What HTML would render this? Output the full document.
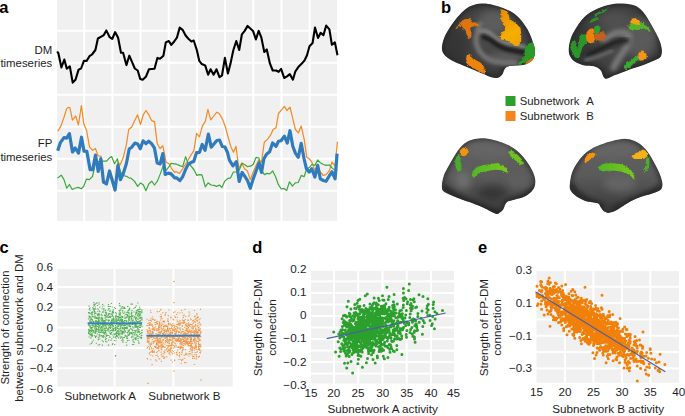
<!DOCTYPE html>
<html><head><meta charset="utf-8"><style>
html,body{margin:0;padding:0;background:#fff;width:685px;height:416px;overflow:hidden}
svg{display:block}
</style></head><body>
<svg width="685" height="416" viewBox="0 0 685 416">
<rect x="57" y="0" width="280" height="221" fill="#f0f0f0"/>
<rect x="83.20" y="0" width="2" height="221" fill="#ffffff"/>
<rect x="111.38" y="0" width="2" height="221" fill="#ffffff"/>
<rect x="139.56" y="0" width="2" height="221" fill="#ffffff"/>
<rect x="167.74" y="0" width="2" height="221" fill="#ffffff"/>
<rect x="195.92" y="0" width="2" height="221" fill="#ffffff"/>
<rect x="224.10" y="0" width="2" height="221" fill="#ffffff"/>
<rect x="252.28" y="0" width="2" height="221" fill="#ffffff"/>
<rect x="280.46" y="0" width="2" height="221" fill="#ffffff"/>
<rect x="308.64" y="0" width="2" height="221" fill="#ffffff"/>
<rect x="57" y="29.70" width="280" height="2" fill="#ffffff"/>
<rect x="57" y="61.70" width="280" height="2" fill="#ffffff"/>
<rect x="57" y="93.70" width="280" height="2" fill="#ffffff"/>
<rect x="57" y="125.70" width="280" height="2" fill="#ffffff"/>
<rect x="57" y="157.70" width="280" height="2" fill="#ffffff"/>
<rect x="57" y="189.70" width="280" height="2" fill="#ffffff"/>
<polyline points="57.5,131.0 58.4,130.5 61.0,125.6 64.0,117.2 66.7,108.6 68.2,107.4 70.0,107.9 72.4,120.2 75.7,116.0 78.4,125.0 81.4,105.5 83.8,123.8 86.6,130.5 89.5,146.9 92.6,150.3 95.5,148.6 98.2,156.0 101.0,156.1 103.5,180.0 106.4,182.0 109.4,172.0 112.4,178.0 115.2,186.0 117.8,162.0 120.2,164.8 123.4,157.0 126.3,145.2 128.7,129.5 131.7,127.0 134.8,120.3 137.6,114.9 140.5,124.5 143.2,114.9 146.0,110.5 148.9,114.9 151.6,120.6 154.5,121.6 157.3,143.8 160.0,148.5 162.9,145.8 166.1,162.3 169.0,163.8 171.8,168.8 174.7,172.4 176.0,171.4 179.4,173.4 182.7,168.8 185.6,164.0 188.0,160.2 190.9,155.1 193.8,150.8 196.6,133.4 199.5,136.8 202.3,126.1 205.4,121.1 207.9,109.3 210.7,119.9 213.8,116.0 216.8,112.2 219.2,113.5 222.6,119.4 225.4,127.0 228.1,137.1 231.0,147.2 233.5,152.2 236.0,146.3 238.8,168.8 241.7,163.0 244.5,168.8 247.4,171.0 250.3,179.6 252.8,173.1 255.8,166.0 258.7,160.0 261.5,162.0 264.3,142.2 267.6,139.1 270.4,135.4 273.1,129.5 276.0,127.8 278.5,113.5 281.5,109.8 284.4,106.4 286.9,110.5 290.0,107.1 292.8,118.6 295.4,129.5 298.4,132.9 301.2,126.1 304.1,138.8 306.8,157.3 309.3,159.0 311.8,162.0 314.9,170.4 317.7,166.0 320.3,172.0 323.3,175.5 326.1,174.6 329.5,170.4 332.0,162.0 335.1,166.2 337.4,141.8" fill="none" stroke="#f5891f" stroke-width="1.2" stroke-linejoin="round"/>
<polyline points="57.5,178.0 58.6,177.3 61.3,175.1 64.0,179.6 66.7,188.1 69.4,184.5 72.2,189.5 75.5,188.0 78.5,187.4 81.2,188.7 83.6,186.5 86.4,179.2 89.3,179.7 92.5,176.5 95.2,164.0 98.4,161.5 101.0,161.5 103.6,161.2 106.6,161.2 109.5,157.8 111.7,156.6 114.5,163.7 117.4,158.7 120.4,172.0 123.6,175.5 126.3,176.3 129.0,177.8 131.0,178.2 134.4,181.1 137.7,186.4 140.6,182.9 143.4,185.0 145.9,190.7 148.8,184.0 151.7,181.1 154.5,185.0 157.4,181.1 160.3,173.9 163.2,165.9 166.1,170.3 169.0,166.7 171.1,163.3 174.7,163.8 176.5,164.2 179.8,165.6 182.7,166.7 185.6,156.6 188.0,163.0 190.9,165.9 193.8,169.5 196.7,175.3 199.5,174.6 202.0,174.9 205.3,186.8 208.2,182.9 211.1,185.0 213.9,185.4 216.8,186.4 219.5,185.0 221.9,187.6 224.8,181.1 227.7,178.6 230.6,177.8 233.4,172.0 236.3,172.0 239.2,170.3 242.1,163.3 245.0,164.8 247.4,166.7 250.3,166.2 253.2,164.5 256.1,157.3 259.0,158.0 261.5,170.0 264.3,174.6 267.2,173.4 269.8,173.9 272.7,171.0 275.6,176.7 278.4,184.7 281.3,189.0 283.8,188.3 286.7,190.4 289.5,181.8 292.4,186.1 295.3,182.9 298.2,182.5 301.3,175.4 304.1,176.7 306.5,169.5 309.8,167.0 311.8,164.5 314.9,165.4 317.7,160.0 320.3,162.8 323.3,164.5 326.1,165.4 329.5,165.0 332.0,167.9 335.1,170.4 337.4,169.6" fill="none" stroke="#3aa83a" stroke-width="1.2" stroke-linejoin="round"/>
<polyline points="57.7,150.8 60.4,142.6 64.0,137.6 66.7,138.1 69.4,133.6 72.5,152.0 75.2,148.0 78.5,153.1 81.5,137.2 84.0,151.1 86.8,151.3 90.1,169.6 92.7,169.6 95.5,155.0 98.2,171.5 100.9,158.7 103.5,182.2 106.5,184.0 109.5,171.0 112.4,181.0 115.1,190.0 117.9,165.5 120.4,179.7 123.3,173.5 126.4,163.5 129.2,149.0 131.7,147.2 134.8,143.1 137.7,144.0 140.3,148.7 143.1,140.8 146.0,143.7 148.7,141.1 151.6,143.7 154.5,148.2 157.2,163.0 160.1,164.0 162.8,153.6 165.2,174.5 168.2,173.1 171.1,173.9 174.7,177.8 176.5,177.8 179.8,180.6 182.7,176.7 185.6,169.5 188.0,164.6 190.9,162.6 193.7,161.5 196.6,152.6 199.5,152.3 202.2,144.4 205.1,150.3 208.4,134.1 211.2,147.2 214.1,143.8 216.8,140.5 219.6,140.0 222.2,146.5 225.0,147.0 227.5,152.5 229.4,160.2 233.0,165.9 236.3,161.6 239.2,181.5 242.1,172.4 245.0,176.7 247.4,180.3 250.3,188.3 253.2,178.9 256.1,171.0 259.0,163.0 261.5,172.4 263.8,159.0 266.5,154.2 269.6,151.8 272.6,143.0 276.0,146.3 278.5,141.3 281.0,140.8 284.4,136.2 287.3,143.0 290.0,130.7 292.8,146.3 295.4,153.1 298.3,157.3 301.2,143.3 304.0,158.5 306.4,168.7 309.3,172.1 311.8,168.7 314.9,177.1 317.7,165.4 320.3,178.8 323.3,180.5 326.1,181.3 329.5,175.5 332.0,171.8 335.1,178.8 337.1,153.6" fill="none" stroke="#2f7bbd" stroke-width="3.2" stroke-linejoin="round"/>
<polyline points="57.2,51.5 58.4,53.3 61.4,67.5 64.3,59.5 66.8,68.8 69.8,66.3 72.7,82.6 75.5,79.7 78.6,69.6 81.1,68.5 83.9,60.9 86.6,60.9 89.5,56.2 92.0,54.5 95.4,50.0 97.9,38.5 100.8,36.8 103.8,35.1 106.3,30.4 109.7,37.2 112.2,39.0 115.1,32.1 118.1,37.7 121.0,52.8 123.1,52.8 126.4,65.1 129.3,55.7 132.1,62.1 134.8,68.5 137.7,70.5 140.2,78.9 142.7,79.7 146.1,76.4 148.9,69.3 151.7,69.0 154.5,68.8 157.4,57.9 160.0,58.7 163.4,55.8 165.8,42.4 168.8,41.0 171.3,44.9 174.2,41.5 176.9,37.7 179.7,27.6 182.6,29.8 185.6,35.5 188.4,38.8 191.4,41.5 193.7,40.5 196.8,50.0 199.3,60.9 201.8,64.1 205.2,65.4 208.1,74.7 210.6,69.3 213.6,74.7 216.5,69.3 219.5,77.2 222.0,75.5 224.9,57.9 227.9,73.5 230.4,64.1 233.3,50.3 236.3,41.0 239.2,50.0 241.9,34.3 244.7,30.9 247.6,25.9 250.6,28.7 253.0,30.9 255.9,39.4 258.7,30.9 261.4,37.7 264.3,52.0 266.8,49.4 269.9,63.4 272.7,70.5 276.1,70.5 278.6,71.8 281.1,68.8 284.2,78.0 287.0,76.4 289.9,74.2 292.9,79.7 295.4,71.3 298.3,67.1 301.3,64.1 304.5,60.5 307.0,55.3 309.5,46.3 312.6,43.0 315.0,27.5 318.0,38.0 320.7,32.8 323.4,35.2 326.2,25.6 329.4,29.4 331.9,44.8 334.9,42.4 337.5,55.3" fill="none" stroke="#000" stroke-width="2.1" stroke-linejoin="round"/>
<text x="52.3" y="54.3" text-anchor="end" style="font-family:'Liberation Sans', sans-serif;font-size:11.4px;fill:#1e1e1e">DM</text>
<text x="52.3" y="67.2" text-anchor="end" style="font-family:'Liberation Sans', sans-serif;font-size:11.4px;fill:#1e1e1e">timeseries</text>
<text x="52.3" y="146.9" text-anchor="end" style="font-family:'Liberation Sans', sans-serif;font-size:11.4px;fill:#1e1e1e">FP</text>
<text x="52.3" y="160.6" text-anchor="end" style="font-family:'Liberation Sans', sans-serif;font-size:11.4px;fill:#1e1e1e">timeseries</text>
<defs>
<filter id="bl2" x="-20%" y="-20%" width="140%" height="140%"><feGaussianBlur stdDeviation="2"/></filter>
<filter id="bl15" x="-20%" y="-20%" width="140%" height="140%"><feGaussianBlur stdDeviation="1.5"/></filter>
<filter id="bl1" x="-20%" y="-20%" width="140%" height="140%"><feGaussianBlur stdDeviation="1.1"/></filter>
<filter id="bl3" x="-30%" y="-30%" width="160%" height="160%"><feGaussianBlur stdDeviation="3.5"/></filter>
<filter id="rough" x="-10%" y="-10%" width="120%" height="120%"><feTurbulence type="fractalNoise" baseFrequency="0.45" numOctaves="2" seed="3" result="n"/><feDisplacementMap in="SourceGraphic" in2="n" scale="3" xChannelSelector="R" yChannelSelector="G" result="d"/><feGaussianBlur in="d" stdDeviation="0.3"/></filter>
<clipPath id="cp1"><path d="M441.9,48.3C441.9,45.7 442.6,42.0 443.9,38.5C445.2,35.0 447.5,31.2 449.8,27.6C452.1,24.0 455.1,19.9 457.7,16.8C460.3,13.7 463.0,10.9 465.6,8.9C468.2,6.9 470.5,5.8 473.5,4.9C476.5,4.0 480.1,3.6 483.4,3.6C486.7,3.6 489.9,4.2 493.2,4.9C496.5,5.6 499.8,6.6 503.1,7.9C506.4,9.2 510.1,10.8 513.0,12.8C516.0,14.8 518.3,16.9 520.8,19.7C523.2,22.5 525.7,26.0 527.7,29.6C529.7,33.2 531.5,38.0 532.7,41.4C533.9,44.8 534.8,47.3 535.0,50.0C535.2,52.7 534.7,55.6 534.0,57.5C533.3,59.4 532.4,60.4 531.0,61.5C529.6,62.6 527.9,63.7 525.4,64.4C522.9,65.1 518.7,65.2 515.8,65.6C512.9,66.0 509.9,65.9 508.0,66.6C506.1,67.2 505.4,68.3 504.5,69.5C503.6,70.7 503.5,72.7 502.6,74.0C501.8,75.3 500.7,76.5 499.4,77.2C498.1,77.9 496.7,78.1 495.0,78.0C493.3,77.9 490.9,77.2 489.0,76.5C487.1,75.8 486.3,75.2 483.4,74.0C480.5,72.8 475.4,70.7 471.5,69.0C467.6,67.3 463.3,65.7 459.7,64.1C456.1,62.5 452.4,60.9 449.8,59.2C447.2,57.6 445.2,56.0 443.9,54.2C442.6,52.4 441.9,50.9 441.9,48.3Z"/></clipPath>
<clipPath id="cp2"><path d="M568.8,48.1C569.0,45.2 569.7,41.7 570.8,38.5C571.9,35.3 573.7,32.0 575.6,28.8C577.5,25.6 579.9,21.9 582.3,19.2C584.7,16.5 587.1,14.4 590.0,12.5C592.9,10.6 596.4,9.0 599.6,7.7C602.8,6.4 605.8,5.5 609.2,4.8C612.6,4.1 616.1,3.6 620.0,3.6C623.9,3.6 629.0,3.9 632.3,4.8C635.6,5.6 637.8,6.9 640.0,8.7C642.2,10.5 643.9,12.7 645.8,15.4C647.7,18.1 649.8,21.9 651.5,25.0C653.2,28.1 654.8,30.8 656.3,33.7C657.8,36.6 659.3,39.6 660.2,42.3C661.1,45.0 661.7,47.8 661.9,50.0C662.1,52.2 661.8,54.3 661.2,55.8C660.6,57.2 660.2,57.6 658.3,58.7C656.4,59.8 652.6,61.2 649.6,62.5C646.6,63.8 643.2,65.2 640.0,66.3C636.8,67.4 633.6,68.1 630.4,69.2C627.2,70.3 623.9,71.9 620.8,73.1C617.7,74.3 614.4,75.5 612.0,76.5C609.6,77.5 607.8,78.8 606.3,78.8C604.8,78.8 604.2,77.9 603.3,76.5C602.3,75.1 602.2,71.9 600.6,70.2C599.0,68.5 596.5,67.1 593.8,66.3C591.1,65.5 587.4,66.2 584.2,65.4C581.0,64.6 577.0,63.1 574.6,61.5C572.2,59.9 570.8,58.0 569.8,55.8C568.8,53.6 568.6,51.0 568.8,48.1Z"/></clipPath>
<clipPath id="cp3"><path d="M441.9,185.0C442.0,182.4 442.7,178.6 443.8,175.4C444.9,172.2 446.8,169.3 448.7,165.8C450.6,162.3 453.3,157.4 455.4,154.2C457.5,151.0 459.0,148.7 461.2,146.5C463.4,144.3 465.9,142.1 468.8,140.8C471.7,139.5 475.3,138.8 478.5,138.5C481.7,138.2 484.6,138.3 488.1,138.8C491.6,139.3 496.1,140.6 499.6,141.7C503.1,142.8 506.0,143.8 509.2,145.6C512.4,147.4 515.9,149.7 518.8,152.3C521.7,154.9 524.2,157.9 526.5,161.0C528.8,164.1 530.8,167.6 532.3,170.6C533.8,173.6 534.8,176.6 535.2,179.2C535.6,181.8 535.4,183.9 534.8,186.0C534.1,188.1 533.0,189.9 531.3,191.7C529.6,193.4 527.3,195.2 524.6,196.5C521.9,197.8 517.7,198.6 515.0,199.4C512.3,200.2 509.9,200.5 508.3,201.3C506.7,202.1 506.2,202.9 505.4,204.2C504.6,205.5 504.3,207.7 503.5,209.0C502.7,210.3 501.9,211.2 500.6,212.0C499.3,212.8 498.5,214.5 495.8,213.8C493.1,213.2 488.1,209.8 484.2,208.1C480.3,206.3 476.9,204.9 472.7,203.3C468.5,201.7 463.4,200.1 459.2,198.5C455.0,196.9 450.4,195.0 447.7,193.7C445.0,192.4 443.9,192.2 442.9,190.8C441.9,189.4 441.8,187.6 441.9,185.0Z"/></clipPath>
<clipPath id="cp4"><path d="M569.8,185.0C569.9,182.1 570.6,177.0 571.7,173.5C572.8,170.0 574.4,167.0 576.5,163.8C578.6,160.6 581.3,156.9 584.2,154.2C587.1,151.5 590.6,149.2 593.8,147.5C597.0,145.8 600.3,144.8 603.5,143.7C606.7,142.6 609.6,141.6 613.1,140.8C616.6,140.0 621.1,138.8 624.6,138.8C628.1,138.8 631.3,139.7 634.2,140.8C637.1,141.9 639.5,143.5 641.9,145.6C644.3,147.7 646.6,150.4 648.7,153.3C650.8,156.2 652.6,159.7 654.4,162.9C656.1,166.1 657.9,169.4 659.2,172.5C660.5,175.6 661.6,178.8 662.1,181.2C662.6,183.6 662.6,185.3 662.1,186.9C661.6,188.5 661.0,189.7 659.2,190.8C657.4,191.9 654.4,192.8 651.5,193.7C648.6,194.6 645.1,195.4 641.9,196.5C638.7,197.6 635.5,198.8 632.3,200.4C629.1,202.0 625.6,204.4 622.7,206.2C619.8,208.0 617.4,209.9 615.0,211.0C612.6,212.1 610.2,212.9 608.3,212.9C606.4,212.9 604.8,212.0 603.5,211.0C602.2,210.0 601.6,208.4 600.6,207.1C599.6,205.8 600.1,204.3 597.7,203.3C595.3,202.3 589.7,202.4 586.2,201.3C582.7,200.2 579.1,198.2 576.5,196.5C573.9,194.8 571.9,192.7 570.8,190.8C569.7,188.9 569.6,187.9 569.8,185.0Z"/></clipPath>
<radialGradient id="rg1" cx="0.55" cy="0.4" r="0.65"><stop offset="0" stop-color="#4e4e4e"/><stop offset="0.6" stop-color="#424242"/><stop offset="1" stop-color="#363636"/></radialGradient>
<linearGradient id="lg3" x1="0" y1="0" x2="0" y2="1"><stop offset="0" stop-color="#646464"/><stop offset="0.5" stop-color="#5a5a5a"/><stop offset="1" stop-color="#383838"/></linearGradient>
<linearGradient id="og2" x1="0" y1="0" x2="0.4" y2="1"><stop offset="0" stop-color="#e98a06"/><stop offset="0.75" stop-color="#f6ae04"/><stop offset="1" stop-color="#f3a600"/></linearGradient>
<linearGradient id="glg" x1="0" y1="0" x2="1" y2="0"><stop offset="0" stop-color="#52b628"/><stop offset="1" stop-color="#7ac81a"/></linearGradient>
</defs>
<g clip-path="url(#cp1)">
<path d="M441.9,48.3C441.9,45.7 442.6,42.0 443.9,38.5C445.2,35.0 447.5,31.2 449.8,27.6C452.1,24.0 455.1,19.9 457.7,16.8C460.3,13.7 463.0,10.9 465.6,8.9C468.2,6.9 470.5,5.8 473.5,4.9C476.5,4.0 480.1,3.6 483.4,3.6C486.7,3.6 489.9,4.2 493.2,4.9C496.5,5.6 499.8,6.6 503.1,7.9C506.4,9.2 510.1,10.8 513.0,12.8C516.0,14.8 518.3,16.9 520.8,19.7C523.2,22.5 525.7,26.0 527.7,29.6C529.7,33.2 531.5,38.0 532.7,41.4C533.9,44.8 534.8,47.3 535.0,50.0C535.2,52.7 534.7,55.6 534.0,57.5C533.3,59.4 532.4,60.4 531.0,61.5C529.6,62.6 527.9,63.7 525.4,64.4C522.9,65.1 518.7,65.2 515.8,65.6C512.9,66.0 509.9,65.9 508.0,66.6C506.1,67.2 505.4,68.3 504.5,69.5C503.6,70.7 503.5,72.7 502.6,74.0C501.8,75.3 500.7,76.5 499.4,77.2C498.1,77.9 496.7,78.1 495.0,78.0C493.3,77.9 490.9,77.2 489.0,76.5C487.1,75.8 486.3,75.2 483.4,74.0C480.5,72.8 475.4,70.7 471.5,69.0C467.6,67.3 463.3,65.7 459.7,64.1C456.1,62.5 452.4,60.9 449.8,59.2C447.2,57.6 445.2,56.0 443.9,54.2C442.6,52.4 441.9,50.9 441.9,48.3Z" fill="url(#rg1)"/>
<path d="M441.9,48.3C441.9,45.7 442.6,42.0 443.9,38.5C445.2,35.0 447.5,31.2 449.8,27.6C452.1,24.0 455.1,19.9 457.7,16.8C460.3,13.7 463.0,10.9 465.6,8.9C468.2,6.9 470.5,5.8 473.5,4.9C476.5,4.0 480.1,3.6 483.4,3.6C486.7,3.6 489.9,4.2 493.2,4.9C496.5,5.6 499.8,6.6 503.1,7.9C506.4,9.2 510.1,10.8 513.0,12.8C516.0,14.8 518.3,16.9 520.8,19.7C523.2,22.5 525.7,26.0 527.7,29.6C529.7,33.2 531.5,38.0 532.7,41.4C533.9,44.8 534.8,47.3 535.0,50.0C535.2,52.7 534.7,55.6 534.0,57.5C533.3,59.4 532.4,60.4 531.0,61.5C529.6,62.6 527.9,63.7 525.4,64.4C522.9,65.1 518.7,65.2 515.8,65.6C512.9,66.0 509.9,65.9 508.0,66.6C506.1,67.2 505.4,68.3 504.5,69.5C503.6,70.7 503.5,72.7 502.6,74.0C501.8,75.3 500.7,76.5 499.4,77.2C498.1,77.9 496.7,78.1 495.0,78.0C493.3,77.9 490.9,77.2 489.0,76.5C487.1,75.8 486.3,75.2 483.4,74.0C480.5,72.8 475.4,70.7 471.5,69.0C467.6,67.3 463.3,65.7 459.7,64.1C456.1,62.5 452.4,60.9 449.8,59.2C447.2,57.6 445.2,56.0 443.9,54.2C442.6,52.4 441.9,50.9 441.9,48.3Z" fill="none" stroke="#262626" stroke-width="6" filter="url(#bl2)" opacity="0.75"/>
<ellipse cx="456" cy="46" rx="13" ry="18" fill="#2e2e2e" filter="url(#bl3)" opacity="0.55"/>
<ellipse cx="494" cy="22" rx="16" ry="12" fill="#5e5e5e" filter="url(#bl3)" opacity="0.9"/>
<ellipse cx="505" cy="58" rx="18" ry="6" fill="#5e5e5e" filter="url(#bl3)" opacity="0.9"/>
<path d="M480,24 C478,30 475,37 476.5,44 C478,51 482,56 490,60 C497,62.5 506,63 515,63" fill="none" stroke="#707070" stroke-width="5.5" stroke-linecap="round" filter="url(#bl15)"/>
<path d="M480,31 C485,30 489,32 492,35 C496,39 502,42 508,43.5 C513,44.5 518,45.5 524,47" fill="none" stroke="#7e7e7e" stroke-width="4.4" stroke-linecap="round" filter="url(#bl15)"/>
<path d="M483.5,37 C487.5,38 490,39.5 492.5,41.5 C496.5,45 502,48 508,49.5 C514,51 519,51.5 525,52.5" fill="none" stroke="#1d1d1d" stroke-width="4.4" stroke-linecap="round" filter="url(#bl15)"/>
<g filter="url(#rough)">
<path d="M455.3,29.2 L457.2,26.3 L459.6,23.5 L462.0,21.1 L464.4,19.6 L466.8,19.1 L468.3,18.2 L470.7,17.9 L470.7,20.6 L472.1,22.5 L475.0,22.3 L477.4,23.0 L478.8,24.9 L477.9,26.3 L474.5,26.3 L471.6,26.8 L470.2,28.3 L470.7,30.7 L471.6,33.1 L471.2,36.0 L470.7,38.4 L468.8,38.8 L467.8,36.9 L466.8,34.5 L465.4,32.1 L464.4,29.7 L462.5,26.8 L460.6,25.4 L458.7,26.8 L456.7,28.8Z" fill="#de760c"/><path d="M500.4,9.2 L504.2,10.0 L507.7,11.9 L508.9,15.7 L509.7,19.3 L513.3,21.5 L517.6,25.1 L520.5,28.0 L521.2,33.8 L521.2,41.0 L519.8,45.3 L516.2,46.0 L512.6,43.9 L509.7,41.7 L506.1,40.3 L501.0,39.5 L499.6,36.6 L501.0,32.3 L504.6,30.9 L505.4,26.5 L502.5,22.9 L501.0,19.3 L501.5,15.0 L500.6,12.0Z" fill="url(#og2)"/><path d="M524.8,49.6 L527.0,44.6 L530.0,43.1 L533.0,42.3 L535.5,45.0 L536.0,52.0 L534.5,57.0 L531.0,60.0 L527.7,61.5 L523.4,63.3 L519.0,65.5 L517.6,64.1 L520.6,60.6 L523.5,57.7 L524.4,53.8Z" fill="#2b992b"/><path d="M528.5,60.5 L533.0,57.5 L534.0,61.0 L529.0,64.5 L524.4,65.5 L525.0,63.3Z" fill="#d87a12"/><path d="M466.9,54.8 L469.8,54.2 L471.7,57.7 L476.5,60.6 L480.4,62.5 L483.3,65.5 L485.2,71.2 L484.8,74.1 L480.4,72.1 L475.6,69.2 L470.8,67.3 L466.9,63.5 L466.0,58.7Z" fill="#ec840e"/>
</g></g>
<g clip-path="url(#cp2)">
<path d="M568.8,48.1C569.0,45.2 569.7,41.7 570.8,38.5C571.9,35.3 573.7,32.0 575.6,28.8C577.5,25.6 579.9,21.9 582.3,19.2C584.7,16.5 587.1,14.4 590.0,12.5C592.9,10.6 596.4,9.0 599.6,7.7C602.8,6.4 605.8,5.5 609.2,4.8C612.6,4.1 616.1,3.6 620.0,3.6C623.9,3.6 629.0,3.9 632.3,4.8C635.6,5.6 637.8,6.9 640.0,8.7C642.2,10.5 643.9,12.7 645.8,15.4C647.7,18.1 649.8,21.9 651.5,25.0C653.2,28.1 654.8,30.8 656.3,33.7C657.8,36.6 659.3,39.6 660.2,42.3C661.1,45.0 661.7,47.8 661.9,50.0C662.1,52.2 661.8,54.3 661.2,55.8C660.6,57.2 660.2,57.6 658.3,58.7C656.4,59.8 652.6,61.2 649.6,62.5C646.6,63.8 643.2,65.2 640.0,66.3C636.8,67.4 633.6,68.1 630.4,69.2C627.2,70.3 623.9,71.9 620.8,73.1C617.7,74.3 614.4,75.5 612.0,76.5C609.6,77.5 607.8,78.8 606.3,78.8C604.8,78.8 604.2,77.9 603.3,76.5C602.3,75.1 602.2,71.9 600.6,70.2C599.0,68.5 596.5,67.1 593.8,66.3C591.1,65.5 587.4,66.2 584.2,65.4C581.0,64.6 577.0,63.1 574.6,61.5C572.2,59.9 570.8,58.0 569.8,55.8C568.8,53.6 568.6,51.0 568.8,48.1Z" fill="url(#rg1)"/>
<path d="M568.8,48.1C569.0,45.2 569.7,41.7 570.8,38.5C571.9,35.3 573.7,32.0 575.6,28.8C577.5,25.6 579.9,21.9 582.3,19.2C584.7,16.5 587.1,14.4 590.0,12.5C592.9,10.6 596.4,9.0 599.6,7.7C602.8,6.4 605.8,5.5 609.2,4.8C612.6,4.1 616.1,3.6 620.0,3.6C623.9,3.6 629.0,3.9 632.3,4.8C635.6,5.6 637.8,6.9 640.0,8.7C642.2,10.5 643.9,12.7 645.8,15.4C647.7,18.1 649.8,21.9 651.5,25.0C653.2,28.1 654.8,30.8 656.3,33.7C657.8,36.6 659.3,39.6 660.2,42.3C661.1,45.0 661.7,47.8 661.9,50.0C662.1,52.2 661.8,54.3 661.2,55.8C660.6,57.2 660.2,57.6 658.3,58.7C656.4,59.8 652.6,61.2 649.6,62.5C646.6,63.8 643.2,65.2 640.0,66.3C636.8,67.4 633.6,68.1 630.4,69.2C627.2,70.3 623.9,71.9 620.8,73.1C617.7,74.3 614.4,75.5 612.0,76.5C609.6,77.5 607.8,78.8 606.3,78.8C604.8,78.8 604.2,77.9 603.3,76.5C602.3,75.1 602.2,71.9 600.6,70.2C599.0,68.5 596.5,67.1 593.8,66.3C591.1,65.5 587.4,66.2 584.2,65.4C581.0,64.6 577.0,63.1 574.6,61.5C572.2,59.9 570.8,58.0 569.8,55.8C568.8,53.6 568.6,51.0 568.8,48.1Z" fill="none" stroke="#262626" stroke-width="6" filter="url(#bl2)" opacity="0.75"/>
<ellipse cx="580" cy="42" rx="12" ry="18" fill="#2e2e2e" filter="url(#bl3)" opacity="0.5"/>
<ellipse cx="640" cy="38" rx="16" ry="20" fill="#5c5c5c" filter="url(#bl3)" opacity="0.9"/>
<ellipse cx="615" cy="20" rx="14" ry="8" fill="#555" filter="url(#bl3)" opacity="0.7"/>
<path d="M604,41 C608,37 612,34 616,32.8 C620,31.8 625,31.6 628.5,35 C630,38 629,42 627.5,45 C625,50 622,54 619,58 C617,61 615,64 613.5,68" fill="none" stroke="#7c7c7c" stroke-width="6" stroke-linecap="round" filter="url(#bl2)"/>
<path d="M588,55 C596,51 604,47.5 611,44 C616,41.5 621,40 627,40.5" fill="none" stroke="#1c1c1c" stroke-width="5" stroke-linecap="round" filter="url(#bl2)"/>
<path d="M586,60 C594,58 603,55 612,51" fill="none" stroke="#686868" stroke-width="3.5" stroke-linecap="round" filter="url(#bl15)"/>
<g filter="url(#rough)">
<path d="M594.1,14.6 L600.3,11.2 L605.8,8.8 L608.0,8.5 L607.1,10.2 L604.4,11.9 L599.6,13.9 L595.5,16.0Z" fill="#2a932a"/>
<path d="M589.3,21.4 L592.7,18.7 L597.5,17.3 L599.6,18.7 L596.8,20.1 L592.7,22.1 L590.0,22.8Z" fill="#2a932a"/>
<path d="M579.7,35.8 L582.4,34.5 L585.2,34.9 L586.6,37.2 L587.2,41.3 L586.6,43.4 L584.5,44.8 L582.4,47.5 L581.1,51.6 L579.7,55.7 L578.3,58.5 L575.6,57.8 L573.5,55.7 L572.2,52.3 L570.8,48.9 L570.8,43.4 L572.2,40.6 L574.2,40.0 L575.6,41.3 L576.3,46.1 L577.0,48.9 L578.3,46.1 L579.0,42.0 L579.0,38.6Z" fill="#2a962a"/>
<path d="M594.1,27.6 L596.2,25.6 L598.9,25.6 L600.3,28.3 L599.6,31.7 L597.5,33.8 L595.5,34.5 L594.1,32.4Z" fill="#2fa02f"/>
<path d="M586.6,32.4 L589.3,29.0 L592.7,28.3 L594.1,30.4 L594.1,34.5 L594.8,38.6 L594.1,42.0 L591.4,43.4 L588.6,42.7 L586.6,40.6 L585.9,36.5Z" fill="#ee800c"/>
<path d="M594.1,34.5 L597.5,33.1 L601.0,32.1 L604.4,32.4 L605.1,35.8 L604.4,40.6 L601.0,41.3 L597.5,40.0 L594.8,39.3Z" fill="#c4601c"/>
<path d="M628.1,26.4 L630.3,23.6 L633.9,23.3 L638.2,22.8 L641.1,22.1 L644.0,24.3 L646.9,26.4 L649.0,28.6 L650.5,31.5 L649.0,31.5 L646.2,29.3 L643.3,28.6 L641.1,29.3 L638.2,30.1 L634.6,30.1 L631.7,30.8 L629.6,29.0Z" fill="#52b42a"/>
<path d="M630.3,21.4 L632.4,18.5 L635.3,18.1 L637.5,19.9 L639.7,20.7 L640.4,22.8 L638.9,24.7 L636.0,24.7 L632.4,23.6 L630.7,23.3Z" fill="#f4a012"/>
<path d="M623.8,68.3 L624.5,64.7 L627.4,62.5 L631.0,60.4 L633.2,58.2 L635.3,56.8 L638.2,55.3 L639.7,57.5 L638.9,59.7 L635.3,61.8 L632.4,64.7 L629.6,67.6 L626.7,69.0Z" fill="#3aa830"/>
<path d="M638.2,53.9 L640.4,51.0 L642.5,50.3 L644.0,52.4 L646.2,54.6 L646.9,56.8 L645.4,58.9 L642.5,60.4 L639.7,60.4 L638.2,58.2 L637.5,56.0Z" fill="#f49612"/>
</g></g>
<g clip-path="url(#cp3)">
<path d="M441.9,185.0C442.0,182.4 442.7,178.6 443.8,175.4C444.9,172.2 446.8,169.3 448.7,165.8C450.6,162.3 453.3,157.4 455.4,154.2C457.5,151.0 459.0,148.7 461.2,146.5C463.4,144.3 465.9,142.1 468.8,140.8C471.7,139.5 475.3,138.8 478.5,138.5C481.7,138.2 484.6,138.3 488.1,138.8C491.6,139.3 496.1,140.6 499.6,141.7C503.1,142.8 506.0,143.8 509.2,145.6C512.4,147.4 515.9,149.7 518.8,152.3C521.7,154.9 524.2,157.9 526.5,161.0C528.8,164.1 530.8,167.6 532.3,170.6C533.8,173.6 534.8,176.6 535.2,179.2C535.6,181.8 535.4,183.9 534.8,186.0C534.1,188.1 533.0,189.9 531.3,191.7C529.6,193.4 527.3,195.2 524.6,196.5C521.9,197.8 517.7,198.6 515.0,199.4C512.3,200.2 509.9,200.5 508.3,201.3C506.7,202.1 506.2,202.9 505.4,204.2C504.6,205.5 504.3,207.7 503.5,209.0C502.7,210.3 501.9,211.2 500.6,212.0C499.3,212.8 498.5,214.5 495.8,213.8C493.1,213.2 488.1,209.8 484.2,208.1C480.3,206.3 476.9,204.9 472.7,203.3C468.5,201.7 463.4,200.1 459.2,198.5C455.0,196.9 450.4,195.0 447.7,193.7C445.0,192.4 443.9,192.2 442.9,190.8C441.9,189.4 441.8,187.6 441.9,185.0Z" fill="url(#lg3)"/>
<path d="M441.9,185.0C442.0,182.4 442.7,178.6 443.8,175.4C444.9,172.2 446.8,169.3 448.7,165.8C450.6,162.3 453.3,157.4 455.4,154.2C457.5,151.0 459.0,148.7 461.2,146.5C463.4,144.3 465.9,142.1 468.8,140.8C471.7,139.5 475.3,138.8 478.5,138.5C481.7,138.2 484.6,138.3 488.1,138.8C491.6,139.3 496.1,140.6 499.6,141.7C503.1,142.8 506.0,143.8 509.2,145.6C512.4,147.4 515.9,149.7 518.8,152.3C521.7,154.9 524.2,157.9 526.5,161.0C528.8,164.1 530.8,167.6 532.3,170.6C533.8,173.6 534.8,176.6 535.2,179.2C535.6,181.8 535.4,183.9 534.8,186.0C534.1,188.1 533.0,189.9 531.3,191.7C529.6,193.4 527.3,195.2 524.6,196.5C521.9,197.8 517.7,198.6 515.0,199.4C512.3,200.2 509.9,200.5 508.3,201.3C506.7,202.1 506.2,202.9 505.4,204.2C504.6,205.5 504.3,207.7 503.5,209.0C502.7,210.3 501.9,211.2 500.6,212.0C499.3,212.8 498.5,214.5 495.8,213.8C493.1,213.2 488.1,209.8 484.2,208.1C480.3,206.3 476.9,204.9 472.7,203.3C468.5,201.7 463.4,200.1 459.2,198.5C455.0,196.9 450.4,195.0 447.7,193.7C445.0,192.4 443.9,192.2 442.9,190.8C441.9,189.4 441.8,187.6 441.9,185.0Z" fill="none" stroke="#2c2c2c" stroke-width="5" filter="url(#bl2)" opacity="0.7"/>
<ellipse cx="463" cy="180" rx="8" ry="9" fill="#6e6e6e" filter="url(#bl3)"/>
<ellipse cx="490" cy="150" rx="22" ry="8" fill="#666" filter="url(#bl3)" opacity="0.8"/>
<ellipse cx="518" cy="180" rx="12" ry="9" fill="#5e5e5e" filter="url(#bl3)"/>
<ellipse cx="492" cy="193" rx="14" ry="7" fill="#333" filter="url(#bl3)" opacity="0.8"/>
<path d="M444,186 C452,196 470,204 500,214" fill="none" stroke="#262626" stroke-width="5" filter="url(#bl2)"/>
<path d="M505,206 C515,200 528,196 536,188" fill="none" stroke="#2a2a2a" stroke-width="5" filter="url(#bl2)"/>
<g filter="url(#rough)">
<path d="M471.7,175.4 L472.6,171.5 L475.5,168.2 L482.3,165.3 L490.0,164.0 L497.7,163.0 L503.5,165.5 L507.3,168.7 L508.5,172.8 L505.4,172.0 L501.5,170.2 L495.8,169.8 L490.0,170.6 L482.3,172.0 L477.0,174.5 L474.0,178.0Z" fill="url(#glg)"/>
<path d="M508.3,152.3 L511.2,150.4 L516.9,154.2 L521.7,159.0 L523.0,164.3 L519.8,165.0 L516.0,161.0 L511.2,157.1Z" fill="#6ec21e"/>
<path d="M456.3,157.1 L459.2,154.2 L460.5,160.0 L461.6,166.7 L460.6,172.0 L457.3,171.5 L455.4,165.8 L455.0,161.0Z" fill="#48ac2a"/>
<path d="M459.8,150.4 L463.1,147.6 L467.2,148.5 L468.8,151.9 L466.0,155.5 L462.1,156.0 L459.8,153.3Z" fill="#f29410"/>
</g></g>
<g clip-path="url(#cp4)">
<path d="M569.8,185.0C569.9,182.1 570.6,177.0 571.7,173.5C572.8,170.0 574.4,167.0 576.5,163.8C578.6,160.6 581.3,156.9 584.2,154.2C587.1,151.5 590.6,149.2 593.8,147.5C597.0,145.8 600.3,144.8 603.5,143.7C606.7,142.6 609.6,141.6 613.1,140.8C616.6,140.0 621.1,138.8 624.6,138.8C628.1,138.8 631.3,139.7 634.2,140.8C637.1,141.9 639.5,143.5 641.9,145.6C644.3,147.7 646.6,150.4 648.7,153.3C650.8,156.2 652.6,159.7 654.4,162.9C656.1,166.1 657.9,169.4 659.2,172.5C660.5,175.6 661.6,178.8 662.1,181.2C662.6,183.6 662.6,185.3 662.1,186.9C661.6,188.5 661.0,189.7 659.2,190.8C657.4,191.9 654.4,192.8 651.5,193.7C648.6,194.6 645.1,195.4 641.9,196.5C638.7,197.6 635.5,198.8 632.3,200.4C629.1,202.0 625.6,204.4 622.7,206.2C619.8,208.0 617.4,209.9 615.0,211.0C612.6,212.1 610.2,212.9 608.3,212.9C606.4,212.9 604.8,212.0 603.5,211.0C602.2,210.0 601.6,208.4 600.6,207.1C599.6,205.8 600.1,204.3 597.7,203.3C595.3,202.3 589.7,202.4 586.2,201.3C582.7,200.2 579.1,198.2 576.5,196.5C573.9,194.8 571.9,192.7 570.8,190.8C569.7,188.9 569.6,187.9 569.8,185.0Z" fill="url(#lg3)"/>
<path d="M569.8,185.0C569.9,182.1 570.6,177.0 571.7,173.5C572.8,170.0 574.4,167.0 576.5,163.8C578.6,160.6 581.3,156.9 584.2,154.2C587.1,151.5 590.6,149.2 593.8,147.5C597.0,145.8 600.3,144.8 603.5,143.7C606.7,142.6 609.6,141.6 613.1,140.8C616.6,140.0 621.1,138.8 624.6,138.8C628.1,138.8 631.3,139.7 634.2,140.8C637.1,141.9 639.5,143.5 641.9,145.6C644.3,147.7 646.6,150.4 648.7,153.3C650.8,156.2 652.6,159.7 654.4,162.9C656.1,166.1 657.9,169.4 659.2,172.5C660.5,175.6 661.6,178.8 662.1,181.2C662.6,183.6 662.6,185.3 662.1,186.9C661.6,188.5 661.0,189.7 659.2,190.8C657.4,191.9 654.4,192.8 651.5,193.7C648.6,194.6 645.1,195.4 641.9,196.5C638.7,197.6 635.5,198.8 632.3,200.4C629.1,202.0 625.6,204.4 622.7,206.2C619.8,208.0 617.4,209.9 615.0,211.0C612.6,212.1 610.2,212.9 608.3,212.9C606.4,212.9 604.8,212.0 603.5,211.0C602.2,210.0 601.6,208.4 600.6,207.1C599.6,205.8 600.1,204.3 597.7,203.3C595.3,202.3 589.7,202.4 586.2,201.3C582.7,200.2 579.1,198.2 576.5,196.5C573.9,194.8 571.9,192.7 570.8,190.8C569.7,188.9 569.6,187.9 569.8,185.0Z" fill="none" stroke="#2c2c2c" stroke-width="5" filter="url(#bl2)" opacity="0.7"/>
<ellipse cx="612" cy="150" rx="22" ry="8" fill="#666" filter="url(#bl3)" opacity="0.8"/>
<ellipse cx="620" cy="183" rx="16" ry="9" fill="#646464" filter="url(#bl3)"/>
<path d="M571,184 C576,196 590,202 603,208" fill="none" stroke="#262626" stroke-width="5" filter="url(#bl2)"/>
<path d="M612,210 C630,202 650,195 662,186" fill="none" stroke="#2a2a2a" stroke-width="5" filter="url(#bl2)"/>
<g filter="url(#rough)">
<path d="M598.7,167.0 L600.6,164.8 L605.4,163.6 L613.1,163.2 L620.8,164.0 L626.5,166.5 L631.3,170.4 L634.4,175.4 L633.5,179.5 L631.3,176.5 L627.5,173.7 L621.7,171.7 L615.0,170.8 L606.3,170.8 L602.5,171.8 L599.2,170.0Z" fill="url(#glg)"/>
<path d="M584.2,161.0 L586.2,156.2 L590.0,153.3 L593.8,152.3 L595.6,154.2 L593.8,157.3 L589.0,160.2 L585.2,163.0Z" fill="#f29410"/>
<path d="M631.3,156.2 L635.2,153.3 L639.0,151.9 L642.9,149.4 L645.4,150.4 L648.1,154.2 L646.7,157.1 L643.8,159.0 L639.0,159.0 L634.2,159.0Z" fill="#f5b012"/>
<path d="M646.7,157.1 L649.2,159.0 L649.6,164.8 L647.7,170.6 L644.8,172.5 L643.5,169.6 L645.8,165.8 L645.8,161.0Z" fill="#4caf2a"/>
</g></g>
<rect x="505.5" y="96" width="10" height="10" fill="#2ca02c"/>
<rect x="505.5" y="111" width="10" height="10" fill="#f58518"/>
<text x="519.8" y="105.2" text-anchor="start"  style="font-family:'Liberation Sans', sans-serif;font-size:11.3px;fill:#1e1e1e">Subnetwork</text>
<text x="586.2" y="105.2" text-anchor="start"  style="font-family:'Liberation Sans', sans-serif;font-size:11.3px;fill:#1e1e1e">A</text>
<text x="519.8" y="119.8" text-anchor="start"  style="font-family:'Liberation Sans', sans-serif;font-size:11.3px;fill:#1e1e1e">Subnetwork</text>
<text x="586.2" y="119.8" text-anchor="start"  style="font-family:'Liberation Sans', sans-serif;font-size:11.3px;fill:#1e1e1e">B</text>
<rect x="57.4" y="269" width="175.3" height="117.6" fill="#f0f0f0"/>
<rect x="113.6" y="269" width="2" height="117.6" fill="#ffffff"/>
<rect x="172.4" y="269" width="2" height="117.6" fill="#ffffff"/>
<rect x="57.4" y="286.0" width="175.3" height="2" fill="#ffffff"/>
<rect x="57.4" y="306.3" width="175.3" height="2" fill="#ffffff"/>
<rect x="57.4" y="326.6" width="175.3" height="2" fill="#ffffff"/>
<rect x="57.4" y="347.0" width="175.3" height="2" fill="#ffffff"/>
<rect x="57.4" y="367.3" width="175.3" height="2" fill="#ffffff"/>
<text x="52.9" y="270.7" text-anchor="end"  style="font-family:'Liberation Sans', sans-serif;font-size:11.7px;fill:#1e1e1e">0.6</text>
<text x="52.9" y="291.0" text-anchor="end"  style="font-family:'Liberation Sans', sans-serif;font-size:11.7px;fill:#1e1e1e">0.4</text>
<text x="52.9" y="311.3" text-anchor="end"  style="font-family:'Liberation Sans', sans-serif;font-size:11.7px;fill:#1e1e1e">0.2</text>
<text x="52.9" y="331.6" text-anchor="end"  style="font-family:'Liberation Sans', sans-serif;font-size:11.7px;fill:#1e1e1e">0</text>
<text x="52.9" y="352.0" text-anchor="end"  style="font-family:'Liberation Sans', sans-serif;font-size:11.7px;fill:#1e1e1e">−0.2</text>
<text x="52.9" y="372.3" text-anchor="end"  style="font-family:'Liberation Sans', sans-serif;font-size:11.7px;fill:#1e1e1e">−0.4</text>
<text x="52.9" y="392.6" text-anchor="end"  style="font-family:'Liberation Sans', sans-serif;font-size:11.7px;fill:#1e1e1e">−0.6</text>
<path d="M121.5 334.0h1.1v1.1h-1.1zM136.1 325.9h1.1v1.1h-1.1zM129.6 325.5h1.1v1.1h-1.1zM99.9 321.7h1.1v1.1h-1.1zM103.9 320.7h1.1v1.1h-1.1zM134.9 325.3h1.1v1.1h-1.1zM88.0 312.3h1.1v1.1h-1.1zM132.0 343.9h1.1v1.1h-1.1zM130.7 323.3h1.1v1.1h-1.1zM113.0 330.2h1.1v1.1h-1.1zM104.1 322.0h1.1v1.1h-1.1zM102.7 321.1h1.1v1.1h-1.1zM101.5 332.1h1.1v1.1h-1.1zM111.7 329.5h1.1v1.1h-1.1zM114.9 315.6h1.1v1.1h-1.1zM117.6 319.9h1.1v1.1h-1.1zM141.5 329.8h1.1v1.1h-1.1zM130.5 303.6h1.1v1.1h-1.1zM141.1 337.4h1.1v1.1h-1.1zM99.3 320.4h1.1v1.1h-1.1zM120.8 315.7h1.1v1.1h-1.1zM90.1 321.1h1.1v1.1h-1.1zM89.6 325.3h1.1v1.1h-1.1zM115.5 328.5h1.1v1.1h-1.1zM112.9 325.3h1.1v1.1h-1.1zM137.2 328.6h1.1v1.1h-1.1zM121.7 316.1h1.1v1.1h-1.1zM115.5 327.1h1.1v1.1h-1.1zM114.5 327.5h1.1v1.1h-1.1zM101.1 334.9h1.1v1.1h-1.1zM88.3 323.8h1.1v1.1h-1.1zM98.1 331.9h1.1v1.1h-1.1zM125.1 325.0h1.1v1.1h-1.1zM98.5 313.2h1.1v1.1h-1.1zM107.7 319.7h1.1v1.1h-1.1zM87.9 318.4h1.1v1.1h-1.1zM132.5 319.8h1.1v1.1h-1.1zM96.0 322.7h1.1v1.1h-1.1zM102.2 324.5h1.1v1.1h-1.1zM135.2 326.3h1.1v1.1h-1.1zM115.2 315.9h1.1v1.1h-1.1zM133.4 333.7h1.1v1.1h-1.1zM122.2 310.3h1.1v1.1h-1.1zM127.8 322.9h1.1v1.1h-1.1zM92.6 330.5h1.1v1.1h-1.1zM116.9 328.0h1.1v1.1h-1.1zM115.1 329.8h1.1v1.1h-1.1zM134.8 321.7h1.1v1.1h-1.1zM107.2 330.2h1.1v1.1h-1.1zM120.0 312.2h1.1v1.1h-1.1zM90.9 330.8h1.1v1.1h-1.1zM105.1 330.3h1.1v1.1h-1.1zM95.8 342.7h1.1v1.1h-1.1zM131.8 323.7h1.1v1.1h-1.1zM108.2 313.1h1.1v1.1h-1.1zM140.6 317.0h1.1v1.1h-1.1zM119.6 336.2h1.1v1.1h-1.1zM120.4 330.6h1.1v1.1h-1.1zM122.2 306.1h1.1v1.1h-1.1zM124.2 320.2h1.1v1.1h-1.1zM95.8 323.2h1.1v1.1h-1.1zM111.5 313.1h1.1v1.1h-1.1zM109.4 310.8h1.1v1.1h-1.1zM92.9 321.9h1.1v1.1h-1.1zM140.0 319.9h1.1v1.1h-1.1zM99.3 317.3h1.1v1.1h-1.1zM124.0 329.2h1.1v1.1h-1.1zM103.9 333.5h1.1v1.1h-1.1zM134.9 322.8h1.1v1.1h-1.1zM123.5 332.4h1.1v1.1h-1.1zM94.8 323.9h1.1v1.1h-1.1zM133.3 322.4h1.1v1.1h-1.1zM136.5 331.5h1.1v1.1h-1.1zM118.5 324.5h1.1v1.1h-1.1zM95.6 324.9h1.1v1.1h-1.1zM98.1 319.1h1.1v1.1h-1.1zM137.8 313.2h1.1v1.1h-1.1zM117.5 328.0h1.1v1.1h-1.1zM97.4 331.2h1.1v1.1h-1.1zM135.4 339.1h1.1v1.1h-1.1zM122.3 332.2h1.1v1.1h-1.1zM118.5 318.1h1.1v1.1h-1.1zM108.0 322.8h1.1v1.1h-1.1zM109.9 333.1h1.1v1.1h-1.1zM100.6 326.9h1.1v1.1h-1.1zM89.8 323.0h1.1v1.1h-1.1zM135.0 318.4h1.1v1.1h-1.1zM113.0 329.0h1.1v1.1h-1.1zM117.3 325.7h1.1v1.1h-1.1zM105.1 340.8h1.1v1.1h-1.1zM128.3 334.4h1.1v1.1h-1.1zM89.1 307.7h1.1v1.1h-1.1zM107.8 344.4h1.1v1.1h-1.1zM89.3 326.5h1.1v1.1h-1.1zM94.3 321.2h1.1v1.1h-1.1zM139.9 326.9h1.1v1.1h-1.1zM123.2 331.1h1.1v1.1h-1.1zM110.8 323.9h1.1v1.1h-1.1zM116.0 323.3h1.1v1.1h-1.1zM134.8 324.1h1.1v1.1h-1.1zM106.3 341.4h1.1v1.1h-1.1zM119.6 324.7h1.1v1.1h-1.1zM124.6 331.5h1.1v1.1h-1.1zM106.9 328.6h1.1v1.1h-1.1zM115.7 321.1h1.1v1.1h-1.1zM129.0 317.1h1.1v1.1h-1.1zM136.8 314.6h1.1v1.1h-1.1zM95.9 328.1h1.1v1.1h-1.1zM138.1 314.4h1.1v1.1h-1.1zM88.0 311.9h1.1v1.1h-1.1zM128.4 312.3h1.1v1.1h-1.1zM131.5 309.9h1.1v1.1h-1.1zM95.1 324.7h1.1v1.1h-1.1zM110.3 325.0h1.1v1.1h-1.1zM131.7 315.3h1.1v1.1h-1.1zM88.5 336.5h1.1v1.1h-1.1zM121.6 321.3h1.1v1.1h-1.1zM130.5 328.4h1.1v1.1h-1.1zM115.4 326.8h1.1v1.1h-1.1zM126.9 340.1h1.1v1.1h-1.1zM99.9 331.9h1.1v1.1h-1.1zM98.4 323.5h1.1v1.1h-1.1zM107.3 314.7h1.1v1.1h-1.1zM97.4 313.7h1.1v1.1h-1.1zM106.4 324.1h1.1v1.1h-1.1zM138.9 325.1h1.1v1.1h-1.1zM118.7 331.3h1.1v1.1h-1.1zM106.1 319.4h1.1v1.1h-1.1zM102.4 325.7h1.1v1.1h-1.1zM139.1 317.4h1.1v1.1h-1.1zM111.7 306.4h1.1v1.1h-1.1zM140.6 323.6h1.1v1.1h-1.1zM115.5 337.7h1.1v1.1h-1.1zM115.8 331.6h1.1v1.1h-1.1zM136.1 337.4h1.1v1.1h-1.1zM127.8 334.8h1.1v1.1h-1.1zM119.1 310.7h1.1v1.1h-1.1zM110.7 321.1h1.1v1.1h-1.1zM135.1 338.0h1.1v1.1h-1.1zM109.9 317.0h1.1v1.1h-1.1zM137.5 311.1h1.1v1.1h-1.1zM91.4 326.8h1.1v1.1h-1.1zM110.9 329.8h1.1v1.1h-1.1zM115.8 326.5h1.1v1.1h-1.1zM139.1 320.5h1.1v1.1h-1.1zM101.3 317.1h1.1v1.1h-1.1zM131.2 311.9h1.1v1.1h-1.1zM124.2 311.6h1.1v1.1h-1.1zM126.4 311.8h1.1v1.1h-1.1zM121.7 310.1h1.1v1.1h-1.1zM140.2 316.9h1.1v1.1h-1.1zM105.7 338.1h1.1v1.1h-1.1zM109.2 324.5h1.1v1.1h-1.1zM98.7 320.2h1.1v1.1h-1.1zM90.4 327.0h1.1v1.1h-1.1zM99.2 314.5h1.1v1.1h-1.1zM137.1 326.8h1.1v1.1h-1.1zM133.1 332.2h1.1v1.1h-1.1zM93.8 309.3h1.1v1.1h-1.1zM120.3 316.8h1.1v1.1h-1.1zM113.6 321.2h1.1v1.1h-1.1zM119.8 314.3h1.1v1.1h-1.1zM123.3 313.0h1.1v1.1h-1.1zM104.3 320.0h1.1v1.1h-1.1zM112.9 329.8h1.1v1.1h-1.1zM121.6 327.7h1.1v1.1h-1.1zM122.0 332.8h1.1v1.1h-1.1zM97.6 321.4h1.1v1.1h-1.1zM91.0 311.8h1.1v1.1h-1.1zM109.9 328.0h1.1v1.1h-1.1zM129.0 334.2h1.1v1.1h-1.1zM131.7 303.7h1.1v1.1h-1.1zM127.1 327.6h1.1v1.1h-1.1zM93.8 335.2h1.1v1.1h-1.1zM137.0 321.0h1.1v1.1h-1.1zM131.0 319.2h1.1v1.1h-1.1zM135.1 330.1h1.1v1.1h-1.1zM116.0 315.6h1.1v1.1h-1.1zM137.1 328.0h1.1v1.1h-1.1zM90.2 332.2h1.1v1.1h-1.1zM89.3 321.6h1.1v1.1h-1.1zM88.8 315.8h1.1v1.1h-1.1zM101.3 329.4h1.1v1.1h-1.1zM101.1 320.1h1.1v1.1h-1.1zM97.8 324.2h1.1v1.1h-1.1zM89.8 330.1h1.1v1.1h-1.1zM119.6 309.9h1.1v1.1h-1.1zM96.7 323.8h1.1v1.1h-1.1zM124.3 324.5h1.1v1.1h-1.1zM88.8 316.3h1.1v1.1h-1.1zM104.5 314.6h1.1v1.1h-1.1zM138.4 311.0h1.1v1.1h-1.1zM116.8 320.1h1.1v1.1h-1.1zM131.5 329.1h1.1v1.1h-1.1zM123.2 328.5h1.1v1.1h-1.1zM120.7 318.4h1.1v1.1h-1.1zM98.0 317.7h1.1v1.1h-1.1zM118.7 309.8h1.1v1.1h-1.1zM89.8 319.2h1.1v1.1h-1.1zM131.0 313.0h1.1v1.1h-1.1zM139.5 308.6h1.1v1.1h-1.1zM133.8 321.7h1.1v1.1h-1.1zM90.4 337.6h1.1v1.1h-1.1zM106.0 334.7h1.1v1.1h-1.1zM104.9 337.2h1.1v1.1h-1.1zM93.8 307.9h1.1v1.1h-1.1zM121.5 331.5h1.1v1.1h-1.1zM130.8 311.4h1.1v1.1h-1.1zM104.6 317.6h1.1v1.1h-1.1zM134.3 306.7h1.1v1.1h-1.1zM130.7 313.6h1.1v1.1h-1.1zM94.7 324.3h1.1v1.1h-1.1zM129.1 325.2h1.1v1.1h-1.1zM135.4 322.5h1.1v1.1h-1.1zM98.4 321.6h1.1v1.1h-1.1zM118.7 328.4h1.1v1.1h-1.1zM122.2 323.6h1.1v1.1h-1.1zM120.6 307.7h1.1v1.1h-1.1zM92.9 339.7h1.1v1.1h-1.1zM123.4 320.8h1.1v1.1h-1.1zM121.8 332.0h1.1v1.1h-1.1zM132.2 321.5h1.1v1.1h-1.1zM131.1 315.2h1.1v1.1h-1.1zM105.4 323.8h1.1v1.1h-1.1zM126.7 315.8h1.1v1.1h-1.1zM134.5 338.6h1.1v1.1h-1.1zM135.9 312.6h1.1v1.1h-1.1zM96.4 329.1h1.1v1.1h-1.1zM89.1 317.3h1.1v1.1h-1.1zM122.8 321.5h1.1v1.1h-1.1zM118.1 330.6h1.1v1.1h-1.1zM138.7 321.1h1.1v1.1h-1.1zM108.2 308.3h1.1v1.1h-1.1zM101.3 320.5h1.1v1.1h-1.1zM112.4 320.8h1.1v1.1h-1.1zM123.2 336.9h1.1v1.1h-1.1zM93.2 309.5h1.1v1.1h-1.1zM108.3 305.8h1.1v1.1h-1.1zM94.9 323.0h1.1v1.1h-1.1zM123.5 325.4h1.1v1.1h-1.1zM132.5 338.9h1.1v1.1h-1.1zM108.1 314.7h1.1v1.1h-1.1zM116.8 316.4h1.1v1.1h-1.1zM99.3 311.1h1.1v1.1h-1.1zM101.1 318.0h1.1v1.1h-1.1zM105.5 332.8h1.1v1.1h-1.1zM112.4 310.4h1.1v1.1h-1.1zM92.1 335.2h1.1v1.1h-1.1zM128.3 325.3h1.1v1.1h-1.1zM119.0 320.6h1.1v1.1h-1.1zM103.9 314.8h1.1v1.1h-1.1zM91.9 319.3h1.1v1.1h-1.1zM128.9 319.5h1.1v1.1h-1.1zM94.8 330.6h1.1v1.1h-1.1zM94.9 335.7h1.1v1.1h-1.1zM94.8 322.7h1.1v1.1h-1.1zM92.1 330.1h1.1v1.1h-1.1zM136.6 335.9h1.1v1.1h-1.1zM102.2 335.5h1.1v1.1h-1.1zM104.2 328.0h1.1v1.1h-1.1zM132.7 341.2h1.1v1.1h-1.1zM121.2 336.3h1.1v1.1h-1.1zM97.8 339.1h1.1v1.1h-1.1zM111.2 321.5h1.1v1.1h-1.1zM135.4 319.3h1.1v1.1h-1.1zM108.0 303.9h1.1v1.1h-1.1zM126.1 337.7h1.1v1.1h-1.1zM92.9 329.8h1.1v1.1h-1.1zM127.0 314.5h1.1v1.1h-1.1zM129.6 325.4h1.1v1.1h-1.1zM132.3 326.4h1.1v1.1h-1.1zM124.1 306.8h1.1v1.1h-1.1zM107.7 326.5h1.1v1.1h-1.1zM91.2 334.4h1.1v1.1h-1.1zM115.7 336.0h1.1v1.1h-1.1zM128.6 320.0h1.1v1.1h-1.1zM98.0 320.3h1.1v1.1h-1.1zM102.1 336.5h1.1v1.1h-1.1zM116.7 332.8h1.1v1.1h-1.1zM128.1 318.1h1.1v1.1h-1.1zM136.1 317.7h1.1v1.1h-1.1zM94.5 329.5h1.1v1.1h-1.1zM97.7 317.3h1.1v1.1h-1.1zM130.9 317.8h1.1v1.1h-1.1zM122.5 340.5h1.1v1.1h-1.1zM126.6 326.3h1.1v1.1h-1.1zM141.5 319.3h1.1v1.1h-1.1zM138.4 328.8h1.1v1.1h-1.1zM133.2 343.9h1.1v1.1h-1.1zM129.7 326.0h1.1v1.1h-1.1zM109.0 316.0h1.1v1.1h-1.1zM122.3 308.0h1.1v1.1h-1.1zM97.7 344.4h1.1v1.1h-1.1zM128.6 334.2h1.1v1.1h-1.1zM126.6 314.0h1.1v1.1h-1.1zM111.7 311.4h1.1v1.1h-1.1zM108.1 313.8h1.1v1.1h-1.1zM110.4 321.8h1.1v1.1h-1.1zM89.5 334.5h1.1v1.1h-1.1zM133.3 317.2h1.1v1.1h-1.1zM117.0 330.2h1.1v1.1h-1.1zM126.7 316.4h1.1v1.1h-1.1zM108.3 305.7h1.1v1.1h-1.1zM132.6 332.1h1.1v1.1h-1.1zM137.4 309.1h1.1v1.1h-1.1zM108.6 307.9h1.1v1.1h-1.1zM95.1 308.3h1.1v1.1h-1.1zM128.8 323.5h1.1v1.1h-1.1zM141.3 334.9h1.1v1.1h-1.1zM95.7 325.0h1.1v1.1h-1.1zM126.2 344.6h1.1v1.1h-1.1zM132.3 339.7h1.1v1.1h-1.1zM137.4 322.4h1.1v1.1h-1.1zM94.4 332.9h1.1v1.1h-1.1zM92.7 324.9h1.1v1.1h-1.1zM141.0 324.3h1.1v1.1h-1.1zM94.0 304.6h1.1v1.1h-1.1zM97.2 310.7h1.1v1.1h-1.1zM118.7 323.7h1.1v1.1h-1.1zM111.8 311.6h1.1v1.1h-1.1zM128.2 330.8h1.1v1.1h-1.1zM98.0 326.5h1.1v1.1h-1.1zM137.1 314.5h1.1v1.1h-1.1zM99.4 335.3h1.1v1.1h-1.1zM129.2 326.0h1.1v1.1h-1.1zM91.4 336.0h1.1v1.1h-1.1zM113.3 322.1h1.1v1.1h-1.1zM89.5 307.5h1.1v1.1h-1.1zM104.6 330.5h1.1v1.1h-1.1zM104.6 321.1h1.1v1.1h-1.1zM126.6 331.9h1.1v1.1h-1.1zM112.3 334.4h1.1v1.1h-1.1zM90.8 335.2h1.1v1.1h-1.1zM141.4 309.2h1.1v1.1h-1.1zM137.2 318.6h1.1v1.1h-1.1zM101.0 330.2h1.1v1.1h-1.1zM109.0 316.5h1.1v1.1h-1.1zM100.0 326.5h1.1v1.1h-1.1zM94.4 315.5h1.1v1.1h-1.1zM89.5 320.5h1.1v1.1h-1.1zM114.9 320.6h1.1v1.1h-1.1zM94.3 317.4h1.1v1.1h-1.1zM97.2 328.9h1.1v1.1h-1.1zM134.2 327.2h1.1v1.1h-1.1zM113.8 339.9h1.1v1.1h-1.1zM97.6 327.5h1.1v1.1h-1.1zM123.9 337.0h1.1v1.1h-1.1zM102.1 324.7h1.1v1.1h-1.1zM116.2 332.5h1.1v1.1h-1.1zM103.0 322.3h1.1v1.1h-1.1zM115.6 318.9h1.1v1.1h-1.1zM121.6 337.0h1.1v1.1h-1.1zM116.7 331.1h1.1v1.1h-1.1zM109.1 332.4h1.1v1.1h-1.1zM130.4 316.1h1.1v1.1h-1.1zM134.9 306.8h1.1v1.1h-1.1zM97.4 315.1h1.1v1.1h-1.1zM95.1 326.7h1.1v1.1h-1.1zM93.8 309.1h1.1v1.1h-1.1zM140.6 337.9h1.1v1.1h-1.1zM138.5 308.8h1.1v1.1h-1.1zM100.2 329.6h1.1v1.1h-1.1zM115.0 308.0h1.1v1.1h-1.1zM114.6 333.2h1.1v1.1h-1.1zM137.1 321.6h1.1v1.1h-1.1zM89.9 325.4h1.1v1.1h-1.1zM104.7 322.3h1.1v1.1h-1.1zM120.1 337.6h1.1v1.1h-1.1zM91.3 329.9h1.1v1.1h-1.1zM100.5 318.8h1.1v1.1h-1.1zM112.8 321.1h1.1v1.1h-1.1zM135.3 311.7h1.1v1.1h-1.1zM128.8 322.5h1.1v1.1h-1.1zM128.8 330.2h1.1v1.1h-1.1zM125.9 320.8h1.1v1.1h-1.1zM133.6 341.8h1.1v1.1h-1.1zM124.5 335.4h1.1v1.1h-1.1zM127.4 310.4h1.1v1.1h-1.1zM104.0 332.4h1.1v1.1h-1.1zM96.8 318.2h1.1v1.1h-1.1zM128.6 323.9h1.1v1.1h-1.1zM96.7 333.4h1.1v1.1h-1.1zM137.4 326.6h1.1v1.1h-1.1zM119.9 328.2h1.1v1.1h-1.1zM105.5 328.0h1.1v1.1h-1.1zM138.3 316.0h1.1v1.1h-1.1zM96.1 317.0h1.1v1.1h-1.1zM115.5 328.9h1.1v1.1h-1.1zM92.6 332.0h1.1v1.1h-1.1zM139.8 320.6h1.1v1.1h-1.1zM118.8 324.2h1.1v1.1h-1.1zM131.1 313.3h1.1v1.1h-1.1zM131.0 315.1h1.1v1.1h-1.1zM125.7 323.6h1.1v1.1h-1.1zM122.5 324.9h1.1v1.1h-1.1zM139.0 331.6h1.1v1.1h-1.1zM111.1 332.0h1.1v1.1h-1.1zM110.1 333.0h1.1v1.1h-1.1zM125.1 327.1h1.1v1.1h-1.1zM132.8 327.4h1.1v1.1h-1.1zM105.8 316.1h1.1v1.1h-1.1zM123.9 327.1h1.1v1.1h-1.1zM99.0 325.2h1.1v1.1h-1.1zM117.5 335.0h1.1v1.1h-1.1zM129.2 307.4h1.1v1.1h-1.1zM91.2 318.4h1.1v1.1h-1.1zM127.0 306.0h1.1v1.1h-1.1zM88.5 315.6h1.1v1.1h-1.1zM139.5 308.9h1.1v1.1h-1.1zM113.0 325.7h1.1v1.1h-1.1zM109.8 316.4h1.1v1.1h-1.1zM116.0 335.1h1.1v1.1h-1.1zM127.2 311.9h1.1v1.1h-1.1zM92.3 306.9h1.1v1.1h-1.1zM118.1 319.2h1.1v1.1h-1.1zM117.8 315.9h1.1v1.1h-1.1zM138.0 310.9h1.1v1.1h-1.1zM89.8 329.8h1.1v1.1h-1.1zM112.2 319.2h1.1v1.1h-1.1zM121.8 331.9h1.1v1.1h-1.1zM117.4 330.0h1.1v1.1h-1.1zM91.7 329.4h1.1v1.1h-1.1zM119.7 324.7h1.1v1.1h-1.1zM99.7 321.8h1.1v1.1h-1.1zM98.3 318.8h1.1v1.1h-1.1zM135.1 337.3h1.1v1.1h-1.1zM98.4 303.7h1.1v1.1h-1.1zM112.2 311.9h1.1v1.1h-1.1zM128.2 316.1h1.1v1.1h-1.1zM125.9 326.8h1.1v1.1h-1.1zM117.6 324.2h1.1v1.1h-1.1zM131.3 317.9h1.1v1.1h-1.1zM112.9 319.2h1.1v1.1h-1.1zM121.2 339.9h1.1v1.1h-1.1zM131.9 315.9h1.1v1.1h-1.1zM122.4 341.6h1.1v1.1h-1.1zM109.6 313.4h1.1v1.1h-1.1zM117.8 319.6h1.1v1.1h-1.1zM109.1 324.4h1.1v1.1h-1.1zM127.9 309.7h1.1v1.1h-1.1zM108.2 335.0h1.1v1.1h-1.1zM112.9 321.7h1.1v1.1h-1.1zM128.5 308.8h1.1v1.1h-1.1zM114.9 325.2h1.1v1.1h-1.1zM106.0 327.4h1.1v1.1h-1.1zM132.3 322.1h1.1v1.1h-1.1zM108.3 327.7h1.1v1.1h-1.1zM133.3 307.9h1.1v1.1h-1.1zM130.1 332.3h1.1v1.1h-1.1zM111.9 314.6h1.1v1.1h-1.1zM126.2 335.7h1.1v1.1h-1.1zM89.6 316.6h1.1v1.1h-1.1zM108.7 324.3h1.1v1.1h-1.1zM119.0 323.3h1.1v1.1h-1.1zM117.8 333.9h1.1v1.1h-1.1zM123.6 327.7h1.1v1.1h-1.1zM124.3 308.0h1.1v1.1h-1.1zM119.2 334.4h1.1v1.1h-1.1zM110.4 333.8h1.1v1.1h-1.1zM97.6 309.0h1.1v1.1h-1.1zM103.5 322.1h1.1v1.1h-1.1zM103.5 308.0h1.1v1.1h-1.1zM111.0 320.1h1.1v1.1h-1.1zM141.6 332.0h1.1v1.1h-1.1zM106.7 323.9h1.1v1.1h-1.1zM111.9 311.1h1.1v1.1h-1.1zM107.8 313.9h1.1v1.1h-1.1zM119.1 323.3h1.1v1.1h-1.1zM138.9 322.8h1.1v1.1h-1.1zM135.7 324.4h1.1v1.1h-1.1zM108.1 329.0h1.1v1.1h-1.1zM102.1 304.1h1.1v1.1h-1.1zM135.5 323.2h1.1v1.1h-1.1zM114.4 334.5h1.1v1.1h-1.1zM124.7 328.0h1.1v1.1h-1.1zM91.7 316.1h1.1v1.1h-1.1zM134.5 316.9h1.1v1.1h-1.1zM104.6 324.6h1.1v1.1h-1.1zM114.4 329.9h1.1v1.1h-1.1zM98.4 323.0h1.1v1.1h-1.1zM110.4 339.9h1.1v1.1h-1.1zM132.4 336.2h1.1v1.1h-1.1zM132.4 315.3h1.1v1.1h-1.1zM113.3 328.0h1.1v1.1h-1.1zM129.2 319.6h1.1v1.1h-1.1zM112.4 311.2h1.1v1.1h-1.1zM107.9 316.8h1.1v1.1h-1.1zM117.2 323.1h1.1v1.1h-1.1zM98.6 302.2h1.1v1.1h-1.1zM104.8 316.6h1.1v1.1h-1.1zM125.9 326.8h1.1v1.1h-1.1zM129.3 316.0h1.1v1.1h-1.1zM90.8 319.2h1.1v1.1h-1.1zM127.3 331.8h1.1v1.1h-1.1zM131.8 322.6h1.1v1.1h-1.1zM111.7 324.9h1.1v1.1h-1.1zM91.1 342.8h1.1v1.1h-1.1zM124.6 325.0h1.1v1.1h-1.1zM101.0 326.1h1.1v1.1h-1.1zM122.4 327.6h1.1v1.1h-1.1zM108.0 339.6h1.1v1.1h-1.1zM122.1 326.8h1.1v1.1h-1.1zM101.6 323.7h1.1v1.1h-1.1zM113.4 322.3h1.1v1.1h-1.1zM116.0 334.6h1.1v1.1h-1.1zM121.8 317.0h1.1v1.1h-1.1zM98.7 335.3h1.1v1.1h-1.1zM139.7 325.5h1.1v1.1h-1.1zM103.3 310.3h1.1v1.1h-1.1zM104.2 330.2h1.1v1.1h-1.1zM101.5 328.3h1.1v1.1h-1.1zM91.3 312.6h1.1v1.1h-1.1zM110.5 327.1h1.1v1.1h-1.1zM129.4 326.2h1.1v1.1h-1.1zM126.0 321.1h1.1v1.1h-1.1zM98.3 312.9h1.1v1.1h-1.1zM105.1 331.5h1.1v1.1h-1.1zM129.2 333.3h1.1v1.1h-1.1zM114.1 334.0h1.1v1.1h-1.1zM137.6 331.8h1.1v1.1h-1.1zM123.1 331.6h1.1v1.1h-1.1zM121.2 320.3h1.1v1.1h-1.1zM129.2 332.1h1.1v1.1h-1.1zM128.2 322.1h1.1v1.1h-1.1zM106.3 319.3h1.1v1.1h-1.1zM101.6 330.5h1.1v1.1h-1.1zM111.3 322.0h1.1v1.1h-1.1zM114.1 307.1h1.1v1.1h-1.1zM95.4 320.1h1.1v1.1h-1.1zM111.5 329.6h1.1v1.1h-1.1zM122.3 323.9h1.1v1.1h-1.1zM95.0 332.3h1.1v1.1h-1.1zM95.2 320.6h1.1v1.1h-1.1zM97.1 314.8h1.1v1.1h-1.1zM103.0 331.4h1.1v1.1h-1.1zM139.6 325.3h1.1v1.1h-1.1zM89.1 312.3h1.1v1.1h-1.1zM97.6 328.2h1.1v1.1h-1.1zM96.6 321.4h1.1v1.1h-1.1zM113.3 333.4h1.1v1.1h-1.1zM88.5 331.4h1.1v1.1h-1.1zM112.4 328.3h1.1v1.1h-1.1zM96.5 302.3h1.1v1.1h-1.1zM102.3 327.2h1.1v1.1h-1.1zM130.5 328.4h1.1v1.1h-1.1zM97.6 328.7h1.1v1.1h-1.1zM121.0 324.9h1.1v1.1h-1.1zM109.6 316.9h1.1v1.1h-1.1zM110.3 321.4h1.1v1.1h-1.1zM131.8 303.4h1.1v1.1h-1.1zM96.4 321.2h1.1v1.1h-1.1zM137.6 309.3h1.1v1.1h-1.1zM135.9 320.6h1.1v1.1h-1.1zM123.8 317.4h1.1v1.1h-1.1zM90.4 337.2h1.1v1.1h-1.1zM123.5 324.5h1.1v1.1h-1.1zM120.1 323.9h1.1v1.1h-1.1zM129.4 325.6h1.1v1.1h-1.1zM99.2 344.1h1.1v1.1h-1.1zM139.2 314.8h1.1v1.1h-1.1zM135.6 327.0h1.1v1.1h-1.1zM93.9 327.5h1.1v1.1h-1.1zM104.7 325.7h1.1v1.1h-1.1zM89.5 325.5h1.1v1.1h-1.1zM132.6 319.3h1.1v1.1h-1.1zM137.1 335.6h1.1v1.1h-1.1zM141.1 332.3h1.1v1.1h-1.1zM120.7 320.5h1.1v1.1h-1.1zM123.7 321.9h1.1v1.1h-1.1zM124.3 326.9h1.1v1.1h-1.1zM118.5 328.8h1.1v1.1h-1.1zM139.1 331.3h1.1v1.1h-1.1zM120.5 323.8h1.1v1.1h-1.1zM105.8 311.9h1.1v1.1h-1.1zM115.4 333.5h1.1v1.1h-1.1zM88.7 308.6h1.1v1.1h-1.1zM126.8 315.1h1.1v1.1h-1.1zM125.2 327.7h1.1v1.1h-1.1zM110.4 315.7h1.1v1.1h-1.1zM133.7 337.4h1.1v1.1h-1.1zM128.5 340.0h1.1v1.1h-1.1zM105.9 335.7h1.1v1.1h-1.1zM91.9 327.2h1.1v1.1h-1.1zM94.8 326.4h1.1v1.1h-1.1zM97.7 328.3h1.1v1.1h-1.1zM104.1 322.3h1.1v1.1h-1.1zM111.9 343.9h1.1v1.1h-1.1zM137.8 318.5h1.1v1.1h-1.1zM102.7 337.0h1.1v1.1h-1.1zM136.2 329.7h1.1v1.1h-1.1zM124.4 327.3h1.1v1.1h-1.1zM133.8 334.4h1.1v1.1h-1.1zM109.5 336.5h1.1v1.1h-1.1zM87.9 333.0h1.1v1.1h-1.1zM130.2 323.4h1.1v1.1h-1.1zM101.0 317.6h1.1v1.1h-1.1zM95.4 317.8h1.1v1.1h-1.1zM130.9 332.9h1.1v1.1h-1.1zM124.8 330.9h1.1v1.1h-1.1zM99.2 332.2h1.1v1.1h-1.1zM102.1 318.9h1.1v1.1h-1.1zM138.4 343.0h1.1v1.1h-1.1zM102.2 311.3h1.1v1.1h-1.1zM125.6 328.0h1.1v1.1h-1.1zM94.7 330.8h1.1v1.1h-1.1zM131.7 320.0h1.1v1.1h-1.1zM94.0 313.3h1.1v1.1h-1.1zM115.6 320.0h1.1v1.1h-1.1zM89.6 313.1h1.1v1.1h-1.1zM117.4 322.0h1.1v1.1h-1.1zM133.4 311.4h1.1v1.1h-1.1zM92.3 311.3h1.1v1.1h-1.1zM102.5 324.2h1.1v1.1h-1.1zM129.0 309.4h1.1v1.1h-1.1zM120.5 321.7h1.1v1.1h-1.1zM104.6 322.4h1.1v1.1h-1.1zM121.7 332.2h1.1v1.1h-1.1zM112.3 326.1h1.1v1.1h-1.1zM134.3 315.8h1.1v1.1h-1.1zM103.5 336.0h1.1v1.1h-1.1zM128.6 317.0h1.1v1.1h-1.1zM122.0 319.9h1.1v1.1h-1.1zM127.7 320.6h1.1v1.1h-1.1zM108.1 344.6h1.1v1.1h-1.1zM126.8 324.3h1.1v1.1h-1.1zM125.4 317.0h1.1v1.1h-1.1zM108.6 330.6h1.1v1.1h-1.1zM89.1 322.4h1.1v1.1h-1.1zM126.2 316.8h1.1v1.1h-1.1zM98.8 329.7h1.1v1.1h-1.1zM127.2 314.9h1.1v1.1h-1.1zM102.7 341.1h1.1v1.1h-1.1zM113.0 316.6h1.1v1.1h-1.1zM134.1 325.6h1.1v1.1h-1.1zM111.9 315.5h1.1v1.1h-1.1zM103.3 332.2h1.1v1.1h-1.1zM104.2 329.3h1.1v1.1h-1.1zM99.6 331.3h1.1v1.1h-1.1zM102.3 330.1h1.1v1.1h-1.1zM97.0 325.9h1.1v1.1h-1.1zM91.1 333.2h1.1v1.1h-1.1zM112.9 311.8h1.1v1.1h-1.1zM99.3 306.6h1.1v1.1h-1.1zM127.6 330.1h1.1v1.1h-1.1zM137.5 339.9h1.1v1.1h-1.1zM102.4 312.0h1.1v1.1h-1.1zM118.6 312.6h1.1v1.1h-1.1zM115.1 315.3h1.1v1.1h-1.1zM91.8 312.1h1.1v1.1h-1.1zM94.4 331.7h1.1v1.1h-1.1zM135.5 324.9h1.1v1.1h-1.1zM113.3 336.6h1.1v1.1h-1.1zM131.1 337.0h1.1v1.1h-1.1zM91.3 313.8h1.1v1.1h-1.1zM119.8 329.8h1.1v1.1h-1.1zM134.5 322.6h1.1v1.1h-1.1zM88.0 329.5h1.1v1.1h-1.1zM115.9 315.6h1.1v1.1h-1.1zM107.6 305.9h1.1v1.1h-1.1zM128.7 318.6h1.1v1.1h-1.1zM91.7 335.0h1.1v1.1h-1.1zM102.0 319.7h1.1v1.1h-1.1zM131.6 310.0h1.1v1.1h-1.1zM113.1 328.0h1.1v1.1h-1.1zM112.2 330.7h1.1v1.1h-1.1zM140.0 313.5h1.1v1.1h-1.1zM105.0 321.9h1.1v1.1h-1.1zM90.0 333.9h1.1v1.1h-1.1zM108.9 326.9h1.1v1.1h-1.1zM96.0 330.6h1.1v1.1h-1.1zM92.1 320.4h1.1v1.1h-1.1zM118.4 322.2h1.1v1.1h-1.1zM139.2 312.2h1.1v1.1h-1.1zM119.0 316.4h1.1v1.1h-1.1zM122.6 338.4h1.1v1.1h-1.1zM105.2 319.3h1.1v1.1h-1.1zM118.5 314.6h1.1v1.1h-1.1zM128.3 318.9h1.1v1.1h-1.1zM119.5 313.3h1.1v1.1h-1.1zM131.1 328.6h1.1v1.1h-1.1zM117.4 332.5h1.1v1.1h-1.1zM98.4 314.3h1.1v1.1h-1.1zM119.2 333.6h1.1v1.1h-1.1zM114.2 344.1h1.1v1.1h-1.1zM96.7 313.4h1.1v1.1h-1.1zM121.1 330.3h1.1v1.1h-1.1zM131.8 326.2h1.1v1.1h-1.1zM95.0 336.8h1.1v1.1h-1.1zM117.1 336.1h1.1v1.1h-1.1zM127.3 334.4h1.1v1.1h-1.1zM109.5 326.8h1.1v1.1h-1.1zM102.3 319.7h1.1v1.1h-1.1zM117.0 316.0h1.1v1.1h-1.1zM124.8 334.7h1.1v1.1h-1.1zM117.9 333.6h1.1v1.1h-1.1zM93.5 316.7h1.1v1.1h-1.1zM131.9 324.0h1.1v1.1h-1.1zM137.6 338.1h1.1v1.1h-1.1zM93.2 305.5h1.1v1.1h-1.1zM101.2 331.6h1.1v1.1h-1.1zM97.1 320.9h1.1v1.1h-1.1zM133.6 321.3h1.1v1.1h-1.1zM136.9 309.7h1.1v1.1h-1.1zM90.1 327.7h1.1v1.1h-1.1zM105.7 313.5h1.1v1.1h-1.1zM98.1 330.4h1.1v1.1h-1.1zM113.1 312.4h1.1v1.1h-1.1zM137.5 330.6h1.1v1.1h-1.1zM91.5 326.8h1.1v1.1h-1.1zM96.9 305.0h1.1v1.1h-1.1zM114.0 320.2h1.1v1.1h-1.1zM116.0 322.2h1.1v1.1h-1.1zM111.3 319.8h1.1v1.1h-1.1zM95.3 331.2h1.1v1.1h-1.1zM106.8 316.2h1.1v1.1h-1.1zM140.7 334.7h1.1v1.1h-1.1zM128.2 312.4h1.1v1.1h-1.1zM94.0 311.6h1.1v1.1h-1.1zM131.3 328.8h1.1v1.1h-1.1zM104.5 329.3h1.1v1.1h-1.1zM129.9 321.6h1.1v1.1h-1.1zM88.4 323.1h1.1v1.1h-1.1zM134.7 332.7h1.1v1.1h-1.1zM96.5 317.8h1.1v1.1h-1.1zM112.3 343.0h1.1v1.1h-1.1zM123.4 327.5h1.1v1.1h-1.1zM115.1 327.2h1.1v1.1h-1.1zM96.6 325.9h1.1v1.1h-1.1zM95.2 320.3h1.1v1.1h-1.1zM103.1 335.1h1.1v1.1h-1.1zM90.5 317.6h1.1v1.1h-1.1zM99.4 325.0h1.1v1.1h-1.1zM94.7 329.6h1.1v1.1h-1.1zM112.8 336.5h1.1v1.1h-1.1zM107.0 334.7h1.1v1.1h-1.1zM119.4 319.8h1.1v1.1h-1.1zM102.9 332.6h1.1v1.1h-1.1zM89.5 322.7h1.1v1.1h-1.1zM105.6 313.0h1.1v1.1h-1.1zM128.5 313.3h1.1v1.1h-1.1zM101.5 308.2h1.1v1.1h-1.1zM109.5 326.1h1.1v1.1h-1.1zM128.5 333.8h1.1v1.1h-1.1zM109.7 313.4h1.1v1.1h-1.1zM135.6 320.3h1.1v1.1h-1.1zM137.3 312.4h1.1v1.1h-1.1zM104.5 323.2h1.1v1.1h-1.1zM127.4 311.7h1.1v1.1h-1.1zM101.4 315.1h1.1v1.1h-1.1zM95.2 316.4h1.1v1.1h-1.1zM111.3 318.4h1.1v1.1h-1.1zM120.2 319.4h1.1v1.1h-1.1zM138.2 321.0h1.1v1.1h-1.1zM95.6 321.1h1.1v1.1h-1.1zM126.2 313.7h1.1v1.1h-1.1zM113.4 328.2h1.1v1.1h-1.1zM94.8 306.5h1.1v1.1h-1.1zM140.2 324.3h1.1v1.1h-1.1zM125.3 313.8h1.1v1.1h-1.1zM94.7 324.2h1.1v1.1h-1.1zM136.6 325.7h1.1v1.1h-1.1zM93.3 303.7h1.1v1.1h-1.1zM92.7 326.3h1.1v1.1h-1.1zM105.6 335.6h1.1v1.1h-1.1zM138.3 330.2h1.1v1.1h-1.1zM89.5 326.3h1.1v1.1h-1.1zM137.3 302.5h1.1v1.1h-1.1zM120.7 321.3h1.1v1.1h-1.1zM91.3 314.3h1.1v1.1h-1.1zM118.4 333.0h1.1v1.1h-1.1zM112.5 319.9h1.1v1.1h-1.1zM118.2 316.8h1.1v1.1h-1.1zM127.5 305.9h1.1v1.1h-1.1zM124.3 330.0h1.1v1.1h-1.1zM141.6 317.5h1.1v1.1h-1.1zM96.2 320.4h1.1v1.1h-1.1zM131.6 333.1h1.1v1.1h-1.1zM109.9 323.5h1.1v1.1h-1.1zM130.0 325.8h1.1v1.1h-1.1zM141.3 317.5h1.1v1.1h-1.1zM102.1 318.1h1.1v1.1h-1.1zM112.2 327.5h1.1v1.1h-1.1zM138.6 336.2h1.1v1.1h-1.1zM138.8 309.0h1.1v1.1h-1.1zM107.8 320.7h1.1v1.1h-1.1zM138.5 313.5h1.1v1.1h-1.1zM109.6 309.7h1.1v1.1h-1.1zM107.9 328.3h1.1v1.1h-1.1zM128.6 315.4h1.1v1.1h-1.1zM113.1 325.6h1.1v1.1h-1.1zM111.9 323.9h1.1v1.1h-1.1zM108.6 324.1h1.1v1.1h-1.1zM111.1 323.3h1.1v1.1h-1.1zM95.3 312.5h1.1v1.1h-1.1zM91.0 322.1h1.1v1.1h-1.1zM128.4 324.8h1.1v1.1h-1.1zM118.2 325.9h1.1v1.1h-1.1zM124.0 320.0h1.1v1.1h-1.1zM131.0 331.9h1.1v1.1h-1.1zM100.1 328.1h1.1v1.1h-1.1zM100.3 323.8h1.1v1.1h-1.1zM102.7 328.7h1.1v1.1h-1.1zM104.1 324.4h1.1v1.1h-1.1zM128.8 329.2h1.1v1.1h-1.1zM107.9 303.9h1.1v1.1h-1.1zM105.2 310.4h1.1v1.1h-1.1zM122.1 318.9h1.1v1.1h-1.1zM97.8 323.8h1.1v1.1h-1.1zM93.4 302.1h1.1v1.1h-1.1zM125.3 320.2h1.1v1.1h-1.1zM128.5 324.1h1.1v1.1h-1.1zM103.7 320.4h1.1v1.1h-1.1zM122.0 320.3h1.1v1.1h-1.1zM89.5 309.7h1.1v1.1h-1.1zM109.5 323.5h1.1v1.1h-1.1zM118.9 303.0h1.1v1.1h-1.1zM101.4 331.8h1.1v1.1h-1.1zM106.5 316.6h1.1v1.1h-1.1zM120.6 333.0h1.1v1.1h-1.1zM119.6 305.7h1.1v1.1h-1.1zM96.0 326.5h1.1v1.1h-1.1zM125.9 323.8h1.1v1.1h-1.1zM92.0 314.4h1.1v1.1h-1.1zM140.1 311.2h1.1v1.1h-1.1zM98.6 334.0h1.1v1.1h-1.1zM101.4 326.6h1.1v1.1h-1.1zM98.5 336.7h1.1v1.1h-1.1zM141.2 322.0h1.1v1.1h-1.1zM103.2 324.3h1.1v1.1h-1.1zM120.4 326.6h1.1v1.1h-1.1zM141.2 329.9h1.1v1.1h-1.1zM139.0 327.0h1.1v1.1h-1.1zM90.0 330.5h1.1v1.1h-1.1zM115.8 318.2h1.1v1.1h-1.1zM120.2 308.6h1.1v1.1h-1.1zM125.6 341.9h1.1v1.1h-1.1zM105.8 324.4h1.1v1.1h-1.1zM105.4 327.3h1.1v1.1h-1.1zM87.9 318.5h1.1v1.1h-1.1zM89.6 332.5h1.1v1.1h-1.1zM117.4 324.7h1.1v1.1h-1.1zM91.8 333.3h1.1v1.1h-1.1zM98.6 316.6h1.1v1.1h-1.1zM105.7 322.3h1.1v1.1h-1.1zM91.5 324.8h1.1v1.1h-1.1zM89.4 319.7h1.1v1.1h-1.1zM137.8 325.7h1.1v1.1h-1.1zM111.2 338.3h1.1v1.1h-1.1zM98.8 317.5h1.1v1.1h-1.1zM126.0 320.5h1.1v1.1h-1.1zM88.2 324.8h1.1v1.1h-1.1zM100.9 313.8h1.1v1.1h-1.1zM139.6 311.5h1.1v1.1h-1.1zM136.2 333.8h1.1v1.1h-1.1zM122.0 330.8h1.1v1.1h-1.1zM92.7 308.3h1.1v1.1h-1.1zM104.9 309.6h1.1v1.1h-1.1zM89.2 330.4h1.1v1.1h-1.1zM99.5 334.7h1.1v1.1h-1.1zM89.1 329.4h1.1v1.1h-1.1zM94.5 328.1h1.1v1.1h-1.1zM121.9 338.6h1.1v1.1h-1.1zM93.1 323.0h1.1v1.1h-1.1zM96.1 335.6h1.1v1.1h-1.1zM136.5 335.0h1.1v1.1h-1.1zM105.8 314.4h1.1v1.1h-1.1zM105.7 329.9h1.1v1.1h-1.1zM92.4 324.0h1.1v1.1h-1.1zM130.7 317.2h1.1v1.1h-1.1zM124.2 315.4h1.1v1.1h-1.1zM117.2 326.5h1.1v1.1h-1.1zM121.1 322.9h1.1v1.1h-1.1zM93.1 331.2h1.1v1.1h-1.1zM101.8 306.4h1.1v1.1h-1.1zM119.2 317.0h1.1v1.1h-1.1zM139.1 333.9h1.1v1.1h-1.1zM131.8 323.2h1.1v1.1h-1.1zM122.3 316.4h1.1v1.1h-1.1zM115.7 318.6h1.1v1.1h-1.1zM88.5 305.6h1.1v1.1h-1.1zM135.8 310.0h1.1v1.1h-1.1zM91.3 328.5h1.1v1.1h-1.1zM94.7 324.1h1.1v1.1h-1.1zM125.1 335.7h1.1v1.1h-1.1zM131.6 320.9h1.1v1.1h-1.1zM130.2 321.8h1.1v1.1h-1.1zM97.3 322.3h1.1v1.1h-1.1zM89.6 343.5h1.1v1.1h-1.1zM133.7 329.8h1.1v1.1h-1.1zM140.5 322.2h1.1v1.1h-1.1zM100.9 335.4h1.1v1.1h-1.1zM134.5 331.7h1.1v1.1h-1.1zM109.4 326.8h1.1v1.1h-1.1zM104.5 320.0h1.1v1.1h-1.1zM115.0 324.9h1.1v1.1h-1.1zM88.1 331.9h1.1v1.1h-1.1zM111.6 315.7h1.1v1.1h-1.1zM98.5 328.5h1.1v1.1h-1.1zM126.2 328.1h1.1v1.1h-1.1zM114.8 336.6h1.1v1.1h-1.1zM134.6 330.9h1.1v1.1h-1.1zM136.1 317.0h1.1v1.1h-1.1zM104.8 338.9h1.1v1.1h-1.1zM102.8 324.0h1.1v1.1h-1.1zM138.4 316.3h1.1v1.1h-1.1zM114.9 326.9h1.1v1.1h-1.1zM92.9 321.0h1.1v1.1h-1.1zM90.2 334.1h1.1v1.1h-1.1zM141.2 310.6h1.1v1.1h-1.1zM119.0 312.6h1.1v1.1h-1.1zM90.6 321.0h1.1v1.1h-1.1zM115.3 340.2h1.1v1.1h-1.1zM114.9 333.4h1.1v1.1h-1.1zM111.2 313.8h1.1v1.1h-1.1zM139.1 306.7h1.1v1.1h-1.1zM138.9 320.4h1.1v1.1h-1.1zM94.4 311.2h1.1v1.1h-1.1zM95.9 329.1h1.1v1.1h-1.1zM109.7 325.1h1.1v1.1h-1.1zM132.7 323.3h1.1v1.1h-1.1zM121.4 319.2h1.1v1.1h-1.1zM127.1 338.0h1.1v1.1h-1.1zM118.8 314.2h1.1v1.1h-1.1zM99.0 310.5h1.1v1.1h-1.1zM131.9 334.4h1.1v1.1h-1.1zM88.5 336.4h1.1v1.1h-1.1zM125.4 319.9h1.1v1.1h-1.1zM98.2 329.6h1.1v1.1h-1.1zM140.4 315.5h1.1v1.1h-1.1zM116.8 321.8h1.1v1.1h-1.1zM90.8 327.9h1.1v1.1h-1.1zM110.9 302.9h1.1v1.1h-1.1zM123.4 321.9h1.1v1.1h-1.1zM90.8 330.6h1.1v1.1h-1.1zM101.3 322.3h1.1v1.1h-1.1zM88.7 333.3h1.1v1.1h-1.1zM116.9 330.6h1.1v1.1h-1.1zM108.3 319.5h1.1v1.1h-1.1zM114.9 328.6h1.1v1.1h-1.1zM103.7 327.6h1.1v1.1h-1.1zM123.2 307.2h1.1v1.1h-1.1zM97.0 315.0h1.1v1.1h-1.1zM136.7 315.5h1.1v1.1h-1.1zM139.5 318.2h1.1v1.1h-1.1zM114.3 318.6h1.1v1.1h-1.1zM112.8 309.2h1.1v1.1h-1.1zM134.1 323.5h1.1v1.1h-1.1zM103.4 305.4h1.1v1.1h-1.1zM131.1 332.5h1.1v1.1h-1.1zM103.2 325.7h1.1v1.1h-1.1zM126.6 336.6h1.1v1.1h-1.1zM105.7 326.6h1.1v1.1h-1.1zM120.2 318.3h1.1v1.1h-1.1zM137.7 309.3h1.1v1.1h-1.1zM90.6 329.7h1.1v1.1h-1.1zM131.3 323.2h1.1v1.1h-1.1zM117.0 326.7h1.1v1.1h-1.1zM108.2 330.4h1.1v1.1h-1.1zM106.6 334.8h1.1v1.1h-1.1zM91.4 322.7h1.1v1.1h-1.1zM101.7 340.0h1.1v1.1h-1.1zM121.3 322.2h1.1v1.1h-1.1zM93.0 323.1h1.1v1.1h-1.1zM123.8 329.6h1.1v1.1h-1.1zM139.7 333.0h1.1v1.1h-1.1zM140.7 336.6h1.1v1.1h-1.1zM135.7 305.2h1.1v1.1h-1.1zM131.3 336.2h1.1v1.1h-1.1zM97.3 308.2h1.1v1.1h-1.1zM140.1 317.5h1.1v1.1h-1.1zM98.6 326.8h1.1v1.1h-1.1zM134.6 334.5h1.1v1.1h-1.1zM135.1 313.2h1.1v1.1h-1.1zM121.3 306.6h1.1v1.1h-1.1zM115.9 332.3h1.1v1.1h-1.1zM98.5 326.2h1.1v1.1h-1.1zM115.8 313.1h1.1v1.1h-1.1zM103.4 320.0h1.1v1.1h-1.1zM94.5 304.0h1.1v1.1h-1.1zM94.6 328.8h1.1v1.1h-1.1zM131.0 318.0h1.1v1.1h-1.1zM137.5 335.4h1.1v1.1h-1.1zM95.4 303.0h1.1v1.1h-1.1zM88.4 330.3h1.1v1.1h-1.1zM101.9 344.6h1.1v1.1h-1.1zM95.0 324.5h1.1v1.1h-1.1zM97.9 324.6h1.1v1.1h-1.1zM119.2 304.8h1.1v1.1h-1.1zM110.5 326.6h1.1v1.1h-1.1zM110.9 323.4h1.1v1.1h-1.1zM98.8 317.5h1.1v1.1h-1.1zM123.6 308.0h1.1v1.1h-1.1zM103.3 323.9h1.1v1.1h-1.1zM109.3 313.2h1.1v1.1h-1.1zM112.7 318.3h1.1v1.1h-1.1zM136.5 326.1h1.1v1.1h-1.1zM101.0 322.5h1.1v1.1h-1.1zM126.5 323.0h1.1v1.1h-1.1zM104.4 332.1h1.1v1.1h-1.1zM136.0 311.6h1.1v1.1h-1.1zM109.0 336.7h1.1v1.1h-1.1zM115.0 312.0h1.1v1.1h-1.1zM135.1 314.1h1.1v1.1h-1.1zM124.0 324.2h1.1v1.1h-1.1zM92.8 330.7h1.1v1.1h-1.1zM95.1 325.5h1.1v1.1h-1.1zM141.2 318.7h1.1v1.1h-1.1zM89.3 316.1h1.1v1.1h-1.1zM103.9 320.5h1.1v1.1h-1.1zM139.5 313.7h1.1v1.1h-1.1zM88.5 328.7h1.1v1.1h-1.1zM96.4 321.0h1.1v1.1h-1.1zM99.2 338.4h1.1v1.1h-1.1zM92.4 315.9h1.1v1.1h-1.1zM113.2 321.8h1.1v1.1h-1.1zM119.7 327.3h1.1v1.1h-1.1zM104.9 312.1h1.1v1.1h-1.1zM93.6 316.6h1.1v1.1h-1.1zM131.1 322.9h1.1v1.1h-1.1zM118.1 337.3h1.1v1.1h-1.1zM95.1 313.0h1.1v1.1h-1.1zM121.7 328.3h1.1v1.1h-1.1zM110.8 322.6h1.1v1.1h-1.1zM134.3 325.7h1.1v1.1h-1.1zM108.8 319.9h1.1v1.1h-1.1zM115.3 317.1h1.1v1.1h-1.1zM93.9 310.8h1.1v1.1h-1.1zM118.1 332.8h1.1v1.1h-1.1zM129.1 308.1h1.1v1.1h-1.1zM127.2 332.3h1.1v1.1h-1.1zM101.6 320.6h1.1v1.1h-1.1zM141.3 312.1h1.1v1.1h-1.1zM126.6 316.4h1.1v1.1h-1.1zM110.6 332.3h1.1v1.1h-1.1zM110.1 330.1h1.1v1.1h-1.1zM129.8 327.7h1.1v1.1h-1.1zM97.2 323.8h1.1v1.1h-1.1zM122.2 312.2h1.1v1.1h-1.1zM126.5 335.8h1.1v1.1h-1.1zM115.6 318.8h1.1v1.1h-1.1zM134.9 317.4h1.1v1.1h-1.1zM113.0 317.9h1.1v1.1h-1.1zM112.8 318.8h1.1v1.1h-1.1zM103.1 308.6h1.1v1.1h-1.1zM137.3 318.6h1.1v1.1h-1.1zM104.8 315.0h1.1v1.1h-1.1zM125.2 317.8h1.1v1.1h-1.1zM109.8 306.0h1.1v1.1h-1.1zM138.2 341.6h1.1v1.1h-1.1zM138.9 310.9h1.1v1.1h-1.1zM89.3 325.8h1.1v1.1h-1.1zM141.4 326.0h1.1v1.1h-1.1zM120.4 332.6h1.1v1.1h-1.1zM91.7 341.3h1.1v1.1h-1.1zM114.5 327.0h1.1v1.1h-1.1zM90.4 329.9h1.1v1.1h-1.1zM117.3 318.5h1.1v1.1h-1.1zM97.7 337.5h1.1v1.1h-1.1zM107.6 309.5h1.1v1.1h-1.1zM104.2 320.7h1.1v1.1h-1.1zM120.2 325.7h1.1v1.1h-1.1zM132.1 330.1h1.1v1.1h-1.1zM138.3 330.9h1.1v1.1h-1.1zM105.5 334.2h1.1v1.1h-1.1zM118.5 328.5h1.1v1.1h-1.1zM88.0 323.2h1.1v1.1h-1.1zM107.8 325.0h1.1v1.1h-1.1zM139.6 336.9h1.1v1.1h-1.1zM94.1 325.8h1.1v1.1h-1.1z" fill="#2ca02c" fill-opacity="0.8"/>
<path d="M199.7 318.2h1.1v1.1h-1.1zM174.0 346.4h1.1v1.1h-1.1zM158.6 345.9h1.1v1.1h-1.1zM175.8 338.2h1.1v1.1h-1.1zM184.0 343.5h1.1v1.1h-1.1zM172.4 340.5h1.1v1.1h-1.1zM165.4 329.7h1.1v1.1h-1.1zM159.8 316.3h1.1v1.1h-1.1zM162.4 355.6h1.1v1.1h-1.1zM149.1 335.9h1.1v1.1h-1.1zM160.2 335.2h1.1v1.1h-1.1zM197.9 336.6h1.1v1.1h-1.1zM146.8 337.8h1.1v1.1h-1.1zM185.7 339.5h1.1v1.1h-1.1zM189.0 324.5h1.1v1.1h-1.1zM168.3 340.9h1.1v1.1h-1.1zM178.5 337.1h1.1v1.1h-1.1zM158.3 335.7h1.1v1.1h-1.1zM182.5 334.5h1.1v1.1h-1.1zM184.6 337.6h1.1v1.1h-1.1zM186.1 324.5h1.1v1.1h-1.1zM173.0 335.8h1.1v1.1h-1.1zM198.8 333.7h1.1v1.1h-1.1zM193.2 336.3h1.1v1.1h-1.1zM177.3 346.9h1.1v1.1h-1.1zM183.2 345.0h1.1v1.1h-1.1zM161.2 347.4h1.1v1.1h-1.1zM197.4 333.5h1.1v1.1h-1.1zM181.2 343.7h1.1v1.1h-1.1zM194.7 347.5h1.1v1.1h-1.1zM162.0 333.0h1.1v1.1h-1.1zM199.4 329.8h1.1v1.1h-1.1zM152.1 355.4h1.1v1.1h-1.1zM175.0 316.8h1.1v1.1h-1.1zM152.4 335.3h1.1v1.1h-1.1zM156.6 336.9h1.1v1.1h-1.1zM187.7 323.8h1.1v1.1h-1.1zM150.0 334.9h1.1v1.1h-1.1zM167.1 342.4h1.1v1.1h-1.1zM156.7 311.1h1.1v1.1h-1.1zM192.3 347.7h1.1v1.1h-1.1zM150.8 336.8h1.1v1.1h-1.1zM164.6 326.2h1.1v1.1h-1.1zM192.6 347.6h1.1v1.1h-1.1zM183.5 336.8h1.1v1.1h-1.1zM184.4 331.4h1.1v1.1h-1.1zM199.9 308.8h1.1v1.1h-1.1zM147.7 345.7h1.1v1.1h-1.1zM182.3 336.2h1.1v1.1h-1.1zM186.6 328.3h1.1v1.1h-1.1zM186.8 334.8h1.1v1.1h-1.1zM185.0 349.1h1.1v1.1h-1.1zM150.3 331.1h1.1v1.1h-1.1zM150.9 334.5h1.1v1.1h-1.1zM188.1 330.7h1.1v1.1h-1.1zM179.4 323.0h1.1v1.1h-1.1zM160.6 324.4h1.1v1.1h-1.1zM146.9 331.1h1.1v1.1h-1.1zM175.2 332.2h1.1v1.1h-1.1zM151.3 348.0h1.1v1.1h-1.1zM186.8 337.2h1.1v1.1h-1.1zM164.8 333.2h1.1v1.1h-1.1zM190.0 340.2h1.1v1.1h-1.1zM151.6 334.6h1.1v1.1h-1.1zM173.1 344.9h1.1v1.1h-1.1zM151.8 318.5h1.1v1.1h-1.1zM188.5 311.6h1.1v1.1h-1.1zM176.6 340.0h1.1v1.1h-1.1zM159.1 331.2h1.1v1.1h-1.1zM198.4 338.3h1.1v1.1h-1.1zM183.2 321.6h1.1v1.1h-1.1zM164.6 330.8h1.1v1.1h-1.1zM192.6 334.8h1.1v1.1h-1.1zM166.9 338.2h1.1v1.1h-1.1zM197.3 334.3h1.1v1.1h-1.1zM162.4 346.9h1.1v1.1h-1.1zM199.6 328.1h1.1v1.1h-1.1zM149.8 343.7h1.1v1.1h-1.1zM186.1 329.7h1.1v1.1h-1.1zM162.1 334.2h1.1v1.1h-1.1zM169.3 323.4h1.1v1.1h-1.1zM180.8 335.9h1.1v1.1h-1.1zM148.9 324.2h1.1v1.1h-1.1zM158.5 346.0h1.1v1.1h-1.1zM152.0 328.9h1.1v1.1h-1.1zM186.3 338.2h1.1v1.1h-1.1zM158.3 333.5h1.1v1.1h-1.1zM173.3 334.9h1.1v1.1h-1.1zM164.1 325.2h1.1v1.1h-1.1zM159.2 358.3h1.1v1.1h-1.1zM196.9 332.1h1.1v1.1h-1.1zM173.8 352.4h1.1v1.1h-1.1zM181.5 322.2h1.1v1.1h-1.1zM184.4 357.7h1.1v1.1h-1.1zM190.7 346.9h1.1v1.1h-1.1zM160.6 354.4h1.1v1.1h-1.1zM150.6 317.4h1.1v1.1h-1.1zM171.6 350.1h1.1v1.1h-1.1zM155.6 334.4h1.1v1.1h-1.1zM147.5 341.7h1.1v1.1h-1.1zM196.1 355.8h1.1v1.1h-1.1zM180.2 339.5h1.1v1.1h-1.1zM168.8 328.3h1.1v1.1h-1.1zM153.8 337.7h1.1v1.1h-1.1zM187.5 325.2h1.1v1.1h-1.1zM175.2 339.7h1.1v1.1h-1.1zM155.8 335.6h1.1v1.1h-1.1zM199.4 340.0h1.1v1.1h-1.1zM197.7 331.8h1.1v1.1h-1.1zM196.5 314.4h1.1v1.1h-1.1zM191.0 331.6h1.1v1.1h-1.1zM175.1 333.5h1.1v1.1h-1.1zM162.6 342.6h1.1v1.1h-1.1zM181.6 344.1h1.1v1.1h-1.1zM154.6 319.3h1.1v1.1h-1.1zM179.7 348.1h1.1v1.1h-1.1zM150.0 345.9h1.1v1.1h-1.1zM147.1 336.8h1.1v1.1h-1.1zM185.0 340.4h1.1v1.1h-1.1zM164.9 313.8h1.1v1.1h-1.1zM184.1 362.1h1.1v1.1h-1.1zM188.5 331.6h1.1v1.1h-1.1zM191.5 327.7h1.1v1.1h-1.1zM179.7 348.2h1.1v1.1h-1.1zM192.1 342.9h1.1v1.1h-1.1zM182.0 330.8h1.1v1.1h-1.1zM196.5 317.5h1.1v1.1h-1.1zM194.8 346.0h1.1v1.1h-1.1zM148.7 353.3h1.1v1.1h-1.1zM160.9 324.8h1.1v1.1h-1.1zM167.4 318.6h1.1v1.1h-1.1zM160.0 339.4h1.1v1.1h-1.1zM156.0 360.4h1.1v1.1h-1.1zM193.6 319.4h1.1v1.1h-1.1zM147.8 337.9h1.1v1.1h-1.1zM156.2 323.1h1.1v1.1h-1.1zM187.5 336.2h1.1v1.1h-1.1zM158.5 339.9h1.1v1.1h-1.1zM160.4 340.7h1.1v1.1h-1.1zM198.6 319.2h1.1v1.1h-1.1zM187.6 319.6h1.1v1.1h-1.1zM170.6 359.6h1.1v1.1h-1.1zM153.8 346.1h1.1v1.1h-1.1zM160.9 315.8h1.1v1.1h-1.1zM199.4 339.8h1.1v1.1h-1.1zM189.1 350.9h1.1v1.1h-1.1zM150.2 335.6h1.1v1.1h-1.1zM184.6 336.9h1.1v1.1h-1.1zM166.7 336.8h1.1v1.1h-1.1zM185.3 341.0h1.1v1.1h-1.1zM162.4 339.1h1.1v1.1h-1.1zM153.4 340.8h1.1v1.1h-1.1zM147.5 331.9h1.1v1.1h-1.1zM162.4 344.8h1.1v1.1h-1.1zM192.9 338.9h1.1v1.1h-1.1zM194.5 337.3h1.1v1.1h-1.1zM183.3 321.1h1.1v1.1h-1.1zM186.8 331.5h1.1v1.1h-1.1zM156.9 336.9h1.1v1.1h-1.1zM165.5 329.7h1.1v1.1h-1.1zM195.0 331.1h1.1v1.1h-1.1zM199.7 323.5h1.1v1.1h-1.1zM170.3 330.0h1.1v1.1h-1.1zM188.3 315.6h1.1v1.1h-1.1zM196.8 320.6h1.1v1.1h-1.1zM200.2 336.1h1.1v1.1h-1.1zM162.4 340.3h1.1v1.1h-1.1zM181.7 325.8h1.1v1.1h-1.1zM167.5 329.9h1.1v1.1h-1.1zM171.5 336.7h1.1v1.1h-1.1zM171.3 352.2h1.1v1.1h-1.1zM161.4 356.2h1.1v1.1h-1.1zM147.4 331.8h1.1v1.1h-1.1zM187.8 327.1h1.1v1.1h-1.1zM184.0 326.7h1.1v1.1h-1.1zM191.8 350.1h1.1v1.1h-1.1zM154.7 324.1h1.1v1.1h-1.1zM159.2 341.7h1.1v1.1h-1.1zM178.6 331.3h1.1v1.1h-1.1zM197.0 331.0h1.1v1.1h-1.1zM171.9 344.7h1.1v1.1h-1.1zM157.2 342.3h1.1v1.1h-1.1zM178.5 358.9h1.1v1.1h-1.1zM198.1 345.9h1.1v1.1h-1.1zM193.3 355.8h1.1v1.1h-1.1zM194.9 330.8h1.1v1.1h-1.1zM168.6 335.0h1.1v1.1h-1.1zM160.6 325.5h1.1v1.1h-1.1zM193.4 331.7h1.1v1.1h-1.1zM189.0 342.8h1.1v1.1h-1.1zM192.4 331.8h1.1v1.1h-1.1zM167.5 340.0h1.1v1.1h-1.1zM161.9 328.9h1.1v1.1h-1.1zM159.4 332.2h1.1v1.1h-1.1zM193.4 346.7h1.1v1.1h-1.1zM196.0 335.7h1.1v1.1h-1.1zM166.2 335.1h1.1v1.1h-1.1zM193.6 339.1h1.1v1.1h-1.1zM167.0 325.7h1.1v1.1h-1.1zM170.6 316.5h1.1v1.1h-1.1zM177.0 339.8h1.1v1.1h-1.1zM158.4 339.6h1.1v1.1h-1.1zM160.8 360.8h1.1v1.1h-1.1zM160.8 337.1h1.1v1.1h-1.1zM160.4 340.6h1.1v1.1h-1.1zM174.2 359.8h1.1v1.1h-1.1zM151.8 332.5h1.1v1.1h-1.1zM188.5 329.1h1.1v1.1h-1.1zM155.8 343.9h1.1v1.1h-1.1zM170.4 339.8h1.1v1.1h-1.1zM181.1 346.5h1.1v1.1h-1.1zM153.9 327.2h1.1v1.1h-1.1zM168.5 352.6h1.1v1.1h-1.1zM176.8 339.2h1.1v1.1h-1.1zM176.1 313.9h1.1v1.1h-1.1zM194.6 335.1h1.1v1.1h-1.1zM188.8 330.4h1.1v1.1h-1.1zM152.9 337.3h1.1v1.1h-1.1zM191.4 348.8h1.1v1.1h-1.1zM176.1 336.0h1.1v1.1h-1.1zM183.0 331.1h1.1v1.1h-1.1zM155.0 347.1h1.1v1.1h-1.1zM171.9 331.9h1.1v1.1h-1.1zM184.2 321.8h1.1v1.1h-1.1zM189.5 323.7h1.1v1.1h-1.1zM189.9 353.4h1.1v1.1h-1.1zM158.1 346.6h1.1v1.1h-1.1zM191.4 353.7h1.1v1.1h-1.1zM177.1 323.7h1.1v1.1h-1.1zM182.5 328.9h1.1v1.1h-1.1zM192.4 327.8h1.1v1.1h-1.1zM168.3 345.5h1.1v1.1h-1.1zM196.1 348.7h1.1v1.1h-1.1zM194.0 334.8h1.1v1.1h-1.1zM190.0 334.6h1.1v1.1h-1.1zM166.9 345.2h1.1v1.1h-1.1zM174.9 334.1h1.1v1.1h-1.1zM155.7 328.5h1.1v1.1h-1.1zM187.4 333.1h1.1v1.1h-1.1zM194.5 347.3h1.1v1.1h-1.1zM155.1 359.3h1.1v1.1h-1.1zM186.6 338.6h1.1v1.1h-1.1zM183.9 333.8h1.1v1.1h-1.1zM148.4 338.6h1.1v1.1h-1.1zM195.9 340.5h1.1v1.1h-1.1zM172.3 343.4h1.1v1.1h-1.1zM160.9 327.7h1.1v1.1h-1.1zM148.0 336.3h1.1v1.1h-1.1zM188.6 334.3h1.1v1.1h-1.1zM164.6 346.5h1.1v1.1h-1.1zM174.1 342.6h1.1v1.1h-1.1zM156.9 333.8h1.1v1.1h-1.1zM179.2 346.9h1.1v1.1h-1.1zM167.9 349.8h1.1v1.1h-1.1zM190.0 339.4h1.1v1.1h-1.1zM182.4 322.3h1.1v1.1h-1.1zM185.4 333.5h1.1v1.1h-1.1zM160.0 319.4h1.1v1.1h-1.1zM149.8 337.2h1.1v1.1h-1.1zM193.9 339.1h1.1v1.1h-1.1zM196.9 351.2h1.1v1.1h-1.1zM181.1 342.1h1.1v1.1h-1.1zM196.2 319.6h1.1v1.1h-1.1zM184.5 332.0h1.1v1.1h-1.1zM179.1 327.5h1.1v1.1h-1.1zM169.0 327.8h1.1v1.1h-1.1zM165.6 335.8h1.1v1.1h-1.1zM172.8 338.0h1.1v1.1h-1.1zM158.4 334.3h1.1v1.1h-1.1zM169.5 328.2h1.1v1.1h-1.1zM173.8 330.6h1.1v1.1h-1.1zM148.1 330.2h1.1v1.1h-1.1zM167.7 334.0h1.1v1.1h-1.1zM161.8 344.3h1.1v1.1h-1.1zM180.6 338.6h1.1v1.1h-1.1zM190.2 346.2h1.1v1.1h-1.1zM179.6 324.4h1.1v1.1h-1.1zM182.3 359.2h1.1v1.1h-1.1zM179.6 338.1h1.1v1.1h-1.1zM160.2 309.0h1.1v1.1h-1.1zM166.7 339.5h1.1v1.1h-1.1zM192.0 348.4h1.1v1.1h-1.1zM197.5 335.9h1.1v1.1h-1.1zM156.2 321.3h1.1v1.1h-1.1zM147.0 337.5h1.1v1.1h-1.1zM198.3 328.8h1.1v1.1h-1.1zM192.8 334.6h1.1v1.1h-1.1zM179.2 339.8h1.1v1.1h-1.1zM178.5 334.9h1.1v1.1h-1.1zM195.3 341.7h1.1v1.1h-1.1zM159.5 341.2h1.1v1.1h-1.1zM170.4 331.4h1.1v1.1h-1.1zM182.6 331.1h1.1v1.1h-1.1zM158.0 327.0h1.1v1.1h-1.1zM185.0 334.1h1.1v1.1h-1.1zM160.6 351.7h1.1v1.1h-1.1zM184.7 329.7h1.1v1.1h-1.1zM189.8 339.1h1.1v1.1h-1.1zM169.3 338.9h1.1v1.1h-1.1zM199.9 352.3h1.1v1.1h-1.1zM180.5 342.1h1.1v1.1h-1.1zM187.3 343.8h1.1v1.1h-1.1zM147.5 336.1h1.1v1.1h-1.1zM152.5 351.9h1.1v1.1h-1.1zM184.8 335.1h1.1v1.1h-1.1zM197.3 334.3h1.1v1.1h-1.1zM180.3 348.2h1.1v1.1h-1.1zM195.7 342.7h1.1v1.1h-1.1zM149.6 345.3h1.1v1.1h-1.1zM194.5 325.5h1.1v1.1h-1.1zM193.8 364.0h1.1v1.1h-1.1zM180.4 339.5h1.1v1.1h-1.1zM169.6 354.2h1.1v1.1h-1.1zM184.5 340.5h1.1v1.1h-1.1zM159.6 326.2h1.1v1.1h-1.1zM182.5 342.7h1.1v1.1h-1.1zM183.9 334.1h1.1v1.1h-1.1zM175.6 345.1h1.1v1.1h-1.1zM160.4 314.0h1.1v1.1h-1.1zM146.5 325.5h1.1v1.1h-1.1zM157.0 323.1h1.1v1.1h-1.1zM191.4 350.5h1.1v1.1h-1.1zM157.9 348.0h1.1v1.1h-1.1zM150.4 323.6h1.1v1.1h-1.1zM159.7 337.9h1.1v1.1h-1.1zM174.4 338.6h1.1v1.1h-1.1zM178.1 331.9h1.1v1.1h-1.1zM193.8 349.7h1.1v1.1h-1.1zM192.6 327.0h1.1v1.1h-1.1zM198.7 335.5h1.1v1.1h-1.1zM194.2 330.3h1.1v1.1h-1.1zM170.7 343.2h1.1v1.1h-1.1zM154.1 329.9h1.1v1.1h-1.1zM198.0 343.6h1.1v1.1h-1.1zM158.8 325.0h1.1v1.1h-1.1zM180.0 323.0h1.1v1.1h-1.1zM160.7 325.5h1.1v1.1h-1.1zM190.5 329.9h1.1v1.1h-1.1zM157.2 328.6h1.1v1.1h-1.1zM158.3 326.3h1.1v1.1h-1.1zM192.9 338.7h1.1v1.1h-1.1zM179.8 334.6h1.1v1.1h-1.1zM180.5 338.9h1.1v1.1h-1.1zM163.4 351.2h1.1v1.1h-1.1zM155.9 341.7h1.1v1.1h-1.1zM192.7 328.3h1.1v1.1h-1.1zM187.7 319.8h1.1v1.1h-1.1zM186.1 342.6h1.1v1.1h-1.1zM200.2 345.8h1.1v1.1h-1.1zM176.6 319.4h1.1v1.1h-1.1zM156.0 345.5h1.1v1.1h-1.1zM179.3 312.5h1.1v1.1h-1.1zM161.9 335.1h1.1v1.1h-1.1zM174.1 345.6h1.1v1.1h-1.1zM171.2 324.7h1.1v1.1h-1.1zM176.8 316.7h1.1v1.1h-1.1zM196.2 351.7h1.1v1.1h-1.1zM190.2 318.2h1.1v1.1h-1.1zM168.8 338.8h1.1v1.1h-1.1zM190.5 319.1h1.1v1.1h-1.1zM192.9 339.9h1.1v1.1h-1.1zM188.2 353.3h1.1v1.1h-1.1zM176.2 330.1h1.1v1.1h-1.1zM195.0 325.3h1.1v1.1h-1.1zM173.0 312.2h1.1v1.1h-1.1zM152.1 316.4h1.1v1.1h-1.1zM161.1 327.9h1.1v1.1h-1.1zM181.9 338.3h1.1v1.1h-1.1zM166.9 341.5h1.1v1.1h-1.1zM169.2 339.0h1.1v1.1h-1.1zM168.1 345.0h1.1v1.1h-1.1zM156.8 338.8h1.1v1.1h-1.1zM151.5 364.1h1.1v1.1h-1.1zM149.1 333.7h1.1v1.1h-1.1zM182.7 336.0h1.1v1.1h-1.1zM171.1 327.2h1.1v1.1h-1.1zM196.9 341.0h1.1v1.1h-1.1zM180.2 329.4h1.1v1.1h-1.1zM190.2 349.4h1.1v1.1h-1.1zM187.6 342.4h1.1v1.1h-1.1zM197.9 356.6h1.1v1.1h-1.1zM150.0 319.6h1.1v1.1h-1.1zM167.1 329.0h1.1v1.1h-1.1zM197.7 348.8h1.1v1.1h-1.1zM171.5 336.4h1.1v1.1h-1.1zM197.6 325.1h1.1v1.1h-1.1zM156.4 330.1h1.1v1.1h-1.1zM149.7 331.4h1.1v1.1h-1.1zM194.8 345.3h1.1v1.1h-1.1zM168.6 342.8h1.1v1.1h-1.1zM173.8 334.6h1.1v1.1h-1.1zM197.0 325.4h1.1v1.1h-1.1zM158.2 344.9h1.1v1.1h-1.1zM198.7 348.2h1.1v1.1h-1.1zM167.8 322.9h1.1v1.1h-1.1zM159.8 346.1h1.1v1.1h-1.1zM159.0 323.6h1.1v1.1h-1.1zM174.4 333.0h1.1v1.1h-1.1zM171.6 325.8h1.1v1.1h-1.1zM194.2 316.2h1.1v1.1h-1.1zM149.1 328.0h1.1v1.1h-1.1zM148.8 327.0h1.1v1.1h-1.1zM154.7 345.9h1.1v1.1h-1.1zM179.1 343.5h1.1v1.1h-1.1zM188.6 328.5h1.1v1.1h-1.1zM172.3 318.5h1.1v1.1h-1.1zM179.5 320.1h1.1v1.1h-1.1zM181.1 309.8h1.1v1.1h-1.1zM147.4 332.2h1.1v1.1h-1.1zM159.7 333.4h1.1v1.1h-1.1zM200.3 324.4h1.1v1.1h-1.1zM164.3 335.5h1.1v1.1h-1.1zM197.5 336.4h1.1v1.1h-1.1zM173.0 347.4h1.1v1.1h-1.1zM158.4 324.6h1.1v1.1h-1.1zM146.5 347.7h1.1v1.1h-1.1zM158.1 330.0h1.1v1.1h-1.1zM163.8 351.5h1.1v1.1h-1.1zM170.1 323.4h1.1v1.1h-1.1zM170.5 347.2h1.1v1.1h-1.1zM176.0 326.2h1.1v1.1h-1.1zM172.0 353.5h1.1v1.1h-1.1zM148.2 340.6h1.1v1.1h-1.1zM160.8 322.5h1.1v1.1h-1.1zM198.3 344.7h1.1v1.1h-1.1zM147.9 334.9h1.1v1.1h-1.1zM186.0 341.0h1.1v1.1h-1.1zM172.1 361.5h1.1v1.1h-1.1zM184.6 332.2h1.1v1.1h-1.1zM164.4 330.8h1.1v1.1h-1.1zM166.4 348.1h1.1v1.1h-1.1zM174.3 329.3h1.1v1.1h-1.1zM195.5 344.6h1.1v1.1h-1.1zM164.1 346.9h1.1v1.1h-1.1zM151.0 335.6h1.1v1.1h-1.1zM148.5 343.3h1.1v1.1h-1.1zM194.0 310.0h1.1v1.1h-1.1zM163.3 353.1h1.1v1.1h-1.1zM152.9 327.4h1.1v1.1h-1.1zM178.6 324.6h1.1v1.1h-1.1zM192.0 357.8h1.1v1.1h-1.1zM178.8 355.1h1.1v1.1h-1.1zM154.6 329.4h1.1v1.1h-1.1zM168.3 341.1h1.1v1.1h-1.1zM160.8 331.4h1.1v1.1h-1.1zM147.3 322.9h1.1v1.1h-1.1zM198.5 339.8h1.1v1.1h-1.1zM171.2 347.6h1.1v1.1h-1.1zM194.2 333.4h1.1v1.1h-1.1zM199.6 346.1h1.1v1.1h-1.1zM190.5 332.2h1.1v1.1h-1.1zM160.1 333.1h1.1v1.1h-1.1zM156.7 351.2h1.1v1.1h-1.1zM174.8 316.4h1.1v1.1h-1.1zM177.9 323.6h1.1v1.1h-1.1zM193.8 326.2h1.1v1.1h-1.1zM198.6 348.9h1.1v1.1h-1.1zM195.6 340.2h1.1v1.1h-1.1zM164.9 341.8h1.1v1.1h-1.1zM178.0 340.3h1.1v1.1h-1.1zM153.1 348.2h1.1v1.1h-1.1zM174.4 330.8h1.1v1.1h-1.1zM150.2 333.1h1.1v1.1h-1.1zM152.4 331.6h1.1v1.1h-1.1zM153.0 341.3h1.1v1.1h-1.1zM162.7 321.2h1.1v1.1h-1.1zM163.1 333.6h1.1v1.1h-1.1zM150.5 342.8h1.1v1.1h-1.1zM152.4 336.3h1.1v1.1h-1.1zM181.8 324.9h1.1v1.1h-1.1zM182.7 339.0h1.1v1.1h-1.1zM184.8 338.5h1.1v1.1h-1.1zM185.3 343.1h1.1v1.1h-1.1zM182.2 328.2h1.1v1.1h-1.1zM176.2 340.7h1.1v1.1h-1.1zM186.4 342.4h1.1v1.1h-1.1zM150.8 344.0h1.1v1.1h-1.1zM157.8 329.5h1.1v1.1h-1.1zM186.4 341.6h1.1v1.1h-1.1zM156.8 354.4h1.1v1.1h-1.1zM175.1 328.7h1.1v1.1h-1.1zM160.5 343.5h1.1v1.1h-1.1zM169.7 331.7h1.1v1.1h-1.1zM191.4 331.5h1.1v1.1h-1.1zM182.1 322.2h1.1v1.1h-1.1zM170.4 324.0h1.1v1.1h-1.1zM161.2 342.1h1.1v1.1h-1.1zM189.9 337.5h1.1v1.1h-1.1zM181.9 350.1h1.1v1.1h-1.1zM170.2 316.9h1.1v1.1h-1.1zM193.3 330.7h1.1v1.1h-1.1zM183.8 320.1h1.1v1.1h-1.1zM199.4 339.2h1.1v1.1h-1.1zM182.3 358.6h1.1v1.1h-1.1zM195.0 318.6h1.1v1.1h-1.1zM176.1 334.6h1.1v1.1h-1.1zM184.7 334.2h1.1v1.1h-1.1zM191.9 335.1h1.1v1.1h-1.1zM151.3 328.5h1.1v1.1h-1.1zM172.0 329.7h1.1v1.1h-1.1zM179.1 353.5h1.1v1.1h-1.1zM149.5 323.5h1.1v1.1h-1.1zM189.0 341.6h1.1v1.1h-1.1zM185.0 340.9h1.1v1.1h-1.1zM197.0 316.4h1.1v1.1h-1.1zM166.5 325.4h1.1v1.1h-1.1zM171.7 339.5h1.1v1.1h-1.1zM195.6 356.4h1.1v1.1h-1.1zM168.6 333.9h1.1v1.1h-1.1zM191.5 329.7h1.1v1.1h-1.1zM169.2 336.6h1.1v1.1h-1.1zM164.6 349.6h1.1v1.1h-1.1zM161.4 344.5h1.1v1.1h-1.1zM157.9 349.7h1.1v1.1h-1.1zM169.7 333.3h1.1v1.1h-1.1zM155.1 326.5h1.1v1.1h-1.1zM191.1 324.2h1.1v1.1h-1.1zM199.0 343.9h1.1v1.1h-1.1zM151.7 333.1h1.1v1.1h-1.1zM149.4 329.5h1.1v1.1h-1.1zM146.6 341.4h1.1v1.1h-1.1zM196.7 337.3h1.1v1.1h-1.1zM150.4 311.9h1.1v1.1h-1.1zM183.1 333.4h1.1v1.1h-1.1zM162.8 325.8h1.1v1.1h-1.1zM157.1 340.5h1.1v1.1h-1.1zM159.7 335.2h1.1v1.1h-1.1zM183.6 354.8h1.1v1.1h-1.1zM147.4 336.0h1.1v1.1h-1.1zM193.1 322.3h1.1v1.1h-1.1zM177.1 312.2h1.1v1.1h-1.1zM159.1 322.3h1.1v1.1h-1.1zM157.7 328.0h1.1v1.1h-1.1zM181.8 335.1h1.1v1.1h-1.1zM180.4 342.4h1.1v1.1h-1.1zM163.6 337.5h1.1v1.1h-1.1zM164.4 328.8h1.1v1.1h-1.1zM171.4 344.5h1.1v1.1h-1.1zM195.6 325.2h1.1v1.1h-1.1zM175.5 346.7h1.1v1.1h-1.1zM191.8 355.6h1.1v1.1h-1.1zM181.0 347.0h1.1v1.1h-1.1zM176.8 354.3h1.1v1.1h-1.1zM172.8 351.0h1.1v1.1h-1.1zM183.2 323.0h1.1v1.1h-1.1zM172.9 337.9h1.1v1.1h-1.1zM185.6 333.2h1.1v1.1h-1.1zM156.2 322.7h1.1v1.1h-1.1zM163.8 321.6h1.1v1.1h-1.1zM193.6 341.3h1.1v1.1h-1.1zM167.7 320.8h1.1v1.1h-1.1zM191.9 331.4h1.1v1.1h-1.1zM197.0 335.6h1.1v1.1h-1.1zM177.6 330.7h1.1v1.1h-1.1zM151.9 351.6h1.1v1.1h-1.1zM187.3 344.5h1.1v1.1h-1.1zM182.4 336.9h1.1v1.1h-1.1zM162.1 328.9h1.1v1.1h-1.1zM193.0 339.8h1.1v1.1h-1.1zM172.5 337.1h1.1v1.1h-1.1zM149.5 324.8h1.1v1.1h-1.1zM150.1 319.9h1.1v1.1h-1.1zM158.7 327.1h1.1v1.1h-1.1zM179.3 321.5h1.1v1.1h-1.1zM190.4 340.2h1.1v1.1h-1.1zM151.7 339.1h1.1v1.1h-1.1zM147.6 332.1h1.1v1.1h-1.1zM180.0 339.0h1.1v1.1h-1.1zM168.5 341.4h1.1v1.1h-1.1zM170.2 317.2h1.1v1.1h-1.1zM190.7 337.9h1.1v1.1h-1.1zM196.0 346.5h1.1v1.1h-1.1zM198.6 330.2h1.1v1.1h-1.1zM188.5 315.2h1.1v1.1h-1.1zM146.6 334.8h1.1v1.1h-1.1zM154.5 321.9h1.1v1.1h-1.1zM178.1 340.6h1.1v1.1h-1.1zM198.0 341.2h1.1v1.1h-1.1zM150.8 343.4h1.1v1.1h-1.1zM174.2 337.3h1.1v1.1h-1.1zM167.8 315.1h1.1v1.1h-1.1zM168.4 348.6h1.1v1.1h-1.1zM160.9 317.4h1.1v1.1h-1.1zM161.0 347.0h1.1v1.1h-1.1zM159.3 338.3h1.1v1.1h-1.1zM152.0 326.3h1.1v1.1h-1.1zM176.3 328.6h1.1v1.1h-1.1zM170.5 332.5h1.1v1.1h-1.1zM184.9 354.1h1.1v1.1h-1.1zM181.0 331.6h1.1v1.1h-1.1zM197.9 347.1h1.1v1.1h-1.1zM194.1 338.1h1.1v1.1h-1.1zM167.2 333.6h1.1v1.1h-1.1zM182.1 348.5h1.1v1.1h-1.1zM189.9 341.0h1.1v1.1h-1.1zM167.8 350.1h1.1v1.1h-1.1zM170.5 324.7h1.1v1.1h-1.1zM180.5 338.6h1.1v1.1h-1.1zM152.4 329.4h1.1v1.1h-1.1zM175.1 343.3h1.1v1.1h-1.1zM151.5 341.3h1.1v1.1h-1.1zM158.5 321.3h1.1v1.1h-1.1zM180.0 346.5h1.1v1.1h-1.1zM198.9 355.8h1.1v1.1h-1.1zM200.4 331.1h1.1v1.1h-1.1zM160.5 348.4h1.1v1.1h-1.1zM154.3 340.6h1.1v1.1h-1.1zM174.4 325.5h1.1v1.1h-1.1zM170.2 344.8h1.1v1.1h-1.1zM166.9 325.9h1.1v1.1h-1.1zM187.9 343.3h1.1v1.1h-1.1zM184.7 319.0h1.1v1.1h-1.1zM176.7 320.9h1.1v1.1h-1.1zM180.0 341.0h1.1v1.1h-1.1zM177.8 338.1h1.1v1.1h-1.1zM183.0 345.0h1.1v1.1h-1.1zM196.5 333.4h1.1v1.1h-1.1zM197.5 322.8h1.1v1.1h-1.1zM199.3 351.9h1.1v1.1h-1.1zM192.8 325.4h1.1v1.1h-1.1zM152.1 350.5h1.1v1.1h-1.1zM170.8 345.3h1.1v1.1h-1.1zM188.6 355.7h1.1v1.1h-1.1zM162.3 312.1h1.1v1.1h-1.1zM179.2 335.0h1.1v1.1h-1.1zM149.4 332.9h1.1v1.1h-1.1zM157.4 343.2h1.1v1.1h-1.1zM168.0 323.8h1.1v1.1h-1.1zM150.2 359.2h1.1v1.1h-1.1zM169.3 335.4h1.1v1.1h-1.1zM158.8 311.0h1.1v1.1h-1.1zM192.9 340.0h1.1v1.1h-1.1zM163.6 335.5h1.1v1.1h-1.1zM167.0 328.2h1.1v1.1h-1.1zM189.7 344.8h1.1v1.1h-1.1zM176.6 335.4h1.1v1.1h-1.1zM149.1 324.9h1.1v1.1h-1.1zM158.1 333.5h1.1v1.1h-1.1zM179.4 331.5h1.1v1.1h-1.1zM157.2 339.6h1.1v1.1h-1.1zM159.8 332.2h1.1v1.1h-1.1zM180.0 335.1h1.1v1.1h-1.1zM173.1 319.4h1.1v1.1h-1.1zM160.9 327.6h1.1v1.1h-1.1zM176.6 338.4h1.1v1.1h-1.1zM180.6 363.0h1.1v1.1h-1.1zM148.5 327.7h1.1v1.1h-1.1zM161.2 327.2h1.1v1.1h-1.1zM163.0 345.9h1.1v1.1h-1.1zM193.9 358.0h1.1v1.1h-1.1zM149.2 348.4h1.1v1.1h-1.1zM165.1 325.3h1.1v1.1h-1.1zM156.9 347.6h1.1v1.1h-1.1zM183.9 340.8h1.1v1.1h-1.1zM190.2 333.2h1.1v1.1h-1.1zM149.5 322.0h1.1v1.1h-1.1zM193.0 335.9h1.1v1.1h-1.1zM184.0 336.8h1.1v1.1h-1.1zM158.1 341.8h1.1v1.1h-1.1zM195.9 317.4h1.1v1.1h-1.1zM162.2 323.8h1.1v1.1h-1.1zM189.0 336.7h1.1v1.1h-1.1zM150.4 351.3h1.1v1.1h-1.1zM171.0 344.5h1.1v1.1h-1.1zM173.7 329.2h1.1v1.1h-1.1zM194.8 343.7h1.1v1.1h-1.1zM191.6 325.7h1.1v1.1h-1.1zM175.9 331.6h1.1v1.1h-1.1zM149.2 332.4h1.1v1.1h-1.1zM169.6 328.4h1.1v1.1h-1.1zM166.7 330.1h1.1v1.1h-1.1zM200.2 345.2h1.1v1.1h-1.1zM183.2 339.3h1.1v1.1h-1.1zM168.3 309.5h1.1v1.1h-1.1zM166.1 349.2h1.1v1.1h-1.1zM187.8 341.0h1.1v1.1h-1.1zM151.6 323.8h1.1v1.1h-1.1zM190.5 337.5h1.1v1.1h-1.1zM182.6 344.8h1.1v1.1h-1.1zM169.9 350.5h1.1v1.1h-1.1zM184.8 329.7h1.1v1.1h-1.1zM167.9 324.3h1.1v1.1h-1.1zM154.1 320.0h1.1v1.1h-1.1zM168.9 335.1h1.1v1.1h-1.1zM149.2 324.0h1.1v1.1h-1.1zM151.1 347.2h1.1v1.1h-1.1zM170.1 333.8h1.1v1.1h-1.1zM191.0 343.3h1.1v1.1h-1.1zM157.4 333.7h1.1v1.1h-1.1zM173.4 327.3h1.1v1.1h-1.1zM199.3 323.7h1.1v1.1h-1.1zM191.1 346.7h1.1v1.1h-1.1zM195.1 321.5h1.1v1.1h-1.1zM182.8 341.0h1.1v1.1h-1.1zM178.2 347.1h1.1v1.1h-1.1zM177.8 337.6h1.1v1.1h-1.1zM178.9 352.0h1.1v1.1h-1.1zM171.5 335.6h1.1v1.1h-1.1zM165.9 332.4h1.1v1.1h-1.1zM159.3 337.9h1.1v1.1h-1.1zM149.9 329.7h1.1v1.1h-1.1zM166.3 339.2h1.1v1.1h-1.1zM188.0 335.6h1.1v1.1h-1.1zM176.2 351.8h1.1v1.1h-1.1zM155.3 335.2h1.1v1.1h-1.1zM190.4 345.2h1.1v1.1h-1.1zM148.6 340.7h1.1v1.1h-1.1zM196.7 336.7h1.1v1.1h-1.1zM181.6 333.5h1.1v1.1h-1.1zM176.4 354.1h1.1v1.1h-1.1zM168.7 353.2h1.1v1.1h-1.1zM191.0 339.1h1.1v1.1h-1.1zM146.8 330.4h1.1v1.1h-1.1zM147.3 331.7h1.1v1.1h-1.1zM174.5 325.7h1.1v1.1h-1.1zM162.4 321.1h1.1v1.1h-1.1zM168.1 330.1h1.1v1.1h-1.1zM175.4 335.9h1.1v1.1h-1.1zM148.8 347.2h1.1v1.1h-1.1zM199.5 346.3h1.1v1.1h-1.1zM183.0 340.9h1.1v1.1h-1.1zM151.7 332.7h1.1v1.1h-1.1zM186.3 333.2h1.1v1.1h-1.1zM175.2 335.6h1.1v1.1h-1.1zM183.5 337.4h1.1v1.1h-1.1zM186.2 328.6h1.1v1.1h-1.1zM199.9 333.4h1.1v1.1h-1.1zM152.8 332.3h1.1v1.1h-1.1zM200.2 332.2h1.1v1.1h-1.1zM172.2 341.8h1.1v1.1h-1.1zM157.3 347.2h1.1v1.1h-1.1zM166.6 330.2h1.1v1.1h-1.1zM166.1 331.0h1.1v1.1h-1.1zM194.7 338.1h1.1v1.1h-1.1zM174.7 340.3h1.1v1.1h-1.1zM150.0 310.2h1.1v1.1h-1.1zM185.0 344.2h1.1v1.1h-1.1zM173.3 338.1h1.1v1.1h-1.1zM190.4 332.7h1.1v1.1h-1.1zM148.9 348.6h1.1v1.1h-1.1zM193.1 334.4h1.1v1.1h-1.1zM194.6 315.6h1.1v1.1h-1.1zM146.8 325.2h1.1v1.1h-1.1zM172.2 328.6h1.1v1.1h-1.1zM153.0 329.1h1.1v1.1h-1.1zM175.0 334.4h1.1v1.1h-1.1zM151.2 325.0h1.1v1.1h-1.1zM194.3 337.4h1.1v1.1h-1.1zM156.3 340.4h1.1v1.1h-1.1zM182.5 334.5h1.1v1.1h-1.1zM181.7 325.6h1.1v1.1h-1.1zM163.7 332.0h1.1v1.1h-1.1zM158.0 328.1h1.1v1.1h-1.1zM195.8 358.3h1.1v1.1h-1.1zM148.5 322.3h1.1v1.1h-1.1zM160.1 309.5h1.1v1.1h-1.1zM164.0 320.8h1.1v1.1h-1.1zM177.9 339.2h1.1v1.1h-1.1zM166.3 345.2h1.1v1.1h-1.1zM152.4 332.6h1.1v1.1h-1.1zM177.2 346.7h1.1v1.1h-1.1zM185.5 327.6h1.1v1.1h-1.1zM184.5 341.6h1.1v1.1h-1.1zM172.8 324.9h1.1v1.1h-1.1zM163.0 320.4h1.1v1.1h-1.1zM147.0 358.4h1.1v1.1h-1.1zM175.2 332.4h1.1v1.1h-1.1zM180.3 343.5h1.1v1.1h-1.1zM170.2 351.4h1.1v1.1h-1.1zM198.2 342.6h1.1v1.1h-1.1zM157.3 338.1h1.1v1.1h-1.1zM190.4 324.1h1.1v1.1h-1.1zM185.2 352.7h1.1v1.1h-1.1zM195.0 323.9h1.1v1.1h-1.1zM196.3 313.1h1.1v1.1h-1.1zM159.2 329.0h1.1v1.1h-1.1zM196.2 329.6h1.1v1.1h-1.1zM168.2 335.8h1.1v1.1h-1.1zM183.1 348.8h1.1v1.1h-1.1zM197.9 329.7h1.1v1.1h-1.1zM178.5 331.4h1.1v1.1h-1.1zM177.9 327.5h1.1v1.1h-1.1zM178.6 327.5h1.1v1.1h-1.1zM159.4 330.9h1.1v1.1h-1.1zM167.4 318.2h1.1v1.1h-1.1zM166.8 350.7h1.1v1.1h-1.1zM199.0 348.5h1.1v1.1h-1.1zM180.8 339.9h1.1v1.1h-1.1zM185.5 343.0h1.1v1.1h-1.1zM155.7 327.9h1.1v1.1h-1.1zM162.8 339.2h1.1v1.1h-1.1zM193.8 316.2h1.1v1.1h-1.1zM152.9 318.7h1.1v1.1h-1.1zM197.9 327.1h1.1v1.1h-1.1zM169.5 340.0h1.1v1.1h-1.1zM167.5 328.8h1.1v1.1h-1.1zM174.2 326.6h1.1v1.1h-1.1zM170.3 347.6h1.1v1.1h-1.1zM171.8 331.8h1.1v1.1h-1.1zM169.3 327.8h1.1v1.1h-1.1zM184.3 333.3h1.1v1.1h-1.1zM161.3 318.1h1.1v1.1h-1.1zM155.4 322.1h1.1v1.1h-1.1zM169.9 344.9h1.1v1.1h-1.1zM151.2 334.3h1.1v1.1h-1.1zM170.6 345.0h1.1v1.1h-1.1zM173.1 329.2h1.1v1.1h-1.1zM188.8 345.4h1.1v1.1h-1.1zM152.3 325.4h1.1v1.1h-1.1zM167.8 331.3h1.1v1.1h-1.1zM188.6 324.8h1.1v1.1h-1.1zM164.7 337.3h1.1v1.1h-1.1zM191.6 352.0h1.1v1.1h-1.1zM185.2 315.9h1.1v1.1h-1.1zM148.7 337.6h1.1v1.1h-1.1zM167.2 320.3h1.1v1.1h-1.1zM187.8 330.9h1.1v1.1h-1.1zM174.8 328.1h1.1v1.1h-1.1zM182.7 315.2h1.1v1.1h-1.1zM199.9 331.9h1.1v1.1h-1.1zM182.9 320.0h1.1v1.1h-1.1zM175.9 352.3h1.1v1.1h-1.1zM192.1 325.9h1.1v1.1h-1.1zM169.6 338.4h1.1v1.1h-1.1zM147.0 337.2h1.1v1.1h-1.1zM161.1 335.6h1.1v1.1h-1.1zM178.5 331.8h1.1v1.1h-1.1zM197.6 317.2h1.1v1.1h-1.1zM179.2 356.4h1.1v1.1h-1.1zM161.7 335.2h1.1v1.1h-1.1zM200.0 343.7h1.1v1.1h-1.1zM168.0 322.6h1.1v1.1h-1.1zM158.7 340.4h1.1v1.1h-1.1zM176.3 330.6h1.1v1.1h-1.1zM165.0 340.1h1.1v1.1h-1.1zM152.4 328.2h1.1v1.1h-1.1zM184.9 324.3h1.1v1.1h-1.1zM183.7 340.1h1.1v1.1h-1.1zM198.9 335.1h1.1v1.1h-1.1zM153.8 351.6h1.1v1.1h-1.1zM195.6 332.3h1.1v1.1h-1.1zM189.4 326.1h1.1v1.1h-1.1zM160.1 341.9h1.1v1.1h-1.1zM172.3 323.2h1.1v1.1h-1.1zM180.4 358.9h1.1v1.1h-1.1zM163.4 356.4h1.1v1.1h-1.1zM152.2 351.2h1.1v1.1h-1.1zM191.6 341.1h1.1v1.1h-1.1zM155.3 335.5h1.1v1.1h-1.1zM172.9 336.6h1.1v1.1h-1.1zM170.0 336.4h1.1v1.1h-1.1zM195.2 327.6h1.1v1.1h-1.1zM176.6 341.0h1.1v1.1h-1.1zM169.3 349.8h1.1v1.1h-1.1zM199.1 349.6h1.1v1.1h-1.1zM165.4 312.1h1.1v1.1h-1.1zM185.6 362.0h1.1v1.1h-1.1zM159.0 337.7h1.1v1.1h-1.1zM187.3 319.4h1.1v1.1h-1.1zM187.0 330.3h1.1v1.1h-1.1zM191.1 345.0h1.1v1.1h-1.1zM172.6 335.7h1.1v1.1h-1.1zM158.4 326.0h1.1v1.1h-1.1zM180.5 322.2h1.1v1.1h-1.1zM195.6 345.7h1.1v1.1h-1.1zM163.1 327.2h1.1v1.1h-1.1zM147.5 332.9h1.1v1.1h-1.1zM156.4 323.3h1.1v1.1h-1.1zM196.8 320.1h1.1v1.1h-1.1zM146.7 339.5h1.1v1.1h-1.1zM149.3 351.9h1.1v1.1h-1.1zM151.7 331.3h1.1v1.1h-1.1zM194.6 315.8h1.1v1.1h-1.1zM167.1 328.0h1.1v1.1h-1.1zM183.7 333.1h1.1v1.1h-1.1zM184.5 308.8h1.1v1.1h-1.1zM169.8 347.3h1.1v1.1h-1.1zM185.9 325.6h1.1v1.1h-1.1zM171.3 342.1h1.1v1.1h-1.1zM175.7 335.1h1.1v1.1h-1.1zM163.0 334.7h1.1v1.1h-1.1zM146.5 318.7h1.1v1.1h-1.1zM178.4 346.1h1.1v1.1h-1.1zM160.7 341.7h1.1v1.1h-1.1zM161.3 353.5h1.1v1.1h-1.1zM193.9 330.2h1.1v1.1h-1.1zM165.9 340.8h1.1v1.1h-1.1zM151.9 331.0h1.1v1.1h-1.1zM180.4 347.7h1.1v1.1h-1.1zM175.5 339.7h1.1v1.1h-1.1zM149.5 324.1h1.1v1.1h-1.1zM165.2 337.6h1.1v1.1h-1.1zM179.4 328.7h1.1v1.1h-1.1zM161.5 329.8h1.1v1.1h-1.1zM199.7 339.6h1.1v1.1h-1.1zM189.5 353.1h1.1v1.1h-1.1zM173.6 324.7h1.1v1.1h-1.1zM195.8 333.8h1.1v1.1h-1.1zM148.3 324.7h1.1v1.1h-1.1zM158.5 358.2h1.1v1.1h-1.1zM195.8 354.2h1.1v1.1h-1.1zM173.9 359.6h1.1v1.1h-1.1zM155.6 345.5h1.1v1.1h-1.1zM177.2 324.0h1.1v1.1h-1.1zM185.8 329.4h1.1v1.1h-1.1zM179.0 336.1h1.1v1.1h-1.1zM148.9 334.2h1.1v1.1h-1.1zM148.4 327.2h1.1v1.1h-1.1zM168.4 339.1h1.1v1.1h-1.1zM147.3 331.3h1.1v1.1h-1.1zM150.9 334.1h1.1v1.1h-1.1zM181.1 360.1h1.1v1.1h-1.1zM170.1 340.0h1.1v1.1h-1.1zM151.0 320.5h1.1v1.1h-1.1zM193.7 340.1h1.1v1.1h-1.1zM166.3 337.3h1.1v1.1h-1.1zM194.1 342.5h1.1v1.1h-1.1zM179.3 341.1h1.1v1.1h-1.1zM179.9 323.1h1.1v1.1h-1.1zM169.3 338.7h1.1v1.1h-1.1zM182.7 347.1h1.1v1.1h-1.1zM160.3 342.1h1.1v1.1h-1.1zM193.6 357.7h1.1v1.1h-1.1zM157.4 356.1h1.1v1.1h-1.1zM167.2 326.8h1.1v1.1h-1.1zM186.6 327.8h1.1v1.1h-1.1zM164.2 357.1h1.1v1.1h-1.1zM166.2 326.2h1.1v1.1h-1.1zM195.5 330.5h1.1v1.1h-1.1zM157.5 344.4h1.1v1.1h-1.1zM159.4 327.5h1.1v1.1h-1.1zM194.3 353.9h1.1v1.1h-1.1zM161.3 349.1h1.1v1.1h-1.1zM164.3 351.8h1.1v1.1h-1.1zM194.0 348.1h1.1v1.1h-1.1zM163.7 325.9h1.1v1.1h-1.1zM200.2 350.6h1.1v1.1h-1.1zM190.7 348.6h1.1v1.1h-1.1zM192.1 346.3h1.1v1.1h-1.1zM158.6 333.5h1.1v1.1h-1.1zM158.1 339.5h1.1v1.1h-1.1zM187.0 326.0h1.1v1.1h-1.1zM191.0 343.6h1.1v1.1h-1.1zM158.5 350.1h1.1v1.1h-1.1zM157.5 341.3h1.1v1.1h-1.1zM159.6 335.3h1.1v1.1h-1.1zM153.8 346.1h1.1v1.1h-1.1zM169.1 332.6h1.1v1.1h-1.1zM173.6 315.4h1.1v1.1h-1.1zM180.3 342.3h1.1v1.1h-1.1zM149.4 335.3h1.1v1.1h-1.1zM156.8 320.7h1.1v1.1h-1.1zM152.7 343.0h1.1v1.1h-1.1zM161.0 345.3h1.1v1.1h-1.1zM156.4 348.0h1.1v1.1h-1.1zM197.0 331.4h1.1v1.1h-1.1zM166.6 330.1h1.1v1.1h-1.1zM153.9 337.5h1.1v1.1h-1.1zM182.4 335.4h1.1v1.1h-1.1zM198.9 321.6h1.1v1.1h-1.1zM189.3 326.2h1.1v1.1h-1.1zM181.4 351.6h1.1v1.1h-1.1zM166.8 336.0h1.1v1.1h-1.1zM168.2 334.7h1.1v1.1h-1.1zM162.7 327.9h1.1v1.1h-1.1zM189.9 338.4h1.1v1.1h-1.1zM189.8 343.2h1.1v1.1h-1.1zM172.8 341.1h1.1v1.1h-1.1zM192.9 355.9h1.1v1.1h-1.1zM181.6 336.3h1.1v1.1h-1.1zM183.4 342.7h1.1v1.1h-1.1zM160.9 330.8h1.1v1.1h-1.1zM159.4 347.5h1.1v1.1h-1.1zM158.7 340.9h1.1v1.1h-1.1zM195.7 347.0h1.1v1.1h-1.1zM189.6 348.0h1.1v1.1h-1.1zM195.0 328.2h1.1v1.1h-1.1zM190.8 341.3h1.1v1.1h-1.1zM189.9 331.1h1.1v1.1h-1.1zM169.9 348.6h1.1v1.1h-1.1zM187.7 335.0h1.1v1.1h-1.1zM155.4 355.0h1.1v1.1h-1.1zM181.8 341.4h1.1v1.1h-1.1zM148.7 341.7h1.1v1.1h-1.1zM198.6 329.6h1.1v1.1h-1.1zM193.9 334.1h1.1v1.1h-1.1zM155.3 338.1h1.1v1.1h-1.1zM187.9 326.8h1.1v1.1h-1.1zM190.9 334.0h1.1v1.1h-1.1zM148.7 330.1h1.1v1.1h-1.1zM177.0 327.6h1.1v1.1h-1.1zM169.1 336.9h1.1v1.1h-1.1zM179.8 339.4h1.1v1.1h-1.1zM194.3 332.5h1.1v1.1h-1.1zM185.4 340.8h1.1v1.1h-1.1zM157.8 331.8h1.1v1.1h-1.1zM176.4 323.8h1.1v1.1h-1.1zM176.7 326.6h1.1v1.1h-1.1zM147.0 340.4h1.1v1.1h-1.1zM153.5 350.5h1.1v1.1h-1.1zM165.8 336.8h1.1v1.1h-1.1zM156.0 337.6h1.1v1.1h-1.1zM159.2 323.8h1.1v1.1h-1.1zM182.9 340.5h1.1v1.1h-1.1zM198.3 338.5h1.1v1.1h-1.1zM171.1 328.0h1.1v1.1h-1.1zM181.3 341.5h1.1v1.1h-1.1zM187.5 338.0h1.1v1.1h-1.1zM182.7 317.1h1.1v1.1h-1.1zM181.9 319.6h1.1v1.1h-1.1zM146.5 329.2h1.1v1.1h-1.1zM193.4 333.2h1.1v1.1h-1.1zM155.1 347.0h1.1v1.1h-1.1zM156.1 330.0h1.1v1.1h-1.1zM173.9 335.6h1.1v1.1h-1.1zM178.1 333.7h1.1v1.1h-1.1zM187.2 342.0h1.1v1.1h-1.1zM162.2 336.3h1.1v1.1h-1.1zM197.4 338.3h1.1v1.1h-1.1zM180.3 332.7h1.1v1.1h-1.1zM192.0 320.3h1.1v1.1h-1.1zM172.2 332.2h1.1v1.1h-1.1zM150.2 354.7h1.1v1.1h-1.1zM147.1 347.0h1.1v1.1h-1.1zM181.0 353.9h1.1v1.1h-1.1zM169.4 345.1h1.1v1.1h-1.1zM170.2 330.0h1.1v1.1h-1.1zM164.0 331.7h1.1v1.1h-1.1zM156.0 342.9h1.1v1.1h-1.1zM172.0 333.2h1.1v1.1h-1.1zM160.2 344.7h1.1v1.1h-1.1zM194.6 352.1h1.1v1.1h-1.1zM156.1 351.9h1.1v1.1h-1.1zM198.7 345.8h1.1v1.1h-1.1zM192.9 320.4h1.1v1.1h-1.1zM167.1 351.2h1.1v1.1h-1.1zM188.1 322.3h1.1v1.1h-1.1zM177.8 321.4h1.1v1.1h-1.1zM171.6 338.3h1.1v1.1h-1.1zM190.2 336.8h1.1v1.1h-1.1zM191.3 343.1h1.1v1.1h-1.1zM157.3 336.5h1.1v1.1h-1.1zM195.3 328.9h1.1v1.1h-1.1zM148.1 336.1h1.1v1.1h-1.1zM146.7 325.1h1.1v1.1h-1.1zM172.5 323.0h1.1v1.1h-1.1zM162.7 332.4h1.1v1.1h-1.1zM169.2 332.6h1.1v1.1h-1.1zM172.3 336.9h1.1v1.1h-1.1zM171.7 332.4h1.1v1.1h-1.1zM195.4 348.7h1.1v1.1h-1.1zM196.0 331.7h1.1v1.1h-1.1zM165.1 334.0h1.1v1.1h-1.1zM161.9 345.9h1.1v1.1h-1.1zM181.7 312.2h1.1v1.1h-1.1zM157.1 347.1h1.1v1.1h-1.1zM168.0 346.0h1.1v1.1h-1.1zM185.2 333.2h1.1v1.1h-1.1zM146.7 357.9h1.1v1.1h-1.1zM188.1 345.1h1.1v1.1h-1.1zM186.0 353.3h1.1v1.1h-1.1zM167.3 347.1h1.1v1.1h-1.1zM159.8 337.8h1.1v1.1h-1.1zM175.6 332.7h1.1v1.1h-1.1zM162.4 324.0h1.1v1.1h-1.1zM190.7 327.3h1.1v1.1h-1.1zM178.3 323.1h1.1v1.1h-1.1zM163.0 329.7h1.1v1.1h-1.1zM190.0 341.5h1.1v1.1h-1.1zM179.2 323.8h1.1v1.1h-1.1zM153.5 341.7h1.1v1.1h-1.1zM168.8 343.1h1.1v1.1h-1.1zM172.8 319.2h1.1v1.1h-1.1zM197.4 327.5h1.1v1.1h-1.1zM163.7 333.8h1.1v1.1h-1.1zM170.6 327.9h1.1v1.1h-1.1zM199.1 326.5h1.1v1.1h-1.1zM169.4 351.5h1.1v1.1h-1.1zM191.1 337.3h1.1v1.1h-1.1zM151.6 349.5h1.1v1.1h-1.1zM167.7 334.9h1.1v1.1h-1.1zM156.3 343.8h1.1v1.1h-1.1zM194.1 321.1h1.1v1.1h-1.1zM176.2 330.5h1.1v1.1h-1.1zM158.2 345.4h1.1v1.1h-1.1zM151.4 336.5h1.1v1.1h-1.1zM169.1 349.8h1.1v1.1h-1.1zM151.6 335.8h1.1v1.1h-1.1zM172.6 330.2h1.1v1.1h-1.1zM185.8 333.4h1.1v1.1h-1.1zM163.2 357.9h1.1v1.1h-1.1zM155.4 340.0h1.1v1.1h-1.1zM165.9 330.6h1.1v1.1h-1.1zM155.4 332.9h1.1v1.1h-1.1zM192.0 323.4h1.1v1.1h-1.1zM151.6 350.7h1.1v1.1h-1.1zM186.4 330.5h1.1v1.1h-1.1zM164.4 343.6h1.1v1.1h-1.1zM185.7 334.1h1.1v1.1h-1.1zM188.0 331.8h1.1v1.1h-1.1zM153.7 328.6h1.1v1.1h-1.1zM187.3 342.8h1.1v1.1h-1.1zM197.5 334.3h1.1v1.1h-1.1zM177.0 349.4h1.1v1.1h-1.1zM181.2 352.1h1.1v1.1h-1.1zM163.8 330.1h1.1v1.1h-1.1zM155.8 336.9h1.1v1.1h-1.1zM186.6 354.4h1.1v1.1h-1.1zM190.7 345.8h1.1v1.1h-1.1zM157.5 336.1h1.1v1.1h-1.1zM152.5 318.9h1.1v1.1h-1.1zM165.4 324.6h1.1v1.1h-1.1zM180.2 327.4h1.1v1.1h-1.1zM166.1 356.3h1.1v1.1h-1.1zM198.5 337.4h1.1v1.1h-1.1zM189.1 331.0h1.1v1.1h-1.1zM195.9 331.9h1.1v1.1h-1.1zM178.8 331.7h1.1v1.1h-1.1zM187.2 338.9h1.1v1.1h-1.1zM197.8 316.7h1.1v1.1h-1.1zM148.3 319.8h1.1v1.1h-1.1zM177.4 337.4h1.1v1.1h-1.1zM156.5 347.3h1.1v1.1h-1.1zM189.3 313.4h1.1v1.1h-1.1zM159.0 342.5h1.1v1.1h-1.1zM186.4 323.0h1.1v1.1h-1.1zM164.4 315.0h1.1v1.1h-1.1zM181.6 346.9h1.1v1.1h-1.1zM183.1 333.1h1.1v1.1h-1.1zM195.5 340.2h1.1v1.1h-1.1zM193.5 330.6h1.1v1.1h-1.1zM170.0 332.8h1.1v1.1h-1.1zM183.6 314.6h1.1v1.1h-1.1zM156.2 329.7h1.1v1.1h-1.1zM151.7 336.4h1.1v1.1h-1.1zM185.0 323.7h1.1v1.1h-1.1zM195.4 339.4h1.1v1.1h-1.1zM186.7 340.4h1.1v1.1h-1.1zM174.3 311.3h1.1v1.1h-1.1zM180.4 345.5h1.1v1.1h-1.1zM185.8 341.8h1.1v1.1h-1.1zM177.1 335.8h1.1v1.1h-1.1z" fill="#f0801a" fill-opacity="0.8"/>
<rect x="173.4" y="280.9" width="1.2" height="1.2" fill="#f5891f"/>
<rect x="173.4" y="302.0" width="1.2" height="1.2" fill="#f5891f"/>
<rect x="173.4" y="370.4" width="1.2" height="1.2" fill="#f5891f"/>
<rect x="200.4" y="379.4" width="1.2" height="1.2" fill="#f5891f"/>
<rect x="147.5" y="382.8" width="1.2" height="1.2" fill="#f5891f"/>
<rect x="114.9" y="355.2" width="1.2" height="1.2" fill="#2ca02c"/>
<rect x="87.6" y="322.4" width="54.2" height="1.9" fill="#3580c0"/>
<rect x="146.5" y="334.8" width="53.9" height="1.9" fill="#3580c0"/>
<text x="64.5" y="400.0" text-anchor="start"  style="font-family:'Liberation Sans', sans-serif;font-size:11.6px;fill:#1e1e1e">Subnetwork A</text>
<text x="148.3" y="400.0" text-anchor="start"  style="font-family:'Liberation Sans', sans-serif;font-size:11.6px;fill:#1e1e1e">Subnetwork B</text>
<text transform="translate(8.5,327.5) rotate(-90)" text-anchor="middle" style="font-family:'Liberation Sans', sans-serif;font-size:11.4px;fill:#1e1e1e">Strength of connection</text>
<text transform="translate(23.2,328) rotate(-90)" text-anchor="middle" style="font-family:'Liberation Sans', sans-serif;font-size:11.4px;fill:#1e1e1e">between subnetwork and DM</text>
<rect x="311.1" y="270.8" width="142.9" height="112.7" fill="#f0f0f0"/>
<rect x="333.0" y="270.8" width="2" height="112.7" fill="#ffffff"/>
<rect x="357.2" y="270.8" width="2" height="112.7" fill="#ffffff"/>
<rect x="381.5" y="270.8" width="2" height="112.7" fill="#ffffff"/>
<rect x="405.7" y="270.8" width="2" height="112.7" fill="#ffffff"/>
<rect x="430.0" y="270.8" width="2" height="112.7" fill="#ffffff"/>
<rect x="311.1" y="372.6" width="142.9" height="2" fill="#ffffff"/>
<rect x="311.1" y="361.1" width="142.9" height="2" fill="#ffffff"/>
<rect x="311.1" y="349.6" width="142.9" height="2" fill="#ffffff"/>
<rect x="311.1" y="338.1" width="142.9" height="2" fill="#ffffff"/>
<rect x="311.1" y="326.5" width="142.9" height="2" fill="#ffffff"/>
<rect x="311.1" y="315.0" width="142.9" height="2" fill="#ffffff"/>
<rect x="311.1" y="303.5" width="142.9" height="2" fill="#ffffff"/>
<rect x="311.1" y="291.9" width="142.9" height="2" fill="#ffffff"/>
<rect x="311.1" y="280.4" width="142.9" height="2" fill="#ffffff"/>
<text x="306.4" y="273.3" text-anchor="end"  style="font-family:'Liberation Sans', sans-serif;font-size:11.7px;fill:#1e1e1e">0.2</text>
<text x="306.4" y="296.3" text-anchor="end"  style="font-family:'Liberation Sans', sans-serif;font-size:11.7px;fill:#1e1e1e">0.1</text>
<text x="306.4" y="319.4" text-anchor="end"  style="font-family:'Liberation Sans', sans-serif;font-size:11.7px;fill:#1e1e1e">0</text>
<text x="306.4" y="342.4" text-anchor="end"  style="font-family:'Liberation Sans', sans-serif;font-size:11.7px;fill:#1e1e1e">−0.1</text>
<text x="306.4" y="365.5" text-anchor="end"  style="font-family:'Liberation Sans', sans-serif;font-size:11.7px;fill:#1e1e1e">−0.2</text>
<text x="306.4" y="388.5" text-anchor="end"  style="font-family:'Liberation Sans', sans-serif;font-size:11.7px;fill:#1e1e1e">−0.3</text>
<text x="311.0" y="396.8" text-anchor="middle"  style="font-family:'Liberation Sans', sans-serif;font-size:11.7px;fill:#1e1e1e">15</text>
<text x="333.8" y="396.8" text-anchor="middle"  style="font-family:'Liberation Sans', sans-serif;font-size:11.7px;fill:#1e1e1e">20</text>
<text x="358.1" y="396.8" text-anchor="middle"  style="font-family:'Liberation Sans', sans-serif;font-size:11.7px;fill:#1e1e1e">25</text>
<text x="382.7" y="396.8" text-anchor="middle"  style="font-family:'Liberation Sans', sans-serif;font-size:11.7px;fill:#1e1e1e">30</text>
<text x="406.7" y="396.8" text-anchor="middle"  style="font-family:'Liberation Sans', sans-serif;font-size:11.7px;fill:#1e1e1e">35</text>
<text x="430.9" y="396.8" text-anchor="middle"  style="font-family:'Liberation Sans', sans-serif;font-size:11.7px;fill:#1e1e1e">40</text>
<text x="453.5" y="396.8" text-anchor="middle"  style="font-family:'Liberation Sans', sans-serif;font-size:11.7px;fill:#1e1e1e">45</text>
<text x="382.6" y="413.2" text-anchor="middle"  style="font-family:'Liberation Sans', sans-serif;font-size:11.7px;fill:#1e1e1e">Subnetwork A activity</text>
<text transform="translate(262.2,327.6) rotate(-90)" text-anchor="middle" style="font-family:'Liberation Sans', sans-serif;font-size:11.7px;fill:#1e1e1e">Strength of FP-DM</text>
<text transform="translate(275.9,327.6) rotate(-90)" text-anchor="middle" style="font-family:'Liberation Sans', sans-serif;font-size:11.7px;fill:#1e1e1e">connection</text>
<path d="M351.0 334.4a1.5 1.5 0 1 0 3 0a1.5 1.5 0 1 0 -3 0zM391.2 321.1a1.5 1.5 0 1 0 3 0a1.5 1.5 0 1 0 -3 0zM358.3 329.9a1.5 1.5 0 1 0 3 0a1.5 1.5 0 1 0 -3 0zM352.0 343.1a1.5 1.5 0 1 0 3 0a1.5 1.5 0 1 0 -3 0zM370.8 305.6a1.5 1.5 0 1 0 3 0a1.5 1.5 0 1 0 -3 0zM383.3 331.9a1.5 1.5 0 1 0 3 0a1.5 1.5 0 1 0 -3 0zM345.7 323.8a1.5 1.5 0 1 0 3 0a1.5 1.5 0 1 0 -3 0zM349.4 330.4a1.5 1.5 0 1 0 3 0a1.5 1.5 0 1 0 -3 0zM363.5 313.8a1.5 1.5 0 1 0 3 0a1.5 1.5 0 1 0 -3 0zM366.0 358.5a1.5 1.5 0 1 0 3 0a1.5 1.5 0 1 0 -3 0zM345.5 306.7a1.5 1.5 0 1 0 3 0a1.5 1.5 0 1 0 -3 0zM347.0 336.4a1.5 1.5 0 1 0 3 0a1.5 1.5 0 1 0 -3 0zM362.3 346.6a1.5 1.5 0 1 0 3 0a1.5 1.5 0 1 0 -3 0zM372.8 326.3a1.5 1.5 0 1 0 3 0a1.5 1.5 0 1 0 -3 0zM372.6 298.1a1.5 1.5 0 1 0 3 0a1.5 1.5 0 1 0 -3 0zM368.1 322.3a1.5 1.5 0 1 0 3 0a1.5 1.5 0 1 0 -3 0zM342.3 351.0a1.5 1.5 0 1 0 3 0a1.5 1.5 0 1 0 -3 0zM352.6 338.5a1.5 1.5 0 1 0 3 0a1.5 1.5 0 1 0 -3 0zM367.8 311.4a1.5 1.5 0 1 0 3 0a1.5 1.5 0 1 0 -3 0zM379.8 345.2a1.5 1.5 0 1 0 3 0a1.5 1.5 0 1 0 -3 0zM338.3 337.9a1.5 1.5 0 1 0 3 0a1.5 1.5 0 1 0 -3 0zM417.7 322.3a1.5 1.5 0 1 0 3 0a1.5 1.5 0 1 0 -3 0zM401.9 293.0a1.5 1.5 0 1 0 3 0a1.5 1.5 0 1 0 -3 0zM346.4 337.6a1.5 1.5 0 1 0 3 0a1.5 1.5 0 1 0 -3 0zM382.7 308.5a1.5 1.5 0 1 0 3 0a1.5 1.5 0 1 0 -3 0zM355.4 340.8a1.5 1.5 0 1 0 3 0a1.5 1.5 0 1 0 -3 0zM372.8 338.7a1.5 1.5 0 1 0 3 0a1.5 1.5 0 1 0 -3 0zM361.4 317.2a1.5 1.5 0 1 0 3 0a1.5 1.5 0 1 0 -3 0zM425.4 308.5a1.5 1.5 0 1 0 3 0a1.5 1.5 0 1 0 -3 0zM413.6 342.2a1.5 1.5 0 1 0 3 0a1.5 1.5 0 1 0 -3 0zM354.3 323.5a1.5 1.5 0 1 0 3 0a1.5 1.5 0 1 0 -3 0zM388.7 316.1a1.5 1.5 0 1 0 3 0a1.5 1.5 0 1 0 -3 0zM430.8 323.7a1.5 1.5 0 1 0 3 0a1.5 1.5 0 1 0 -3 0zM371.4 325.5a1.5 1.5 0 1 0 3 0a1.5 1.5 0 1 0 -3 0zM403.5 317.9a1.5 1.5 0 1 0 3 0a1.5 1.5 0 1 0 -3 0zM364.7 336.3a1.5 1.5 0 1 0 3 0a1.5 1.5 0 1 0 -3 0zM388.0 332.6a1.5 1.5 0 1 0 3 0a1.5 1.5 0 1 0 -3 0zM357.3 340.3a1.5 1.5 0 1 0 3 0a1.5 1.5 0 1 0 -3 0zM375.6 331.1a1.5 1.5 0 1 0 3 0a1.5 1.5 0 1 0 -3 0zM369.7 346.4a1.5 1.5 0 1 0 3 0a1.5 1.5 0 1 0 -3 0zM363.3 330.7a1.5 1.5 0 1 0 3 0a1.5 1.5 0 1 0 -3 0zM359.6 350.8a1.5 1.5 0 1 0 3 0a1.5 1.5 0 1 0 -3 0zM354.4 331.1a1.5 1.5 0 1 0 3 0a1.5 1.5 0 1 0 -3 0zM373.0 329.2a1.5 1.5 0 1 0 3 0a1.5 1.5 0 1 0 -3 0zM374.7 341.4a1.5 1.5 0 1 0 3 0a1.5 1.5 0 1 0 -3 0zM362.6 319.0a1.5 1.5 0 1 0 3 0a1.5 1.5 0 1 0 -3 0zM382.5 300.3a1.5 1.5 0 1 0 3 0a1.5 1.5 0 1 0 -3 0zM387.7 307.3a1.5 1.5 0 1 0 3 0a1.5 1.5 0 1 0 -3 0zM360.2 348.9a1.5 1.5 0 1 0 3 0a1.5 1.5 0 1 0 -3 0zM345.2 317.1a1.5 1.5 0 1 0 3 0a1.5 1.5 0 1 0 -3 0zM380.6 323.5a1.5 1.5 0 1 0 3 0a1.5 1.5 0 1 0 -3 0zM371.7 329.0a1.5 1.5 0 1 0 3 0a1.5 1.5 0 1 0 -3 0zM362.5 338.2a1.5 1.5 0 1 0 3 0a1.5 1.5 0 1 0 -3 0zM410.2 320.1a1.5 1.5 0 1 0 3 0a1.5 1.5 0 1 0 -3 0zM344.2 315.8a1.5 1.5 0 1 0 3 0a1.5 1.5 0 1 0 -3 0zM380.4 319.3a1.5 1.5 0 1 0 3 0a1.5 1.5 0 1 0 -3 0zM371.4 333.9a1.5 1.5 0 1 0 3 0a1.5 1.5 0 1 0 -3 0zM369.3 337.8a1.5 1.5 0 1 0 3 0a1.5 1.5 0 1 0 -3 0zM342.3 340.2a1.5 1.5 0 1 0 3 0a1.5 1.5 0 1 0 -3 0zM356.2 323.9a1.5 1.5 0 1 0 3 0a1.5 1.5 0 1 0 -3 0zM374.8 302.9a1.5 1.5 0 1 0 3 0a1.5 1.5 0 1 0 -3 0zM410.7 334.0a1.5 1.5 0 1 0 3 0a1.5 1.5 0 1 0 -3 0zM359.9 330.9a1.5 1.5 0 1 0 3 0a1.5 1.5 0 1 0 -3 0zM348.6 338.4a1.5 1.5 0 1 0 3 0a1.5 1.5 0 1 0 -3 0zM381.1 336.3a1.5 1.5 0 1 0 3 0a1.5 1.5 0 1 0 -3 0zM416.4 313.5a1.5 1.5 0 1 0 3 0a1.5 1.5 0 1 0 -3 0zM373.4 320.7a1.5 1.5 0 1 0 3 0a1.5 1.5 0 1 0 -3 0zM344.0 353.1a1.5 1.5 0 1 0 3 0a1.5 1.5 0 1 0 -3 0zM362.0 344.2a1.5 1.5 0 1 0 3 0a1.5 1.5 0 1 0 -3 0zM384.3 309.8a1.5 1.5 0 1 0 3 0a1.5 1.5 0 1 0 -3 0zM350.1 328.8a1.5 1.5 0 1 0 3 0a1.5 1.5 0 1 0 -3 0zM399.2 315.5a1.5 1.5 0 1 0 3 0a1.5 1.5 0 1 0 -3 0zM358.9 337.8a1.5 1.5 0 1 0 3 0a1.5 1.5 0 1 0 -3 0zM387.5 330.0a1.5 1.5 0 1 0 3 0a1.5 1.5 0 1 0 -3 0zM372.2 322.2a1.5 1.5 0 1 0 3 0a1.5 1.5 0 1 0 -3 0zM394.5 330.0a1.5 1.5 0 1 0 3 0a1.5 1.5 0 1 0 -3 0zM379.3 341.4a1.5 1.5 0 1 0 3 0a1.5 1.5 0 1 0 -3 0zM364.3 329.9a1.5 1.5 0 1 0 3 0a1.5 1.5 0 1 0 -3 0zM383.1 313.9a1.5 1.5 0 1 0 3 0a1.5 1.5 0 1 0 -3 0zM363.4 343.8a1.5 1.5 0 1 0 3 0a1.5 1.5 0 1 0 -3 0zM359.1 317.1a1.5 1.5 0 1 0 3 0a1.5 1.5 0 1 0 -3 0zM388.4 315.5a1.5 1.5 0 1 0 3 0a1.5 1.5 0 1 0 -3 0zM415.5 330.4a1.5 1.5 0 1 0 3 0a1.5 1.5 0 1 0 -3 0zM363.6 330.0a1.5 1.5 0 1 0 3 0a1.5 1.5 0 1 0 -3 0zM360.4 331.3a1.5 1.5 0 1 0 3 0a1.5 1.5 0 1 0 -3 0zM400.8 313.7a1.5 1.5 0 1 0 3 0a1.5 1.5 0 1 0 -3 0zM349.3 324.3a1.5 1.5 0 1 0 3 0a1.5 1.5 0 1 0 -3 0zM351.5 349.9a1.5 1.5 0 1 0 3 0a1.5 1.5 0 1 0 -3 0zM365.1 347.6a1.5 1.5 0 1 0 3 0a1.5 1.5 0 1 0 -3 0zM350.5 319.3a1.5 1.5 0 1 0 3 0a1.5 1.5 0 1 0 -3 0zM351.8 331.1a1.5 1.5 0 1 0 3 0a1.5 1.5 0 1 0 -3 0zM367.5 323.7a1.5 1.5 0 1 0 3 0a1.5 1.5 0 1 0 -3 0zM359.9 326.5a1.5 1.5 0 1 0 3 0a1.5 1.5 0 1 0 -3 0zM347.8 313.2a1.5 1.5 0 1 0 3 0a1.5 1.5 0 1 0 -3 0zM405.0 337.2a1.5 1.5 0 1 0 3 0a1.5 1.5 0 1 0 -3 0zM356.9 317.1a1.5 1.5 0 1 0 3 0a1.5 1.5 0 1 0 -3 0zM349.8 343.9a1.5 1.5 0 1 0 3 0a1.5 1.5 0 1 0 -3 0zM361.1 321.0a1.5 1.5 0 1 0 3 0a1.5 1.5 0 1 0 -3 0zM381.0 308.6a1.5 1.5 0 1 0 3 0a1.5 1.5 0 1 0 -3 0zM374.5 346.1a1.5 1.5 0 1 0 3 0a1.5 1.5 0 1 0 -3 0zM366.5 324.1a1.5 1.5 0 1 0 3 0a1.5 1.5 0 1 0 -3 0zM369.6 332.6a1.5 1.5 0 1 0 3 0a1.5 1.5 0 1 0 -3 0zM391.7 323.5a1.5 1.5 0 1 0 3 0a1.5 1.5 0 1 0 -3 0zM354.6 346.0a1.5 1.5 0 1 0 3 0a1.5 1.5 0 1 0 -3 0zM349.2 345.9a1.5 1.5 0 1 0 3 0a1.5 1.5 0 1 0 -3 0zM392.6 315.2a1.5 1.5 0 1 0 3 0a1.5 1.5 0 1 0 -3 0zM391.9 312.8a1.5 1.5 0 1 0 3 0a1.5 1.5 0 1 0 -3 0zM358.3 338.7a1.5 1.5 0 1 0 3 0a1.5 1.5 0 1 0 -3 0zM346.9 352.9a1.5 1.5 0 1 0 3 0a1.5 1.5 0 1 0 -3 0zM381.0 295.7a1.5 1.5 0 1 0 3 0a1.5 1.5 0 1 0 -3 0zM373.2 313.5a1.5 1.5 0 1 0 3 0a1.5 1.5 0 1 0 -3 0zM375.2 322.9a1.5 1.5 0 1 0 3 0a1.5 1.5 0 1 0 -3 0zM368.1 342.7a1.5 1.5 0 1 0 3 0a1.5 1.5 0 1 0 -3 0zM398.9 330.2a1.5 1.5 0 1 0 3 0a1.5 1.5 0 1 0 -3 0zM361.9 327.3a1.5 1.5 0 1 0 3 0a1.5 1.5 0 1 0 -3 0zM412.8 332.2a1.5 1.5 0 1 0 3 0a1.5 1.5 0 1 0 -3 0zM360.4 309.6a1.5 1.5 0 1 0 3 0a1.5 1.5 0 1 0 -3 0zM396.0 321.3a1.5 1.5 0 1 0 3 0a1.5 1.5 0 1 0 -3 0zM381.5 321.1a1.5 1.5 0 1 0 3 0a1.5 1.5 0 1 0 -3 0zM432.9 328.8a1.5 1.5 0 1 0 3 0a1.5 1.5 0 1 0 -3 0zM365.4 341.7a1.5 1.5 0 1 0 3 0a1.5 1.5 0 1 0 -3 0zM391.7 334.5a1.5 1.5 0 1 0 3 0a1.5 1.5 0 1 0 -3 0zM350.7 329.2a1.5 1.5 0 1 0 3 0a1.5 1.5 0 1 0 -3 0zM347.6 337.0a1.5 1.5 0 1 0 3 0a1.5 1.5 0 1 0 -3 0zM348.1 337.2a1.5 1.5 0 1 0 3 0a1.5 1.5 0 1 0 -3 0zM356.3 327.5a1.5 1.5 0 1 0 3 0a1.5 1.5 0 1 0 -3 0zM378.9 323.8a1.5 1.5 0 1 0 3 0a1.5 1.5 0 1 0 -3 0zM363.6 310.5a1.5 1.5 0 1 0 3 0a1.5 1.5 0 1 0 -3 0zM385.4 328.0a1.5 1.5 0 1 0 3 0a1.5 1.5 0 1 0 -3 0zM341.5 348.2a1.5 1.5 0 1 0 3 0a1.5 1.5 0 1 0 -3 0zM381.8 326.3a1.5 1.5 0 1 0 3 0a1.5 1.5 0 1 0 -3 0zM364.0 310.7a1.5 1.5 0 1 0 3 0a1.5 1.5 0 1 0 -3 0zM359.0 338.4a1.5 1.5 0 1 0 3 0a1.5 1.5 0 1 0 -3 0zM355.1 331.3a1.5 1.5 0 1 0 3 0a1.5 1.5 0 1 0 -3 0zM347.0 338.4a1.5 1.5 0 1 0 3 0a1.5 1.5 0 1 0 -3 0zM386.3 319.9a1.5 1.5 0 1 0 3 0a1.5 1.5 0 1 0 -3 0zM349.7 329.7a1.5 1.5 0 1 0 3 0a1.5 1.5 0 1 0 -3 0zM358.2 341.9a1.5 1.5 0 1 0 3 0a1.5 1.5 0 1 0 -3 0zM349.7 336.1a1.5 1.5 0 1 0 3 0a1.5 1.5 0 1 0 -3 0zM376.5 314.9a1.5 1.5 0 1 0 3 0a1.5 1.5 0 1 0 -3 0zM349.8 318.6a1.5 1.5 0 1 0 3 0a1.5 1.5 0 1 0 -3 0zM385.2 313.3a1.5 1.5 0 1 0 3 0a1.5 1.5 0 1 0 -3 0zM358.5 319.8a1.5 1.5 0 1 0 3 0a1.5 1.5 0 1 0 -3 0zM371.8 332.7a1.5 1.5 0 1 0 3 0a1.5 1.5 0 1 0 -3 0zM385.1 330.2a1.5 1.5 0 1 0 3 0a1.5 1.5 0 1 0 -3 0zM365.7 317.4a1.5 1.5 0 1 0 3 0a1.5 1.5 0 1 0 -3 0zM347.4 349.0a1.5 1.5 0 1 0 3 0a1.5 1.5 0 1 0 -3 0zM389.6 325.3a1.5 1.5 0 1 0 3 0a1.5 1.5 0 1 0 -3 0zM390.2 348.8a1.5 1.5 0 1 0 3 0a1.5 1.5 0 1 0 -3 0zM365.4 334.7a1.5 1.5 0 1 0 3 0a1.5 1.5 0 1 0 -3 0zM377.8 336.3a1.5 1.5 0 1 0 3 0a1.5 1.5 0 1 0 -3 0zM360.8 346.5a1.5 1.5 0 1 0 3 0a1.5 1.5 0 1 0 -3 0zM363.5 322.5a1.5 1.5 0 1 0 3 0a1.5 1.5 0 1 0 -3 0zM388.9 334.3a1.5 1.5 0 1 0 3 0a1.5 1.5 0 1 0 -3 0zM362.0 335.3a1.5 1.5 0 1 0 3 0a1.5 1.5 0 1 0 -3 0zM368.3 332.5a1.5 1.5 0 1 0 3 0a1.5 1.5 0 1 0 -3 0zM430.1 325.5a1.5 1.5 0 1 0 3 0a1.5 1.5 0 1 0 -3 0zM391.1 305.5a1.5 1.5 0 1 0 3 0a1.5 1.5 0 1 0 -3 0zM356.1 338.2a1.5 1.5 0 1 0 3 0a1.5 1.5 0 1 0 -3 0zM359.3 328.4a1.5 1.5 0 1 0 3 0a1.5 1.5 0 1 0 -3 0zM390.6 341.4a1.5 1.5 0 1 0 3 0a1.5 1.5 0 1 0 -3 0zM398.8 328.7a1.5 1.5 0 1 0 3 0a1.5 1.5 0 1 0 -3 0zM404.3 325.6a1.5 1.5 0 1 0 3 0a1.5 1.5 0 1 0 -3 0zM396.6 327.0a1.5 1.5 0 1 0 3 0a1.5 1.5 0 1 0 -3 0zM392.7 331.5a1.5 1.5 0 1 0 3 0a1.5 1.5 0 1 0 -3 0zM354.3 330.2a1.5 1.5 0 1 0 3 0a1.5 1.5 0 1 0 -3 0zM383.3 305.4a1.5 1.5 0 1 0 3 0a1.5 1.5 0 1 0 -3 0zM341.0 336.7a1.5 1.5 0 1 0 3 0a1.5 1.5 0 1 0 -3 0zM392.1 325.8a1.5 1.5 0 1 0 3 0a1.5 1.5 0 1 0 -3 0zM364.0 335.1a1.5 1.5 0 1 0 3 0a1.5 1.5 0 1 0 -3 0zM401.9 288.5a1.5 1.5 0 1 0 3 0a1.5 1.5 0 1 0 -3 0zM402.2 300.6a1.5 1.5 0 1 0 3 0a1.5 1.5 0 1 0 -3 0zM385.0 318.2a1.5 1.5 0 1 0 3 0a1.5 1.5 0 1 0 -3 0zM375.9 318.2a1.5 1.5 0 1 0 3 0a1.5 1.5 0 1 0 -3 0zM372.9 337.4a1.5 1.5 0 1 0 3 0a1.5 1.5 0 1 0 -3 0zM359.1 333.0a1.5 1.5 0 1 0 3 0a1.5 1.5 0 1 0 -3 0zM371.0 325.7a1.5 1.5 0 1 0 3 0a1.5 1.5 0 1 0 -3 0zM362.2 328.8a1.5 1.5 0 1 0 3 0a1.5 1.5 0 1 0 -3 0zM373.0 339.3a1.5 1.5 0 1 0 3 0a1.5 1.5 0 1 0 -3 0zM362.2 340.6a1.5 1.5 0 1 0 3 0a1.5 1.5 0 1 0 -3 0zM376.0 320.6a1.5 1.5 0 1 0 3 0a1.5 1.5 0 1 0 -3 0zM354.5 327.9a1.5 1.5 0 1 0 3 0a1.5 1.5 0 1 0 -3 0zM356.9 359.2a1.5 1.5 0 1 0 3 0a1.5 1.5 0 1 0 -3 0zM363.0 329.0a1.5 1.5 0 1 0 3 0a1.5 1.5 0 1 0 -3 0zM401.9 305.1a1.5 1.5 0 1 0 3 0a1.5 1.5 0 1 0 -3 0zM354.2 340.6a1.5 1.5 0 1 0 3 0a1.5 1.5 0 1 0 -3 0zM361.9 327.3a1.5 1.5 0 1 0 3 0a1.5 1.5 0 1 0 -3 0zM366.4 348.5a1.5 1.5 0 1 0 3 0a1.5 1.5 0 1 0 -3 0zM425.8 305.8a1.5 1.5 0 1 0 3 0a1.5 1.5 0 1 0 -3 0zM365.4 344.3a1.5 1.5 0 1 0 3 0a1.5 1.5 0 1 0 -3 0zM355.7 348.2a1.5 1.5 0 1 0 3 0a1.5 1.5 0 1 0 -3 0zM380.2 330.6a1.5 1.5 0 1 0 3 0a1.5 1.5 0 1 0 -3 0zM356.5 300.5a1.5 1.5 0 1 0 3 0a1.5 1.5 0 1 0 -3 0zM344.0 342.3a1.5 1.5 0 1 0 3 0a1.5 1.5 0 1 0 -3 0zM363.8 346.6a1.5 1.5 0 1 0 3 0a1.5 1.5 0 1 0 -3 0zM371.4 322.3a1.5 1.5 0 1 0 3 0a1.5 1.5 0 1 0 -3 0zM355.0 328.9a1.5 1.5 0 1 0 3 0a1.5 1.5 0 1 0 -3 0zM384.4 303.8a1.5 1.5 0 1 0 3 0a1.5 1.5 0 1 0 -3 0zM369.5 345.4a1.5 1.5 0 1 0 3 0a1.5 1.5 0 1 0 -3 0zM385.5 346.2a1.5 1.5 0 1 0 3 0a1.5 1.5 0 1 0 -3 0zM433.6 319.1a1.5 1.5 0 1 0 3 0a1.5 1.5 0 1 0 -3 0zM373.8 322.9a1.5 1.5 0 1 0 3 0a1.5 1.5 0 1 0 -3 0zM332.2 332.1a1.5 1.5 0 1 0 3 0a1.5 1.5 0 1 0 -3 0zM369.0 314.7a1.5 1.5 0 1 0 3 0a1.5 1.5 0 1 0 -3 0zM358.6 350.7a1.5 1.5 0 1 0 3 0a1.5 1.5 0 1 0 -3 0zM398.8 333.3a1.5 1.5 0 1 0 3 0a1.5 1.5 0 1 0 -3 0zM402.8 323.3a1.5 1.5 0 1 0 3 0a1.5 1.5 0 1 0 -3 0zM378.3 315.9a1.5 1.5 0 1 0 3 0a1.5 1.5 0 1 0 -3 0zM404.2 315.1a1.5 1.5 0 1 0 3 0a1.5 1.5 0 1 0 -3 0zM361.9 335.9a1.5 1.5 0 1 0 3 0a1.5 1.5 0 1 0 -3 0zM359.3 344.4a1.5 1.5 0 1 0 3 0a1.5 1.5 0 1 0 -3 0zM385.7 313.7a1.5 1.5 0 1 0 3 0a1.5 1.5 0 1 0 -3 0zM381.0 313.8a1.5 1.5 0 1 0 3 0a1.5 1.5 0 1 0 -3 0zM365.8 294.0a1.5 1.5 0 1 0 3 0a1.5 1.5 0 1 0 -3 0zM361.5 332.8a1.5 1.5 0 1 0 3 0a1.5 1.5 0 1 0 -3 0zM364.3 308.6a1.5 1.5 0 1 0 3 0a1.5 1.5 0 1 0 -3 0zM395.3 339.1a1.5 1.5 0 1 0 3 0a1.5 1.5 0 1 0 -3 0zM368.3 336.2a1.5 1.5 0 1 0 3 0a1.5 1.5 0 1 0 -3 0zM377.6 335.9a1.5 1.5 0 1 0 3 0a1.5 1.5 0 1 0 -3 0zM385.4 331.4a1.5 1.5 0 1 0 3 0a1.5 1.5 0 1 0 -3 0zM377.7 338.5a1.5 1.5 0 1 0 3 0a1.5 1.5 0 1 0 -3 0zM385.4 332.5a1.5 1.5 0 1 0 3 0a1.5 1.5 0 1 0 -3 0zM354.0 332.8a1.5 1.5 0 1 0 3 0a1.5 1.5 0 1 0 -3 0zM364.5 335.7a1.5 1.5 0 1 0 3 0a1.5 1.5 0 1 0 -3 0zM389.3 315.9a1.5 1.5 0 1 0 3 0a1.5 1.5 0 1 0 -3 0zM366.4 330.5a1.5 1.5 0 1 0 3 0a1.5 1.5 0 1 0 -3 0zM413.2 319.4a1.5 1.5 0 1 0 3 0a1.5 1.5 0 1 0 -3 0zM375.0 308.3a1.5 1.5 0 1 0 3 0a1.5 1.5 0 1 0 -3 0zM375.8 323.3a1.5 1.5 0 1 0 3 0a1.5 1.5 0 1 0 -3 0zM376.5 325.2a1.5 1.5 0 1 0 3 0a1.5 1.5 0 1 0 -3 0zM366.7 329.6a1.5 1.5 0 1 0 3 0a1.5 1.5 0 1 0 -3 0zM378.5 326.0a1.5 1.5 0 1 0 3 0a1.5 1.5 0 1 0 -3 0zM388.6 317.2a1.5 1.5 0 1 0 3 0a1.5 1.5 0 1 0 -3 0zM370.9 339.0a1.5 1.5 0 1 0 3 0a1.5 1.5 0 1 0 -3 0zM373.9 312.8a1.5 1.5 0 1 0 3 0a1.5 1.5 0 1 0 -3 0zM360.6 310.1a1.5 1.5 0 1 0 3 0a1.5 1.5 0 1 0 -3 0zM353.1 317.2a1.5 1.5 0 1 0 3 0a1.5 1.5 0 1 0 -3 0zM399.5 328.8a1.5 1.5 0 1 0 3 0a1.5 1.5 0 1 0 -3 0zM368.3 349.9a1.5 1.5 0 1 0 3 0a1.5 1.5 0 1 0 -3 0zM369.3 334.5a1.5 1.5 0 1 0 3 0a1.5 1.5 0 1 0 -3 0zM370.1 326.6a1.5 1.5 0 1 0 3 0a1.5 1.5 0 1 0 -3 0zM389.6 313.6a1.5 1.5 0 1 0 3 0a1.5 1.5 0 1 0 -3 0zM392.2 326.3a1.5 1.5 0 1 0 3 0a1.5 1.5 0 1 0 -3 0zM351.7 336.6a1.5 1.5 0 1 0 3 0a1.5 1.5 0 1 0 -3 0zM366.0 309.6a1.5 1.5 0 1 0 3 0a1.5 1.5 0 1 0 -3 0zM376.5 336.0a1.5 1.5 0 1 0 3 0a1.5 1.5 0 1 0 -3 0zM370.3 314.6a1.5 1.5 0 1 0 3 0a1.5 1.5 0 1 0 -3 0zM360.7 318.8a1.5 1.5 0 1 0 3 0a1.5 1.5 0 1 0 -3 0zM380.1 343.9a1.5 1.5 0 1 0 3 0a1.5 1.5 0 1 0 -3 0zM354.5 328.3a1.5 1.5 0 1 0 3 0a1.5 1.5 0 1 0 -3 0zM358.5 338.4a1.5 1.5 0 1 0 3 0a1.5 1.5 0 1 0 -3 0zM338.3 347.9a1.5 1.5 0 1 0 3 0a1.5 1.5 0 1 0 -3 0zM367.1 353.5a1.5 1.5 0 1 0 3 0a1.5 1.5 0 1 0 -3 0zM356.1 352.2a1.5 1.5 0 1 0 3 0a1.5 1.5 0 1 0 -3 0zM400.9 316.6a1.5 1.5 0 1 0 3 0a1.5 1.5 0 1 0 -3 0zM414.2 324.2a1.5 1.5 0 1 0 3 0a1.5 1.5 0 1 0 -3 0zM338.6 331.8a1.5 1.5 0 1 0 3 0a1.5 1.5 0 1 0 -3 0zM362.1 344.3a1.5 1.5 0 1 0 3 0a1.5 1.5 0 1 0 -3 0zM407.2 324.8a1.5 1.5 0 1 0 3 0a1.5 1.5 0 1 0 -3 0zM395.6 326.7a1.5 1.5 0 1 0 3 0a1.5 1.5 0 1 0 -3 0zM356.0 351.9a1.5 1.5 0 1 0 3 0a1.5 1.5 0 1 0 -3 0zM350.4 354.6a1.5 1.5 0 1 0 3 0a1.5 1.5 0 1 0 -3 0zM358.3 325.4a1.5 1.5 0 1 0 3 0a1.5 1.5 0 1 0 -3 0zM390.3 322.4a1.5 1.5 0 1 0 3 0a1.5 1.5 0 1 0 -3 0zM381.7 338.3a1.5 1.5 0 1 0 3 0a1.5 1.5 0 1 0 -3 0zM363.7 331.3a1.5 1.5 0 1 0 3 0a1.5 1.5 0 1 0 -3 0zM364.6 321.1a1.5 1.5 0 1 0 3 0a1.5 1.5 0 1 0 -3 0zM353.2 308.3a1.5 1.5 0 1 0 3 0a1.5 1.5 0 1 0 -3 0zM377.4 338.7a1.5 1.5 0 1 0 3 0a1.5 1.5 0 1 0 -3 0zM361.3 322.4a1.5 1.5 0 1 0 3 0a1.5 1.5 0 1 0 -3 0zM353.3 304.5a1.5 1.5 0 1 0 3 0a1.5 1.5 0 1 0 -3 0zM356.5 330.7a1.5 1.5 0 1 0 3 0a1.5 1.5 0 1 0 -3 0zM406.1 301.7a1.5 1.5 0 1 0 3 0a1.5 1.5 0 1 0 -3 0zM345.2 367.9a1.5 1.5 0 1 0 3 0a1.5 1.5 0 1 0 -3 0zM392.5 304.8a1.5 1.5 0 1 0 3 0a1.5 1.5 0 1 0 -3 0zM394.4 323.5a1.5 1.5 0 1 0 3 0a1.5 1.5 0 1 0 -3 0zM377.6 351.6a1.5 1.5 0 1 0 3 0a1.5 1.5 0 1 0 -3 0zM359.9 320.6a1.5 1.5 0 1 0 3 0a1.5 1.5 0 1 0 -3 0zM370.2 314.9a1.5 1.5 0 1 0 3 0a1.5 1.5 0 1 0 -3 0zM377.7 311.2a1.5 1.5 0 1 0 3 0a1.5 1.5 0 1 0 -3 0zM370.3 312.9a1.5 1.5 0 1 0 3 0a1.5 1.5 0 1 0 -3 0zM345.1 334.4a1.5 1.5 0 1 0 3 0a1.5 1.5 0 1 0 -3 0zM355.5 341.6a1.5 1.5 0 1 0 3 0a1.5 1.5 0 1 0 -3 0zM363.9 336.0a1.5 1.5 0 1 0 3 0a1.5 1.5 0 1 0 -3 0zM354.4 332.5a1.5 1.5 0 1 0 3 0a1.5 1.5 0 1 0 -3 0zM374.7 322.3a1.5 1.5 0 1 0 3 0a1.5 1.5 0 1 0 -3 0zM369.3 335.1a1.5 1.5 0 1 0 3 0a1.5 1.5 0 1 0 -3 0zM411.8 319.0a1.5 1.5 0 1 0 3 0a1.5 1.5 0 1 0 -3 0zM362.0 318.9a1.5 1.5 0 1 0 3 0a1.5 1.5 0 1 0 -3 0zM365.4 325.4a1.5 1.5 0 1 0 3 0a1.5 1.5 0 1 0 -3 0zM407.1 290.6a1.5 1.5 0 1 0 3 0a1.5 1.5 0 1 0 -3 0zM387.5 296.6a1.5 1.5 0 1 0 3 0a1.5 1.5 0 1 0 -3 0zM353.1 347.3a1.5 1.5 0 1 0 3 0a1.5 1.5 0 1 0 -3 0zM384.0 333.1a1.5 1.5 0 1 0 3 0a1.5 1.5 0 1 0 -3 0zM354.6 349.1a1.5 1.5 0 1 0 3 0a1.5 1.5 0 1 0 -3 0zM377.7 342.3a1.5 1.5 0 1 0 3 0a1.5 1.5 0 1 0 -3 0zM431.6 308.2a1.5 1.5 0 1 0 3 0a1.5 1.5 0 1 0 -3 0zM364.7 342.8a1.5 1.5 0 1 0 3 0a1.5 1.5 0 1 0 -3 0zM389.5 338.2a1.5 1.5 0 1 0 3 0a1.5 1.5 0 1 0 -3 0zM381.5 329.7a1.5 1.5 0 1 0 3 0a1.5 1.5 0 1 0 -3 0zM404.9 310.6a1.5 1.5 0 1 0 3 0a1.5 1.5 0 1 0 -3 0zM360.5 335.4a1.5 1.5 0 1 0 3 0a1.5 1.5 0 1 0 -3 0zM371.1 333.1a1.5 1.5 0 1 0 3 0a1.5 1.5 0 1 0 -3 0zM383.2 313.8a1.5 1.5 0 1 0 3 0a1.5 1.5 0 1 0 -3 0zM363.8 323.8a1.5 1.5 0 1 0 3 0a1.5 1.5 0 1 0 -3 0zM359.7 324.9a1.5 1.5 0 1 0 3 0a1.5 1.5 0 1 0 -3 0zM375.4 315.1a1.5 1.5 0 1 0 3 0a1.5 1.5 0 1 0 -3 0zM386.3 338.4a1.5 1.5 0 1 0 3 0a1.5 1.5 0 1 0 -3 0zM381.2 323.4a1.5 1.5 0 1 0 3 0a1.5 1.5 0 1 0 -3 0zM356.1 340.0a1.5 1.5 0 1 0 3 0a1.5 1.5 0 1 0 -3 0zM374.2 314.3a1.5 1.5 0 1 0 3 0a1.5 1.5 0 1 0 -3 0zM371.7 317.6a1.5 1.5 0 1 0 3 0a1.5 1.5 0 1 0 -3 0zM400.2 335.9a1.5 1.5 0 1 0 3 0a1.5 1.5 0 1 0 -3 0zM357.8 313.7a1.5 1.5 0 1 0 3 0a1.5 1.5 0 1 0 -3 0zM363.4 345.4a1.5 1.5 0 1 0 3 0a1.5 1.5 0 1 0 -3 0zM408.8 304.9a1.5 1.5 0 1 0 3 0a1.5 1.5 0 1 0 -3 0zM364.2 327.2a1.5 1.5 0 1 0 3 0a1.5 1.5 0 1 0 -3 0zM354.7 343.4a1.5 1.5 0 1 0 3 0a1.5 1.5 0 1 0 -3 0zM361.9 345.1a1.5 1.5 0 1 0 3 0a1.5 1.5 0 1 0 -3 0zM361.1 334.6a1.5 1.5 0 1 0 3 0a1.5 1.5 0 1 0 -3 0zM360.8 330.9a1.5 1.5 0 1 0 3 0a1.5 1.5 0 1 0 -3 0zM405.4 330.4a1.5 1.5 0 1 0 3 0a1.5 1.5 0 1 0 -3 0zM357.8 323.9a1.5 1.5 0 1 0 3 0a1.5 1.5 0 1 0 -3 0zM347.8 351.9a1.5 1.5 0 1 0 3 0a1.5 1.5 0 1 0 -3 0zM398.7 322.6a1.5 1.5 0 1 0 3 0a1.5 1.5 0 1 0 -3 0zM373.4 327.9a1.5 1.5 0 1 0 3 0a1.5 1.5 0 1 0 -3 0zM379.8 351.2a1.5 1.5 0 1 0 3 0a1.5 1.5 0 1 0 -3 0zM373.5 323.8a1.5 1.5 0 1 0 3 0a1.5 1.5 0 1 0 -3 0zM379.0 343.3a1.5 1.5 0 1 0 3 0a1.5 1.5 0 1 0 -3 0zM382.8 358.8a1.5 1.5 0 1 0 3 0a1.5 1.5 0 1 0 -3 0zM374.5 335.8a1.5 1.5 0 1 0 3 0a1.5 1.5 0 1 0 -3 0zM347.2 336.6a1.5 1.5 0 1 0 3 0a1.5 1.5 0 1 0 -3 0zM370.5 316.7a1.5 1.5 0 1 0 3 0a1.5 1.5 0 1 0 -3 0zM354.2 338.5a1.5 1.5 0 1 0 3 0a1.5 1.5 0 1 0 -3 0zM375.3 308.1a1.5 1.5 0 1 0 3 0a1.5 1.5 0 1 0 -3 0zM370.8 309.6a1.5 1.5 0 1 0 3 0a1.5 1.5 0 1 0 -3 0zM401.7 307.4a1.5 1.5 0 1 0 3 0a1.5 1.5 0 1 0 -3 0zM355.1 314.5a1.5 1.5 0 1 0 3 0a1.5 1.5 0 1 0 -3 0zM353.9 327.5a1.5 1.5 0 1 0 3 0a1.5 1.5 0 1 0 -3 0zM353.3 339.6a1.5 1.5 0 1 0 3 0a1.5 1.5 0 1 0 -3 0zM380.7 317.8a1.5 1.5 0 1 0 3 0a1.5 1.5 0 1 0 -3 0zM352.5 319.7a1.5 1.5 0 1 0 3 0a1.5 1.5 0 1 0 -3 0zM353.3 329.1a1.5 1.5 0 1 0 3 0a1.5 1.5 0 1 0 -3 0zM383.7 328.9a1.5 1.5 0 1 0 3 0a1.5 1.5 0 1 0 -3 0zM350.9 353.4a1.5 1.5 0 1 0 3 0a1.5 1.5 0 1 0 -3 0zM346.5 324.8a1.5 1.5 0 1 0 3 0a1.5 1.5 0 1 0 -3 0zM353.3 327.6a1.5 1.5 0 1 0 3 0a1.5 1.5 0 1 0 -3 0zM371.0 345.6a1.5 1.5 0 1 0 3 0a1.5 1.5 0 1 0 -3 0zM348.7 331.9a1.5 1.5 0 1 0 3 0a1.5 1.5 0 1 0 -3 0zM369.2 319.3a1.5 1.5 0 1 0 3 0a1.5 1.5 0 1 0 -3 0zM357.0 332.9a1.5 1.5 0 1 0 3 0a1.5 1.5 0 1 0 -3 0zM387.8 314.5a1.5 1.5 0 1 0 3 0a1.5 1.5 0 1 0 -3 0zM365.2 319.8a1.5 1.5 0 1 0 3 0a1.5 1.5 0 1 0 -3 0zM413.0 338.9a1.5 1.5 0 1 0 3 0a1.5 1.5 0 1 0 -3 0zM366.8 333.3a1.5 1.5 0 1 0 3 0a1.5 1.5 0 1 0 -3 0zM355.5 325.4a1.5 1.5 0 1 0 3 0a1.5 1.5 0 1 0 -3 0zM369.9 316.6a1.5 1.5 0 1 0 3 0a1.5 1.5 0 1 0 -3 0zM364.7 311.2a1.5 1.5 0 1 0 3 0a1.5 1.5 0 1 0 -3 0zM359.4 356.2a1.5 1.5 0 1 0 3 0a1.5 1.5 0 1 0 -3 0zM431.2 316.4a1.5 1.5 0 1 0 3 0a1.5 1.5 0 1 0 -3 0zM397.7 313.3a1.5 1.5 0 1 0 3 0a1.5 1.5 0 1 0 -3 0zM391.5 307.9a1.5 1.5 0 1 0 3 0a1.5 1.5 0 1 0 -3 0zM391.9 301.7a1.5 1.5 0 1 0 3 0a1.5 1.5 0 1 0 -3 0zM353.8 344.5a1.5 1.5 0 1 0 3 0a1.5 1.5 0 1 0 -3 0zM359.5 335.8a1.5 1.5 0 1 0 3 0a1.5 1.5 0 1 0 -3 0zM350.7 346.7a1.5 1.5 0 1 0 3 0a1.5 1.5 0 1 0 -3 0zM392.9 313.0a1.5 1.5 0 1 0 3 0a1.5 1.5 0 1 0 -3 0zM412.9 336.9a1.5 1.5 0 1 0 3 0a1.5 1.5 0 1 0 -3 0zM362.0 314.8a1.5 1.5 0 1 0 3 0a1.5 1.5 0 1 0 -3 0zM367.5 316.9a1.5 1.5 0 1 0 3 0a1.5 1.5 0 1 0 -3 0zM361.9 324.0a1.5 1.5 0 1 0 3 0a1.5 1.5 0 1 0 -3 0zM375.8 356.1a1.5 1.5 0 1 0 3 0a1.5 1.5 0 1 0 -3 0zM371.6 337.3a1.5 1.5 0 1 0 3 0a1.5 1.5 0 1 0 -3 0zM375.0 317.7a1.5 1.5 0 1 0 3 0a1.5 1.5 0 1 0 -3 0zM379.1 345.4a1.5 1.5 0 1 0 3 0a1.5 1.5 0 1 0 -3 0zM371.7 331.5a1.5 1.5 0 1 0 3 0a1.5 1.5 0 1 0 -3 0zM364.6 331.2a1.5 1.5 0 1 0 3 0a1.5 1.5 0 1 0 -3 0zM398.3 310.8a1.5 1.5 0 1 0 3 0a1.5 1.5 0 1 0 -3 0zM377.5 323.3a1.5 1.5 0 1 0 3 0a1.5 1.5 0 1 0 -3 0zM356.3 328.0a1.5 1.5 0 1 0 3 0a1.5 1.5 0 1 0 -3 0zM402.0 327.6a1.5 1.5 0 1 0 3 0a1.5 1.5 0 1 0 -3 0zM367.7 329.1a1.5 1.5 0 1 0 3 0a1.5 1.5 0 1 0 -3 0zM388.3 326.5a1.5 1.5 0 1 0 3 0a1.5 1.5 0 1 0 -3 0zM367.8 319.5a1.5 1.5 0 1 0 3 0a1.5 1.5 0 1 0 -3 0zM410.9 322.2a1.5 1.5 0 1 0 3 0a1.5 1.5 0 1 0 -3 0zM411.0 306.2a1.5 1.5 0 1 0 3 0a1.5 1.5 0 1 0 -3 0zM369.8 351.1a1.5 1.5 0 1 0 3 0a1.5 1.5 0 1 0 -3 0zM366.5 313.6a1.5 1.5 0 1 0 3 0a1.5 1.5 0 1 0 -3 0zM363.9 332.2a1.5 1.5 0 1 0 3 0a1.5 1.5 0 1 0 -3 0zM379.5 311.7a1.5 1.5 0 1 0 3 0a1.5 1.5 0 1 0 -3 0zM380.8 325.3a1.5 1.5 0 1 0 3 0a1.5 1.5 0 1 0 -3 0zM343.2 323.2a1.5 1.5 0 1 0 3 0a1.5 1.5 0 1 0 -3 0zM354.2 312.4a1.5 1.5 0 1 0 3 0a1.5 1.5 0 1 0 -3 0zM401.3 329.3a1.5 1.5 0 1 0 3 0a1.5 1.5 0 1 0 -3 0zM372.6 327.1a1.5 1.5 0 1 0 3 0a1.5 1.5 0 1 0 -3 0zM342.4 336.9a1.5 1.5 0 1 0 3 0a1.5 1.5 0 1 0 -3 0zM369.5 326.1a1.5 1.5 0 1 0 3 0a1.5 1.5 0 1 0 -3 0zM356.5 353.0a1.5 1.5 0 1 0 3 0a1.5 1.5 0 1 0 -3 0zM361.7 332.7a1.5 1.5 0 1 0 3 0a1.5 1.5 0 1 0 -3 0zM353.4 335.5a1.5 1.5 0 1 0 3 0a1.5 1.5 0 1 0 -3 0zM361.9 340.8a1.5 1.5 0 1 0 3 0a1.5 1.5 0 1 0 -3 0zM351.9 335.2a1.5 1.5 0 1 0 3 0a1.5 1.5 0 1 0 -3 0zM360.2 351.2a1.5 1.5 0 1 0 3 0a1.5 1.5 0 1 0 -3 0zM355.1 313.4a1.5 1.5 0 1 0 3 0a1.5 1.5 0 1 0 -3 0zM387.5 319.0a1.5 1.5 0 1 0 3 0a1.5 1.5 0 1 0 -3 0zM362.6 305.4a1.5 1.5 0 1 0 3 0a1.5 1.5 0 1 0 -3 0zM373.1 339.6a1.5 1.5 0 1 0 3 0a1.5 1.5 0 1 0 -3 0zM358.1 346.7a1.5 1.5 0 1 0 3 0a1.5 1.5 0 1 0 -3 0zM384.5 321.9a1.5 1.5 0 1 0 3 0a1.5 1.5 0 1 0 -3 0zM372.6 350.2a1.5 1.5 0 1 0 3 0a1.5 1.5 0 1 0 -3 0zM360.4 327.8a1.5 1.5 0 1 0 3 0a1.5 1.5 0 1 0 -3 0zM392.1 333.2a1.5 1.5 0 1 0 3 0a1.5 1.5 0 1 0 -3 0zM365.2 334.2a1.5 1.5 0 1 0 3 0a1.5 1.5 0 1 0 -3 0zM433.4 311.7a1.5 1.5 0 1 0 3 0a1.5 1.5 0 1 0 -3 0zM373.2 327.4a1.5 1.5 0 1 0 3 0a1.5 1.5 0 1 0 -3 0zM371.8 303.7a1.5 1.5 0 1 0 3 0a1.5 1.5 0 1 0 -3 0zM372.2 319.9a1.5 1.5 0 1 0 3 0a1.5 1.5 0 1 0 -3 0zM398.9 339.6a1.5 1.5 0 1 0 3 0a1.5 1.5 0 1 0 -3 0zM372.7 315.2a1.5 1.5 0 1 0 3 0a1.5 1.5 0 1 0 -3 0zM361.5 348.2a1.5 1.5 0 1 0 3 0a1.5 1.5 0 1 0 -3 0zM350.8 331.7a1.5 1.5 0 1 0 3 0a1.5 1.5 0 1 0 -3 0zM411.4 336.3a1.5 1.5 0 1 0 3 0a1.5 1.5 0 1 0 -3 0zM398.8 333.5a1.5 1.5 0 1 0 3 0a1.5 1.5 0 1 0 -3 0zM405.8 303.7a1.5 1.5 0 1 0 3 0a1.5 1.5 0 1 0 -3 0zM367.8 336.6a1.5 1.5 0 1 0 3 0a1.5 1.5 0 1 0 -3 0zM351.5 341.2a1.5 1.5 0 1 0 3 0a1.5 1.5 0 1 0 -3 0zM374.5 335.2a1.5 1.5 0 1 0 3 0a1.5 1.5 0 1 0 -3 0zM354.2 336.3a1.5 1.5 0 1 0 3 0a1.5 1.5 0 1 0 -3 0zM360.5 311.7a1.5 1.5 0 1 0 3 0a1.5 1.5 0 1 0 -3 0zM397.3 338.4a1.5 1.5 0 1 0 3 0a1.5 1.5 0 1 0 -3 0zM359.8 347.3a1.5 1.5 0 1 0 3 0a1.5 1.5 0 1 0 -3 0zM350.1 325.4a1.5 1.5 0 1 0 3 0a1.5 1.5 0 1 0 -3 0zM370.5 349.7a1.5 1.5 0 1 0 3 0a1.5 1.5 0 1 0 -3 0zM344.7 339.0a1.5 1.5 0 1 0 3 0a1.5 1.5 0 1 0 -3 0zM379.6 311.7a1.5 1.5 0 1 0 3 0a1.5 1.5 0 1 0 -3 0zM353.5 332.3a1.5 1.5 0 1 0 3 0a1.5 1.5 0 1 0 -3 0zM399.9 328.7a1.5 1.5 0 1 0 3 0a1.5 1.5 0 1 0 -3 0zM348.1 342.9a1.5 1.5 0 1 0 3 0a1.5 1.5 0 1 0 -3 0zM350.0 345.2a1.5 1.5 0 1 0 3 0a1.5 1.5 0 1 0 -3 0zM360.7 338.6a1.5 1.5 0 1 0 3 0a1.5 1.5 0 1 0 -3 0zM337.3 334.0a1.5 1.5 0 1 0 3 0a1.5 1.5 0 1 0 -3 0zM349.6 316.8a1.5 1.5 0 1 0 3 0a1.5 1.5 0 1 0 -3 0zM365.9 316.9a1.5 1.5 0 1 0 3 0a1.5 1.5 0 1 0 -3 0zM379.1 334.3a1.5 1.5 0 1 0 3 0a1.5 1.5 0 1 0 -3 0zM364.3 339.7a1.5 1.5 0 1 0 3 0a1.5 1.5 0 1 0 -3 0zM377.8 318.0a1.5 1.5 0 1 0 3 0a1.5 1.5 0 1 0 -3 0zM371.8 352.4a1.5 1.5 0 1 0 3 0a1.5 1.5 0 1 0 -3 0zM367.9 335.1a1.5 1.5 0 1 0 3 0a1.5 1.5 0 1 0 -3 0zM353.7 336.7a1.5 1.5 0 1 0 3 0a1.5 1.5 0 1 0 -3 0zM363.3 345.0a1.5 1.5 0 1 0 3 0a1.5 1.5 0 1 0 -3 0zM389.5 337.8a1.5 1.5 0 1 0 3 0a1.5 1.5 0 1 0 -3 0zM388.0 320.4a1.5 1.5 0 1 0 3 0a1.5 1.5 0 1 0 -3 0zM380.5 348.5a1.5 1.5 0 1 0 3 0a1.5 1.5 0 1 0 -3 0zM355.2 344.2a1.5 1.5 0 1 0 3 0a1.5 1.5 0 1 0 -3 0zM397.0 331.7a1.5 1.5 0 1 0 3 0a1.5 1.5 0 1 0 -3 0zM356.5 330.8a1.5 1.5 0 1 0 3 0a1.5 1.5 0 1 0 -3 0zM369.1 347.3a1.5 1.5 0 1 0 3 0a1.5 1.5 0 1 0 -3 0zM410.1 306.0a1.5 1.5 0 1 0 3 0a1.5 1.5 0 1 0 -3 0zM343.0 338.9a1.5 1.5 0 1 0 3 0a1.5 1.5 0 1 0 -3 0zM369.0 332.6a1.5 1.5 0 1 0 3 0a1.5 1.5 0 1 0 -3 0zM385.1 330.5a1.5 1.5 0 1 0 3 0a1.5 1.5 0 1 0 -3 0zM362.6 339.5a1.5 1.5 0 1 0 3 0a1.5 1.5 0 1 0 -3 0zM343.6 347.6a1.5 1.5 0 1 0 3 0a1.5 1.5 0 1 0 -3 0zM387.6 310.1a1.5 1.5 0 1 0 3 0a1.5 1.5 0 1 0 -3 0zM396.1 320.7a1.5 1.5 0 1 0 3 0a1.5 1.5 0 1 0 -3 0zM405.7 322.8a1.5 1.5 0 1 0 3 0a1.5 1.5 0 1 0 -3 0zM351.7 319.9a1.5 1.5 0 1 0 3 0a1.5 1.5 0 1 0 -3 0zM346.0 343.6a1.5 1.5 0 1 0 3 0a1.5 1.5 0 1 0 -3 0zM374.2 319.9a1.5 1.5 0 1 0 3 0a1.5 1.5 0 1 0 -3 0zM419.5 318.2a1.5 1.5 0 1 0 3 0a1.5 1.5 0 1 0 -3 0zM364.4 342.0a1.5 1.5 0 1 0 3 0a1.5 1.5 0 1 0 -3 0zM391.0 314.6a1.5 1.5 0 1 0 3 0a1.5 1.5 0 1 0 -3 0zM358.4 351.3a1.5 1.5 0 1 0 3 0a1.5 1.5 0 1 0 -3 0zM380.6 318.3a1.5 1.5 0 1 0 3 0a1.5 1.5 0 1 0 -3 0zM384.9 337.6a1.5 1.5 0 1 0 3 0a1.5 1.5 0 1 0 -3 0zM361.7 325.6a1.5 1.5 0 1 0 3 0a1.5 1.5 0 1 0 -3 0zM412.8 301.8a1.5 1.5 0 1 0 3 0a1.5 1.5 0 1 0 -3 0zM366.3 322.5a1.5 1.5 0 1 0 3 0a1.5 1.5 0 1 0 -3 0zM415.3 327.4a1.5 1.5 0 1 0 3 0a1.5 1.5 0 1 0 -3 0zM357.5 332.3a1.5 1.5 0 1 0 3 0a1.5 1.5 0 1 0 -3 0zM349.8 338.4a1.5 1.5 0 1 0 3 0a1.5 1.5 0 1 0 -3 0zM343.2 350.4a1.5 1.5 0 1 0 3 0a1.5 1.5 0 1 0 -3 0zM393.0 338.9a1.5 1.5 0 1 0 3 0a1.5 1.5 0 1 0 -3 0zM373.2 328.0a1.5 1.5 0 1 0 3 0a1.5 1.5 0 1 0 -3 0zM361.6 324.0a1.5 1.5 0 1 0 3 0a1.5 1.5 0 1 0 -3 0zM356.6 355.4a1.5 1.5 0 1 0 3 0a1.5 1.5 0 1 0 -3 0zM360.1 332.4a1.5 1.5 0 1 0 3 0a1.5 1.5 0 1 0 -3 0zM399.4 316.3a1.5 1.5 0 1 0 3 0a1.5 1.5 0 1 0 -3 0zM380.5 325.6a1.5 1.5 0 1 0 3 0a1.5 1.5 0 1 0 -3 0zM339.3 349.1a1.5 1.5 0 1 0 3 0a1.5 1.5 0 1 0 -3 0zM348.1 320.4a1.5 1.5 0 1 0 3 0a1.5 1.5 0 1 0 -3 0zM345.8 350.5a1.5 1.5 0 1 0 3 0a1.5 1.5 0 1 0 -3 0zM375.0 319.7a1.5 1.5 0 1 0 3 0a1.5 1.5 0 1 0 -3 0zM370.9 308.1a1.5 1.5 0 1 0 3 0a1.5 1.5 0 1 0 -3 0zM388.5 352.2a1.5 1.5 0 1 0 3 0a1.5 1.5 0 1 0 -3 0zM360.5 328.0a1.5 1.5 0 1 0 3 0a1.5 1.5 0 1 0 -3 0zM362.0 327.0a1.5 1.5 0 1 0 3 0a1.5 1.5 0 1 0 -3 0zM357.8 329.0a1.5 1.5 0 1 0 3 0a1.5 1.5 0 1 0 -3 0zM383.7 336.5a1.5 1.5 0 1 0 3 0a1.5 1.5 0 1 0 -3 0zM350.3 337.7a1.5 1.5 0 1 0 3 0a1.5 1.5 0 1 0 -3 0zM358.5 350.3a1.5 1.5 0 1 0 3 0a1.5 1.5 0 1 0 -3 0zM342.0 333.7a1.5 1.5 0 1 0 3 0a1.5 1.5 0 1 0 -3 0zM384.9 319.2a1.5 1.5 0 1 0 3 0a1.5 1.5 0 1 0 -3 0zM347.7 343.0a1.5 1.5 0 1 0 3 0a1.5 1.5 0 1 0 -3 0zM359.3 343.9a1.5 1.5 0 1 0 3 0a1.5 1.5 0 1 0 -3 0zM367.2 336.3a1.5 1.5 0 1 0 3 0a1.5 1.5 0 1 0 -3 0zM361.0 331.5a1.5 1.5 0 1 0 3 0a1.5 1.5 0 1 0 -3 0zM338.9 335.4a1.5 1.5 0 1 0 3 0a1.5 1.5 0 1 0 -3 0zM379.0 328.9a1.5 1.5 0 1 0 3 0a1.5 1.5 0 1 0 -3 0zM384.7 325.4a1.5 1.5 0 1 0 3 0a1.5 1.5 0 1 0 -3 0zM370.6 346.6a1.5 1.5 0 1 0 3 0a1.5 1.5 0 1 0 -3 0zM360.9 367.3a1.5 1.5 0 1 0 3 0a1.5 1.5 0 1 0 -3 0zM366.8 322.1a1.5 1.5 0 1 0 3 0a1.5 1.5 0 1 0 -3 0zM426.3 298.7a1.5 1.5 0 1 0 3 0a1.5 1.5 0 1 0 -3 0zM355.0 351.3a1.5 1.5 0 1 0 3 0a1.5 1.5 0 1 0 -3 0zM352.9 341.9a1.5 1.5 0 1 0 3 0a1.5 1.5 0 1 0 -3 0zM386.8 322.0a1.5 1.5 0 1 0 3 0a1.5 1.5 0 1 0 -3 0zM414.1 307.5a1.5 1.5 0 1 0 3 0a1.5 1.5 0 1 0 -3 0zM392.9 316.1a1.5 1.5 0 1 0 3 0a1.5 1.5 0 1 0 -3 0zM368.8 313.0a1.5 1.5 0 1 0 3 0a1.5 1.5 0 1 0 -3 0zM414.1 320.8a1.5 1.5 0 1 0 3 0a1.5 1.5 0 1 0 -3 0zM359.4 326.4a1.5 1.5 0 1 0 3 0a1.5 1.5 0 1 0 -3 0zM380.9 321.8a1.5 1.5 0 1 0 3 0a1.5 1.5 0 1 0 -3 0zM343.6 340.9a1.5 1.5 0 1 0 3 0a1.5 1.5 0 1 0 -3 0zM387.7 310.0a1.5 1.5 0 1 0 3 0a1.5 1.5 0 1 0 -3 0zM368.0 321.8a1.5 1.5 0 1 0 3 0a1.5 1.5 0 1 0 -3 0zM399.9 310.3a1.5 1.5 0 1 0 3 0a1.5 1.5 0 1 0 -3 0zM336.7 341.8a1.5 1.5 0 1 0 3 0a1.5 1.5 0 1 0 -3 0zM376.7 314.6a1.5 1.5 0 1 0 3 0a1.5 1.5 0 1 0 -3 0zM367.6 343.9a1.5 1.5 0 1 0 3 0a1.5 1.5 0 1 0 -3 0zM364.8 325.5a1.5 1.5 0 1 0 3 0a1.5 1.5 0 1 0 -3 0zM373.7 363.0a1.5 1.5 0 1 0 3 0a1.5 1.5 0 1 0 -3 0zM363.1 344.3a1.5 1.5 0 1 0 3 0a1.5 1.5 0 1 0 -3 0zM385.6 316.6a1.5 1.5 0 1 0 3 0a1.5 1.5 0 1 0 -3 0zM349.9 339.8a1.5 1.5 0 1 0 3 0a1.5 1.5 0 1 0 -3 0zM378.6 325.4a1.5 1.5 0 1 0 3 0a1.5 1.5 0 1 0 -3 0zM395.3 345.4a1.5 1.5 0 1 0 3 0a1.5 1.5 0 1 0 -3 0zM352.6 313.1a1.5 1.5 0 1 0 3 0a1.5 1.5 0 1 0 -3 0zM420.5 310.9a1.5 1.5 0 1 0 3 0a1.5 1.5 0 1 0 -3 0zM367.7 330.4a1.5 1.5 0 1 0 3 0a1.5 1.5 0 1 0 -3 0zM357.2 326.9a1.5 1.5 0 1 0 3 0a1.5 1.5 0 1 0 -3 0zM380.5 323.0a1.5 1.5 0 1 0 3 0a1.5 1.5 0 1 0 -3 0zM379.5 309.0a1.5 1.5 0 1 0 3 0a1.5 1.5 0 1 0 -3 0zM375.4 325.6a1.5 1.5 0 1 0 3 0a1.5 1.5 0 1 0 -3 0zM344.5 354.3a1.5 1.5 0 1 0 3 0a1.5 1.5 0 1 0 -3 0zM387.1 329.3a1.5 1.5 0 1 0 3 0a1.5 1.5 0 1 0 -3 0zM386.6 309.2a1.5 1.5 0 1 0 3 0a1.5 1.5 0 1 0 -3 0zM355.5 325.3a1.5 1.5 0 1 0 3 0a1.5 1.5 0 1 0 -3 0zM413.3 325.8a1.5 1.5 0 1 0 3 0a1.5 1.5 0 1 0 -3 0zM366.8 322.3a1.5 1.5 0 1 0 3 0a1.5 1.5 0 1 0 -3 0zM376.2 326.7a1.5 1.5 0 1 0 3 0a1.5 1.5 0 1 0 -3 0zM346.6 326.7a1.5 1.5 0 1 0 3 0a1.5 1.5 0 1 0 -3 0zM379.0 348.4a1.5 1.5 0 1 0 3 0a1.5 1.5 0 1 0 -3 0zM350.8 345.5a1.5 1.5 0 1 0 3 0a1.5 1.5 0 1 0 -3 0zM346.4 326.0a1.5 1.5 0 1 0 3 0a1.5 1.5 0 1 0 -3 0zM371.5 332.2a1.5 1.5 0 1 0 3 0a1.5 1.5 0 1 0 -3 0zM400.7 318.4a1.5 1.5 0 1 0 3 0a1.5 1.5 0 1 0 -3 0zM357.6 306.7a1.5 1.5 0 1 0 3 0a1.5 1.5 0 1 0 -3 0zM352.4 337.5a1.5 1.5 0 1 0 3 0a1.5 1.5 0 1 0 -3 0zM396.2 320.8a1.5 1.5 0 1 0 3 0a1.5 1.5 0 1 0 -3 0zM391.4 332.3a1.5 1.5 0 1 0 3 0a1.5 1.5 0 1 0 -3 0zM368.5 338.1a1.5 1.5 0 1 0 3 0a1.5 1.5 0 1 0 -3 0zM375.5 329.4a1.5 1.5 0 1 0 3 0a1.5 1.5 0 1 0 -3 0zM352.9 352.3a1.5 1.5 0 1 0 3 0a1.5 1.5 0 1 0 -3 0zM349.5 361.5a1.5 1.5 0 1 0 3 0a1.5 1.5 0 1 0 -3 0zM348.3 316.4a1.5 1.5 0 1 0 3 0a1.5 1.5 0 1 0 -3 0zM363.0 332.5a1.5 1.5 0 1 0 3 0a1.5 1.5 0 1 0 -3 0zM386.1 311.5a1.5 1.5 0 1 0 3 0a1.5 1.5 0 1 0 -3 0zM363.3 329.5a1.5 1.5 0 1 0 3 0a1.5 1.5 0 1 0 -3 0zM369.5 327.8a1.5 1.5 0 1 0 3 0a1.5 1.5 0 1 0 -3 0zM383.8 317.9a1.5 1.5 0 1 0 3 0a1.5 1.5 0 1 0 -3 0zM340.9 326.5a1.5 1.5 0 1 0 3 0a1.5 1.5 0 1 0 -3 0zM390.1 341.0a1.5 1.5 0 1 0 3 0a1.5 1.5 0 1 0 -3 0zM375.7 312.6a1.5 1.5 0 1 0 3 0a1.5 1.5 0 1 0 -3 0zM352.5 346.0a1.5 1.5 0 1 0 3 0a1.5 1.5 0 1 0 -3 0zM364.7 328.1a1.5 1.5 0 1 0 3 0a1.5 1.5 0 1 0 -3 0zM346.8 301.2a1.5 1.5 0 1 0 3 0a1.5 1.5 0 1 0 -3 0zM381.0 326.2a1.5 1.5 0 1 0 3 0a1.5 1.5 0 1 0 -3 0zM369.2 308.0a1.5 1.5 0 1 0 3 0a1.5 1.5 0 1 0 -3 0zM364.9 335.2a1.5 1.5 0 1 0 3 0a1.5 1.5 0 1 0 -3 0zM349.6 326.0a1.5 1.5 0 1 0 3 0a1.5 1.5 0 1 0 -3 0zM377.3 327.4a1.5 1.5 0 1 0 3 0a1.5 1.5 0 1 0 -3 0zM379.0 322.2a1.5 1.5 0 1 0 3 0a1.5 1.5 0 1 0 -3 0zM382.0 338.2a1.5 1.5 0 1 0 3 0a1.5 1.5 0 1 0 -3 0zM346.3 346.7a1.5 1.5 0 1 0 3 0a1.5 1.5 0 1 0 -3 0zM362.8 326.7a1.5 1.5 0 1 0 3 0a1.5 1.5 0 1 0 -3 0zM360.7 352.0a1.5 1.5 0 1 0 3 0a1.5 1.5 0 1 0 -3 0zM387.8 336.8a1.5 1.5 0 1 0 3 0a1.5 1.5 0 1 0 -3 0zM385.3 317.9a1.5 1.5 0 1 0 3 0a1.5 1.5 0 1 0 -3 0zM378.2 335.9a1.5 1.5 0 1 0 3 0a1.5 1.5 0 1 0 -3 0zM388.2 337.3a1.5 1.5 0 1 0 3 0a1.5 1.5 0 1 0 -3 0zM370.0 344.0a1.5 1.5 0 1 0 3 0a1.5 1.5 0 1 0 -3 0zM435.4 313.6a1.5 1.5 0 1 0 3 0a1.5 1.5 0 1 0 -3 0zM364.4 335.5a1.5 1.5 0 1 0 3 0a1.5 1.5 0 1 0 -3 0zM368.2 328.0a1.5 1.5 0 1 0 3 0a1.5 1.5 0 1 0 -3 0zM350.8 336.2a1.5 1.5 0 1 0 3 0a1.5 1.5 0 1 0 -3 0zM374.8 304.4a1.5 1.5 0 1 0 3 0a1.5 1.5 0 1 0 -3 0zM374.0 334.4a1.5 1.5 0 1 0 3 0a1.5 1.5 0 1 0 -3 0zM395.4 349.7a1.5 1.5 0 1 0 3 0a1.5 1.5 0 1 0 -3 0zM376.3 326.7a1.5 1.5 0 1 0 3 0a1.5 1.5 0 1 0 -3 0zM350.2 333.8a1.5 1.5 0 1 0 3 0a1.5 1.5 0 1 0 -3 0zM369.6 327.6a1.5 1.5 0 1 0 3 0a1.5 1.5 0 1 0 -3 0zM370.3 350.5a1.5 1.5 0 1 0 3 0a1.5 1.5 0 1 0 -3 0zM382.5 312.1a1.5 1.5 0 1 0 3 0a1.5 1.5 0 1 0 -3 0zM370.8 329.8a1.5 1.5 0 1 0 3 0a1.5 1.5 0 1 0 -3 0zM360.5 332.2a1.5 1.5 0 1 0 3 0a1.5 1.5 0 1 0 -3 0zM371.2 350.0a1.5 1.5 0 1 0 3 0a1.5 1.5 0 1 0 -3 0zM372.0 323.0a1.5 1.5 0 1 0 3 0a1.5 1.5 0 1 0 -3 0zM352.7 334.1a1.5 1.5 0 1 0 3 0a1.5 1.5 0 1 0 -3 0zM355.8 315.0a1.5 1.5 0 1 0 3 0a1.5 1.5 0 1 0 -3 0zM370.9 334.8a1.5 1.5 0 1 0 3 0a1.5 1.5 0 1 0 -3 0zM392.0 340.9a1.5 1.5 0 1 0 3 0a1.5 1.5 0 1 0 -3 0zM372.3 327.4a1.5 1.5 0 1 0 3 0a1.5 1.5 0 1 0 -3 0zM368.4 341.8a1.5 1.5 0 1 0 3 0a1.5 1.5 0 1 0 -3 0zM378.5 322.3a1.5 1.5 0 1 0 3 0a1.5 1.5 0 1 0 -3 0zM370.1 343.7a1.5 1.5 0 1 0 3 0a1.5 1.5 0 1 0 -3 0zM346.5 336.3a1.5 1.5 0 1 0 3 0a1.5 1.5 0 1 0 -3 0zM360.0 334.7a1.5 1.5 0 1 0 3 0a1.5 1.5 0 1 0 -3 0zM396.2 324.4a1.5 1.5 0 1 0 3 0a1.5 1.5 0 1 0 -3 0zM371.3 336.0a1.5 1.5 0 1 0 3 0a1.5 1.5 0 1 0 -3 0zM351.9 344.0a1.5 1.5 0 1 0 3 0a1.5 1.5 0 1 0 -3 0zM371.8 330.0a1.5 1.5 0 1 0 3 0a1.5 1.5 0 1 0 -3 0zM366.7 337.8a1.5 1.5 0 1 0 3 0a1.5 1.5 0 1 0 -3 0zM426.3 315.5a1.5 1.5 0 1 0 3 0a1.5 1.5 0 1 0 -3 0zM354.4 336.5a1.5 1.5 0 1 0 3 0a1.5 1.5 0 1 0 -3 0zM381.8 356.2a1.5 1.5 0 1 0 3 0a1.5 1.5 0 1 0 -3 0zM396.5 324.7a1.5 1.5 0 1 0 3 0a1.5 1.5 0 1 0 -3 0zM382.5 308.8a1.5 1.5 0 1 0 3 0a1.5 1.5 0 1 0 -3 0zM352.1 329.5a1.5 1.5 0 1 0 3 0a1.5 1.5 0 1 0 -3 0zM372.0 321.4a1.5 1.5 0 1 0 3 0a1.5 1.5 0 1 0 -3 0zM355.9 326.7a1.5 1.5 0 1 0 3 0a1.5 1.5 0 1 0 -3 0zM362.1 337.4a1.5 1.5 0 1 0 3 0a1.5 1.5 0 1 0 -3 0zM382.8 344.1a1.5 1.5 0 1 0 3 0a1.5 1.5 0 1 0 -3 0zM346.1 324.2a1.5 1.5 0 1 0 3 0a1.5 1.5 0 1 0 -3 0zM389.7 311.6a1.5 1.5 0 1 0 3 0a1.5 1.5 0 1 0 -3 0zM408.7 313.9a1.5 1.5 0 1 0 3 0a1.5 1.5 0 1 0 -3 0zM385.7 320.7a1.5 1.5 0 1 0 3 0a1.5 1.5 0 1 0 -3 0zM363.5 325.9a1.5 1.5 0 1 0 3 0a1.5 1.5 0 1 0 -3 0zM412.4 320.8a1.5 1.5 0 1 0 3 0a1.5 1.5 0 1 0 -3 0zM376.7 324.6a1.5 1.5 0 1 0 3 0a1.5 1.5 0 1 0 -3 0zM344.8 334.8a1.5 1.5 0 1 0 3 0a1.5 1.5 0 1 0 -3 0zM354.1 328.8a1.5 1.5 0 1 0 3 0a1.5 1.5 0 1 0 -3 0zM375.4 340.6a1.5 1.5 0 1 0 3 0a1.5 1.5 0 1 0 -3 0zM371.9 337.3a1.5 1.5 0 1 0 3 0a1.5 1.5 0 1 0 -3 0zM380.4 320.0a1.5 1.5 0 1 0 3 0a1.5 1.5 0 1 0 -3 0zM378.9 332.0a1.5 1.5 0 1 0 3 0a1.5 1.5 0 1 0 -3 0zM356.4 363.7a1.5 1.5 0 1 0 3 0a1.5 1.5 0 1 0 -3 0zM361.9 329.7a1.5 1.5 0 1 0 3 0a1.5 1.5 0 1 0 -3 0zM375.9 357.8a1.5 1.5 0 1 0 3 0a1.5 1.5 0 1 0 -3 0zM417.5 294.7a1.5 1.5 0 1 0 3 0a1.5 1.5 0 1 0 -3 0zM391.9 315.6a1.5 1.5 0 1 0 3 0a1.5 1.5 0 1 0 -3 0zM400.4 314.3a1.5 1.5 0 1 0 3 0a1.5 1.5 0 1 0 -3 0zM383.7 335.2a1.5 1.5 0 1 0 3 0a1.5 1.5 0 1 0 -3 0zM366.4 344.9a1.5 1.5 0 1 0 3 0a1.5 1.5 0 1 0 -3 0zM359.8 334.5a1.5 1.5 0 1 0 3 0a1.5 1.5 0 1 0 -3 0zM349.5 333.7a1.5 1.5 0 1 0 3 0a1.5 1.5 0 1 0 -3 0zM368.4 339.8a1.5 1.5 0 1 0 3 0a1.5 1.5 0 1 0 -3 0zM375.7 326.3a1.5 1.5 0 1 0 3 0a1.5 1.5 0 1 0 -3 0zM358.5 323.2a1.5 1.5 0 1 0 3 0a1.5 1.5 0 1 0 -3 0zM345.2 327.1a1.5 1.5 0 1 0 3 0a1.5 1.5 0 1 0 -3 0zM341.9 348.9a1.5 1.5 0 1 0 3 0a1.5 1.5 0 1 0 -3 0zM343.0 363.2a1.5 1.5 0 1 0 3 0a1.5 1.5 0 1 0 -3 0zM404.5 322.0a1.5 1.5 0 1 0 3 0a1.5 1.5 0 1 0 -3 0zM409.1 329.6a1.5 1.5 0 1 0 3 0a1.5 1.5 0 1 0 -3 0zM389.9 319.5a1.5 1.5 0 1 0 3 0a1.5 1.5 0 1 0 -3 0zM382.0 305.8a1.5 1.5 0 1 0 3 0a1.5 1.5 0 1 0 -3 0zM379.8 306.3a1.5 1.5 0 1 0 3 0a1.5 1.5 0 1 0 -3 0zM348.7 330.4a1.5 1.5 0 1 0 3 0a1.5 1.5 0 1 0 -3 0zM432.1 301.9a1.5 1.5 0 1 0 3 0a1.5 1.5 0 1 0 -3 0zM368.4 308.7a1.5 1.5 0 1 0 3 0a1.5 1.5 0 1 0 -3 0zM371.7 328.5a1.5 1.5 0 1 0 3 0a1.5 1.5 0 1 0 -3 0zM361.6 327.8a1.5 1.5 0 1 0 3 0a1.5 1.5 0 1 0 -3 0zM347.5 323.4a1.5 1.5 0 1 0 3 0a1.5 1.5 0 1 0 -3 0zM375.0 328.8a1.5 1.5 0 1 0 3 0a1.5 1.5 0 1 0 -3 0zM393.1 330.9a1.5 1.5 0 1 0 3 0a1.5 1.5 0 1 0 -3 0zM379.2 337.1a1.5 1.5 0 1 0 3 0a1.5 1.5 0 1 0 -3 0zM348.5 334.0a1.5 1.5 0 1 0 3 0a1.5 1.5 0 1 0 -3 0zM340.3 343.8a1.5 1.5 0 1 0 3 0a1.5 1.5 0 1 0 -3 0zM409.6 310.7a1.5 1.5 0 1 0 3 0a1.5 1.5 0 1 0 -3 0zM395.2 328.2a1.5 1.5 0 1 0 3 0a1.5 1.5 0 1 0 -3 0zM348.0 315.4a1.5 1.5 0 1 0 3 0a1.5 1.5 0 1 0 -3 0zM362.0 315.6a1.5 1.5 0 1 0 3 0a1.5 1.5 0 1 0 -3 0zM420.9 334.3a1.5 1.5 0 1 0 3 0a1.5 1.5 0 1 0 -3 0zM362.7 317.1a1.5 1.5 0 1 0 3 0a1.5 1.5 0 1 0 -3 0zM362.9 336.1a1.5 1.5 0 1 0 3 0a1.5 1.5 0 1 0 -3 0zM371.1 311.6a1.5 1.5 0 1 0 3 0a1.5 1.5 0 1 0 -3 0zM377.2 321.2a1.5 1.5 0 1 0 3 0a1.5 1.5 0 1 0 -3 0zM367.1 330.5a1.5 1.5 0 1 0 3 0a1.5 1.5 0 1 0 -3 0zM389.8 316.5a1.5 1.5 0 1 0 3 0a1.5 1.5 0 1 0 -3 0zM364.2 337.7a1.5 1.5 0 1 0 3 0a1.5 1.5 0 1 0 -3 0zM359.0 327.5a1.5 1.5 0 1 0 3 0a1.5 1.5 0 1 0 -3 0zM343.8 330.0a1.5 1.5 0 1 0 3 0a1.5 1.5 0 1 0 -3 0zM374.5 330.2a1.5 1.5 0 1 0 3 0a1.5 1.5 0 1 0 -3 0zM425.4 312.4a1.5 1.5 0 1 0 3 0a1.5 1.5 0 1 0 -3 0zM381.1 339.6a1.5 1.5 0 1 0 3 0a1.5 1.5 0 1 0 -3 0zM397.1 316.3a1.5 1.5 0 1 0 3 0a1.5 1.5 0 1 0 -3 0zM375.8 343.5a1.5 1.5 0 1 0 3 0a1.5 1.5 0 1 0 -3 0zM375.1 320.2a1.5 1.5 0 1 0 3 0a1.5 1.5 0 1 0 -3 0zM341.0 329.5a1.5 1.5 0 1 0 3 0a1.5 1.5 0 1 0 -3 0zM359.5 322.5a1.5 1.5 0 1 0 3 0a1.5 1.5 0 1 0 -3 0zM363.9 337.6a1.5 1.5 0 1 0 3 0a1.5 1.5 0 1 0 -3 0zM385.4 287.2a1.5 1.5 0 1 0 3 0a1.5 1.5 0 1 0 -3 0zM365.2 333.1a1.5 1.5 0 1 0 3 0a1.5 1.5 0 1 0 -3 0zM344.9 332.7a1.5 1.5 0 1 0 3 0a1.5 1.5 0 1 0 -3 0zM343.2 344.5a1.5 1.5 0 1 0 3 0a1.5 1.5 0 1 0 -3 0zM363.6 312.3a1.5 1.5 0 1 0 3 0a1.5 1.5 0 1 0 -3 0zM370.5 335.0a1.5 1.5 0 1 0 3 0a1.5 1.5 0 1 0 -3 0zM426.9 304.2a1.5 1.5 0 1 0 3 0a1.5 1.5 0 1 0 -3 0zM350.0 345.4a1.5 1.5 0 1 0 3 0a1.5 1.5 0 1 0 -3 0zM358.0 327.7a1.5 1.5 0 1 0 3 0a1.5 1.5 0 1 0 -3 0zM358.8 336.2a1.5 1.5 0 1 0 3 0a1.5 1.5 0 1 0 -3 0zM410.8 308.5a1.5 1.5 0 1 0 3 0a1.5 1.5 0 1 0 -3 0zM363.2 334.2a1.5 1.5 0 1 0 3 0a1.5 1.5 0 1 0 -3 0zM365.4 341.0a1.5 1.5 0 1 0 3 0a1.5 1.5 0 1 0 -3 0zM379.5 321.3a1.5 1.5 0 1 0 3 0a1.5 1.5 0 1 0 -3 0zM334.1 351.9a1.5 1.5 0 1 0 3 0a1.5 1.5 0 1 0 -3 0zM393.8 336.1a1.5 1.5 0 1 0 3 0a1.5 1.5 0 1 0 -3 0zM370.0 319.3a1.5 1.5 0 1 0 3 0a1.5 1.5 0 1 0 -3 0zM382.1 350.2a1.5 1.5 0 1 0 3 0a1.5 1.5 0 1 0 -3 0zM343.7 325.0a1.5 1.5 0 1 0 3 0a1.5 1.5 0 1 0 -3 0zM393.7 329.0a1.5 1.5 0 1 0 3 0a1.5 1.5 0 1 0 -3 0zM385.2 337.3a1.5 1.5 0 1 0 3 0a1.5 1.5 0 1 0 -3 0zM441.0 310.6a1.5 1.5 0 1 0 3 0a1.5 1.5 0 1 0 -3 0zM368.0 321.4a1.5 1.5 0 1 0 3 0a1.5 1.5 0 1 0 -3 0zM401.0 329.7a1.5 1.5 0 1 0 3 0a1.5 1.5 0 1 0 -3 0zM389.4 327.0a1.5 1.5 0 1 0 3 0a1.5 1.5 0 1 0 -3 0zM368.2 319.2a1.5 1.5 0 1 0 3 0a1.5 1.5 0 1 0 -3 0zM342.8 325.2a1.5 1.5 0 1 0 3 0a1.5 1.5 0 1 0 -3 0zM390.1 325.2a1.5 1.5 0 1 0 3 0a1.5 1.5 0 1 0 -3 0zM369.3 338.8a1.5 1.5 0 1 0 3 0a1.5 1.5 0 1 0 -3 0zM408.5 332.6a1.5 1.5 0 1 0 3 0a1.5 1.5 0 1 0 -3 0zM370.4 336.3a1.5 1.5 0 1 0 3 0a1.5 1.5 0 1 0 -3 0zM346.8 325.3a1.5 1.5 0 1 0 3 0a1.5 1.5 0 1 0 -3 0zM371.0 321.3a1.5 1.5 0 1 0 3 0a1.5 1.5 0 1 0 -3 0zM371.1 324.7a1.5 1.5 0 1 0 3 0a1.5 1.5 0 1 0 -3 0zM378.8 309.3a1.5 1.5 0 1 0 3 0a1.5 1.5 0 1 0 -3 0zM383.9 329.6a1.5 1.5 0 1 0 3 0a1.5 1.5 0 1 0 -3 0zM369.1 333.8a1.5 1.5 0 1 0 3 0a1.5 1.5 0 1 0 -3 0zM344.4 339.2a1.5 1.5 0 1 0 3 0a1.5 1.5 0 1 0 -3 0zM349.4 309.1a1.5 1.5 0 1 0 3 0a1.5 1.5 0 1 0 -3 0zM370.0 354.8a1.5 1.5 0 1 0 3 0a1.5 1.5 0 1 0 -3 0zM370.4 325.0a1.5 1.5 0 1 0 3 0a1.5 1.5 0 1 0 -3 0zM394.5 317.8a1.5 1.5 0 1 0 3 0a1.5 1.5 0 1 0 -3 0zM372.1 327.5a1.5 1.5 0 1 0 3 0a1.5 1.5 0 1 0 -3 0zM392.6 294.4a1.5 1.5 0 1 0 3 0a1.5 1.5 0 1 0 -3 0zM374.4 313.0a1.5 1.5 0 1 0 3 0a1.5 1.5 0 1 0 -3 0zM362.4 320.6a1.5 1.5 0 1 0 3 0a1.5 1.5 0 1 0 -3 0zM416.0 330.1a1.5 1.5 0 1 0 3 0a1.5 1.5 0 1 0 -3 0zM368.0 322.8a1.5 1.5 0 1 0 3 0a1.5 1.5 0 1 0 -3 0zM367.7 333.9a1.5 1.5 0 1 0 3 0a1.5 1.5 0 1 0 -3 0zM373.0 327.5a1.5 1.5 0 1 0 3 0a1.5 1.5 0 1 0 -3 0zM391.6 321.5a1.5 1.5 0 1 0 3 0a1.5 1.5 0 1 0 -3 0zM364.6 335.9a1.5 1.5 0 1 0 3 0a1.5 1.5 0 1 0 -3 0zM374.2 319.7a1.5 1.5 0 1 0 3 0a1.5 1.5 0 1 0 -3 0zM358.5 310.5a1.5 1.5 0 1 0 3 0a1.5 1.5 0 1 0 -3 0zM378.7 313.7a1.5 1.5 0 1 0 3 0a1.5 1.5 0 1 0 -3 0zM340.0 332.3a1.5 1.5 0 1 0 3 0a1.5 1.5 0 1 0 -3 0zM357.8 355.5a1.5 1.5 0 1 0 3 0a1.5 1.5 0 1 0 -3 0zM360.0 317.0a1.5 1.5 0 1 0 3 0a1.5 1.5 0 1 0 -3 0zM365.7 315.9a1.5 1.5 0 1 0 3 0a1.5 1.5 0 1 0 -3 0zM361.6 332.8a1.5 1.5 0 1 0 3 0a1.5 1.5 0 1 0 -3 0zM391.7 329.9a1.5 1.5 0 1 0 3 0a1.5 1.5 0 1 0 -3 0zM385.2 317.0a1.5 1.5 0 1 0 3 0a1.5 1.5 0 1 0 -3 0zM353.3 342.3a1.5 1.5 0 1 0 3 0a1.5 1.5 0 1 0 -3 0zM374.1 317.6a1.5 1.5 0 1 0 3 0a1.5 1.5 0 1 0 -3 0zM404.7 334.6a1.5 1.5 0 1 0 3 0a1.5 1.5 0 1 0 -3 0zM358.9 342.5a1.5 1.5 0 1 0 3 0a1.5 1.5 0 1 0 -3 0zM363.5 329.7a1.5 1.5 0 1 0 3 0a1.5 1.5 0 1 0 -3 0zM380.7 344.5a1.5 1.5 0 1 0 3 0a1.5 1.5 0 1 0 -3 0zM348.0 333.2a1.5 1.5 0 1 0 3 0a1.5 1.5 0 1 0 -3 0zM367.8 322.2a1.5 1.5 0 1 0 3 0a1.5 1.5 0 1 0 -3 0zM400.1 338.5a1.5 1.5 0 1 0 3 0a1.5 1.5 0 1 0 -3 0zM415.1 307.1a1.5 1.5 0 1 0 3 0a1.5 1.5 0 1 0 -3 0zM354.2 338.9a1.5 1.5 0 1 0 3 0a1.5 1.5 0 1 0 -3 0zM397.9 315.5a1.5 1.5 0 1 0 3 0a1.5 1.5 0 1 0 -3 0zM350.8 329.9a1.5 1.5 0 1 0 3 0a1.5 1.5 0 1 0 -3 0zM422.9 322.8a1.5 1.5 0 1 0 3 0a1.5 1.5 0 1 0 -3 0zM381.9 332.4a1.5 1.5 0 1 0 3 0a1.5 1.5 0 1 0 -3 0zM367.8 350.3a1.5 1.5 0 1 0 3 0a1.5 1.5 0 1 0 -3 0zM364.1 338.4a1.5 1.5 0 1 0 3 0a1.5 1.5 0 1 0 -3 0zM383.0 335.3a1.5 1.5 0 1 0 3 0a1.5 1.5 0 1 0 -3 0zM409.0 299.4a1.5 1.5 0 1 0 3 0a1.5 1.5 0 1 0 -3 0zM384.6 312.5a1.5 1.5 0 1 0 3 0a1.5 1.5 0 1 0 -3 0zM398.5 339.4a1.5 1.5 0 1 0 3 0a1.5 1.5 0 1 0 -3 0zM394.6 313.0a1.5 1.5 0 1 0 3 0a1.5 1.5 0 1 0 -3 0zM392.4 320.8a1.5 1.5 0 1 0 3 0a1.5 1.5 0 1 0 -3 0zM428.6 320.5a1.5 1.5 0 1 0 3 0a1.5 1.5 0 1 0 -3 0zM398.5 316.4a1.5 1.5 0 1 0 3 0a1.5 1.5 0 1 0 -3 0zM373.8 317.6a1.5 1.5 0 1 0 3 0a1.5 1.5 0 1 0 -3 0zM379.7 333.4a1.5 1.5 0 1 0 3 0a1.5 1.5 0 1 0 -3 0zM348.7 336.4a1.5 1.5 0 1 0 3 0a1.5 1.5 0 1 0 -3 0zM346.6 331.3a1.5 1.5 0 1 0 3 0a1.5 1.5 0 1 0 -3 0zM365.1 341.8a1.5 1.5 0 1 0 3 0a1.5 1.5 0 1 0 -3 0zM371.7 325.7a1.5 1.5 0 1 0 3 0a1.5 1.5 0 1 0 -3 0zM365.0 330.4a1.5 1.5 0 1 0 3 0a1.5 1.5 0 1 0 -3 0zM367.8 337.3a1.5 1.5 0 1 0 3 0a1.5 1.5 0 1 0 -3 0zM396.9 333.1a1.5 1.5 0 1 0 3 0a1.5 1.5 0 1 0 -3 0zM377.9 322.8a1.5 1.5 0 1 0 3 0a1.5 1.5 0 1 0 -3 0zM345.2 322.7a1.5 1.5 0 1 0 3 0a1.5 1.5 0 1 0 -3 0zM389.2 320.1a1.5 1.5 0 1 0 3 0a1.5 1.5 0 1 0 -3 0zM388.3 335.1a1.5 1.5 0 1 0 3 0a1.5 1.5 0 1 0 -3 0zM372.2 318.5a1.5 1.5 0 1 0 3 0a1.5 1.5 0 1 0 -3 0zM376.7 324.8a1.5 1.5 0 1 0 3 0a1.5 1.5 0 1 0 -3 0zM361.7 322.7a1.5 1.5 0 1 0 3 0a1.5 1.5 0 1 0 -3 0zM381.6 311.2a1.5 1.5 0 1 0 3 0a1.5 1.5 0 1 0 -3 0zM362.2 341.3a1.5 1.5 0 1 0 3 0a1.5 1.5 0 1 0 -3 0zM369.5 330.2a1.5 1.5 0 1 0 3 0a1.5 1.5 0 1 0 -3 0zM392.7 330.9a1.5 1.5 0 1 0 3 0a1.5 1.5 0 1 0 -3 0zM373.6 338.5a1.5 1.5 0 1 0 3 0a1.5 1.5 0 1 0 -3 0zM372.5 302.7a1.5 1.5 0 1 0 3 0a1.5 1.5 0 1 0 -3 0zM409.0 308.2a1.5 1.5 0 1 0 3 0a1.5 1.5 0 1 0 -3 0zM366.9 351.1a1.5 1.5 0 1 0 3 0a1.5 1.5 0 1 0 -3 0zM396.8 317.2a1.5 1.5 0 1 0 3 0a1.5 1.5 0 1 0 -3 0zM377.5 333.6a1.5 1.5 0 1 0 3 0a1.5 1.5 0 1 0 -3 0zM362.1 315.6a1.5 1.5 0 1 0 3 0a1.5 1.5 0 1 0 -3 0zM363.6 328.6a1.5 1.5 0 1 0 3 0a1.5 1.5 0 1 0 -3 0zM384.5 327.3a1.5 1.5 0 1 0 3 0a1.5 1.5 0 1 0 -3 0zM416.3 316.5a1.5 1.5 0 1 0 3 0a1.5 1.5 0 1 0 -3 0zM356.4 326.4a1.5 1.5 0 1 0 3 0a1.5 1.5 0 1 0 -3 0zM352.3 331.7a1.5 1.5 0 1 0 3 0a1.5 1.5 0 1 0 -3 0zM407.3 323.0a1.5 1.5 0 1 0 3 0a1.5 1.5 0 1 0 -3 0zM391.4 325.4a1.5 1.5 0 1 0 3 0a1.5 1.5 0 1 0 -3 0zM376.7 320.5a1.5 1.5 0 1 0 3 0a1.5 1.5 0 1 0 -3 0zM348.3 347.1a1.5 1.5 0 1 0 3 0a1.5 1.5 0 1 0 -3 0zM398.1 322.3a1.5 1.5 0 1 0 3 0a1.5 1.5 0 1 0 -3 0zM348.0 334.5a1.5 1.5 0 1 0 3 0a1.5 1.5 0 1 0 -3 0zM392.5 329.5a1.5 1.5 0 1 0 3 0a1.5 1.5 0 1 0 -3 0zM367.1 319.7a1.5 1.5 0 1 0 3 0a1.5 1.5 0 1 0 -3 0zM372.7 343.8a1.5 1.5 0 1 0 3 0a1.5 1.5 0 1 0 -3 0zM364.3 334.1a1.5 1.5 0 1 0 3 0a1.5 1.5 0 1 0 -3 0zM356.8 341.8a1.5 1.5 0 1 0 3 0a1.5 1.5 0 1 0 -3 0zM364.0 322.8a1.5 1.5 0 1 0 3 0a1.5 1.5 0 1 0 -3 0zM384.4 331.0a1.5 1.5 0 1 0 3 0a1.5 1.5 0 1 0 -3 0zM342.3 333.6a1.5 1.5 0 1 0 3 0a1.5 1.5 0 1 0 -3 0zM349.0 328.0a1.5 1.5 0 1 0 3 0a1.5 1.5 0 1 0 -3 0zM387.8 344.4a1.5 1.5 0 1 0 3 0a1.5 1.5 0 1 0 -3 0zM377.7 321.0a1.5 1.5 0 1 0 3 0a1.5 1.5 0 1 0 -3 0zM421.3 326.6a1.5 1.5 0 1 0 3 0a1.5 1.5 0 1 0 -3 0zM351.1 335.5a1.5 1.5 0 1 0 3 0a1.5 1.5 0 1 0 -3 0zM354.8 332.9a1.5 1.5 0 1 0 3 0a1.5 1.5 0 1 0 -3 0zM370.1 318.1a1.5 1.5 0 1 0 3 0a1.5 1.5 0 1 0 -3 0zM373.5 318.3a1.5 1.5 0 1 0 3 0a1.5 1.5 0 1 0 -3 0zM376.8 304.7a1.5 1.5 0 1 0 3 0a1.5 1.5 0 1 0 -3 0zM376.1 324.7a1.5 1.5 0 1 0 3 0a1.5 1.5 0 1 0 -3 0zM387.5 330.5a1.5 1.5 0 1 0 3 0a1.5 1.5 0 1 0 -3 0zM344.2 340.1a1.5 1.5 0 1 0 3 0a1.5 1.5 0 1 0 -3 0zM375.9 318.8a1.5 1.5 0 1 0 3 0a1.5 1.5 0 1 0 -3 0zM361.4 310.1a1.5 1.5 0 1 0 3 0a1.5 1.5 0 1 0 -3 0zM359.9 326.2a1.5 1.5 0 1 0 3 0a1.5 1.5 0 1 0 -3 0zM415.0 325.8a1.5 1.5 0 1 0 3 0a1.5 1.5 0 1 0 -3 0zM365.1 325.9a1.5 1.5 0 1 0 3 0a1.5 1.5 0 1 0 -3 0zM401.1 318.4a1.5 1.5 0 1 0 3 0a1.5 1.5 0 1 0 -3 0zM365.0 338.6a1.5 1.5 0 1 0 3 0a1.5 1.5 0 1 0 -3 0zM371.5 359.6a1.5 1.5 0 1 0 3 0a1.5 1.5 0 1 0 -3 0zM369.8 335.0a1.5 1.5 0 1 0 3 0a1.5 1.5 0 1 0 -3 0zM374.2 314.2a1.5 1.5 0 1 0 3 0a1.5 1.5 0 1 0 -3 0zM408.3 317.4a1.5 1.5 0 1 0 3 0a1.5 1.5 0 1 0 -3 0zM391.9 351.1a1.5 1.5 0 1 0 3 0a1.5 1.5 0 1 0 -3 0zM374.2 327.3a1.5 1.5 0 1 0 3 0a1.5 1.5 0 1 0 -3 0zM372.4 350.8a1.5 1.5 0 1 0 3 0a1.5 1.5 0 1 0 -3 0zM356.3 306.4a1.5 1.5 0 1 0 3 0a1.5 1.5 0 1 0 -3 0zM379.0 323.9a1.5 1.5 0 1 0 3 0a1.5 1.5 0 1 0 -3 0zM351.0 347.4a1.5 1.5 0 1 0 3 0a1.5 1.5 0 1 0 -3 0zM357.6 321.0a1.5 1.5 0 1 0 3 0a1.5 1.5 0 1 0 -3 0zM373.3 337.3a1.5 1.5 0 1 0 3 0a1.5 1.5 0 1 0 -3 0zM358.2 323.8a1.5 1.5 0 1 0 3 0a1.5 1.5 0 1 0 -3 0zM348.4 332.7a1.5 1.5 0 1 0 3 0a1.5 1.5 0 1 0 -3 0zM368.5 343.3a1.5 1.5 0 1 0 3 0a1.5 1.5 0 1 0 -3 0zM353.8 323.5a1.5 1.5 0 1 0 3 0a1.5 1.5 0 1 0 -3 0zM383.1 342.2a1.5 1.5 0 1 0 3 0a1.5 1.5 0 1 0 -3 0zM375.1 310.4a1.5 1.5 0 1 0 3 0a1.5 1.5 0 1 0 -3 0zM349.8 331.8a1.5 1.5 0 1 0 3 0a1.5 1.5 0 1 0 -3 0zM379.0 339.2a1.5 1.5 0 1 0 3 0a1.5 1.5 0 1 0 -3 0zM386.3 347.4a1.5 1.5 0 1 0 3 0a1.5 1.5 0 1 0 -3 0zM374.8 307.1a1.5 1.5 0 1 0 3 0a1.5 1.5 0 1 0 -3 0zM366.9 310.8a1.5 1.5 0 1 0 3 0a1.5 1.5 0 1 0 -3 0zM362.8 345.5a1.5 1.5 0 1 0 3 0a1.5 1.5 0 1 0 -3 0zM421.5 296.6a1.5 1.5 0 1 0 3 0a1.5 1.5 0 1 0 -3 0zM374.3 325.3a1.5 1.5 0 1 0 3 0a1.5 1.5 0 1 0 -3 0zM372.1 330.6a1.5 1.5 0 1 0 3 0a1.5 1.5 0 1 0 -3 0zM365.5 330.3a1.5 1.5 0 1 0 3 0a1.5 1.5 0 1 0 -3 0zM351.7 335.6a1.5 1.5 0 1 0 3 0a1.5 1.5 0 1 0 -3 0zM361.6 312.2a1.5 1.5 0 1 0 3 0a1.5 1.5 0 1 0 -3 0zM383.6 323.5a1.5 1.5 0 1 0 3 0a1.5 1.5 0 1 0 -3 0zM378.0 349.5a1.5 1.5 0 1 0 3 0a1.5 1.5 0 1 0 -3 0zM377.7 300.5a1.5 1.5 0 1 0 3 0a1.5 1.5 0 1 0 -3 0zM373.6 316.5a1.5 1.5 0 1 0 3 0a1.5 1.5 0 1 0 -3 0zM355.7 344.9a1.5 1.5 0 1 0 3 0a1.5 1.5 0 1 0 -3 0zM372.2 332.2a1.5 1.5 0 1 0 3 0a1.5 1.5 0 1 0 -3 0zM393.3 334.5a1.5 1.5 0 1 0 3 0a1.5 1.5 0 1 0 -3 0zM370.4 327.6a1.5 1.5 0 1 0 3 0a1.5 1.5 0 1 0 -3 0zM339.6 329.9a1.5 1.5 0 1 0 3 0a1.5 1.5 0 1 0 -3 0zM357.2 328.0a1.5 1.5 0 1 0 3 0a1.5 1.5 0 1 0 -3 0zM343.4 341.5a1.5 1.5 0 1 0 3 0a1.5 1.5 0 1 0 -3 0zM355.1 341.5a1.5 1.5 0 1 0 3 0a1.5 1.5 0 1 0 -3 0zM431.7 304.4a1.5 1.5 0 1 0 3 0a1.5 1.5 0 1 0 -3 0zM362.8 331.1a1.5 1.5 0 1 0 3 0a1.5 1.5 0 1 0 -3 0zM355.7 303.2a1.5 1.5 0 1 0 3 0a1.5 1.5 0 1 0 -3 0zM345.8 343.6a1.5 1.5 0 1 0 3 0a1.5 1.5 0 1 0 -3 0zM365.9 319.3a1.5 1.5 0 1 0 3 0a1.5 1.5 0 1 0 -3 0zM401.9 320.8a1.5 1.5 0 1 0 3 0a1.5 1.5 0 1 0 -3 0zM356.0 340.8a1.5 1.5 0 1 0 3 0a1.5 1.5 0 1 0 -3 0zM380.0 309.1a1.5 1.5 0 1 0 3 0a1.5 1.5 0 1 0 -3 0zM375.2 325.6a1.5 1.5 0 1 0 3 0a1.5 1.5 0 1 0 -3 0zM359.9 341.6a1.5 1.5 0 1 0 3 0a1.5 1.5 0 1 0 -3 0zM386.8 328.6a1.5 1.5 0 1 0 3 0a1.5 1.5 0 1 0 -3 0zM362.9 317.1a1.5 1.5 0 1 0 3 0a1.5 1.5 0 1 0 -3 0zM357.2 346.3a1.5 1.5 0 1 0 3 0a1.5 1.5 0 1 0 -3 0zM358.5 313.5a1.5 1.5 0 1 0 3 0a1.5 1.5 0 1 0 -3 0zM375.7 318.5a1.5 1.5 0 1 0 3 0a1.5 1.5 0 1 0 -3 0zM421.7 320.6a1.5 1.5 0 1 0 3 0a1.5 1.5 0 1 0 -3 0zM392.9 306.4a1.5 1.5 0 1 0 3 0a1.5 1.5 0 1 0 -3 0zM357.9 309.0a1.5 1.5 0 1 0 3 0a1.5 1.5 0 1 0 -3 0zM371.5 320.5a1.5 1.5 0 1 0 3 0a1.5 1.5 0 1 0 -3 0zM355.9 329.2a1.5 1.5 0 1 0 3 0a1.5 1.5 0 1 0 -3 0zM354.7 308.5a1.5 1.5 0 1 0 3 0a1.5 1.5 0 1 0 -3 0zM343.5 315.3a1.5 1.5 0 1 0 3 0a1.5 1.5 0 1 0 -3 0zM378.2 338.1a1.5 1.5 0 1 0 3 0a1.5 1.5 0 1 0 -3 0zM360.1 333.0a1.5 1.5 0 1 0 3 0a1.5 1.5 0 1 0 -3 0zM366.5 331.7a1.5 1.5 0 1 0 3 0a1.5 1.5 0 1 0 -3 0zM378.2 331.6a1.5 1.5 0 1 0 3 0a1.5 1.5 0 1 0 -3 0zM348.1 351.7a1.5 1.5 0 1 0 3 0a1.5 1.5 0 1 0 -3 0zM351.0 321.1a1.5 1.5 0 1 0 3 0a1.5 1.5 0 1 0 -3 0zM380.2 325.0a1.5 1.5 0 1 0 3 0a1.5 1.5 0 1 0 -3 0zM352.7 330.7a1.5 1.5 0 1 0 3 0a1.5 1.5 0 1 0 -3 0zM353.6 314.2a1.5 1.5 0 1 0 3 0a1.5 1.5 0 1 0 -3 0zM392.0 330.6a1.5 1.5 0 1 0 3 0a1.5 1.5 0 1 0 -3 0zM368.9 329.2a1.5 1.5 0 1 0 3 0a1.5 1.5 0 1 0 -3 0zM400.4 318.3a1.5 1.5 0 1 0 3 0a1.5 1.5 0 1 0 -3 0zM414.9 324.0a1.5 1.5 0 1 0 3 0a1.5 1.5 0 1 0 -3 0zM405.6 322.0a1.5 1.5 0 1 0 3 0a1.5 1.5 0 1 0 -3 0zM347.7 323.4a1.5 1.5 0 1 0 3 0a1.5 1.5 0 1 0 -3 0zM374.4 327.4a1.5 1.5 0 1 0 3 0a1.5 1.5 0 1 0 -3 0zM391.4 307.0a1.5 1.5 0 1 0 3 0a1.5 1.5 0 1 0 -3 0zM377.8 336.0a1.5 1.5 0 1 0 3 0a1.5 1.5 0 1 0 -3 0zM362.9 327.3a1.5 1.5 0 1 0 3 0a1.5 1.5 0 1 0 -3 0zM352.4 349.9a1.5 1.5 0 1 0 3 0a1.5 1.5 0 1 0 -3 0zM384.8 326.6a1.5 1.5 0 1 0 3 0a1.5 1.5 0 1 0 -3 0zM347.6 341.9a1.5 1.5 0 1 0 3 0a1.5 1.5 0 1 0 -3 0zM345.3 316.5a1.5 1.5 0 1 0 3 0a1.5 1.5 0 1 0 -3 0zM354.5 322.3a1.5 1.5 0 1 0 3 0a1.5 1.5 0 1 0 -3 0zM370.1 321.8a1.5 1.5 0 1 0 3 0a1.5 1.5 0 1 0 -3 0zM401.6 298.3a1.5 1.5 0 1 0 3 0a1.5 1.5 0 1 0 -3 0zM364.3 311.4a1.5 1.5 0 1 0 3 0a1.5 1.5 0 1 0 -3 0zM390.9 314.7a1.5 1.5 0 1 0 3 0a1.5 1.5 0 1 0 -3 0zM353.6 340.5a1.5 1.5 0 1 0 3 0a1.5 1.5 0 1 0 -3 0zM361.3 348.3a1.5 1.5 0 1 0 3 0a1.5 1.5 0 1 0 -3 0zM362.5 330.2a1.5 1.5 0 1 0 3 0a1.5 1.5 0 1 0 -3 0zM357.4 335.4a1.5 1.5 0 1 0 3 0a1.5 1.5 0 1 0 -3 0zM396.5 330.7a1.5 1.5 0 1 0 3 0a1.5 1.5 0 1 0 -3 0zM347.1 336.8a1.5 1.5 0 1 0 3 0a1.5 1.5 0 1 0 -3 0zM346.0 354.2a1.5 1.5 0 1 0 3 0a1.5 1.5 0 1 0 -3 0zM395.8 304.0a1.5 1.5 0 1 0 3 0a1.5 1.5 0 1 0 -3 0zM375.2 341.5a1.5 1.5 0 1 0 3 0a1.5 1.5 0 1 0 -3 0zM384.3 333.6a1.5 1.5 0 1 0 3 0a1.5 1.5 0 1 0 -3 0zM356.1 324.1a1.5 1.5 0 1 0 3 0a1.5 1.5 0 1 0 -3 0zM383.5 345.9a1.5 1.5 0 1 0 3 0a1.5 1.5 0 1 0 -3 0zM344.1 322.2a1.5 1.5 0 1 0 3 0a1.5 1.5 0 1 0 -3 0zM366.8 317.1a1.5 1.5 0 1 0 3 0a1.5 1.5 0 1 0 -3 0zM376.0 330.9a1.5 1.5 0 1 0 3 0a1.5 1.5 0 1 0 -3 0zM341.7 347.9a1.5 1.5 0 1 0 3 0a1.5 1.5 0 1 0 -3 0zM356.8 337.1a1.5 1.5 0 1 0 3 0a1.5 1.5 0 1 0 -3 0zM347.7 356.4a1.5 1.5 0 1 0 3 0a1.5 1.5 0 1 0 -3 0zM354.5 314.1a1.5 1.5 0 1 0 3 0a1.5 1.5 0 1 0 -3 0zM362.9 329.1a1.5 1.5 0 1 0 3 0a1.5 1.5 0 1 0 -3 0zM360.9 339.5a1.5 1.5 0 1 0 3 0a1.5 1.5 0 1 0 -3 0zM341.3 345.9a1.5 1.5 0 1 0 3 0a1.5 1.5 0 1 0 -3 0zM382.9 318.2a1.5 1.5 0 1 0 3 0a1.5 1.5 0 1 0 -3 0zM348.6 313.9a1.5 1.5 0 1 0 3 0a1.5 1.5 0 1 0 -3 0zM374.4 343.4a1.5 1.5 0 1 0 3 0a1.5 1.5 0 1 0 -3 0zM356.4 338.5a1.5 1.5 0 1 0 3 0a1.5 1.5 0 1 0 -3 0zM344.7 355.9a1.5 1.5 0 1 0 3 0a1.5 1.5 0 1 0 -3 0zM387.3 316.0a1.5 1.5 0 1 0 3 0a1.5 1.5 0 1 0 -3 0zM364.7 327.4a1.5 1.5 0 1 0 3 0a1.5 1.5 0 1 0 -3 0zM376.9 298.2a1.5 1.5 0 1 0 3 0a1.5 1.5 0 1 0 -3 0zM377.7 328.2a1.5 1.5 0 1 0 3 0a1.5 1.5 0 1 0 -3 0zM374.9 332.7a1.5 1.5 0 1 0 3 0a1.5 1.5 0 1 0 -3 0zM355.8 340.3a1.5 1.5 0 1 0 3 0a1.5 1.5 0 1 0 -3 0zM378.2 315.7a1.5 1.5 0 1 0 3 0a1.5 1.5 0 1 0 -3 0zM388.9 344.8a1.5 1.5 0 1 0 3 0a1.5 1.5 0 1 0 -3 0zM356.9 321.6a1.5 1.5 0 1 0 3 0a1.5 1.5 0 1 0 -3 0zM351.5 329.1a1.5 1.5 0 1 0 3 0a1.5 1.5 0 1 0 -3 0zM358.2 337.2a1.5 1.5 0 1 0 3 0a1.5 1.5 0 1 0 -3 0zM392.8 334.8a1.5 1.5 0 1 0 3 0a1.5 1.5 0 1 0 -3 0zM366.9 315.6a1.5 1.5 0 1 0 3 0a1.5 1.5 0 1 0 -3 0zM403.1 297.6a1.5 1.5 0 1 0 3 0a1.5 1.5 0 1 0 -3 0zM361.2 335.8a1.5 1.5 0 1 0 3 0a1.5 1.5 0 1 0 -3 0zM369.1 321.8a1.5 1.5 0 1 0 3 0a1.5 1.5 0 1 0 -3 0zM404.5 298.8a1.5 1.5 0 1 0 3 0a1.5 1.5 0 1 0 -3 0zM410.4 327.4a1.5 1.5 0 1 0 3 0a1.5 1.5 0 1 0 -3 0zM384.4 328.4a1.5 1.5 0 1 0 3 0a1.5 1.5 0 1 0 -3 0zM350.8 347.8a1.5 1.5 0 1 0 3 0a1.5 1.5 0 1 0 -3 0zM369.3 330.3a1.5 1.5 0 1 0 3 0a1.5 1.5 0 1 0 -3 0zM367.8 329.8a1.5 1.5 0 1 0 3 0a1.5 1.5 0 1 0 -3 0zM351.9 337.5a1.5 1.5 0 1 0 3 0a1.5 1.5 0 1 0 -3 0zM397.7 331.7a1.5 1.5 0 1 0 3 0a1.5 1.5 0 1 0 -3 0zM377.2 346.8a1.5 1.5 0 1 0 3 0a1.5 1.5 0 1 0 -3 0zM354.2 348.7a1.5 1.5 0 1 0 3 0a1.5 1.5 0 1 0 -3 0zM350.4 344.9a1.5 1.5 0 1 0 3 0a1.5 1.5 0 1 0 -3 0zM373.1 319.5a1.5 1.5 0 1 0 3 0a1.5 1.5 0 1 0 -3 0zM344.4 340.2a1.5 1.5 0 1 0 3 0a1.5 1.5 0 1 0 -3 0zM390.0 334.8a1.5 1.5 0 1 0 3 0a1.5 1.5 0 1 0 -3 0zM360.5 322.0a1.5 1.5 0 1 0 3 0a1.5 1.5 0 1 0 -3 0zM349.1 325.6a1.5 1.5 0 1 0 3 0a1.5 1.5 0 1 0 -3 0zM380.4 335.6a1.5 1.5 0 1 0 3 0a1.5 1.5 0 1 0 -3 0zM354.4 339.6a1.5 1.5 0 1 0 3 0a1.5 1.5 0 1 0 -3 0zM366.2 320.7a1.5 1.5 0 1 0 3 0a1.5 1.5 0 1 0 -3 0zM372.1 323.2a1.5 1.5 0 1 0 3 0a1.5 1.5 0 1 0 -3 0zM353.1 342.5a1.5 1.5 0 1 0 3 0a1.5 1.5 0 1 0 -3 0zM377.2 323.7a1.5 1.5 0 1 0 3 0a1.5 1.5 0 1 0 -3 0zM399.6 322.3a1.5 1.5 0 1 0 3 0a1.5 1.5 0 1 0 -3 0zM392.6 309.2a1.5 1.5 0 1 0 3 0a1.5 1.5 0 1 0 -3 0zM367.5 339.8a1.5 1.5 0 1 0 3 0a1.5 1.5 0 1 0 -3 0zM386.0 313.6a1.5 1.5 0 1 0 3 0a1.5 1.5 0 1 0 -3 0zM351.4 326.8a1.5 1.5 0 1 0 3 0a1.5 1.5 0 1 0 -3 0zM365.6 342.1a1.5 1.5 0 1 0 3 0a1.5 1.5 0 1 0 -3 0zM394.0 309.7a1.5 1.5 0 1 0 3 0a1.5 1.5 0 1 0 -3 0zM352.0 320.6a1.5 1.5 0 1 0 3 0a1.5 1.5 0 1 0 -3 0zM372.6 344.5a1.5 1.5 0 1 0 3 0a1.5 1.5 0 1 0 -3 0zM386.8 299.4a1.5 1.5 0 1 0 3 0a1.5 1.5 0 1 0 -3 0zM371.3 342.6a1.5 1.5 0 1 0 3 0a1.5 1.5 0 1 0 -3 0zM413.2 330.7a1.5 1.5 0 1 0 3 0a1.5 1.5 0 1 0 -3 0zM361.8 334.1a1.5 1.5 0 1 0 3 0a1.5 1.5 0 1 0 -3 0zM359.5 320.7a1.5 1.5 0 1 0 3 0a1.5 1.5 0 1 0 -3 0zM347.4 325.7a1.5 1.5 0 1 0 3 0a1.5 1.5 0 1 0 -3 0zM373.6 328.7a1.5 1.5 0 1 0 3 0a1.5 1.5 0 1 0 -3 0zM371.4 310.5a1.5 1.5 0 1 0 3 0a1.5 1.5 0 1 0 -3 0zM355.2 326.3a1.5 1.5 0 1 0 3 0a1.5 1.5 0 1 0 -3 0zM377.0 308.9a1.5 1.5 0 1 0 3 0a1.5 1.5 0 1 0 -3 0zM407.8 284.1a1.5 1.5 0 1 0 3 0a1.5 1.5 0 1 0 -3 0zM359.8 328.0a1.5 1.5 0 1 0 3 0a1.5 1.5 0 1 0 -3 0zM400.4 354.6a1.5 1.5 0 1 0 3 0a1.5 1.5 0 1 0 -3 0zM384.7 330.9a1.5 1.5 0 1 0 3 0a1.5 1.5 0 1 0 -3 0zM365.7 343.0a1.5 1.5 0 1 0 3 0a1.5 1.5 0 1 0 -3 0zM340.3 333.5a1.5 1.5 0 1 0 3 0a1.5 1.5 0 1 0 -3 0zM344.6 332.5a1.5 1.5 0 1 0 3 0a1.5 1.5 0 1 0 -3 0zM366.4 344.8a1.5 1.5 0 1 0 3 0a1.5 1.5 0 1 0 -3 0zM355.5 346.2a1.5 1.5 0 1 0 3 0a1.5 1.5 0 1 0 -3 0zM375.4 330.5a1.5 1.5 0 1 0 3 0a1.5 1.5 0 1 0 -3 0zM359.4 333.1a1.5 1.5 0 1 0 3 0a1.5 1.5 0 1 0 -3 0zM364.9 362.8a1.5 1.5 0 1 0 3 0a1.5 1.5 0 1 0 -3 0zM356.4 318.7a1.5 1.5 0 1 0 3 0a1.5 1.5 0 1 0 -3 0zM358.8 330.3a1.5 1.5 0 1 0 3 0a1.5 1.5 0 1 0 -3 0zM377.2 326.8a1.5 1.5 0 1 0 3 0a1.5 1.5 0 1 0 -3 0zM343.4 330.2a1.5 1.5 0 1 0 3 0a1.5 1.5 0 1 0 -3 0zM395.6 335.9a1.5 1.5 0 1 0 3 0a1.5 1.5 0 1 0 -3 0zM381.4 326.5a1.5 1.5 0 1 0 3 0a1.5 1.5 0 1 0 -3 0zM342.6 320.8a1.5 1.5 0 1 0 3 0a1.5 1.5 0 1 0 -3 0zM374.7 313.4a1.5 1.5 0 1 0 3 0a1.5 1.5 0 1 0 -3 0zM361.7 324.1a1.5 1.5 0 1 0 3 0a1.5 1.5 0 1 0 -3 0zM358.2 334.4a1.5 1.5 0 1 0 3 0a1.5 1.5 0 1 0 -3 0zM364.6 340.0a1.5 1.5 0 1 0 3 0a1.5 1.5 0 1 0 -3 0zM365.7 312.1a1.5 1.5 0 1 0 3 0a1.5 1.5 0 1 0 -3 0zM354.6 324.8a1.5 1.5 0 1 0 3 0a1.5 1.5 0 1 0 -3 0zM359.8 335.9a1.5 1.5 0 1 0 3 0a1.5 1.5 0 1 0 -3 0zM392.8 351.5a1.5 1.5 0 1 0 3 0a1.5 1.5 0 1 0 -3 0zM345.8 344.7a1.5 1.5 0 1 0 3 0a1.5 1.5 0 1 0 -3 0zM388.2 349.3a1.5 1.5 0 1 0 3 0a1.5 1.5 0 1 0 -3 0zM355.0 315.3a1.5 1.5 0 1 0 3 0a1.5 1.5 0 1 0 -3 0zM378.7 324.0a1.5 1.5 0 1 0 3 0a1.5 1.5 0 1 0 -3 0zM347.8 342.7a1.5 1.5 0 1 0 3 0a1.5 1.5 0 1 0 -3 0zM354.8 335.1a1.5 1.5 0 1 0 3 0a1.5 1.5 0 1 0 -3 0zM363.8 295.8a1.5 1.5 0 1 0 3 0a1.5 1.5 0 1 0 -3 0zM340.6 318.8a1.5 1.5 0 1 0 3 0a1.5 1.5 0 1 0 -3 0zM348.1 350.5a1.5 1.5 0 1 0 3 0a1.5 1.5 0 1 0 -3 0zM405.7 322.3a1.5 1.5 0 1 0 3 0a1.5 1.5 0 1 0 -3 0zM385.8 340.9a1.5 1.5 0 1 0 3 0a1.5 1.5 0 1 0 -3 0zM389.5 346.6a1.5 1.5 0 1 0 3 0a1.5 1.5 0 1 0 -3 0zM381.2 323.6a1.5 1.5 0 1 0 3 0a1.5 1.5 0 1 0 -3 0zM358.3 299.2a1.5 1.5 0 1 0 3 0a1.5 1.5 0 1 0 -3 0zM412.4 298.8a1.5 1.5 0 1 0 3 0a1.5 1.5 0 1 0 -3 0zM428.3 315.2a1.5 1.5 0 1 0 3 0a1.5 1.5 0 1 0 -3 0zM350.3 337.4a1.5 1.5 0 1 0 3 0a1.5 1.5 0 1 0 -3 0zM367.9 326.1a1.5 1.5 0 1 0 3 0a1.5 1.5 0 1 0 -3 0zM365.9 315.6a1.5 1.5 0 1 0 3 0a1.5 1.5 0 1 0 -3 0zM367.2 348.0a1.5 1.5 0 1 0 3 0a1.5 1.5 0 1 0 -3 0zM389.1 348.7a1.5 1.5 0 1 0 3 0a1.5 1.5 0 1 0 -3 0zM368.5 303.9a1.5 1.5 0 1 0 3 0a1.5 1.5 0 1 0 -3 0zM370.9 324.4a1.5 1.5 0 1 0 3 0a1.5 1.5 0 1 0 -3 0zM368.6 307.5a1.5 1.5 0 1 0 3 0a1.5 1.5 0 1 0 -3 0zM348.5 329.8a1.5 1.5 0 1 0 3 0a1.5 1.5 0 1 0 -3 0zM411.7 299.9a1.5 1.5 0 1 0 3 0a1.5 1.5 0 1 0 -3 0zM347.3 341.2a1.5 1.5 0 1 0 3 0a1.5 1.5 0 1 0 -3 0zM362.6 323.3a1.5 1.5 0 1 0 3 0a1.5 1.5 0 1 0 -3 0zM364.5 309.0a1.5 1.5 0 1 0 3 0a1.5 1.5 0 1 0 -3 0zM376.3 313.5a1.5 1.5 0 1 0 3 0a1.5 1.5 0 1 0 -3 0zM381.5 331.8a1.5 1.5 0 1 0 3 0a1.5 1.5 0 1 0 -3 0zM341.7 322.6a1.5 1.5 0 1 0 3 0a1.5 1.5 0 1 0 -3 0zM372.0 336.6a1.5 1.5 0 1 0 3 0a1.5 1.5 0 1 0 -3 0zM352.1 350.9a1.5 1.5 0 1 0 3 0a1.5 1.5 0 1 0 -3 0zM378.1 319.6a1.5 1.5 0 1 0 3 0a1.5 1.5 0 1 0 -3 0zM341.9 315.8a1.5 1.5 0 1 0 3 0a1.5 1.5 0 1 0 -3 0zM373.5 316.3a1.5 1.5 0 1 0 3 0a1.5 1.5 0 1 0 -3 0zM339.1 351.5a1.5 1.5 0 1 0 3 0a1.5 1.5 0 1 0 -3 0zM348.3 321.4a1.5 1.5 0 1 0 3 0a1.5 1.5 0 1 0 -3 0zM366.7 320.0a1.5 1.5 0 1 0 3 0a1.5 1.5 0 1 0 -3 0zM382.0 331.8a1.5 1.5 0 1 0 3 0a1.5 1.5 0 1 0 -3 0zM386.4 357.6a1.5 1.5 0 1 0 3 0a1.5 1.5 0 1 0 -3 0zM376.6 313.4a1.5 1.5 0 1 0 3 0a1.5 1.5 0 1 0 -3 0zM357.8 319.2a1.5 1.5 0 1 0 3 0a1.5 1.5 0 1 0 -3 0zM373.9 320.8a1.5 1.5 0 1 0 3 0a1.5 1.5 0 1 0 -3 0zM367.1 351.8a1.5 1.5 0 1 0 3 0a1.5 1.5 0 1 0 -3 0zM359.0 350.4a1.5 1.5 0 1 0 3 0a1.5 1.5 0 1 0 -3 0zM392.3 310.0a1.5 1.5 0 1 0 3 0a1.5 1.5 0 1 0 -3 0zM371.0 317.4a1.5 1.5 0 1 0 3 0a1.5 1.5 0 1 0 -3 0zM370.6 321.6a1.5 1.5 0 1 0 3 0a1.5 1.5 0 1 0 -3 0zM386.0 328.1a1.5 1.5 0 1 0 3 0a1.5 1.5 0 1 0 -3 0zM359.4 325.3a1.5 1.5 0 1 0 3 0a1.5 1.5 0 1 0 -3 0zM366.8 336.1a1.5 1.5 0 1 0 3 0a1.5 1.5 0 1 0 -3 0zM349.5 336.8a1.5 1.5 0 1 0 3 0a1.5 1.5 0 1 0 -3 0zM353.6 343.3a1.5 1.5 0 1 0 3 0a1.5 1.5 0 1 0 -3 0zM347.2 329.7a1.5 1.5 0 1 0 3 0a1.5 1.5 0 1 0 -3 0zM350.2 338.1a1.5 1.5 0 1 0 3 0a1.5 1.5 0 1 0 -3 0zM351.9 319.5a1.5 1.5 0 1 0 3 0a1.5 1.5 0 1 0 -3 0zM365.7 319.6a1.5 1.5 0 1 0 3 0a1.5 1.5 0 1 0 -3 0zM379.1 337.1a1.5 1.5 0 1 0 3 0a1.5 1.5 0 1 0 -3 0zM358.4 306.3a1.5 1.5 0 1 0 3 0a1.5 1.5 0 1 0 -3 0zM370.2 343.1a1.5 1.5 0 1 0 3 0a1.5 1.5 0 1 0 -3 0zM426.6 310.1a1.5 1.5 0 1 0 3 0a1.5 1.5 0 1 0 -3 0zM357.0 316.6a1.5 1.5 0 1 0 3 0a1.5 1.5 0 1 0 -3 0zM362.9 312.7a1.5 1.5 0 1 0 3 0a1.5 1.5 0 1 0 -3 0zM360.8 316.9a1.5 1.5 0 1 0 3 0a1.5 1.5 0 1 0 -3 0zM409.5 303.5a1.5 1.5 0 1 0 3 0a1.5 1.5 0 1 0 -3 0zM372.7 308.5a1.5 1.5 0 1 0 3 0a1.5 1.5 0 1 0 -3 0zM346.3 363.0a1.5 1.5 0 1 0 3 0a1.5 1.5 0 1 0 -3 0zM375.3 336.1a1.5 1.5 0 1 0 3 0a1.5 1.5 0 1 0 -3 0zM353.6 333.1a1.5 1.5 0 1 0 3 0a1.5 1.5 0 1 0 -3 0zM366.3 335.0a1.5 1.5 0 1 0 3 0a1.5 1.5 0 1 0 -3 0zM383.2 307.5a1.5 1.5 0 1 0 3 0a1.5 1.5 0 1 0 -3 0zM371.8 336.9a1.5 1.5 0 1 0 3 0a1.5 1.5 0 1 0 -3 0zM351.7 315.8a1.5 1.5 0 1 0 3 0a1.5 1.5 0 1 0 -3 0zM345.3 326.1a1.5 1.5 0 1 0 3 0a1.5 1.5 0 1 0 -3 0zM357.3 350.4a1.5 1.5 0 1 0 3 0a1.5 1.5 0 1 0 -3 0zM374.0 340.6a1.5 1.5 0 1 0 3 0a1.5 1.5 0 1 0 -3 0zM357.0 337.3a1.5 1.5 0 1 0 3 0a1.5 1.5 0 1 0 -3 0zM357.0 329.8a1.5 1.5 0 1 0 3 0a1.5 1.5 0 1 0 -3 0zM368.1 331.1a1.5 1.5 0 1 0 3 0a1.5 1.5 0 1 0 -3 0zM389.4 311.9a1.5 1.5 0 1 0 3 0a1.5 1.5 0 1 0 -3 0zM337.7 356.2a1.5 1.5 0 1 0 3 0a1.5 1.5 0 1 0 -3 0zM351.1 373.1a1.5 1.5 0 1 0 3 0a1.5 1.5 0 1 0 -3 0zM347.7 337.6a1.5 1.5 0 1 0 3 0a1.5 1.5 0 1 0 -3 0zM359.7 324.3a1.5 1.5 0 1 0 3 0a1.5 1.5 0 1 0 -3 0zM386.6 329.5a1.5 1.5 0 1 0 3 0a1.5 1.5 0 1 0 -3 0zM378.7 339.9a1.5 1.5 0 1 0 3 0a1.5 1.5 0 1 0 -3 0zM370.5 322.5a1.5 1.5 0 1 0 3 0a1.5 1.5 0 1 0 -3 0zM381.3 300.0a1.5 1.5 0 1 0 3 0a1.5 1.5 0 1 0 -3 0z" fill="#2ca02c"/>
<line x1="326.7" y1="338.6" x2="445.7" y2="313.0" stroke="#4a5fa8" stroke-width="1.1"/>
<rect x="536.5" y="271.1" width="142.5" height="111.6" fill="#f0f0f0"/>
<rect x="564.0" y="271.1" width="2" height="111.6" fill="#ffffff"/>
<rect x="592.4" y="271.1" width="2" height="111.6" fill="#ffffff"/>
<rect x="620.9" y="271.1" width="2" height="111.6" fill="#ffffff"/>
<rect x="649.3" y="271.1" width="2" height="111.6" fill="#ffffff"/>
<rect x="536.5" y="285.7" width="142.5" height="2" fill="#ffffff"/>
<rect x="536.5" y="302.1" width="142.5" height="2" fill="#ffffff"/>
<rect x="536.5" y="318.4" width="142.5" height="2" fill="#ffffff"/>
<rect x="536.5" y="334.7" width="142.5" height="2" fill="#ffffff"/>
<rect x="536.5" y="351.1" width="142.5" height="2" fill="#ffffff"/>
<rect x="536.5" y="367.4" width="142.5" height="2" fill="#ffffff"/>
<text x="532.0" y="274.4" text-anchor="end"  style="font-family:'Liberation Sans', sans-serif;font-size:11.7px;fill:#1e1e1e">0.3</text>
<text x="532.0" y="307.1" text-anchor="end"  style="font-family:'Liberation Sans', sans-serif;font-size:11.7px;fill:#1e1e1e">0.1</text>
<text x="532.0" y="339.7" text-anchor="end"  style="font-family:'Liberation Sans', sans-serif;font-size:11.7px;fill:#1e1e1e">−0.1</text>
<text x="532.0" y="372.4" text-anchor="end"  style="font-family:'Liberation Sans', sans-serif;font-size:11.7px;fill:#1e1e1e">−0.3</text>
<text x="536.5" y="396.4" text-anchor="middle"  style="font-family:'Liberation Sans', sans-serif;font-size:11.7px;fill:#1e1e1e">15</text>
<text x="565.0" y="396.4" text-anchor="middle"  style="font-family:'Liberation Sans', sans-serif;font-size:11.7px;fill:#1e1e1e">20</text>
<text x="593.4" y="396.4" text-anchor="middle"  style="font-family:'Liberation Sans', sans-serif;font-size:11.7px;fill:#1e1e1e">25</text>
<text x="621.9" y="396.4" text-anchor="middle"  style="font-family:'Liberation Sans', sans-serif;font-size:11.7px;fill:#1e1e1e">30</text>
<text x="650.3" y="396.4" text-anchor="middle"  style="font-family:'Liberation Sans', sans-serif;font-size:11.7px;fill:#1e1e1e">35</text>
<text x="678.8" y="396.4" text-anchor="middle"  style="font-family:'Liberation Sans', sans-serif;font-size:11.7px;fill:#1e1e1e">40</text>
<text x="608.2" y="412.8" text-anchor="middle"  style="font-family:'Liberation Sans', sans-serif;font-size:11.7px;fill:#1e1e1e">Subnetwork B activity</text>
<text transform="translate(487.8,327.6) rotate(-90)" text-anchor="middle" style="font-family:'Liberation Sans', sans-serif;font-size:11.7px;fill:#1e1e1e">Strength of FP-DM</text>
<text transform="translate(501.3,327.6) rotate(-90)" text-anchor="middle" style="font-family:'Liberation Sans', sans-serif;font-size:11.7px;fill:#1e1e1e">connection</text>
<path d="M586.9 322.6a1.5 1.5 0 1 0 3 0a1.5 1.5 0 1 0 -3 0zM570.6 307.6a1.5 1.5 0 1 0 3 0a1.5 1.5 0 1 0 -3 0zM567.5 293.7a1.5 1.5 0 1 0 3 0a1.5 1.5 0 1 0 -3 0zM641.1 346.4a1.5 1.5 0 1 0 3 0a1.5 1.5 0 1 0 -3 0zM588.6 330.3a1.5 1.5 0 1 0 3 0a1.5 1.5 0 1 0 -3 0zM605.7 342.3a1.5 1.5 0 1 0 3 0a1.5 1.5 0 1 0 -3 0zM621.6 346.9a1.5 1.5 0 1 0 3 0a1.5 1.5 0 1 0 -3 0zM617.8 344.4a1.5 1.5 0 1 0 3 0a1.5 1.5 0 1 0 -3 0zM565.5 309.0a1.5 1.5 0 1 0 3 0a1.5 1.5 0 1 0 -3 0zM614.7 346.0a1.5 1.5 0 1 0 3 0a1.5 1.5 0 1 0 -3 0zM611.7 332.3a1.5 1.5 0 1 0 3 0a1.5 1.5 0 1 0 -3 0zM602.5 332.3a1.5 1.5 0 1 0 3 0a1.5 1.5 0 1 0 -3 0zM616.1 337.7a1.5 1.5 0 1 0 3 0a1.5 1.5 0 1 0 -3 0zM574.9 315.5a1.5 1.5 0 1 0 3 0a1.5 1.5 0 1 0 -3 0zM587.7 317.7a1.5 1.5 0 1 0 3 0a1.5 1.5 0 1 0 -3 0zM575.9 327.5a1.5 1.5 0 1 0 3 0a1.5 1.5 0 1 0 -3 0zM609.5 322.1a1.5 1.5 0 1 0 3 0a1.5 1.5 0 1 0 -3 0zM572.5 310.8a1.5 1.5 0 1 0 3 0a1.5 1.5 0 1 0 -3 0zM599.9 326.8a1.5 1.5 0 1 0 3 0a1.5 1.5 0 1 0 -3 0zM561.0 301.1a1.5 1.5 0 1 0 3 0a1.5 1.5 0 1 0 -3 0zM586.4 312.4a1.5 1.5 0 1 0 3 0a1.5 1.5 0 1 0 -3 0zM580.2 311.8a1.5 1.5 0 1 0 3 0a1.5 1.5 0 1 0 -3 0zM586.7 320.6a1.5 1.5 0 1 0 3 0a1.5 1.5 0 1 0 -3 0zM593.1 328.5a1.5 1.5 0 1 0 3 0a1.5 1.5 0 1 0 -3 0zM584.8 337.2a1.5 1.5 0 1 0 3 0a1.5 1.5 0 1 0 -3 0zM583.9 319.0a1.5 1.5 0 1 0 3 0a1.5 1.5 0 1 0 -3 0zM535.4 293.9a1.5 1.5 0 1 0 3 0a1.5 1.5 0 1 0 -3 0zM618.6 345.6a1.5 1.5 0 1 0 3 0a1.5 1.5 0 1 0 -3 0zM573.3 291.7a1.5 1.5 0 1 0 3 0a1.5 1.5 0 1 0 -3 0zM583.2 338.2a1.5 1.5 0 1 0 3 0a1.5 1.5 0 1 0 -3 0zM568.0 310.6a1.5 1.5 0 1 0 3 0a1.5 1.5 0 1 0 -3 0zM615.8 329.4a1.5 1.5 0 1 0 3 0a1.5 1.5 0 1 0 -3 0zM566.0 300.8a1.5 1.5 0 1 0 3 0a1.5 1.5 0 1 0 -3 0zM602.8 321.1a1.5 1.5 0 1 0 3 0a1.5 1.5 0 1 0 -3 0zM620.5 355.8a1.5 1.5 0 1 0 3 0a1.5 1.5 0 1 0 -3 0zM632.7 360.5a1.5 1.5 0 1 0 3 0a1.5 1.5 0 1 0 -3 0zM620.8 338.1a1.5 1.5 0 1 0 3 0a1.5 1.5 0 1 0 -3 0zM605.9 337.5a1.5 1.5 0 1 0 3 0a1.5 1.5 0 1 0 -3 0zM558.3 288.9a1.5 1.5 0 1 0 3 0a1.5 1.5 0 1 0 -3 0zM623.4 343.5a1.5 1.5 0 1 0 3 0a1.5 1.5 0 1 0 -3 0zM620.8 342.1a1.5 1.5 0 1 0 3 0a1.5 1.5 0 1 0 -3 0zM611.6 334.1a1.5 1.5 0 1 0 3 0a1.5 1.5 0 1 0 -3 0zM610.7 340.3a1.5 1.5 0 1 0 3 0a1.5 1.5 0 1 0 -3 0zM591.7 324.7a1.5 1.5 0 1 0 3 0a1.5 1.5 0 1 0 -3 0zM576.3 322.6a1.5 1.5 0 1 0 3 0a1.5 1.5 0 1 0 -3 0zM618.0 342.6a1.5 1.5 0 1 0 3 0a1.5 1.5 0 1 0 -3 0zM623.1 349.9a1.5 1.5 0 1 0 3 0a1.5 1.5 0 1 0 -3 0zM562.6 305.3a1.5 1.5 0 1 0 3 0a1.5 1.5 0 1 0 -3 0zM613.7 352.9a1.5 1.5 0 1 0 3 0a1.5 1.5 0 1 0 -3 0zM596.2 342.8a1.5 1.5 0 1 0 3 0a1.5 1.5 0 1 0 -3 0zM613.0 334.7a1.5 1.5 0 1 0 3 0a1.5 1.5 0 1 0 -3 0zM597.0 327.0a1.5 1.5 0 1 0 3 0a1.5 1.5 0 1 0 -3 0zM618.9 351.9a1.5 1.5 0 1 0 3 0a1.5 1.5 0 1 0 -3 0zM616.7 343.5a1.5 1.5 0 1 0 3 0a1.5 1.5 0 1 0 -3 0zM613.1 349.1a1.5 1.5 0 1 0 3 0a1.5 1.5 0 1 0 -3 0zM553.9 283.0a1.5 1.5 0 1 0 3 0a1.5 1.5 0 1 0 -3 0zM611.4 352.9a1.5 1.5 0 1 0 3 0a1.5 1.5 0 1 0 -3 0zM591.3 309.3a1.5 1.5 0 1 0 3 0a1.5 1.5 0 1 0 -3 0zM560.6 314.2a1.5 1.5 0 1 0 3 0a1.5 1.5 0 1 0 -3 0zM608.4 332.2a1.5 1.5 0 1 0 3 0a1.5 1.5 0 1 0 -3 0zM554.3 305.0a1.5 1.5 0 1 0 3 0a1.5 1.5 0 1 0 -3 0zM613.3 342.9a1.5 1.5 0 1 0 3 0a1.5 1.5 0 1 0 -3 0zM634.2 343.4a1.5 1.5 0 1 0 3 0a1.5 1.5 0 1 0 -3 0zM577.0 308.9a1.5 1.5 0 1 0 3 0a1.5 1.5 0 1 0 -3 0zM614.0 342.4a1.5 1.5 0 1 0 3 0a1.5 1.5 0 1 0 -3 0zM601.8 340.7a1.5 1.5 0 1 0 3 0a1.5 1.5 0 1 0 -3 0zM607.0 315.7a1.5 1.5 0 1 0 3 0a1.5 1.5 0 1 0 -3 0zM554.9 289.6a1.5 1.5 0 1 0 3 0a1.5 1.5 0 1 0 -3 0zM606.0 333.3a1.5 1.5 0 1 0 3 0a1.5 1.5 0 1 0 -3 0zM593.6 329.8a1.5 1.5 0 1 0 3 0a1.5 1.5 0 1 0 -3 0zM609.4 334.0a1.5 1.5 0 1 0 3 0a1.5 1.5 0 1 0 -3 0zM590.4 324.2a1.5 1.5 0 1 0 3 0a1.5 1.5 0 1 0 -3 0zM618.7 331.3a1.5 1.5 0 1 0 3 0a1.5 1.5 0 1 0 -3 0zM597.3 338.4a1.5 1.5 0 1 0 3 0a1.5 1.5 0 1 0 -3 0zM607.9 335.7a1.5 1.5 0 1 0 3 0a1.5 1.5 0 1 0 -3 0zM625.8 354.4a1.5 1.5 0 1 0 3 0a1.5 1.5 0 1 0 -3 0zM595.0 315.5a1.5 1.5 0 1 0 3 0a1.5 1.5 0 1 0 -3 0zM616.1 323.9a1.5 1.5 0 1 0 3 0a1.5 1.5 0 1 0 -3 0zM596.2 329.4a1.5 1.5 0 1 0 3 0a1.5 1.5 0 1 0 -3 0zM603.9 328.2a1.5 1.5 0 1 0 3 0a1.5 1.5 0 1 0 -3 0zM576.7 303.1a1.5 1.5 0 1 0 3 0a1.5 1.5 0 1 0 -3 0zM610.5 340.3a1.5 1.5 0 1 0 3 0a1.5 1.5 0 1 0 -3 0zM622.2 353.6a1.5 1.5 0 1 0 3 0a1.5 1.5 0 1 0 -3 0zM588.3 313.8a1.5 1.5 0 1 0 3 0a1.5 1.5 0 1 0 -3 0zM611.0 333.0a1.5 1.5 0 1 0 3 0a1.5 1.5 0 1 0 -3 0zM601.5 333.8a1.5 1.5 0 1 0 3 0a1.5 1.5 0 1 0 -3 0zM561.8 293.3a1.5 1.5 0 1 0 3 0a1.5 1.5 0 1 0 -3 0zM599.6 328.4a1.5 1.5 0 1 0 3 0a1.5 1.5 0 1 0 -3 0zM624.6 363.1a1.5 1.5 0 1 0 3 0a1.5 1.5 0 1 0 -3 0zM577.9 313.9a1.5 1.5 0 1 0 3 0a1.5 1.5 0 1 0 -3 0zM544.4 296.9a1.5 1.5 0 1 0 3 0a1.5 1.5 0 1 0 -3 0zM595.7 310.5a1.5 1.5 0 1 0 3 0a1.5 1.5 0 1 0 -3 0zM573.9 314.8a1.5 1.5 0 1 0 3 0a1.5 1.5 0 1 0 -3 0zM639.5 357.5a1.5 1.5 0 1 0 3 0a1.5 1.5 0 1 0 -3 0zM589.4 320.2a1.5 1.5 0 1 0 3 0a1.5 1.5 0 1 0 -3 0zM590.4 322.6a1.5 1.5 0 1 0 3 0a1.5 1.5 0 1 0 -3 0zM574.3 328.2a1.5 1.5 0 1 0 3 0a1.5 1.5 0 1 0 -3 0zM597.0 327.9a1.5 1.5 0 1 0 3 0a1.5 1.5 0 1 0 -3 0zM576.0 319.1a1.5 1.5 0 1 0 3 0a1.5 1.5 0 1 0 -3 0zM567.3 297.2a1.5 1.5 0 1 0 3 0a1.5 1.5 0 1 0 -3 0zM588.9 301.3a1.5 1.5 0 1 0 3 0a1.5 1.5 0 1 0 -3 0zM569.6 322.6a1.5 1.5 0 1 0 3 0a1.5 1.5 0 1 0 -3 0zM624.5 355.3a1.5 1.5 0 1 0 3 0a1.5 1.5 0 1 0 -3 0zM560.5 314.3a1.5 1.5 0 1 0 3 0a1.5 1.5 0 1 0 -3 0zM588.7 330.1a1.5 1.5 0 1 0 3 0a1.5 1.5 0 1 0 -3 0zM572.8 320.5a1.5 1.5 0 1 0 3 0a1.5 1.5 0 1 0 -3 0zM555.0 302.4a1.5 1.5 0 1 0 3 0a1.5 1.5 0 1 0 -3 0zM633.3 341.3a1.5 1.5 0 1 0 3 0a1.5 1.5 0 1 0 -3 0zM536.5 303.7a1.5 1.5 0 1 0 3 0a1.5 1.5 0 1 0 -3 0zM628.0 362.9a1.5 1.5 0 1 0 3 0a1.5 1.5 0 1 0 -3 0zM554.3 319.9a1.5 1.5 0 1 0 3 0a1.5 1.5 0 1 0 -3 0zM592.9 316.0a1.5 1.5 0 1 0 3 0a1.5 1.5 0 1 0 -3 0zM648.7 348.7a1.5 1.5 0 1 0 3 0a1.5 1.5 0 1 0 -3 0zM535.9 305.5a1.5 1.5 0 1 0 3 0a1.5 1.5 0 1 0 -3 0zM555.3 318.5a1.5 1.5 0 1 0 3 0a1.5 1.5 0 1 0 -3 0zM624.3 344.8a1.5 1.5 0 1 0 3 0a1.5 1.5 0 1 0 -3 0zM595.0 317.4a1.5 1.5 0 1 0 3 0a1.5 1.5 0 1 0 -3 0zM576.5 306.7a1.5 1.5 0 1 0 3 0a1.5 1.5 0 1 0 -3 0zM589.7 322.7a1.5 1.5 0 1 0 3 0a1.5 1.5 0 1 0 -3 0zM565.8 303.1a1.5 1.5 0 1 0 3 0a1.5 1.5 0 1 0 -3 0zM593.7 323.9a1.5 1.5 0 1 0 3 0a1.5 1.5 0 1 0 -3 0zM628.9 354.2a1.5 1.5 0 1 0 3 0a1.5 1.5 0 1 0 -3 0zM580.7 300.8a1.5 1.5 0 1 0 3 0a1.5 1.5 0 1 0 -3 0zM594.1 327.3a1.5 1.5 0 1 0 3 0a1.5 1.5 0 1 0 -3 0zM621.5 354.8a1.5 1.5 0 1 0 3 0a1.5 1.5 0 1 0 -3 0zM641.6 361.2a1.5 1.5 0 1 0 3 0a1.5 1.5 0 1 0 -3 0zM575.5 330.2a1.5 1.5 0 1 0 3 0a1.5 1.5 0 1 0 -3 0zM598.3 329.7a1.5 1.5 0 1 0 3 0a1.5 1.5 0 1 0 -3 0zM576.1 305.6a1.5 1.5 0 1 0 3 0a1.5 1.5 0 1 0 -3 0zM574.0 326.7a1.5 1.5 0 1 0 3 0a1.5 1.5 0 1 0 -3 0zM580.3 307.9a1.5 1.5 0 1 0 3 0a1.5 1.5 0 1 0 -3 0zM574.3 295.1a1.5 1.5 0 1 0 3 0a1.5 1.5 0 1 0 -3 0zM546.2 293.8a1.5 1.5 0 1 0 3 0a1.5 1.5 0 1 0 -3 0zM539.5 304.2a1.5 1.5 0 1 0 3 0a1.5 1.5 0 1 0 -3 0zM571.8 321.4a1.5 1.5 0 1 0 3 0a1.5 1.5 0 1 0 -3 0zM594.0 330.3a1.5 1.5 0 1 0 3 0a1.5 1.5 0 1 0 -3 0zM621.7 356.6a1.5 1.5 0 1 0 3 0a1.5 1.5 0 1 0 -3 0zM577.0 328.4a1.5 1.5 0 1 0 3 0a1.5 1.5 0 1 0 -3 0zM586.3 324.8a1.5 1.5 0 1 0 3 0a1.5 1.5 0 1 0 -3 0zM607.5 337.3a1.5 1.5 0 1 0 3 0a1.5 1.5 0 1 0 -3 0zM609.6 331.1a1.5 1.5 0 1 0 3 0a1.5 1.5 0 1 0 -3 0zM587.6 334.5a1.5 1.5 0 1 0 3 0a1.5 1.5 0 1 0 -3 0zM589.2 306.4a1.5 1.5 0 1 0 3 0a1.5 1.5 0 1 0 -3 0zM638.6 344.9a1.5 1.5 0 1 0 3 0a1.5 1.5 0 1 0 -3 0zM582.0 311.2a1.5 1.5 0 1 0 3 0a1.5 1.5 0 1 0 -3 0zM578.0 323.4a1.5 1.5 0 1 0 3 0a1.5 1.5 0 1 0 -3 0zM548.9 282.6a1.5 1.5 0 1 0 3 0a1.5 1.5 0 1 0 -3 0zM601.7 335.2a1.5 1.5 0 1 0 3 0a1.5 1.5 0 1 0 -3 0zM583.8 303.6a1.5 1.5 0 1 0 3 0a1.5 1.5 0 1 0 -3 0zM639.5 345.3a1.5 1.5 0 1 0 3 0a1.5 1.5 0 1 0 -3 0zM582.0 328.2a1.5 1.5 0 1 0 3 0a1.5 1.5 0 1 0 -3 0zM611.4 342.3a1.5 1.5 0 1 0 3 0a1.5 1.5 0 1 0 -3 0zM614.5 322.2a1.5 1.5 0 1 0 3 0a1.5 1.5 0 1 0 -3 0zM632.8 341.8a1.5 1.5 0 1 0 3 0a1.5 1.5 0 1 0 -3 0zM557.0 305.6a1.5 1.5 0 1 0 3 0a1.5 1.5 0 1 0 -3 0zM630.7 348.1a1.5 1.5 0 1 0 3 0a1.5 1.5 0 1 0 -3 0zM590.9 323.3a1.5 1.5 0 1 0 3 0a1.5 1.5 0 1 0 -3 0zM587.9 330.7a1.5 1.5 0 1 0 3 0a1.5 1.5 0 1 0 -3 0zM582.6 322.0a1.5 1.5 0 1 0 3 0a1.5 1.5 0 1 0 -3 0zM580.4 325.0a1.5 1.5 0 1 0 3 0a1.5 1.5 0 1 0 -3 0zM581.7 323.6a1.5 1.5 0 1 0 3 0a1.5 1.5 0 1 0 -3 0zM603.6 342.2a1.5 1.5 0 1 0 3 0a1.5 1.5 0 1 0 -3 0zM592.2 319.1a1.5 1.5 0 1 0 3 0a1.5 1.5 0 1 0 -3 0zM566.2 308.8a1.5 1.5 0 1 0 3 0a1.5 1.5 0 1 0 -3 0zM588.9 316.8a1.5 1.5 0 1 0 3 0a1.5 1.5 0 1 0 -3 0zM649.4 353.2a1.5 1.5 0 1 0 3 0a1.5 1.5 0 1 0 -3 0zM600.3 319.2a1.5 1.5 0 1 0 3 0a1.5 1.5 0 1 0 -3 0zM580.6 312.9a1.5 1.5 0 1 0 3 0a1.5 1.5 0 1 0 -3 0zM634.4 345.6a1.5 1.5 0 1 0 3 0a1.5 1.5 0 1 0 -3 0zM570.2 314.0a1.5 1.5 0 1 0 3 0a1.5 1.5 0 1 0 -3 0zM586.6 317.1a1.5 1.5 0 1 0 3 0a1.5 1.5 0 1 0 -3 0zM576.4 324.7a1.5 1.5 0 1 0 3 0a1.5 1.5 0 1 0 -3 0zM584.5 323.6a1.5 1.5 0 1 0 3 0a1.5 1.5 0 1 0 -3 0zM609.3 329.5a1.5 1.5 0 1 0 3 0a1.5 1.5 0 1 0 -3 0zM605.4 334.7a1.5 1.5 0 1 0 3 0a1.5 1.5 0 1 0 -3 0zM571.8 309.1a1.5 1.5 0 1 0 3 0a1.5 1.5 0 1 0 -3 0zM587.2 333.0a1.5 1.5 0 1 0 3 0a1.5 1.5 0 1 0 -3 0zM592.7 313.4a1.5 1.5 0 1 0 3 0a1.5 1.5 0 1 0 -3 0zM580.1 324.0a1.5 1.5 0 1 0 3 0a1.5 1.5 0 1 0 -3 0zM589.6 320.6a1.5 1.5 0 1 0 3 0a1.5 1.5 0 1 0 -3 0zM572.1 313.7a1.5 1.5 0 1 0 3 0a1.5 1.5 0 1 0 -3 0zM571.7 304.4a1.5 1.5 0 1 0 3 0a1.5 1.5 0 1 0 -3 0zM591.7 329.3a1.5 1.5 0 1 0 3 0a1.5 1.5 0 1 0 -3 0zM564.1 318.0a1.5 1.5 0 1 0 3 0a1.5 1.5 0 1 0 -3 0zM601.2 349.6a1.5 1.5 0 1 0 3 0a1.5 1.5 0 1 0 -3 0zM585.6 324.8a1.5 1.5 0 1 0 3 0a1.5 1.5 0 1 0 -3 0zM567.0 321.6a1.5 1.5 0 1 0 3 0a1.5 1.5 0 1 0 -3 0zM574.9 310.1a1.5 1.5 0 1 0 3 0a1.5 1.5 0 1 0 -3 0zM578.3 303.7a1.5 1.5 0 1 0 3 0a1.5 1.5 0 1 0 -3 0zM586.4 343.5a1.5 1.5 0 1 0 3 0a1.5 1.5 0 1 0 -3 0zM593.4 339.0a1.5 1.5 0 1 0 3 0a1.5 1.5 0 1 0 -3 0zM585.1 318.7a1.5 1.5 0 1 0 3 0a1.5 1.5 0 1 0 -3 0zM568.3 299.4a1.5 1.5 0 1 0 3 0a1.5 1.5 0 1 0 -3 0zM627.0 344.8a1.5 1.5 0 1 0 3 0a1.5 1.5 0 1 0 -3 0zM613.5 336.2a1.5 1.5 0 1 0 3 0a1.5 1.5 0 1 0 -3 0zM593.3 321.9a1.5 1.5 0 1 0 3 0a1.5 1.5 0 1 0 -3 0zM614.7 334.6a1.5 1.5 0 1 0 3 0a1.5 1.5 0 1 0 -3 0zM598.8 314.5a1.5 1.5 0 1 0 3 0a1.5 1.5 0 1 0 -3 0zM583.9 315.0a1.5 1.5 0 1 0 3 0a1.5 1.5 0 1 0 -3 0zM592.6 338.1a1.5 1.5 0 1 0 3 0a1.5 1.5 0 1 0 -3 0zM658.3 371.7a1.5 1.5 0 1 0 3 0a1.5 1.5 0 1 0 -3 0zM615.7 338.7a1.5 1.5 0 1 0 3 0a1.5 1.5 0 1 0 -3 0zM617.0 349.1a1.5 1.5 0 1 0 3 0a1.5 1.5 0 1 0 -3 0zM580.4 321.2a1.5 1.5 0 1 0 3 0a1.5 1.5 0 1 0 -3 0zM605.7 339.4a1.5 1.5 0 1 0 3 0a1.5 1.5 0 1 0 -3 0zM647.9 367.4a1.5 1.5 0 1 0 3 0a1.5 1.5 0 1 0 -3 0zM601.3 325.1a1.5 1.5 0 1 0 3 0a1.5 1.5 0 1 0 -3 0zM617.7 345.6a1.5 1.5 0 1 0 3 0a1.5 1.5 0 1 0 -3 0zM622.4 355.2a1.5 1.5 0 1 0 3 0a1.5 1.5 0 1 0 -3 0zM606.8 341.9a1.5 1.5 0 1 0 3 0a1.5 1.5 0 1 0 -3 0zM630.5 349.5a1.5 1.5 0 1 0 3 0a1.5 1.5 0 1 0 -3 0zM596.3 308.5a1.5 1.5 0 1 0 3 0a1.5 1.5 0 1 0 -3 0zM603.0 330.3a1.5 1.5 0 1 0 3 0a1.5 1.5 0 1 0 -3 0zM574.5 300.9a1.5 1.5 0 1 0 3 0a1.5 1.5 0 1 0 -3 0zM657.5 362.0a1.5 1.5 0 1 0 3 0a1.5 1.5 0 1 0 -3 0zM598.1 350.2a1.5 1.5 0 1 0 3 0a1.5 1.5 0 1 0 -3 0zM593.2 323.1a1.5 1.5 0 1 0 3 0a1.5 1.5 0 1 0 -3 0zM625.7 355.0a1.5 1.5 0 1 0 3 0a1.5 1.5 0 1 0 -3 0zM578.0 330.1a1.5 1.5 0 1 0 3 0a1.5 1.5 0 1 0 -3 0zM590.3 335.1a1.5 1.5 0 1 0 3 0a1.5 1.5 0 1 0 -3 0zM570.5 295.5a1.5 1.5 0 1 0 3 0a1.5 1.5 0 1 0 -3 0zM591.0 340.3a1.5 1.5 0 1 0 3 0a1.5 1.5 0 1 0 -3 0zM580.5 324.7a1.5 1.5 0 1 0 3 0a1.5 1.5 0 1 0 -3 0zM604.2 322.4a1.5 1.5 0 1 0 3 0a1.5 1.5 0 1 0 -3 0zM587.2 316.6a1.5 1.5 0 1 0 3 0a1.5 1.5 0 1 0 -3 0zM575.2 331.7a1.5 1.5 0 1 0 3 0a1.5 1.5 0 1 0 -3 0zM582.9 321.3a1.5 1.5 0 1 0 3 0a1.5 1.5 0 1 0 -3 0zM587.4 327.9a1.5 1.5 0 1 0 3 0a1.5 1.5 0 1 0 -3 0zM577.4 318.7a1.5 1.5 0 1 0 3 0a1.5 1.5 0 1 0 -3 0zM614.1 332.5a1.5 1.5 0 1 0 3 0a1.5 1.5 0 1 0 -3 0zM607.4 341.0a1.5 1.5 0 1 0 3 0a1.5 1.5 0 1 0 -3 0zM594.1 330.2a1.5 1.5 0 1 0 3 0a1.5 1.5 0 1 0 -3 0zM560.2 292.2a1.5 1.5 0 1 0 3 0a1.5 1.5 0 1 0 -3 0zM603.5 350.6a1.5 1.5 0 1 0 3 0a1.5 1.5 0 1 0 -3 0zM558.0 308.3a1.5 1.5 0 1 0 3 0a1.5 1.5 0 1 0 -3 0zM595.1 323.3a1.5 1.5 0 1 0 3 0a1.5 1.5 0 1 0 -3 0zM591.6 337.5a1.5 1.5 0 1 0 3 0a1.5 1.5 0 1 0 -3 0zM575.4 321.6a1.5 1.5 0 1 0 3 0a1.5 1.5 0 1 0 -3 0zM569.3 324.4a1.5 1.5 0 1 0 3 0a1.5 1.5 0 1 0 -3 0zM572.8 312.5a1.5 1.5 0 1 0 3 0a1.5 1.5 0 1 0 -3 0zM642.3 363.2a1.5 1.5 0 1 0 3 0a1.5 1.5 0 1 0 -3 0zM583.6 313.2a1.5 1.5 0 1 0 3 0a1.5 1.5 0 1 0 -3 0zM585.1 311.9a1.5 1.5 0 1 0 3 0a1.5 1.5 0 1 0 -3 0zM614.6 339.6a1.5 1.5 0 1 0 3 0a1.5 1.5 0 1 0 -3 0zM601.0 335.1a1.5 1.5 0 1 0 3 0a1.5 1.5 0 1 0 -3 0zM617.1 339.1a1.5 1.5 0 1 0 3 0a1.5 1.5 0 1 0 -3 0zM559.3 305.0a1.5 1.5 0 1 0 3 0a1.5 1.5 0 1 0 -3 0zM562.8 319.4a1.5 1.5 0 1 0 3 0a1.5 1.5 0 1 0 -3 0zM589.3 322.1a1.5 1.5 0 1 0 3 0a1.5 1.5 0 1 0 -3 0zM583.0 312.8a1.5 1.5 0 1 0 3 0a1.5 1.5 0 1 0 -3 0zM594.4 340.4a1.5 1.5 0 1 0 3 0a1.5 1.5 0 1 0 -3 0zM615.4 332.1a1.5 1.5 0 1 0 3 0a1.5 1.5 0 1 0 -3 0zM560.3 286.1a1.5 1.5 0 1 0 3 0a1.5 1.5 0 1 0 -3 0zM597.5 323.5a1.5 1.5 0 1 0 3 0a1.5 1.5 0 1 0 -3 0zM589.6 338.3a1.5 1.5 0 1 0 3 0a1.5 1.5 0 1 0 -3 0zM607.4 335.1a1.5 1.5 0 1 0 3 0a1.5 1.5 0 1 0 -3 0zM594.7 328.2a1.5 1.5 0 1 0 3 0a1.5 1.5 0 1 0 -3 0zM576.9 314.5a1.5 1.5 0 1 0 3 0a1.5 1.5 0 1 0 -3 0zM568.5 313.5a1.5 1.5 0 1 0 3 0a1.5 1.5 0 1 0 -3 0zM615.1 344.7a1.5 1.5 0 1 0 3 0a1.5 1.5 0 1 0 -3 0zM553.2 299.6a1.5 1.5 0 1 0 3 0a1.5 1.5 0 1 0 -3 0zM580.2 325.2a1.5 1.5 0 1 0 3 0a1.5 1.5 0 1 0 -3 0zM632.3 350.1a1.5 1.5 0 1 0 3 0a1.5 1.5 0 1 0 -3 0zM579.8 308.8a1.5 1.5 0 1 0 3 0a1.5 1.5 0 1 0 -3 0zM605.8 339.2a1.5 1.5 0 1 0 3 0a1.5 1.5 0 1 0 -3 0zM585.0 315.2a1.5 1.5 0 1 0 3 0a1.5 1.5 0 1 0 -3 0zM608.0 344.4a1.5 1.5 0 1 0 3 0a1.5 1.5 0 1 0 -3 0zM591.1 328.9a1.5 1.5 0 1 0 3 0a1.5 1.5 0 1 0 -3 0zM577.5 319.2a1.5 1.5 0 1 0 3 0a1.5 1.5 0 1 0 -3 0zM624.4 334.2a1.5 1.5 0 1 0 3 0a1.5 1.5 0 1 0 -3 0zM583.6 328.1a1.5 1.5 0 1 0 3 0a1.5 1.5 0 1 0 -3 0zM556.6 292.3a1.5 1.5 0 1 0 3 0a1.5 1.5 0 1 0 -3 0zM582.0 333.8a1.5 1.5 0 1 0 3 0a1.5 1.5 0 1 0 -3 0zM603.9 334.9a1.5 1.5 0 1 0 3 0a1.5 1.5 0 1 0 -3 0zM562.3 298.7a1.5 1.5 0 1 0 3 0a1.5 1.5 0 1 0 -3 0zM610.1 330.6a1.5 1.5 0 1 0 3 0a1.5 1.5 0 1 0 -3 0zM609.6 346.6a1.5 1.5 0 1 0 3 0a1.5 1.5 0 1 0 -3 0zM643.8 369.9a1.5 1.5 0 1 0 3 0a1.5 1.5 0 1 0 -3 0zM574.2 306.5a1.5 1.5 0 1 0 3 0a1.5 1.5 0 1 0 -3 0zM607.0 347.4a1.5 1.5 0 1 0 3 0a1.5 1.5 0 1 0 -3 0zM548.3 293.2a1.5 1.5 0 1 0 3 0a1.5 1.5 0 1 0 -3 0zM579.8 323.4a1.5 1.5 0 1 0 3 0a1.5 1.5 0 1 0 -3 0zM593.0 326.7a1.5 1.5 0 1 0 3 0a1.5 1.5 0 1 0 -3 0zM600.6 309.2a1.5 1.5 0 1 0 3 0a1.5 1.5 0 1 0 -3 0zM588.9 309.3a1.5 1.5 0 1 0 3 0a1.5 1.5 0 1 0 -3 0zM588.0 315.5a1.5 1.5 0 1 0 3 0a1.5 1.5 0 1 0 -3 0zM574.9 328.5a1.5 1.5 0 1 0 3 0a1.5 1.5 0 1 0 -3 0zM579.1 314.9a1.5 1.5 0 1 0 3 0a1.5 1.5 0 1 0 -3 0zM598.0 329.2a1.5 1.5 0 1 0 3 0a1.5 1.5 0 1 0 -3 0zM604.4 334.7a1.5 1.5 0 1 0 3 0a1.5 1.5 0 1 0 -3 0zM606.4 322.2a1.5 1.5 0 1 0 3 0a1.5 1.5 0 1 0 -3 0zM615.4 357.0a1.5 1.5 0 1 0 3 0a1.5 1.5 0 1 0 -3 0zM620.2 340.5a1.5 1.5 0 1 0 3 0a1.5 1.5 0 1 0 -3 0zM545.0 295.5a1.5 1.5 0 1 0 3 0a1.5 1.5 0 1 0 -3 0zM577.2 324.0a1.5 1.5 0 1 0 3 0a1.5 1.5 0 1 0 -3 0zM586.3 305.9a1.5 1.5 0 1 0 3 0a1.5 1.5 0 1 0 -3 0zM574.1 327.0a1.5 1.5 0 1 0 3 0a1.5 1.5 0 1 0 -3 0zM616.6 341.1a1.5 1.5 0 1 0 3 0a1.5 1.5 0 1 0 -3 0zM609.1 335.9a1.5 1.5 0 1 0 3 0a1.5 1.5 0 1 0 -3 0zM587.6 344.3a1.5 1.5 0 1 0 3 0a1.5 1.5 0 1 0 -3 0zM593.4 340.6a1.5 1.5 0 1 0 3 0a1.5 1.5 0 1 0 -3 0zM622.1 354.0a1.5 1.5 0 1 0 3 0a1.5 1.5 0 1 0 -3 0zM581.6 312.0a1.5 1.5 0 1 0 3 0a1.5 1.5 0 1 0 -3 0zM582.4 311.0a1.5 1.5 0 1 0 3 0a1.5 1.5 0 1 0 -3 0zM613.1 333.5a1.5 1.5 0 1 0 3 0a1.5 1.5 0 1 0 -3 0zM602.1 330.0a1.5 1.5 0 1 0 3 0a1.5 1.5 0 1 0 -3 0zM626.0 368.2a1.5 1.5 0 1 0 3 0a1.5 1.5 0 1 0 -3 0zM599.6 328.7a1.5 1.5 0 1 0 3 0a1.5 1.5 0 1 0 -3 0zM609.1 341.6a1.5 1.5 0 1 0 3 0a1.5 1.5 0 1 0 -3 0zM576.6 305.2a1.5 1.5 0 1 0 3 0a1.5 1.5 0 1 0 -3 0zM566.7 297.4a1.5 1.5 0 1 0 3 0a1.5 1.5 0 1 0 -3 0zM590.1 303.4a1.5 1.5 0 1 0 3 0a1.5 1.5 0 1 0 -3 0zM600.6 323.6a1.5 1.5 0 1 0 3 0a1.5 1.5 0 1 0 -3 0zM614.7 350.0a1.5 1.5 0 1 0 3 0a1.5 1.5 0 1 0 -3 0zM592.2 325.4a1.5 1.5 0 1 0 3 0a1.5 1.5 0 1 0 -3 0zM584.8 333.4a1.5 1.5 0 1 0 3 0a1.5 1.5 0 1 0 -3 0zM617.6 333.4a1.5 1.5 0 1 0 3 0a1.5 1.5 0 1 0 -3 0zM589.3 335.8a1.5 1.5 0 1 0 3 0a1.5 1.5 0 1 0 -3 0zM614.9 342.4a1.5 1.5 0 1 0 3 0a1.5 1.5 0 1 0 -3 0zM645.3 367.1a1.5 1.5 0 1 0 3 0a1.5 1.5 0 1 0 -3 0zM608.5 340.8a1.5 1.5 0 1 0 3 0a1.5 1.5 0 1 0 -3 0zM613.9 335.3a1.5 1.5 0 1 0 3 0a1.5 1.5 0 1 0 -3 0zM602.7 338.1a1.5 1.5 0 1 0 3 0a1.5 1.5 0 1 0 -3 0zM596.6 326.8a1.5 1.5 0 1 0 3 0a1.5 1.5 0 1 0 -3 0zM597.2 339.0a1.5 1.5 0 1 0 3 0a1.5 1.5 0 1 0 -3 0zM592.0 312.7a1.5 1.5 0 1 0 3 0a1.5 1.5 0 1 0 -3 0zM617.5 348.1a1.5 1.5 0 1 0 3 0a1.5 1.5 0 1 0 -3 0zM549.9 290.1a1.5 1.5 0 1 0 3 0a1.5 1.5 0 1 0 -3 0zM583.6 300.3a1.5 1.5 0 1 0 3 0a1.5 1.5 0 1 0 -3 0zM606.8 358.7a1.5 1.5 0 1 0 3 0a1.5 1.5 0 1 0 -3 0zM569.2 321.4a1.5 1.5 0 1 0 3 0a1.5 1.5 0 1 0 -3 0zM587.7 325.4a1.5 1.5 0 1 0 3 0a1.5 1.5 0 1 0 -3 0zM572.9 303.0a1.5 1.5 0 1 0 3 0a1.5 1.5 0 1 0 -3 0zM601.4 336.6a1.5 1.5 0 1 0 3 0a1.5 1.5 0 1 0 -3 0zM612.0 334.9a1.5 1.5 0 1 0 3 0a1.5 1.5 0 1 0 -3 0zM626.7 354.7a1.5 1.5 0 1 0 3 0a1.5 1.5 0 1 0 -3 0zM602.9 327.5a1.5 1.5 0 1 0 3 0a1.5 1.5 0 1 0 -3 0zM572.3 325.5a1.5 1.5 0 1 0 3 0a1.5 1.5 0 1 0 -3 0zM596.6 320.9a1.5 1.5 0 1 0 3 0a1.5 1.5 0 1 0 -3 0zM604.6 362.7a1.5 1.5 0 1 0 3 0a1.5 1.5 0 1 0 -3 0zM625.7 365.2a1.5 1.5 0 1 0 3 0a1.5 1.5 0 1 0 -3 0zM599.6 329.2a1.5 1.5 0 1 0 3 0a1.5 1.5 0 1 0 -3 0zM544.6 305.2a1.5 1.5 0 1 0 3 0a1.5 1.5 0 1 0 -3 0zM608.2 315.0a1.5 1.5 0 1 0 3 0a1.5 1.5 0 1 0 -3 0zM601.5 321.9a1.5 1.5 0 1 0 3 0a1.5 1.5 0 1 0 -3 0zM602.8 322.0a1.5 1.5 0 1 0 3 0a1.5 1.5 0 1 0 -3 0zM612.5 342.9a1.5 1.5 0 1 0 3 0a1.5 1.5 0 1 0 -3 0zM600.0 325.1a1.5 1.5 0 1 0 3 0a1.5 1.5 0 1 0 -3 0zM574.2 310.1a1.5 1.5 0 1 0 3 0a1.5 1.5 0 1 0 -3 0zM599.1 346.5a1.5 1.5 0 1 0 3 0a1.5 1.5 0 1 0 -3 0zM620.4 338.1a1.5 1.5 0 1 0 3 0a1.5 1.5 0 1 0 -3 0zM587.4 325.0a1.5 1.5 0 1 0 3 0a1.5 1.5 0 1 0 -3 0zM591.0 313.1a1.5 1.5 0 1 0 3 0a1.5 1.5 0 1 0 -3 0zM560.0 293.6a1.5 1.5 0 1 0 3 0a1.5 1.5 0 1 0 -3 0zM619.4 349.4a1.5 1.5 0 1 0 3 0a1.5 1.5 0 1 0 -3 0zM577.7 323.1a1.5 1.5 0 1 0 3 0a1.5 1.5 0 1 0 -3 0zM571.8 311.7a1.5 1.5 0 1 0 3 0a1.5 1.5 0 1 0 -3 0zM579.2 311.8a1.5 1.5 0 1 0 3 0a1.5 1.5 0 1 0 -3 0zM568.8 315.6a1.5 1.5 0 1 0 3 0a1.5 1.5 0 1 0 -3 0zM584.1 322.3a1.5 1.5 0 1 0 3 0a1.5 1.5 0 1 0 -3 0zM622.2 339.1a1.5 1.5 0 1 0 3 0a1.5 1.5 0 1 0 -3 0zM610.2 333.4a1.5 1.5 0 1 0 3 0a1.5 1.5 0 1 0 -3 0zM626.0 336.0a1.5 1.5 0 1 0 3 0a1.5 1.5 0 1 0 -3 0zM627.5 345.9a1.5 1.5 0 1 0 3 0a1.5 1.5 0 1 0 -3 0zM567.9 319.7a1.5 1.5 0 1 0 3 0a1.5 1.5 0 1 0 -3 0zM602.4 349.6a1.5 1.5 0 1 0 3 0a1.5 1.5 0 1 0 -3 0zM627.8 340.6a1.5 1.5 0 1 0 3 0a1.5 1.5 0 1 0 -3 0zM647.7 364.1a1.5 1.5 0 1 0 3 0a1.5 1.5 0 1 0 -3 0zM555.0 306.4a1.5 1.5 0 1 0 3 0a1.5 1.5 0 1 0 -3 0zM554.7 305.7a1.5 1.5 0 1 0 3 0a1.5 1.5 0 1 0 -3 0zM602.0 347.6a1.5 1.5 0 1 0 3 0a1.5 1.5 0 1 0 -3 0zM581.9 323.7a1.5 1.5 0 1 0 3 0a1.5 1.5 0 1 0 -3 0zM565.5 334.8a1.5 1.5 0 1 0 3 0a1.5 1.5 0 1 0 -3 0zM599.8 334.9a1.5 1.5 0 1 0 3 0a1.5 1.5 0 1 0 -3 0zM570.6 321.5a1.5 1.5 0 1 0 3 0a1.5 1.5 0 1 0 -3 0zM589.7 320.4a1.5 1.5 0 1 0 3 0a1.5 1.5 0 1 0 -3 0zM593.4 329.1a1.5 1.5 0 1 0 3 0a1.5 1.5 0 1 0 -3 0zM606.2 333.4a1.5 1.5 0 1 0 3 0a1.5 1.5 0 1 0 -3 0zM613.8 332.7a1.5 1.5 0 1 0 3 0a1.5 1.5 0 1 0 -3 0zM594.8 335.3a1.5 1.5 0 1 0 3 0a1.5 1.5 0 1 0 -3 0zM584.4 323.6a1.5 1.5 0 1 0 3 0a1.5 1.5 0 1 0 -3 0zM573.6 318.2a1.5 1.5 0 1 0 3 0a1.5 1.5 0 1 0 -3 0zM579.3 317.6a1.5 1.5 0 1 0 3 0a1.5 1.5 0 1 0 -3 0zM615.2 359.7a1.5 1.5 0 1 0 3 0a1.5 1.5 0 1 0 -3 0zM606.5 327.5a1.5 1.5 0 1 0 3 0a1.5 1.5 0 1 0 -3 0zM641.5 331.9a1.5 1.5 0 1 0 3 0a1.5 1.5 0 1 0 -3 0zM586.4 332.0a1.5 1.5 0 1 0 3 0a1.5 1.5 0 1 0 -3 0zM610.9 338.5a1.5 1.5 0 1 0 3 0a1.5 1.5 0 1 0 -3 0zM616.2 331.5a1.5 1.5 0 1 0 3 0a1.5 1.5 0 1 0 -3 0zM561.0 312.4a1.5 1.5 0 1 0 3 0a1.5 1.5 0 1 0 -3 0zM549.9 302.6a1.5 1.5 0 1 0 3 0a1.5 1.5 0 1 0 -3 0zM594.0 339.4a1.5 1.5 0 1 0 3 0a1.5 1.5 0 1 0 -3 0zM608.0 346.4a1.5 1.5 0 1 0 3 0a1.5 1.5 0 1 0 -3 0zM562.2 328.5a1.5 1.5 0 1 0 3 0a1.5 1.5 0 1 0 -3 0zM581.7 308.6a1.5 1.5 0 1 0 3 0a1.5 1.5 0 1 0 -3 0zM570.8 324.2a1.5 1.5 0 1 0 3 0a1.5 1.5 0 1 0 -3 0zM560.6 303.1a1.5 1.5 0 1 0 3 0a1.5 1.5 0 1 0 -3 0zM557.3 301.4a1.5 1.5 0 1 0 3 0a1.5 1.5 0 1 0 -3 0zM593.7 333.5a1.5 1.5 0 1 0 3 0a1.5 1.5 0 1 0 -3 0zM580.8 318.8a1.5 1.5 0 1 0 3 0a1.5 1.5 0 1 0 -3 0zM573.4 315.5a1.5 1.5 0 1 0 3 0a1.5 1.5 0 1 0 -3 0zM633.8 351.8a1.5 1.5 0 1 0 3 0a1.5 1.5 0 1 0 -3 0zM566.5 309.9a1.5 1.5 0 1 0 3 0a1.5 1.5 0 1 0 -3 0zM586.7 332.8a1.5 1.5 0 1 0 3 0a1.5 1.5 0 1 0 -3 0zM561.7 320.0a1.5 1.5 0 1 0 3 0a1.5 1.5 0 1 0 -3 0zM599.6 339.2a1.5 1.5 0 1 0 3 0a1.5 1.5 0 1 0 -3 0zM552.4 300.4a1.5 1.5 0 1 0 3 0a1.5 1.5 0 1 0 -3 0zM592.4 313.0a1.5 1.5 0 1 0 3 0a1.5 1.5 0 1 0 -3 0zM585.4 307.8a1.5 1.5 0 1 0 3 0a1.5 1.5 0 1 0 -3 0zM613.0 336.2a1.5 1.5 0 1 0 3 0a1.5 1.5 0 1 0 -3 0zM562.7 298.7a1.5 1.5 0 1 0 3 0a1.5 1.5 0 1 0 -3 0zM573.8 313.7a1.5 1.5 0 1 0 3 0a1.5 1.5 0 1 0 -3 0zM584.2 310.6a1.5 1.5 0 1 0 3 0a1.5 1.5 0 1 0 -3 0zM642.4 356.3a1.5 1.5 0 1 0 3 0a1.5 1.5 0 1 0 -3 0zM553.2 298.2a1.5 1.5 0 1 0 3 0a1.5 1.5 0 1 0 -3 0zM597.3 332.3a1.5 1.5 0 1 0 3 0a1.5 1.5 0 1 0 -3 0zM573.6 314.9a1.5 1.5 0 1 0 3 0a1.5 1.5 0 1 0 -3 0zM597.8 311.3a1.5 1.5 0 1 0 3 0a1.5 1.5 0 1 0 -3 0zM606.3 346.9a1.5 1.5 0 1 0 3 0a1.5 1.5 0 1 0 -3 0zM593.5 327.1a1.5 1.5 0 1 0 3 0a1.5 1.5 0 1 0 -3 0zM596.5 334.8a1.5 1.5 0 1 0 3 0a1.5 1.5 0 1 0 -3 0zM597.0 319.9a1.5 1.5 0 1 0 3 0a1.5 1.5 0 1 0 -3 0zM575.3 298.1a1.5 1.5 0 1 0 3 0a1.5 1.5 0 1 0 -3 0zM584.6 324.7a1.5 1.5 0 1 0 3 0a1.5 1.5 0 1 0 -3 0zM548.5 326.3a1.5 1.5 0 1 0 3 0a1.5 1.5 0 1 0 -3 0zM581.1 313.4a1.5 1.5 0 1 0 3 0a1.5 1.5 0 1 0 -3 0zM570.7 307.0a1.5 1.5 0 1 0 3 0a1.5 1.5 0 1 0 -3 0zM583.6 337.5a1.5 1.5 0 1 0 3 0a1.5 1.5 0 1 0 -3 0zM608.3 338.8a1.5 1.5 0 1 0 3 0a1.5 1.5 0 1 0 -3 0zM599.5 331.6a1.5 1.5 0 1 0 3 0a1.5 1.5 0 1 0 -3 0zM601.7 354.9a1.5 1.5 0 1 0 3 0a1.5 1.5 0 1 0 -3 0zM617.5 335.5a1.5 1.5 0 1 0 3 0a1.5 1.5 0 1 0 -3 0zM600.6 329.3a1.5 1.5 0 1 0 3 0a1.5 1.5 0 1 0 -3 0zM589.3 335.0a1.5 1.5 0 1 0 3 0a1.5 1.5 0 1 0 -3 0zM587.4 330.4a1.5 1.5 0 1 0 3 0a1.5 1.5 0 1 0 -3 0zM557.2 310.8a1.5 1.5 0 1 0 3 0a1.5 1.5 0 1 0 -3 0zM603.6 328.8a1.5 1.5 0 1 0 3 0a1.5 1.5 0 1 0 -3 0zM618.5 352.4a1.5 1.5 0 1 0 3 0a1.5 1.5 0 1 0 -3 0zM615.5 326.6a1.5 1.5 0 1 0 3 0a1.5 1.5 0 1 0 -3 0zM587.7 319.9a1.5 1.5 0 1 0 3 0a1.5 1.5 0 1 0 -3 0zM605.8 356.2a1.5 1.5 0 1 0 3 0a1.5 1.5 0 1 0 -3 0zM612.9 322.8a1.5 1.5 0 1 0 3 0a1.5 1.5 0 1 0 -3 0zM635.4 351.7a1.5 1.5 0 1 0 3 0a1.5 1.5 0 1 0 -3 0zM620.5 349.4a1.5 1.5 0 1 0 3 0a1.5 1.5 0 1 0 -3 0zM593.4 326.1a1.5 1.5 0 1 0 3 0a1.5 1.5 0 1 0 -3 0zM592.2 344.3a1.5 1.5 0 1 0 3 0a1.5 1.5 0 1 0 -3 0zM594.0 325.7a1.5 1.5 0 1 0 3 0a1.5 1.5 0 1 0 -3 0zM595.5 352.6a1.5 1.5 0 1 0 3 0a1.5 1.5 0 1 0 -3 0zM577.4 327.3a1.5 1.5 0 1 0 3 0a1.5 1.5 0 1 0 -3 0zM609.1 323.6a1.5 1.5 0 1 0 3 0a1.5 1.5 0 1 0 -3 0zM572.5 301.8a1.5 1.5 0 1 0 3 0a1.5 1.5 0 1 0 -3 0zM569.7 315.8a1.5 1.5 0 1 0 3 0a1.5 1.5 0 1 0 -3 0zM598.6 340.0a1.5 1.5 0 1 0 3 0a1.5 1.5 0 1 0 -3 0zM575.4 306.8a1.5 1.5 0 1 0 3 0a1.5 1.5 0 1 0 -3 0zM583.7 321.6a1.5 1.5 0 1 0 3 0a1.5 1.5 0 1 0 -3 0zM537.9 290.6a1.5 1.5 0 1 0 3 0a1.5 1.5 0 1 0 -3 0zM609.6 331.1a1.5 1.5 0 1 0 3 0a1.5 1.5 0 1 0 -3 0zM589.6 335.4a1.5 1.5 0 1 0 3 0a1.5 1.5 0 1 0 -3 0zM586.6 315.2a1.5 1.5 0 1 0 3 0a1.5 1.5 0 1 0 -3 0zM601.3 353.0a1.5 1.5 0 1 0 3 0a1.5 1.5 0 1 0 -3 0zM595.0 313.8a1.5 1.5 0 1 0 3 0a1.5 1.5 0 1 0 -3 0zM572.3 329.5a1.5 1.5 0 1 0 3 0a1.5 1.5 0 1 0 -3 0zM639.8 362.3a1.5 1.5 0 1 0 3 0a1.5 1.5 0 1 0 -3 0zM578.5 324.5a1.5 1.5 0 1 0 3 0a1.5 1.5 0 1 0 -3 0zM614.1 332.9a1.5 1.5 0 1 0 3 0a1.5 1.5 0 1 0 -3 0zM635.5 346.1a1.5 1.5 0 1 0 3 0a1.5 1.5 0 1 0 -3 0zM574.2 311.8a1.5 1.5 0 1 0 3 0a1.5 1.5 0 1 0 -3 0zM592.1 321.1a1.5 1.5 0 1 0 3 0a1.5 1.5 0 1 0 -3 0zM569.3 307.6a1.5 1.5 0 1 0 3 0a1.5 1.5 0 1 0 -3 0zM616.0 342.0a1.5 1.5 0 1 0 3 0a1.5 1.5 0 1 0 -3 0zM581.4 338.6a1.5 1.5 0 1 0 3 0a1.5 1.5 0 1 0 -3 0zM562.2 330.6a1.5 1.5 0 1 0 3 0a1.5 1.5 0 1 0 -3 0zM622.6 368.1a1.5 1.5 0 1 0 3 0a1.5 1.5 0 1 0 -3 0zM612.6 339.7a1.5 1.5 0 1 0 3 0a1.5 1.5 0 1 0 -3 0zM567.5 313.4a1.5 1.5 0 1 0 3 0a1.5 1.5 0 1 0 -3 0zM619.3 344.8a1.5 1.5 0 1 0 3 0a1.5 1.5 0 1 0 -3 0zM594.6 325.8a1.5 1.5 0 1 0 3 0a1.5 1.5 0 1 0 -3 0zM657.5 369.5a1.5 1.5 0 1 0 3 0a1.5 1.5 0 1 0 -3 0zM632.6 361.5a1.5 1.5 0 1 0 3 0a1.5 1.5 0 1 0 -3 0zM575.8 331.2a1.5 1.5 0 1 0 3 0a1.5 1.5 0 1 0 -3 0zM583.0 339.5a1.5 1.5 0 1 0 3 0a1.5 1.5 0 1 0 -3 0zM567.8 299.3a1.5 1.5 0 1 0 3 0a1.5 1.5 0 1 0 -3 0zM593.0 318.1a1.5 1.5 0 1 0 3 0a1.5 1.5 0 1 0 -3 0zM590.9 339.1a1.5 1.5 0 1 0 3 0a1.5 1.5 0 1 0 -3 0zM608.1 339.2a1.5 1.5 0 1 0 3 0a1.5 1.5 0 1 0 -3 0zM591.8 322.0a1.5 1.5 0 1 0 3 0a1.5 1.5 0 1 0 -3 0zM552.9 286.4a1.5 1.5 0 1 0 3 0a1.5 1.5 0 1 0 -3 0zM569.4 318.3a1.5 1.5 0 1 0 3 0a1.5 1.5 0 1 0 -3 0zM625.0 345.3a1.5 1.5 0 1 0 3 0a1.5 1.5 0 1 0 -3 0zM618.5 331.5a1.5 1.5 0 1 0 3 0a1.5 1.5 0 1 0 -3 0zM585.6 339.7a1.5 1.5 0 1 0 3 0a1.5 1.5 0 1 0 -3 0zM586.3 330.1a1.5 1.5 0 1 0 3 0a1.5 1.5 0 1 0 -3 0zM585.5 322.8a1.5 1.5 0 1 0 3 0a1.5 1.5 0 1 0 -3 0zM590.2 332.5a1.5 1.5 0 1 0 3 0a1.5 1.5 0 1 0 -3 0zM547.7 278.0a1.5 1.5 0 1 0 3 0a1.5 1.5 0 1 0 -3 0zM612.0 330.4a1.5 1.5 0 1 0 3 0a1.5 1.5 0 1 0 -3 0zM573.2 312.8a1.5 1.5 0 1 0 3 0a1.5 1.5 0 1 0 -3 0zM593.3 336.8a1.5 1.5 0 1 0 3 0a1.5 1.5 0 1 0 -3 0zM595.5 322.4a1.5 1.5 0 1 0 3 0a1.5 1.5 0 1 0 -3 0zM623.1 350.9a1.5 1.5 0 1 0 3 0a1.5 1.5 0 1 0 -3 0zM627.6 363.1a1.5 1.5 0 1 0 3 0a1.5 1.5 0 1 0 -3 0zM601.5 333.2a1.5 1.5 0 1 0 3 0a1.5 1.5 0 1 0 -3 0zM571.3 305.1a1.5 1.5 0 1 0 3 0a1.5 1.5 0 1 0 -3 0zM550.0 290.5a1.5 1.5 0 1 0 3 0a1.5 1.5 0 1 0 -3 0zM618.7 337.4a1.5 1.5 0 1 0 3 0a1.5 1.5 0 1 0 -3 0zM596.2 320.9a1.5 1.5 0 1 0 3 0a1.5 1.5 0 1 0 -3 0zM604.5 340.1a1.5 1.5 0 1 0 3 0a1.5 1.5 0 1 0 -3 0zM582.9 325.5a1.5 1.5 0 1 0 3 0a1.5 1.5 0 1 0 -3 0zM569.7 300.7a1.5 1.5 0 1 0 3 0a1.5 1.5 0 1 0 -3 0zM611.4 334.1a1.5 1.5 0 1 0 3 0a1.5 1.5 0 1 0 -3 0zM565.8 318.1a1.5 1.5 0 1 0 3 0a1.5 1.5 0 1 0 -3 0zM612.2 334.1a1.5 1.5 0 1 0 3 0a1.5 1.5 0 1 0 -3 0zM547.9 290.8a1.5 1.5 0 1 0 3 0a1.5 1.5 0 1 0 -3 0zM566.5 303.7a1.5 1.5 0 1 0 3 0a1.5 1.5 0 1 0 -3 0zM553.3 301.4a1.5 1.5 0 1 0 3 0a1.5 1.5 0 1 0 -3 0zM622.4 350.6a1.5 1.5 0 1 0 3 0a1.5 1.5 0 1 0 -3 0zM545.9 293.9a1.5 1.5 0 1 0 3 0a1.5 1.5 0 1 0 -3 0zM561.1 290.6a1.5 1.5 0 1 0 3 0a1.5 1.5 0 1 0 -3 0zM606.2 333.9a1.5 1.5 0 1 0 3 0a1.5 1.5 0 1 0 -3 0zM595.4 335.2a1.5 1.5 0 1 0 3 0a1.5 1.5 0 1 0 -3 0zM644.5 355.9a1.5 1.5 0 1 0 3 0a1.5 1.5 0 1 0 -3 0zM635.7 365.9a1.5 1.5 0 1 0 3 0a1.5 1.5 0 1 0 -3 0zM605.1 332.4a1.5 1.5 0 1 0 3 0a1.5 1.5 0 1 0 -3 0zM606.9 338.8a1.5 1.5 0 1 0 3 0a1.5 1.5 0 1 0 -3 0zM544.0 287.2a1.5 1.5 0 1 0 3 0a1.5 1.5 0 1 0 -3 0zM567.6 310.3a1.5 1.5 0 1 0 3 0a1.5 1.5 0 1 0 -3 0zM581.4 309.6a1.5 1.5 0 1 0 3 0a1.5 1.5 0 1 0 -3 0zM585.2 299.6a1.5 1.5 0 1 0 3 0a1.5 1.5 0 1 0 -3 0zM555.2 305.8a1.5 1.5 0 1 0 3 0a1.5 1.5 0 1 0 -3 0zM566.3 318.8a1.5 1.5 0 1 0 3 0a1.5 1.5 0 1 0 -3 0zM568.4 307.3a1.5 1.5 0 1 0 3 0a1.5 1.5 0 1 0 -3 0zM616.2 342.5a1.5 1.5 0 1 0 3 0a1.5 1.5 0 1 0 -3 0zM600.3 330.3a1.5 1.5 0 1 0 3 0a1.5 1.5 0 1 0 -3 0zM581.3 325.9a1.5 1.5 0 1 0 3 0a1.5 1.5 0 1 0 -3 0zM582.7 315.3a1.5 1.5 0 1 0 3 0a1.5 1.5 0 1 0 -3 0zM596.9 329.0a1.5 1.5 0 1 0 3 0a1.5 1.5 0 1 0 -3 0zM572.2 335.5a1.5 1.5 0 1 0 3 0a1.5 1.5 0 1 0 -3 0zM583.0 323.3a1.5 1.5 0 1 0 3 0a1.5 1.5 0 1 0 -3 0zM546.5 295.0a1.5 1.5 0 1 0 3 0a1.5 1.5 0 1 0 -3 0zM606.4 323.9a1.5 1.5 0 1 0 3 0a1.5 1.5 0 1 0 -3 0zM613.7 345.8a1.5 1.5 0 1 0 3 0a1.5 1.5 0 1 0 -3 0zM598.7 338.7a1.5 1.5 0 1 0 3 0a1.5 1.5 0 1 0 -3 0zM601.6 321.2a1.5 1.5 0 1 0 3 0a1.5 1.5 0 1 0 -3 0zM598.8 336.8a1.5 1.5 0 1 0 3 0a1.5 1.5 0 1 0 -3 0zM640.8 355.9a1.5 1.5 0 1 0 3 0a1.5 1.5 0 1 0 -3 0zM594.7 323.6a1.5 1.5 0 1 0 3 0a1.5 1.5 0 1 0 -3 0zM556.5 297.2a1.5 1.5 0 1 0 3 0a1.5 1.5 0 1 0 -3 0zM563.4 308.7a1.5 1.5 0 1 0 3 0a1.5 1.5 0 1 0 -3 0zM607.5 347.2a1.5 1.5 0 1 0 3 0a1.5 1.5 0 1 0 -3 0zM616.3 331.8a1.5 1.5 0 1 0 3 0a1.5 1.5 0 1 0 -3 0zM608.9 341.4a1.5 1.5 0 1 0 3 0a1.5 1.5 0 1 0 -3 0zM610.7 343.3a1.5 1.5 0 1 0 3 0a1.5 1.5 0 1 0 -3 0zM594.3 308.3a1.5 1.5 0 1 0 3 0a1.5 1.5 0 1 0 -3 0zM552.3 293.2a1.5 1.5 0 1 0 3 0a1.5 1.5 0 1 0 -3 0zM571.8 324.5a1.5 1.5 0 1 0 3 0a1.5 1.5 0 1 0 -3 0zM544.2 301.6a1.5 1.5 0 1 0 3 0a1.5 1.5 0 1 0 -3 0zM579.9 321.5a1.5 1.5 0 1 0 3 0a1.5 1.5 0 1 0 -3 0zM555.4 311.2a1.5 1.5 0 1 0 3 0a1.5 1.5 0 1 0 -3 0zM592.0 345.5a1.5 1.5 0 1 0 3 0a1.5 1.5 0 1 0 -3 0zM585.3 314.5a1.5 1.5 0 1 0 3 0a1.5 1.5 0 1 0 -3 0zM540.7 287.0a1.5 1.5 0 1 0 3 0a1.5 1.5 0 1 0 -3 0zM607.9 334.1a1.5 1.5 0 1 0 3 0a1.5 1.5 0 1 0 -3 0zM608.6 340.9a1.5 1.5 0 1 0 3 0a1.5 1.5 0 1 0 -3 0zM554.7 301.3a1.5 1.5 0 1 0 3 0a1.5 1.5 0 1 0 -3 0zM593.2 321.1a1.5 1.5 0 1 0 3 0a1.5 1.5 0 1 0 -3 0zM607.5 346.5a1.5 1.5 0 1 0 3 0a1.5 1.5 0 1 0 -3 0zM582.2 323.8a1.5 1.5 0 1 0 3 0a1.5 1.5 0 1 0 -3 0zM611.0 343.9a1.5 1.5 0 1 0 3 0a1.5 1.5 0 1 0 -3 0zM594.3 321.2a1.5 1.5 0 1 0 3 0a1.5 1.5 0 1 0 -3 0zM616.5 339.3a1.5 1.5 0 1 0 3 0a1.5 1.5 0 1 0 -3 0zM594.2 340.7a1.5 1.5 0 1 0 3 0a1.5 1.5 0 1 0 -3 0zM585.3 328.5a1.5 1.5 0 1 0 3 0a1.5 1.5 0 1 0 -3 0zM602.3 315.7a1.5 1.5 0 1 0 3 0a1.5 1.5 0 1 0 -3 0zM609.2 346.8a1.5 1.5 0 1 0 3 0a1.5 1.5 0 1 0 -3 0zM595.7 327.5a1.5 1.5 0 1 0 3 0a1.5 1.5 0 1 0 -3 0zM578.1 324.2a1.5 1.5 0 1 0 3 0a1.5 1.5 0 1 0 -3 0zM569.6 300.4a1.5 1.5 0 1 0 3 0a1.5 1.5 0 1 0 -3 0zM580.0 319.8a1.5 1.5 0 1 0 3 0a1.5 1.5 0 1 0 -3 0zM575.0 320.3a1.5 1.5 0 1 0 3 0a1.5 1.5 0 1 0 -3 0zM594.5 339.8a1.5 1.5 0 1 0 3 0a1.5 1.5 0 1 0 -3 0zM593.6 330.1a1.5 1.5 0 1 0 3 0a1.5 1.5 0 1 0 -3 0zM587.2 315.5a1.5 1.5 0 1 0 3 0a1.5 1.5 0 1 0 -3 0zM589.3 318.3a1.5 1.5 0 1 0 3 0a1.5 1.5 0 1 0 -3 0zM593.7 340.7a1.5 1.5 0 1 0 3 0a1.5 1.5 0 1 0 -3 0zM628.8 334.2a1.5 1.5 0 1 0 3 0a1.5 1.5 0 1 0 -3 0zM619.6 346.3a1.5 1.5 0 1 0 3 0a1.5 1.5 0 1 0 -3 0zM574.8 326.3a1.5 1.5 0 1 0 3 0a1.5 1.5 0 1 0 -3 0zM599.9 330.3a1.5 1.5 0 1 0 3 0a1.5 1.5 0 1 0 -3 0zM581.0 325.9a1.5 1.5 0 1 0 3 0a1.5 1.5 0 1 0 -3 0zM586.8 329.1a1.5 1.5 0 1 0 3 0a1.5 1.5 0 1 0 -3 0zM583.1 327.3a1.5 1.5 0 1 0 3 0a1.5 1.5 0 1 0 -3 0zM573.5 316.0a1.5 1.5 0 1 0 3 0a1.5 1.5 0 1 0 -3 0zM555.0 308.5a1.5 1.5 0 1 0 3 0a1.5 1.5 0 1 0 -3 0zM594.3 323.0a1.5 1.5 0 1 0 3 0a1.5 1.5 0 1 0 -3 0zM619.1 348.6a1.5 1.5 0 1 0 3 0a1.5 1.5 0 1 0 -3 0zM566.4 299.0a1.5 1.5 0 1 0 3 0a1.5 1.5 0 1 0 -3 0zM602.0 327.6a1.5 1.5 0 1 0 3 0a1.5 1.5 0 1 0 -3 0zM579.5 312.8a1.5 1.5 0 1 0 3 0a1.5 1.5 0 1 0 -3 0zM596.3 327.6a1.5 1.5 0 1 0 3 0a1.5 1.5 0 1 0 -3 0zM568.9 299.6a1.5 1.5 0 1 0 3 0a1.5 1.5 0 1 0 -3 0zM583.4 324.5a1.5 1.5 0 1 0 3 0a1.5 1.5 0 1 0 -3 0zM586.4 332.9a1.5 1.5 0 1 0 3 0a1.5 1.5 0 1 0 -3 0zM594.6 355.0a1.5 1.5 0 1 0 3 0a1.5 1.5 0 1 0 -3 0zM585.7 326.4a1.5 1.5 0 1 0 3 0a1.5 1.5 0 1 0 -3 0zM605.6 339.2a1.5 1.5 0 1 0 3 0a1.5 1.5 0 1 0 -3 0zM588.3 312.1a1.5 1.5 0 1 0 3 0a1.5 1.5 0 1 0 -3 0zM594.3 321.3a1.5 1.5 0 1 0 3 0a1.5 1.5 0 1 0 -3 0zM598.2 329.5a1.5 1.5 0 1 0 3 0a1.5 1.5 0 1 0 -3 0zM578.6 322.3a1.5 1.5 0 1 0 3 0a1.5 1.5 0 1 0 -3 0zM561.9 297.3a1.5 1.5 0 1 0 3 0a1.5 1.5 0 1 0 -3 0zM577.8 324.5a1.5 1.5 0 1 0 3 0a1.5 1.5 0 1 0 -3 0zM578.3 322.2a1.5 1.5 0 1 0 3 0a1.5 1.5 0 1 0 -3 0zM645.2 352.5a1.5 1.5 0 1 0 3 0a1.5 1.5 0 1 0 -3 0zM635.7 348.1a1.5 1.5 0 1 0 3 0a1.5 1.5 0 1 0 -3 0zM576.7 297.3a1.5 1.5 0 1 0 3 0a1.5 1.5 0 1 0 -3 0zM578.6 320.5a1.5 1.5 0 1 0 3 0a1.5 1.5 0 1 0 -3 0zM597.2 348.4a1.5 1.5 0 1 0 3 0a1.5 1.5 0 1 0 -3 0zM603.3 327.3a1.5 1.5 0 1 0 3 0a1.5 1.5 0 1 0 -3 0zM571.5 301.7a1.5 1.5 0 1 0 3 0a1.5 1.5 0 1 0 -3 0zM563.7 310.7a1.5 1.5 0 1 0 3 0a1.5 1.5 0 1 0 -3 0zM638.0 340.1a1.5 1.5 0 1 0 3 0a1.5 1.5 0 1 0 -3 0zM615.8 324.1a1.5 1.5 0 1 0 3 0a1.5 1.5 0 1 0 -3 0zM549.6 306.9a1.5 1.5 0 1 0 3 0a1.5 1.5 0 1 0 -3 0zM544.3 301.7a1.5 1.5 0 1 0 3 0a1.5 1.5 0 1 0 -3 0zM568.0 324.1a1.5 1.5 0 1 0 3 0a1.5 1.5 0 1 0 -3 0zM594.5 323.0a1.5 1.5 0 1 0 3 0a1.5 1.5 0 1 0 -3 0zM602.8 326.5a1.5 1.5 0 1 0 3 0a1.5 1.5 0 1 0 -3 0zM580.3 313.5a1.5 1.5 0 1 0 3 0a1.5 1.5 0 1 0 -3 0zM548.0 311.4a1.5 1.5 0 1 0 3 0a1.5 1.5 0 1 0 -3 0zM594.5 335.8a1.5 1.5 0 1 0 3 0a1.5 1.5 0 1 0 -3 0zM604.2 348.3a1.5 1.5 0 1 0 3 0a1.5 1.5 0 1 0 -3 0zM588.9 340.6a1.5 1.5 0 1 0 3 0a1.5 1.5 0 1 0 -3 0zM576.3 330.2a1.5 1.5 0 1 0 3 0a1.5 1.5 0 1 0 -3 0zM603.5 349.4a1.5 1.5 0 1 0 3 0a1.5 1.5 0 1 0 -3 0zM587.5 325.7a1.5 1.5 0 1 0 3 0a1.5 1.5 0 1 0 -3 0zM560.4 303.0a1.5 1.5 0 1 0 3 0a1.5 1.5 0 1 0 -3 0zM591.3 320.2a1.5 1.5 0 1 0 3 0a1.5 1.5 0 1 0 -3 0zM556.0 304.5a1.5 1.5 0 1 0 3 0a1.5 1.5 0 1 0 -3 0zM613.4 346.6a1.5 1.5 0 1 0 3 0a1.5 1.5 0 1 0 -3 0zM600.8 332.3a1.5 1.5 0 1 0 3 0a1.5 1.5 0 1 0 -3 0zM563.5 303.5a1.5 1.5 0 1 0 3 0a1.5 1.5 0 1 0 -3 0zM594.3 331.1a1.5 1.5 0 1 0 3 0a1.5 1.5 0 1 0 -3 0zM620.7 344.1a1.5 1.5 0 1 0 3 0a1.5 1.5 0 1 0 -3 0zM585.3 327.7a1.5 1.5 0 1 0 3 0a1.5 1.5 0 1 0 -3 0zM630.8 350.6a1.5 1.5 0 1 0 3 0a1.5 1.5 0 1 0 -3 0zM549.3 311.1a1.5 1.5 0 1 0 3 0a1.5 1.5 0 1 0 -3 0zM584.6 311.9a1.5 1.5 0 1 0 3 0a1.5 1.5 0 1 0 -3 0zM552.6 317.5a1.5 1.5 0 1 0 3 0a1.5 1.5 0 1 0 -3 0zM587.1 319.3a1.5 1.5 0 1 0 3 0a1.5 1.5 0 1 0 -3 0zM547.5 284.3a1.5 1.5 0 1 0 3 0a1.5 1.5 0 1 0 -3 0zM575.1 307.8a1.5 1.5 0 1 0 3 0a1.5 1.5 0 1 0 -3 0zM592.4 334.9a1.5 1.5 0 1 0 3 0a1.5 1.5 0 1 0 -3 0zM598.5 335.2a1.5 1.5 0 1 0 3 0a1.5 1.5 0 1 0 -3 0zM599.7 342.6a1.5 1.5 0 1 0 3 0a1.5 1.5 0 1 0 -3 0zM618.2 343.7a1.5 1.5 0 1 0 3 0a1.5 1.5 0 1 0 -3 0zM606.7 331.9a1.5 1.5 0 1 0 3 0a1.5 1.5 0 1 0 -3 0zM607.7 311.6a1.5 1.5 0 1 0 3 0a1.5 1.5 0 1 0 -3 0zM563.8 322.6a1.5 1.5 0 1 0 3 0a1.5 1.5 0 1 0 -3 0zM584.9 310.2a1.5 1.5 0 1 0 3 0a1.5 1.5 0 1 0 -3 0zM646.9 358.3a1.5 1.5 0 1 0 3 0a1.5 1.5 0 1 0 -3 0zM610.1 329.5a1.5 1.5 0 1 0 3 0a1.5 1.5 0 1 0 -3 0zM607.8 331.3a1.5 1.5 0 1 0 3 0a1.5 1.5 0 1 0 -3 0zM614.2 336.5a1.5 1.5 0 1 0 3 0a1.5 1.5 0 1 0 -3 0zM578.5 320.3a1.5 1.5 0 1 0 3 0a1.5 1.5 0 1 0 -3 0zM639.1 356.2a1.5 1.5 0 1 0 3 0a1.5 1.5 0 1 0 -3 0zM579.2 317.4a1.5 1.5 0 1 0 3 0a1.5 1.5 0 1 0 -3 0zM586.8 311.8a1.5 1.5 0 1 0 3 0a1.5 1.5 0 1 0 -3 0zM644.7 373.9a1.5 1.5 0 1 0 3 0a1.5 1.5 0 1 0 -3 0zM535.5 296.4a1.5 1.5 0 1 0 3 0a1.5 1.5 0 1 0 -3 0zM598.2 342.8a1.5 1.5 0 1 0 3 0a1.5 1.5 0 1 0 -3 0zM544.6 306.7a1.5 1.5 0 1 0 3 0a1.5 1.5 0 1 0 -3 0zM572.1 322.2a1.5 1.5 0 1 0 3 0a1.5 1.5 0 1 0 -3 0zM586.5 312.7a1.5 1.5 0 1 0 3 0a1.5 1.5 0 1 0 -3 0zM579.8 298.3a1.5 1.5 0 1 0 3 0a1.5 1.5 0 1 0 -3 0zM593.3 314.4a1.5 1.5 0 1 0 3 0a1.5 1.5 0 1 0 -3 0zM569.1 324.1a1.5 1.5 0 1 0 3 0a1.5 1.5 0 1 0 -3 0zM586.2 322.5a1.5 1.5 0 1 0 3 0a1.5 1.5 0 1 0 -3 0zM558.3 316.9a1.5 1.5 0 1 0 3 0a1.5 1.5 0 1 0 -3 0zM578.9 314.3a1.5 1.5 0 1 0 3 0a1.5 1.5 0 1 0 -3 0zM553.1 290.2a1.5 1.5 0 1 0 3 0a1.5 1.5 0 1 0 -3 0zM605.8 329.6a1.5 1.5 0 1 0 3 0a1.5 1.5 0 1 0 -3 0zM555.5 295.6a1.5 1.5 0 1 0 3 0a1.5 1.5 0 1 0 -3 0zM606.7 337.4a1.5 1.5 0 1 0 3 0a1.5 1.5 0 1 0 -3 0zM578.2 337.4a1.5 1.5 0 1 0 3 0a1.5 1.5 0 1 0 -3 0zM581.0 339.3a1.5 1.5 0 1 0 3 0a1.5 1.5 0 1 0 -3 0zM619.3 344.8a1.5 1.5 0 1 0 3 0a1.5 1.5 0 1 0 -3 0zM591.7 321.0a1.5 1.5 0 1 0 3 0a1.5 1.5 0 1 0 -3 0zM540.0 282.0a1.5 1.5 0 1 0 3 0a1.5 1.5 0 1 0 -3 0zM601.8 336.3a1.5 1.5 0 1 0 3 0a1.5 1.5 0 1 0 -3 0zM595.8 326.6a1.5 1.5 0 1 0 3 0a1.5 1.5 0 1 0 -3 0zM578.5 308.1a1.5 1.5 0 1 0 3 0a1.5 1.5 0 1 0 -3 0zM552.7 303.0a1.5 1.5 0 1 0 3 0a1.5 1.5 0 1 0 -3 0zM590.9 336.8a1.5 1.5 0 1 0 3 0a1.5 1.5 0 1 0 -3 0zM580.9 309.4a1.5 1.5 0 1 0 3 0a1.5 1.5 0 1 0 -3 0zM640.7 353.1a1.5 1.5 0 1 0 3 0a1.5 1.5 0 1 0 -3 0zM577.5 314.1a1.5 1.5 0 1 0 3 0a1.5 1.5 0 1 0 -3 0zM639.1 368.5a1.5 1.5 0 1 0 3 0a1.5 1.5 0 1 0 -3 0zM624.6 347.2a1.5 1.5 0 1 0 3 0a1.5 1.5 0 1 0 -3 0zM573.0 331.7a1.5 1.5 0 1 0 3 0a1.5 1.5 0 1 0 -3 0zM567.7 331.2a1.5 1.5 0 1 0 3 0a1.5 1.5 0 1 0 -3 0zM623.1 348.4a1.5 1.5 0 1 0 3 0a1.5 1.5 0 1 0 -3 0zM585.3 326.9a1.5 1.5 0 1 0 3 0a1.5 1.5 0 1 0 -3 0zM593.0 321.9a1.5 1.5 0 1 0 3 0a1.5 1.5 0 1 0 -3 0zM582.3 306.7a1.5 1.5 0 1 0 3 0a1.5 1.5 0 1 0 -3 0zM557.5 305.7a1.5 1.5 0 1 0 3 0a1.5 1.5 0 1 0 -3 0zM579.2 301.4a1.5 1.5 0 1 0 3 0a1.5 1.5 0 1 0 -3 0zM564.0 315.1a1.5 1.5 0 1 0 3 0a1.5 1.5 0 1 0 -3 0zM549.1 292.7a1.5 1.5 0 1 0 3 0a1.5 1.5 0 1 0 -3 0zM581.2 332.4a1.5 1.5 0 1 0 3 0a1.5 1.5 0 1 0 -3 0zM635.2 352.5a1.5 1.5 0 1 0 3 0a1.5 1.5 0 1 0 -3 0zM630.8 354.1a1.5 1.5 0 1 0 3 0a1.5 1.5 0 1 0 -3 0zM587.3 325.9a1.5 1.5 0 1 0 3 0a1.5 1.5 0 1 0 -3 0zM592.4 321.3a1.5 1.5 0 1 0 3 0a1.5 1.5 0 1 0 -3 0zM602.2 351.5a1.5 1.5 0 1 0 3 0a1.5 1.5 0 1 0 -3 0zM624.2 345.7a1.5 1.5 0 1 0 3 0a1.5 1.5 0 1 0 -3 0zM597.1 337.9a1.5 1.5 0 1 0 3 0a1.5 1.5 0 1 0 -3 0zM576.5 316.0a1.5 1.5 0 1 0 3 0a1.5 1.5 0 1 0 -3 0zM578.7 314.7a1.5 1.5 0 1 0 3 0a1.5 1.5 0 1 0 -3 0zM618.3 346.8a1.5 1.5 0 1 0 3 0a1.5 1.5 0 1 0 -3 0zM656.6 370.6a1.5 1.5 0 1 0 3 0a1.5 1.5 0 1 0 -3 0zM572.6 325.9a1.5 1.5 0 1 0 3 0a1.5 1.5 0 1 0 -3 0zM535.5 286.3a1.5 1.5 0 1 0 3 0a1.5 1.5 0 1 0 -3 0zM610.0 344.5a1.5 1.5 0 1 0 3 0a1.5 1.5 0 1 0 -3 0zM586.9 319.3a1.5 1.5 0 1 0 3 0a1.5 1.5 0 1 0 -3 0zM592.5 341.0a1.5 1.5 0 1 0 3 0a1.5 1.5 0 1 0 -3 0zM621.1 331.6a1.5 1.5 0 1 0 3 0a1.5 1.5 0 1 0 -3 0zM590.6 335.9a1.5 1.5 0 1 0 3 0a1.5 1.5 0 1 0 -3 0zM554.3 292.1a1.5 1.5 0 1 0 3 0a1.5 1.5 0 1 0 -3 0zM537.7 297.4a1.5 1.5 0 1 0 3 0a1.5 1.5 0 1 0 -3 0zM587.6 318.8a1.5 1.5 0 1 0 3 0a1.5 1.5 0 1 0 -3 0zM558.7 307.5a1.5 1.5 0 1 0 3 0a1.5 1.5 0 1 0 -3 0zM596.4 323.0a1.5 1.5 0 1 0 3 0a1.5 1.5 0 1 0 -3 0zM555.7 304.1a1.5 1.5 0 1 0 3 0a1.5 1.5 0 1 0 -3 0zM579.7 306.8a1.5 1.5 0 1 0 3 0a1.5 1.5 0 1 0 -3 0zM550.5 294.5a1.5 1.5 0 1 0 3 0a1.5 1.5 0 1 0 -3 0zM579.4 312.3a1.5 1.5 0 1 0 3 0a1.5 1.5 0 1 0 -3 0zM577.2 301.4a1.5 1.5 0 1 0 3 0a1.5 1.5 0 1 0 -3 0zM604.4 341.3a1.5 1.5 0 1 0 3 0a1.5 1.5 0 1 0 -3 0zM623.9 334.0a1.5 1.5 0 1 0 3 0a1.5 1.5 0 1 0 -3 0zM584.1 321.2a1.5 1.5 0 1 0 3 0a1.5 1.5 0 1 0 -3 0zM566.4 325.2a1.5 1.5 0 1 0 3 0a1.5 1.5 0 1 0 -3 0zM639.9 352.0a1.5 1.5 0 1 0 3 0a1.5 1.5 0 1 0 -3 0zM598.4 332.8a1.5 1.5 0 1 0 3 0a1.5 1.5 0 1 0 -3 0zM604.9 318.4a1.5 1.5 0 1 0 3 0a1.5 1.5 0 1 0 -3 0zM604.8 339.5a1.5 1.5 0 1 0 3 0a1.5 1.5 0 1 0 -3 0zM626.9 348.0a1.5 1.5 0 1 0 3 0a1.5 1.5 0 1 0 -3 0zM615.3 339.0a1.5 1.5 0 1 0 3 0a1.5 1.5 0 1 0 -3 0zM606.6 354.4a1.5 1.5 0 1 0 3 0a1.5 1.5 0 1 0 -3 0zM609.0 332.4a1.5 1.5 0 1 0 3 0a1.5 1.5 0 1 0 -3 0zM566.5 320.6a1.5 1.5 0 1 0 3 0a1.5 1.5 0 1 0 -3 0zM573.0 301.3a1.5 1.5 0 1 0 3 0a1.5 1.5 0 1 0 -3 0zM586.2 307.0a1.5 1.5 0 1 0 3 0a1.5 1.5 0 1 0 -3 0zM591.4 326.5a1.5 1.5 0 1 0 3 0a1.5 1.5 0 1 0 -3 0zM589.4 340.6a1.5 1.5 0 1 0 3 0a1.5 1.5 0 1 0 -3 0zM597.0 328.2a1.5 1.5 0 1 0 3 0a1.5 1.5 0 1 0 -3 0zM589.7 323.6a1.5 1.5 0 1 0 3 0a1.5 1.5 0 1 0 -3 0zM577.8 311.0a1.5 1.5 0 1 0 3 0a1.5 1.5 0 1 0 -3 0zM546.6 301.4a1.5 1.5 0 1 0 3 0a1.5 1.5 0 1 0 -3 0zM610.8 350.1a1.5 1.5 0 1 0 3 0a1.5 1.5 0 1 0 -3 0zM604.3 335.8a1.5 1.5 0 1 0 3 0a1.5 1.5 0 1 0 -3 0zM566.0 319.6a1.5 1.5 0 1 0 3 0a1.5 1.5 0 1 0 -3 0zM602.0 315.8a1.5 1.5 0 1 0 3 0a1.5 1.5 0 1 0 -3 0zM599.3 338.2a1.5 1.5 0 1 0 3 0a1.5 1.5 0 1 0 -3 0zM590.9 332.4a1.5 1.5 0 1 0 3 0a1.5 1.5 0 1 0 -3 0zM540.9 295.5a1.5 1.5 0 1 0 3 0a1.5 1.5 0 1 0 -3 0zM557.5 317.3a1.5 1.5 0 1 0 3 0a1.5 1.5 0 1 0 -3 0zM573.3 319.5a1.5 1.5 0 1 0 3 0a1.5 1.5 0 1 0 -3 0zM631.1 352.5a1.5 1.5 0 1 0 3 0a1.5 1.5 0 1 0 -3 0zM566.5 315.7a1.5 1.5 0 1 0 3 0a1.5 1.5 0 1 0 -3 0zM579.9 321.7a1.5 1.5 0 1 0 3 0a1.5 1.5 0 1 0 -3 0zM560.0 294.8a1.5 1.5 0 1 0 3 0a1.5 1.5 0 1 0 -3 0zM576.1 312.7a1.5 1.5 0 1 0 3 0a1.5 1.5 0 1 0 -3 0zM597.9 343.5a1.5 1.5 0 1 0 3 0a1.5 1.5 0 1 0 -3 0zM606.3 342.0a1.5 1.5 0 1 0 3 0a1.5 1.5 0 1 0 -3 0zM589.9 324.7a1.5 1.5 0 1 0 3 0a1.5 1.5 0 1 0 -3 0zM573.2 315.3a1.5 1.5 0 1 0 3 0a1.5 1.5 0 1 0 -3 0zM614.3 335.5a1.5 1.5 0 1 0 3 0a1.5 1.5 0 1 0 -3 0zM614.3 342.4a1.5 1.5 0 1 0 3 0a1.5 1.5 0 1 0 -3 0zM584.6 330.5a1.5 1.5 0 1 0 3 0a1.5 1.5 0 1 0 -3 0zM617.9 339.5a1.5 1.5 0 1 0 3 0a1.5 1.5 0 1 0 -3 0zM571.5 323.0a1.5 1.5 0 1 0 3 0a1.5 1.5 0 1 0 -3 0zM580.8 303.0a1.5 1.5 0 1 0 3 0a1.5 1.5 0 1 0 -3 0zM613.9 340.6a1.5 1.5 0 1 0 3 0a1.5 1.5 0 1 0 -3 0zM582.0 322.7a1.5 1.5 0 1 0 3 0a1.5 1.5 0 1 0 -3 0zM557.7 297.8a1.5 1.5 0 1 0 3 0a1.5 1.5 0 1 0 -3 0zM571.0 314.6a1.5 1.5 0 1 0 3 0a1.5 1.5 0 1 0 -3 0zM554.3 302.5a1.5 1.5 0 1 0 3 0a1.5 1.5 0 1 0 -3 0zM603.4 334.4a1.5 1.5 0 1 0 3 0a1.5 1.5 0 1 0 -3 0zM543.9 303.9a1.5 1.5 0 1 0 3 0a1.5 1.5 0 1 0 -3 0zM615.2 350.2a1.5 1.5 0 1 0 3 0a1.5 1.5 0 1 0 -3 0zM545.9 304.9a1.5 1.5 0 1 0 3 0a1.5 1.5 0 1 0 -3 0zM590.1 314.7a1.5 1.5 0 1 0 3 0a1.5 1.5 0 1 0 -3 0zM550.6 307.1a1.5 1.5 0 1 0 3 0a1.5 1.5 0 1 0 -3 0zM580.7 323.7a1.5 1.5 0 1 0 3 0a1.5 1.5 0 1 0 -3 0zM615.7 345.9a1.5 1.5 0 1 0 3 0a1.5 1.5 0 1 0 -3 0zM618.3 336.4a1.5 1.5 0 1 0 3 0a1.5 1.5 0 1 0 -3 0zM623.1 326.9a1.5 1.5 0 1 0 3 0a1.5 1.5 0 1 0 -3 0zM586.6 332.4a1.5 1.5 0 1 0 3 0a1.5 1.5 0 1 0 -3 0zM591.8 321.3a1.5 1.5 0 1 0 3 0a1.5 1.5 0 1 0 -3 0zM595.0 327.5a1.5 1.5 0 1 0 3 0a1.5 1.5 0 1 0 -3 0zM605.1 337.9a1.5 1.5 0 1 0 3 0a1.5 1.5 0 1 0 -3 0zM578.5 313.5a1.5 1.5 0 1 0 3 0a1.5 1.5 0 1 0 -3 0zM617.7 355.2a1.5 1.5 0 1 0 3 0a1.5 1.5 0 1 0 -3 0zM597.5 322.1a1.5 1.5 0 1 0 3 0a1.5 1.5 0 1 0 -3 0zM618.9 341.4a1.5 1.5 0 1 0 3 0a1.5 1.5 0 1 0 -3 0zM601.5 342.4a1.5 1.5 0 1 0 3 0a1.5 1.5 0 1 0 -3 0zM606.7 320.5a1.5 1.5 0 1 0 3 0a1.5 1.5 0 1 0 -3 0zM569.8 304.8a1.5 1.5 0 1 0 3 0a1.5 1.5 0 1 0 -3 0zM578.1 306.8a1.5 1.5 0 1 0 3 0a1.5 1.5 0 1 0 -3 0zM555.1 318.0a1.5 1.5 0 1 0 3 0a1.5 1.5 0 1 0 -3 0zM581.2 322.7a1.5 1.5 0 1 0 3 0a1.5 1.5 0 1 0 -3 0zM584.3 327.1a1.5 1.5 0 1 0 3 0a1.5 1.5 0 1 0 -3 0zM610.8 332.4a1.5 1.5 0 1 0 3 0a1.5 1.5 0 1 0 -3 0zM556.0 291.2a1.5 1.5 0 1 0 3 0a1.5 1.5 0 1 0 -3 0zM585.8 322.7a1.5 1.5 0 1 0 3 0a1.5 1.5 0 1 0 -3 0zM621.9 346.6a1.5 1.5 0 1 0 3 0a1.5 1.5 0 1 0 -3 0zM616.2 332.2a1.5 1.5 0 1 0 3 0a1.5 1.5 0 1 0 -3 0zM582.1 333.0a1.5 1.5 0 1 0 3 0a1.5 1.5 0 1 0 -3 0zM627.5 350.8a1.5 1.5 0 1 0 3 0a1.5 1.5 0 1 0 -3 0zM609.1 345.0a1.5 1.5 0 1 0 3 0a1.5 1.5 0 1 0 -3 0zM565.0 309.6a1.5 1.5 0 1 0 3 0a1.5 1.5 0 1 0 -3 0zM576.7 322.0a1.5 1.5 0 1 0 3 0a1.5 1.5 0 1 0 -3 0zM594.8 325.8a1.5 1.5 0 1 0 3 0a1.5 1.5 0 1 0 -3 0zM540.1 309.2a1.5 1.5 0 1 0 3 0a1.5 1.5 0 1 0 -3 0zM594.1 305.6a1.5 1.5 0 1 0 3 0a1.5 1.5 0 1 0 -3 0zM572.0 302.1a1.5 1.5 0 1 0 3 0a1.5 1.5 0 1 0 -3 0zM569.3 305.7a1.5 1.5 0 1 0 3 0a1.5 1.5 0 1 0 -3 0zM607.3 348.9a1.5 1.5 0 1 0 3 0a1.5 1.5 0 1 0 -3 0zM597.9 338.8a1.5 1.5 0 1 0 3 0a1.5 1.5 0 1 0 -3 0zM603.4 336.2a1.5 1.5 0 1 0 3 0a1.5 1.5 0 1 0 -3 0zM587.6 302.4a1.5 1.5 0 1 0 3 0a1.5 1.5 0 1 0 -3 0zM570.0 300.4a1.5 1.5 0 1 0 3 0a1.5 1.5 0 1 0 -3 0zM595.7 334.2a1.5 1.5 0 1 0 3 0a1.5 1.5 0 1 0 -3 0zM628.7 337.9a1.5 1.5 0 1 0 3 0a1.5 1.5 0 1 0 -3 0zM593.9 316.1a1.5 1.5 0 1 0 3 0a1.5 1.5 0 1 0 -3 0zM612.2 339.2a1.5 1.5 0 1 0 3 0a1.5 1.5 0 1 0 -3 0zM583.0 309.4a1.5 1.5 0 1 0 3 0a1.5 1.5 0 1 0 -3 0zM654.9 362.8a1.5 1.5 0 1 0 3 0a1.5 1.5 0 1 0 -3 0zM545.7 304.3a1.5 1.5 0 1 0 3 0a1.5 1.5 0 1 0 -3 0zM604.2 345.8a1.5 1.5 0 1 0 3 0a1.5 1.5 0 1 0 -3 0zM603.1 334.9a1.5 1.5 0 1 0 3 0a1.5 1.5 0 1 0 -3 0zM595.8 319.5a1.5 1.5 0 1 0 3 0a1.5 1.5 0 1 0 -3 0zM559.6 319.8a1.5 1.5 0 1 0 3 0a1.5 1.5 0 1 0 -3 0zM559.1 321.9a1.5 1.5 0 1 0 3 0a1.5 1.5 0 1 0 -3 0zM582.7 315.7a1.5 1.5 0 1 0 3 0a1.5 1.5 0 1 0 -3 0zM591.4 352.8a1.5 1.5 0 1 0 3 0a1.5 1.5 0 1 0 -3 0zM557.1 287.4a1.5 1.5 0 1 0 3 0a1.5 1.5 0 1 0 -3 0zM560.9 311.7a1.5 1.5 0 1 0 3 0a1.5 1.5 0 1 0 -3 0zM603.5 326.8a1.5 1.5 0 1 0 3 0a1.5 1.5 0 1 0 -3 0zM615.8 323.6a1.5 1.5 0 1 0 3 0a1.5 1.5 0 1 0 -3 0zM574.1 329.7a1.5 1.5 0 1 0 3 0a1.5 1.5 0 1 0 -3 0zM570.5 323.6a1.5 1.5 0 1 0 3 0a1.5 1.5 0 1 0 -3 0zM569.7 291.2a1.5 1.5 0 1 0 3 0a1.5 1.5 0 1 0 -3 0zM653.7 367.9a1.5 1.5 0 1 0 3 0a1.5 1.5 0 1 0 -3 0zM601.6 334.0a1.5 1.5 0 1 0 3 0a1.5 1.5 0 1 0 -3 0zM587.0 321.5a1.5 1.5 0 1 0 3 0a1.5 1.5 0 1 0 -3 0zM615.1 330.9a1.5 1.5 0 1 0 3 0a1.5 1.5 0 1 0 -3 0zM648.8 349.4a1.5 1.5 0 1 0 3 0a1.5 1.5 0 1 0 -3 0zM619.4 342.8a1.5 1.5 0 1 0 3 0a1.5 1.5 0 1 0 -3 0zM551.3 304.7a1.5 1.5 0 1 0 3 0a1.5 1.5 0 1 0 -3 0zM586.5 323.7a1.5 1.5 0 1 0 3 0a1.5 1.5 0 1 0 -3 0zM578.1 315.2a1.5 1.5 0 1 0 3 0a1.5 1.5 0 1 0 -3 0zM579.7 306.5a1.5 1.5 0 1 0 3 0a1.5 1.5 0 1 0 -3 0zM556.8 303.6a1.5 1.5 0 1 0 3 0a1.5 1.5 0 1 0 -3 0zM578.4 300.7a1.5 1.5 0 1 0 3 0a1.5 1.5 0 1 0 -3 0zM560.3 315.3a1.5 1.5 0 1 0 3 0a1.5 1.5 0 1 0 -3 0zM597.6 325.1a1.5 1.5 0 1 0 3 0a1.5 1.5 0 1 0 -3 0zM589.8 308.4a1.5 1.5 0 1 0 3 0a1.5 1.5 0 1 0 -3 0zM551.6 289.2a1.5 1.5 0 1 0 3 0a1.5 1.5 0 1 0 -3 0zM543.9 293.6a1.5 1.5 0 1 0 3 0a1.5 1.5 0 1 0 -3 0zM576.1 325.4a1.5 1.5 0 1 0 3 0a1.5 1.5 0 1 0 -3 0zM605.7 342.2a1.5 1.5 0 1 0 3 0a1.5 1.5 0 1 0 -3 0zM601.6 334.3a1.5 1.5 0 1 0 3 0a1.5 1.5 0 1 0 -3 0zM586.9 320.6a1.5 1.5 0 1 0 3 0a1.5 1.5 0 1 0 -3 0zM575.6 330.7a1.5 1.5 0 1 0 3 0a1.5 1.5 0 1 0 -3 0zM569.2 319.7a1.5 1.5 0 1 0 3 0a1.5 1.5 0 1 0 -3 0zM579.8 314.2a1.5 1.5 0 1 0 3 0a1.5 1.5 0 1 0 -3 0zM556.6 296.7a1.5 1.5 0 1 0 3 0a1.5 1.5 0 1 0 -3 0zM577.2 331.2a1.5 1.5 0 1 0 3 0a1.5 1.5 0 1 0 -3 0zM571.2 317.3a1.5 1.5 0 1 0 3 0a1.5 1.5 0 1 0 -3 0zM607.1 341.6a1.5 1.5 0 1 0 3 0a1.5 1.5 0 1 0 -3 0zM583.5 287.2a1.5 1.5 0 1 0 3 0a1.5 1.5 0 1 0 -3 0zM587.3 323.3a1.5 1.5 0 1 0 3 0a1.5 1.5 0 1 0 -3 0zM585.5 326.1a1.5 1.5 0 1 0 3 0a1.5 1.5 0 1 0 -3 0zM593.5 333.5a1.5 1.5 0 1 0 3 0a1.5 1.5 0 1 0 -3 0zM578.0 329.8a1.5 1.5 0 1 0 3 0a1.5 1.5 0 1 0 -3 0zM588.1 342.4a1.5 1.5 0 1 0 3 0a1.5 1.5 0 1 0 -3 0zM615.5 341.9a1.5 1.5 0 1 0 3 0a1.5 1.5 0 1 0 -3 0zM610.4 340.9a1.5 1.5 0 1 0 3 0a1.5 1.5 0 1 0 -3 0zM596.7 315.4a1.5 1.5 0 1 0 3 0a1.5 1.5 0 1 0 -3 0zM623.6 362.3a1.5 1.5 0 1 0 3 0a1.5 1.5 0 1 0 -3 0zM594.5 324.1a1.5 1.5 0 1 0 3 0a1.5 1.5 0 1 0 -3 0zM562.8 295.6a1.5 1.5 0 1 0 3 0a1.5 1.5 0 1 0 -3 0zM542.7 315.1a1.5 1.5 0 1 0 3 0a1.5 1.5 0 1 0 -3 0zM570.3 306.9a1.5 1.5 0 1 0 3 0a1.5 1.5 0 1 0 -3 0zM586.9 339.2a1.5 1.5 0 1 0 3 0a1.5 1.5 0 1 0 -3 0zM599.0 326.1a1.5 1.5 0 1 0 3 0a1.5 1.5 0 1 0 -3 0zM616.9 328.0a1.5 1.5 0 1 0 3 0a1.5 1.5 0 1 0 -3 0zM573.5 315.3a1.5 1.5 0 1 0 3 0a1.5 1.5 0 1 0 -3 0zM567.4 308.7a1.5 1.5 0 1 0 3 0a1.5 1.5 0 1 0 -3 0zM608.8 344.0a1.5 1.5 0 1 0 3 0a1.5 1.5 0 1 0 -3 0zM619.5 341.1a1.5 1.5 0 1 0 3 0a1.5 1.5 0 1 0 -3 0zM576.0 305.9a1.5 1.5 0 1 0 3 0a1.5 1.5 0 1 0 -3 0zM597.5 332.0a1.5 1.5 0 1 0 3 0a1.5 1.5 0 1 0 -3 0zM624.7 348.5a1.5 1.5 0 1 0 3 0a1.5 1.5 0 1 0 -3 0zM597.0 326.1a1.5 1.5 0 1 0 3 0a1.5 1.5 0 1 0 -3 0zM587.2 315.8a1.5 1.5 0 1 0 3 0a1.5 1.5 0 1 0 -3 0zM623.4 345.8a1.5 1.5 0 1 0 3 0a1.5 1.5 0 1 0 -3 0zM605.5 341.8a1.5 1.5 0 1 0 3 0a1.5 1.5 0 1 0 -3 0zM591.9 321.9a1.5 1.5 0 1 0 3 0a1.5 1.5 0 1 0 -3 0zM576.4 307.0a1.5 1.5 0 1 0 3 0a1.5 1.5 0 1 0 -3 0zM555.9 301.3a1.5 1.5 0 1 0 3 0a1.5 1.5 0 1 0 -3 0zM586.0 310.5a1.5 1.5 0 1 0 3 0a1.5 1.5 0 1 0 -3 0zM585.8 332.5a1.5 1.5 0 1 0 3 0a1.5 1.5 0 1 0 -3 0zM617.4 346.6a1.5 1.5 0 1 0 3 0a1.5 1.5 0 1 0 -3 0zM556.8 314.5a1.5 1.5 0 1 0 3 0a1.5 1.5 0 1 0 -3 0zM626.4 347.7a1.5 1.5 0 1 0 3 0a1.5 1.5 0 1 0 -3 0zM589.5 324.3a1.5 1.5 0 1 0 3 0a1.5 1.5 0 1 0 -3 0zM619.8 346.0a1.5 1.5 0 1 0 3 0a1.5 1.5 0 1 0 -3 0zM563.1 320.6a1.5 1.5 0 1 0 3 0a1.5 1.5 0 1 0 -3 0zM597.7 331.1a1.5 1.5 0 1 0 3 0a1.5 1.5 0 1 0 -3 0zM620.6 348.9a1.5 1.5 0 1 0 3 0a1.5 1.5 0 1 0 -3 0zM591.6 320.7a1.5 1.5 0 1 0 3 0a1.5 1.5 0 1 0 -3 0zM550.0 303.3a1.5 1.5 0 1 0 3 0a1.5 1.5 0 1 0 -3 0zM579.9 308.0a1.5 1.5 0 1 0 3 0a1.5 1.5 0 1 0 -3 0zM602.6 331.2a1.5 1.5 0 1 0 3 0a1.5 1.5 0 1 0 -3 0zM551.9 319.8a1.5 1.5 0 1 0 3 0a1.5 1.5 0 1 0 -3 0zM550.7 302.7a1.5 1.5 0 1 0 3 0a1.5 1.5 0 1 0 -3 0zM594.8 342.4a1.5 1.5 0 1 0 3 0a1.5 1.5 0 1 0 -3 0zM563.6 299.8a1.5 1.5 0 1 0 3 0a1.5 1.5 0 1 0 -3 0zM606.5 321.9a1.5 1.5 0 1 0 3 0a1.5 1.5 0 1 0 -3 0zM557.7 305.7a1.5 1.5 0 1 0 3 0a1.5 1.5 0 1 0 -3 0zM540.4 290.4a1.5 1.5 0 1 0 3 0a1.5 1.5 0 1 0 -3 0zM568.2 326.0a1.5 1.5 0 1 0 3 0a1.5 1.5 0 1 0 -3 0zM627.8 370.8a1.5 1.5 0 1 0 3 0a1.5 1.5 0 1 0 -3 0zM565.9 315.9a1.5 1.5 0 1 0 3 0a1.5 1.5 0 1 0 -3 0zM588.5 327.1a1.5 1.5 0 1 0 3 0a1.5 1.5 0 1 0 -3 0zM595.1 343.4a1.5 1.5 0 1 0 3 0a1.5 1.5 0 1 0 -3 0zM563.7 308.3a1.5 1.5 0 1 0 3 0a1.5 1.5 0 1 0 -3 0zM617.2 339.5a1.5 1.5 0 1 0 3 0a1.5 1.5 0 1 0 -3 0zM593.3 321.3a1.5 1.5 0 1 0 3 0a1.5 1.5 0 1 0 -3 0zM600.3 316.9a1.5 1.5 0 1 0 3 0a1.5 1.5 0 1 0 -3 0zM544.5 289.4a1.5 1.5 0 1 0 3 0a1.5 1.5 0 1 0 -3 0zM542.7 299.6a1.5 1.5 0 1 0 3 0a1.5 1.5 0 1 0 -3 0zM583.6 315.8a1.5 1.5 0 1 0 3 0a1.5 1.5 0 1 0 -3 0zM582.6 331.1a1.5 1.5 0 1 0 3 0a1.5 1.5 0 1 0 -3 0zM607.6 323.6a1.5 1.5 0 1 0 3 0a1.5 1.5 0 1 0 -3 0zM627.6 340.2a1.5 1.5 0 1 0 3 0a1.5 1.5 0 1 0 -3 0zM582.0 322.7a1.5 1.5 0 1 0 3 0a1.5 1.5 0 1 0 -3 0zM581.6 326.5a1.5 1.5 0 1 0 3 0a1.5 1.5 0 1 0 -3 0zM600.5 295.2a1.5 1.5 0 1 0 3 0a1.5 1.5 0 1 0 -3 0zM628.7 341.5a1.5 1.5 0 1 0 3 0a1.5 1.5 0 1 0 -3 0zM567.1 302.1a1.5 1.5 0 1 0 3 0a1.5 1.5 0 1 0 -3 0zM605.1 317.5a1.5 1.5 0 1 0 3 0a1.5 1.5 0 1 0 -3 0zM582.2 311.1a1.5 1.5 0 1 0 3 0a1.5 1.5 0 1 0 -3 0zM579.9 317.2a1.5 1.5 0 1 0 3 0a1.5 1.5 0 1 0 -3 0zM610.0 331.2a1.5 1.5 0 1 0 3 0a1.5 1.5 0 1 0 -3 0zM567.9 320.6a1.5 1.5 0 1 0 3 0a1.5 1.5 0 1 0 -3 0zM560.7 300.3a1.5 1.5 0 1 0 3 0a1.5 1.5 0 1 0 -3 0zM606.1 350.5a1.5 1.5 0 1 0 3 0a1.5 1.5 0 1 0 -3 0zM588.0 320.2a1.5 1.5 0 1 0 3 0a1.5 1.5 0 1 0 -3 0zM581.8 315.0a1.5 1.5 0 1 0 3 0a1.5 1.5 0 1 0 -3 0zM585.2 337.6a1.5 1.5 0 1 0 3 0a1.5 1.5 0 1 0 -3 0zM601.7 314.2a1.5 1.5 0 1 0 3 0a1.5 1.5 0 1 0 -3 0zM579.0 329.8a1.5 1.5 0 1 0 3 0a1.5 1.5 0 1 0 -3 0zM608.8 327.0a1.5 1.5 0 1 0 3 0a1.5 1.5 0 1 0 -3 0zM599.5 336.6a1.5 1.5 0 1 0 3 0a1.5 1.5 0 1 0 -3 0zM627.5 345.8a1.5 1.5 0 1 0 3 0a1.5 1.5 0 1 0 -3 0zM621.9 351.7a1.5 1.5 0 1 0 3 0a1.5 1.5 0 1 0 -3 0zM611.2 314.5a1.5 1.5 0 1 0 3 0a1.5 1.5 0 1 0 -3 0zM583.4 311.3a1.5 1.5 0 1 0 3 0a1.5 1.5 0 1 0 -3 0zM591.8 309.0a1.5 1.5 0 1 0 3 0a1.5 1.5 0 1 0 -3 0zM573.2 307.4a1.5 1.5 0 1 0 3 0a1.5 1.5 0 1 0 -3 0zM663.4 364.4a1.5 1.5 0 1 0 3 0a1.5 1.5 0 1 0 -3 0zM582.9 319.5a1.5 1.5 0 1 0 3 0a1.5 1.5 0 1 0 -3 0zM603.3 336.0a1.5 1.5 0 1 0 3 0a1.5 1.5 0 1 0 -3 0zM624.3 340.9a1.5 1.5 0 1 0 3 0a1.5 1.5 0 1 0 -3 0zM553.0 300.8a1.5 1.5 0 1 0 3 0a1.5 1.5 0 1 0 -3 0zM567.1 312.6a1.5 1.5 0 1 0 3 0a1.5 1.5 0 1 0 -3 0zM578.4 331.5a1.5 1.5 0 1 0 3 0a1.5 1.5 0 1 0 -3 0zM562.7 311.4a1.5 1.5 0 1 0 3 0a1.5 1.5 0 1 0 -3 0zM555.5 298.0a1.5 1.5 0 1 0 3 0a1.5 1.5 0 1 0 -3 0zM575.2 320.7a1.5 1.5 0 1 0 3 0a1.5 1.5 0 1 0 -3 0zM622.6 342.3a1.5 1.5 0 1 0 3 0a1.5 1.5 0 1 0 -3 0zM607.7 337.8a1.5 1.5 0 1 0 3 0a1.5 1.5 0 1 0 -3 0zM589.7 335.2a1.5 1.5 0 1 0 3 0a1.5 1.5 0 1 0 -3 0zM589.5 333.8a1.5 1.5 0 1 0 3 0a1.5 1.5 0 1 0 -3 0zM545.3 304.7a1.5 1.5 0 1 0 3 0a1.5 1.5 0 1 0 -3 0zM607.0 338.8a1.5 1.5 0 1 0 3 0a1.5 1.5 0 1 0 -3 0zM600.0 334.1a1.5 1.5 0 1 0 3 0a1.5 1.5 0 1 0 -3 0zM560.4 296.1a1.5 1.5 0 1 0 3 0a1.5 1.5 0 1 0 -3 0zM594.2 338.5a1.5 1.5 0 1 0 3 0a1.5 1.5 0 1 0 -3 0zM583.8 341.3a1.5 1.5 0 1 0 3 0a1.5 1.5 0 1 0 -3 0zM575.2 309.5a1.5 1.5 0 1 0 3 0a1.5 1.5 0 1 0 -3 0zM562.9 312.9a1.5 1.5 0 1 0 3 0a1.5 1.5 0 1 0 -3 0zM571.1 314.7a1.5 1.5 0 1 0 3 0a1.5 1.5 0 1 0 -3 0zM564.1 284.5a1.5 1.5 0 1 0 3 0a1.5 1.5 0 1 0 -3 0zM600.9 317.9a1.5 1.5 0 1 0 3 0a1.5 1.5 0 1 0 -3 0zM598.4 324.8a1.5 1.5 0 1 0 3 0a1.5 1.5 0 1 0 -3 0zM597.3 320.6a1.5 1.5 0 1 0 3 0a1.5 1.5 0 1 0 -3 0zM584.1 320.4a1.5 1.5 0 1 0 3 0a1.5 1.5 0 1 0 -3 0zM578.2 308.6a1.5 1.5 0 1 0 3 0a1.5 1.5 0 1 0 -3 0zM642.3 363.8a1.5 1.5 0 1 0 3 0a1.5 1.5 0 1 0 -3 0zM540.1 301.1a1.5 1.5 0 1 0 3 0a1.5 1.5 0 1 0 -3 0zM620.2 348.6a1.5 1.5 0 1 0 3 0a1.5 1.5 0 1 0 -3 0zM598.1 315.0a1.5 1.5 0 1 0 3 0a1.5 1.5 0 1 0 -3 0zM590.7 310.6a1.5 1.5 0 1 0 3 0a1.5 1.5 0 1 0 -3 0zM575.5 322.2a1.5 1.5 0 1 0 3 0a1.5 1.5 0 1 0 -3 0zM583.1 309.7a1.5 1.5 0 1 0 3 0a1.5 1.5 0 1 0 -3 0zM557.8 306.8a1.5 1.5 0 1 0 3 0a1.5 1.5 0 1 0 -3 0zM552.5 291.5a1.5 1.5 0 1 0 3 0a1.5 1.5 0 1 0 -3 0zM585.9 325.8a1.5 1.5 0 1 0 3 0a1.5 1.5 0 1 0 -3 0zM545.5 288.3a1.5 1.5 0 1 0 3 0a1.5 1.5 0 1 0 -3 0zM610.8 339.3a1.5 1.5 0 1 0 3 0a1.5 1.5 0 1 0 -3 0zM618.1 345.5a1.5 1.5 0 1 0 3 0a1.5 1.5 0 1 0 -3 0zM548.2 297.7a1.5 1.5 0 1 0 3 0a1.5 1.5 0 1 0 -3 0zM596.0 334.6a1.5 1.5 0 1 0 3 0a1.5 1.5 0 1 0 -3 0zM594.4 341.3a1.5 1.5 0 1 0 3 0a1.5 1.5 0 1 0 -3 0zM591.8 309.9a1.5 1.5 0 1 0 3 0a1.5 1.5 0 1 0 -3 0zM599.9 335.2a1.5 1.5 0 1 0 3 0a1.5 1.5 0 1 0 -3 0zM608.4 354.4a1.5 1.5 0 1 0 3 0a1.5 1.5 0 1 0 -3 0zM611.6 360.7a1.5 1.5 0 1 0 3 0a1.5 1.5 0 1 0 -3 0zM635.8 381.0a1.5 1.5 0 1 0 3 0a1.5 1.5 0 1 0 -3 0zM589.6 330.9a1.5 1.5 0 1 0 3 0a1.5 1.5 0 1 0 -3 0zM611.5 325.4a1.5 1.5 0 1 0 3 0a1.5 1.5 0 1 0 -3 0zM546.4 314.0a1.5 1.5 0 1 0 3 0a1.5 1.5 0 1 0 -3 0zM585.5 325.5a1.5 1.5 0 1 0 3 0a1.5 1.5 0 1 0 -3 0zM557.0 322.5a1.5 1.5 0 1 0 3 0a1.5 1.5 0 1 0 -3 0zM625.4 336.5a1.5 1.5 0 1 0 3 0a1.5 1.5 0 1 0 -3 0zM650.1 359.1a1.5 1.5 0 1 0 3 0a1.5 1.5 0 1 0 -3 0zM603.1 330.2a1.5 1.5 0 1 0 3 0a1.5 1.5 0 1 0 -3 0zM554.9 290.2a1.5 1.5 0 1 0 3 0a1.5 1.5 0 1 0 -3 0zM586.0 306.7a1.5 1.5 0 1 0 3 0a1.5 1.5 0 1 0 -3 0zM589.7 315.0a1.5 1.5 0 1 0 3 0a1.5 1.5 0 1 0 -3 0zM594.2 333.4a1.5 1.5 0 1 0 3 0a1.5 1.5 0 1 0 -3 0zM617.5 355.2a1.5 1.5 0 1 0 3 0a1.5 1.5 0 1 0 -3 0zM614.0 350.3a1.5 1.5 0 1 0 3 0a1.5 1.5 0 1 0 -3 0zM624.8 329.3a1.5 1.5 0 1 0 3 0a1.5 1.5 0 1 0 -3 0zM576.0 318.3a1.5 1.5 0 1 0 3 0a1.5 1.5 0 1 0 -3 0zM574.4 314.2a1.5 1.5 0 1 0 3 0a1.5 1.5 0 1 0 -3 0zM626.1 345.7a1.5 1.5 0 1 0 3 0a1.5 1.5 0 1 0 -3 0zM582.0 300.5a1.5 1.5 0 1 0 3 0a1.5 1.5 0 1 0 -3 0zM553.1 307.7a1.5 1.5 0 1 0 3 0a1.5 1.5 0 1 0 -3 0zM554.3 291.4a1.5 1.5 0 1 0 3 0a1.5 1.5 0 1 0 -3 0zM590.5 322.5a1.5 1.5 0 1 0 3 0a1.5 1.5 0 1 0 -3 0zM612.8 340.8a1.5 1.5 0 1 0 3 0a1.5 1.5 0 1 0 -3 0zM628.3 367.7a1.5 1.5 0 1 0 3 0a1.5 1.5 0 1 0 -3 0zM584.5 312.8a1.5 1.5 0 1 0 3 0a1.5 1.5 0 1 0 -3 0zM576.8 324.2a1.5 1.5 0 1 0 3 0a1.5 1.5 0 1 0 -3 0zM631.5 355.5a1.5 1.5 0 1 0 3 0a1.5 1.5 0 1 0 -3 0zM577.0 314.9a1.5 1.5 0 1 0 3 0a1.5 1.5 0 1 0 -3 0zM627.2 347.4a1.5 1.5 0 1 0 3 0a1.5 1.5 0 1 0 -3 0zM595.2 317.4a1.5 1.5 0 1 0 3 0a1.5 1.5 0 1 0 -3 0zM595.2 335.0a1.5 1.5 0 1 0 3 0a1.5 1.5 0 1 0 -3 0zM582.9 319.1a1.5 1.5 0 1 0 3 0a1.5 1.5 0 1 0 -3 0zM596.8 326.7a1.5 1.5 0 1 0 3 0a1.5 1.5 0 1 0 -3 0zM576.9 316.7a1.5 1.5 0 1 0 3 0a1.5 1.5 0 1 0 -3 0zM571.3 306.9a1.5 1.5 0 1 0 3 0a1.5 1.5 0 1 0 -3 0zM585.5 324.8a1.5 1.5 0 1 0 3 0a1.5 1.5 0 1 0 -3 0zM572.0 302.2a1.5 1.5 0 1 0 3 0a1.5 1.5 0 1 0 -3 0zM597.0 336.4a1.5 1.5 0 1 0 3 0a1.5 1.5 0 1 0 -3 0zM591.3 340.0a1.5 1.5 0 1 0 3 0a1.5 1.5 0 1 0 -3 0zM582.2 320.7a1.5 1.5 0 1 0 3 0a1.5 1.5 0 1 0 -3 0zM583.8 309.8a1.5 1.5 0 1 0 3 0a1.5 1.5 0 1 0 -3 0zM583.1 325.9a1.5 1.5 0 1 0 3 0a1.5 1.5 0 1 0 -3 0zM634.6 359.0a1.5 1.5 0 1 0 3 0a1.5 1.5 0 1 0 -3 0zM588.8 327.8a1.5 1.5 0 1 0 3 0a1.5 1.5 0 1 0 -3 0zM573.5 313.3a1.5 1.5 0 1 0 3 0a1.5 1.5 0 1 0 -3 0zM581.3 321.4a1.5 1.5 0 1 0 3 0a1.5 1.5 0 1 0 -3 0zM606.4 332.3a1.5 1.5 0 1 0 3 0a1.5 1.5 0 1 0 -3 0zM583.8 338.0a1.5 1.5 0 1 0 3 0a1.5 1.5 0 1 0 -3 0zM585.1 307.5a1.5 1.5 0 1 0 3 0a1.5 1.5 0 1 0 -3 0zM582.3 314.7a1.5 1.5 0 1 0 3 0a1.5 1.5 0 1 0 -3 0zM593.3 335.6a1.5 1.5 0 1 0 3 0a1.5 1.5 0 1 0 -3 0zM599.3 317.5a1.5 1.5 0 1 0 3 0a1.5 1.5 0 1 0 -3 0zM600.6 327.4a1.5 1.5 0 1 0 3 0a1.5 1.5 0 1 0 -3 0zM546.2 283.5a1.5 1.5 0 1 0 3 0a1.5 1.5 0 1 0 -3 0zM561.1 318.6a1.5 1.5 0 1 0 3 0a1.5 1.5 0 1 0 -3 0zM610.0 337.2a1.5 1.5 0 1 0 3 0a1.5 1.5 0 1 0 -3 0zM618.0 362.7a1.5 1.5 0 1 0 3 0a1.5 1.5 0 1 0 -3 0zM623.1 338.4a1.5 1.5 0 1 0 3 0a1.5 1.5 0 1 0 -3 0zM592.8 329.8a1.5 1.5 0 1 0 3 0a1.5 1.5 0 1 0 -3 0zM619.1 353.1a1.5 1.5 0 1 0 3 0a1.5 1.5 0 1 0 -3 0zM588.0 326.0a1.5 1.5 0 1 0 3 0a1.5 1.5 0 1 0 -3 0zM585.9 341.5a1.5 1.5 0 1 0 3 0a1.5 1.5 0 1 0 -3 0zM548.7 293.7a1.5 1.5 0 1 0 3 0a1.5 1.5 0 1 0 -3 0zM568.5 313.9a1.5 1.5 0 1 0 3 0a1.5 1.5 0 1 0 -3 0zM573.5 317.5a1.5 1.5 0 1 0 3 0a1.5 1.5 0 1 0 -3 0zM613.0 325.7a1.5 1.5 0 1 0 3 0a1.5 1.5 0 1 0 -3 0zM632.4 351.2a1.5 1.5 0 1 0 3 0a1.5 1.5 0 1 0 -3 0zM576.7 323.3a1.5 1.5 0 1 0 3 0a1.5 1.5 0 1 0 -3 0zM598.8 339.9a1.5 1.5 0 1 0 3 0a1.5 1.5 0 1 0 -3 0zM596.2 329.6a1.5 1.5 0 1 0 3 0a1.5 1.5 0 1 0 -3 0zM568.8 301.5a1.5 1.5 0 1 0 3 0a1.5 1.5 0 1 0 -3 0zM544.0 302.2a1.5 1.5 0 1 0 3 0a1.5 1.5 0 1 0 -3 0zM569.3 322.4a1.5 1.5 0 1 0 3 0a1.5 1.5 0 1 0 -3 0zM551.4 292.1a1.5 1.5 0 1 0 3 0a1.5 1.5 0 1 0 -3 0zM580.7 318.8a1.5 1.5 0 1 0 3 0a1.5 1.5 0 1 0 -3 0zM585.3 322.5a1.5 1.5 0 1 0 3 0a1.5 1.5 0 1 0 -3 0zM584.3 301.2a1.5 1.5 0 1 0 3 0a1.5 1.5 0 1 0 -3 0zM584.6 333.6a1.5 1.5 0 1 0 3 0a1.5 1.5 0 1 0 -3 0zM601.6 330.4a1.5 1.5 0 1 0 3 0a1.5 1.5 0 1 0 -3 0zM564.6 326.7a1.5 1.5 0 1 0 3 0a1.5 1.5 0 1 0 -3 0zM612.2 341.9a1.5 1.5 0 1 0 3 0a1.5 1.5 0 1 0 -3 0zM545.3 291.6a1.5 1.5 0 1 0 3 0a1.5 1.5 0 1 0 -3 0zM590.6 314.5a1.5 1.5 0 1 0 3 0a1.5 1.5 0 1 0 -3 0zM599.1 343.2a1.5 1.5 0 1 0 3 0a1.5 1.5 0 1 0 -3 0zM568.3 303.5a1.5 1.5 0 1 0 3 0a1.5 1.5 0 1 0 -3 0zM547.3 290.9a1.5 1.5 0 1 0 3 0a1.5 1.5 0 1 0 -3 0zM605.6 336.1a1.5 1.5 0 1 0 3 0a1.5 1.5 0 1 0 -3 0zM571.3 289.5a1.5 1.5 0 1 0 3 0a1.5 1.5 0 1 0 -3 0zM609.4 337.2a1.5 1.5 0 1 0 3 0a1.5 1.5 0 1 0 -3 0zM609.0 345.6a1.5 1.5 0 1 0 3 0a1.5 1.5 0 1 0 -3 0zM588.8 320.2a1.5 1.5 0 1 0 3 0a1.5 1.5 0 1 0 -3 0zM588.9 342.6a1.5 1.5 0 1 0 3 0a1.5 1.5 0 1 0 -3 0zM614.7 325.3a1.5 1.5 0 1 0 3 0a1.5 1.5 0 1 0 -3 0zM598.8 321.0a1.5 1.5 0 1 0 3 0a1.5 1.5 0 1 0 -3 0zM564.5 313.2a1.5 1.5 0 1 0 3 0a1.5 1.5 0 1 0 -3 0zM593.3 321.2a1.5 1.5 0 1 0 3 0a1.5 1.5 0 1 0 -3 0zM603.4 328.3a1.5 1.5 0 1 0 3 0a1.5 1.5 0 1 0 -3 0zM594.2 308.9a1.5 1.5 0 1 0 3 0a1.5 1.5 0 1 0 -3 0zM593.9 333.6a1.5 1.5 0 1 0 3 0a1.5 1.5 0 1 0 -3 0zM585.1 334.7a1.5 1.5 0 1 0 3 0a1.5 1.5 0 1 0 -3 0zM585.8 342.4a1.5 1.5 0 1 0 3 0a1.5 1.5 0 1 0 -3 0zM564.5 312.2a1.5 1.5 0 1 0 3 0a1.5 1.5 0 1 0 -3 0zM551.6 316.5a1.5 1.5 0 1 0 3 0a1.5 1.5 0 1 0 -3 0zM618.3 344.5a1.5 1.5 0 1 0 3 0a1.5 1.5 0 1 0 -3 0zM572.3 310.1a1.5 1.5 0 1 0 3 0a1.5 1.5 0 1 0 -3 0zM594.7 332.4a1.5 1.5 0 1 0 3 0a1.5 1.5 0 1 0 -3 0zM549.8 309.3a1.5 1.5 0 1 0 3 0a1.5 1.5 0 1 0 -3 0zM593.1 315.4a1.5 1.5 0 1 0 3 0a1.5 1.5 0 1 0 -3 0zM567.3 313.0a1.5 1.5 0 1 0 3 0a1.5 1.5 0 1 0 -3 0zM562.4 298.7a1.5 1.5 0 1 0 3 0a1.5 1.5 0 1 0 -3 0zM563.8 321.5a1.5 1.5 0 1 0 3 0a1.5 1.5 0 1 0 -3 0zM613.5 348.8a1.5 1.5 0 1 0 3 0a1.5 1.5 0 1 0 -3 0zM618.6 318.6a1.5 1.5 0 1 0 3 0a1.5 1.5 0 1 0 -3 0zM595.6 338.8a1.5 1.5 0 1 0 3 0a1.5 1.5 0 1 0 -3 0zM611.8 341.2a1.5 1.5 0 1 0 3 0a1.5 1.5 0 1 0 -3 0zM557.0 310.2a1.5 1.5 0 1 0 3 0a1.5 1.5 0 1 0 -3 0zM606.7 347.6a1.5 1.5 0 1 0 3 0a1.5 1.5 0 1 0 -3 0zM575.2 319.9a1.5 1.5 0 1 0 3 0a1.5 1.5 0 1 0 -3 0zM562.9 308.5a1.5 1.5 0 1 0 3 0a1.5 1.5 0 1 0 -3 0zM579.8 318.9a1.5 1.5 0 1 0 3 0a1.5 1.5 0 1 0 -3 0zM576.9 311.7a1.5 1.5 0 1 0 3 0a1.5 1.5 0 1 0 -3 0zM552.7 318.9a1.5 1.5 0 1 0 3 0a1.5 1.5 0 1 0 -3 0zM647.2 375.3a1.5 1.5 0 1 0 3 0a1.5 1.5 0 1 0 -3 0zM577.0 309.4a1.5 1.5 0 1 0 3 0a1.5 1.5 0 1 0 -3 0zM569.5 316.7a1.5 1.5 0 1 0 3 0a1.5 1.5 0 1 0 -3 0zM611.1 326.5a1.5 1.5 0 1 0 3 0a1.5 1.5 0 1 0 -3 0zM587.0 320.3a1.5 1.5 0 1 0 3 0a1.5 1.5 0 1 0 -3 0zM623.6 359.8a1.5 1.5 0 1 0 3 0a1.5 1.5 0 1 0 -3 0zM581.9 314.9a1.5 1.5 0 1 0 3 0a1.5 1.5 0 1 0 -3 0zM598.0 340.0a1.5 1.5 0 1 0 3 0a1.5 1.5 0 1 0 -3 0zM591.3 323.4a1.5 1.5 0 1 0 3 0a1.5 1.5 0 1 0 -3 0zM593.2 315.2a1.5 1.5 0 1 0 3 0a1.5 1.5 0 1 0 -3 0zM583.5 300.5a1.5 1.5 0 1 0 3 0a1.5 1.5 0 1 0 -3 0zM586.2 323.5a1.5 1.5 0 1 0 3 0a1.5 1.5 0 1 0 -3 0zM632.5 344.8a1.5 1.5 0 1 0 3 0a1.5 1.5 0 1 0 -3 0zM571.2 310.5a1.5 1.5 0 1 0 3 0a1.5 1.5 0 1 0 -3 0zM574.7 307.9a1.5 1.5 0 1 0 3 0a1.5 1.5 0 1 0 -3 0zM579.9 343.8a1.5 1.5 0 1 0 3 0a1.5 1.5 0 1 0 -3 0zM603.7 337.5a1.5 1.5 0 1 0 3 0a1.5 1.5 0 1 0 -3 0zM599.3 328.1a1.5 1.5 0 1 0 3 0a1.5 1.5 0 1 0 -3 0zM613.2 335.0a1.5 1.5 0 1 0 3 0a1.5 1.5 0 1 0 -3 0zM554.1 310.1a1.5 1.5 0 1 0 3 0a1.5 1.5 0 1 0 -3 0zM595.6 320.6a1.5 1.5 0 1 0 3 0a1.5 1.5 0 1 0 -3 0zM584.3 310.9a1.5 1.5 0 1 0 3 0a1.5 1.5 0 1 0 -3 0zM581.4 319.2a1.5 1.5 0 1 0 3 0a1.5 1.5 0 1 0 -3 0zM593.1 329.3a1.5 1.5 0 1 0 3 0a1.5 1.5 0 1 0 -3 0zM537.7 296.1a1.5 1.5 0 1 0 3 0a1.5 1.5 0 1 0 -3 0zM596.0 327.5a1.5 1.5 0 1 0 3 0a1.5 1.5 0 1 0 -3 0zM592.6 315.3a1.5 1.5 0 1 0 3 0a1.5 1.5 0 1 0 -3 0zM551.8 286.8a1.5 1.5 0 1 0 3 0a1.5 1.5 0 1 0 -3 0zM586.4 327.5a1.5 1.5 0 1 0 3 0a1.5 1.5 0 1 0 -3 0zM629.1 358.6a1.5 1.5 0 1 0 3 0a1.5 1.5 0 1 0 -3 0zM578.8 325.9a1.5 1.5 0 1 0 3 0a1.5 1.5 0 1 0 -3 0zM604.3 324.5a1.5 1.5 0 1 0 3 0a1.5 1.5 0 1 0 -3 0zM583.0 318.7a1.5 1.5 0 1 0 3 0a1.5 1.5 0 1 0 -3 0zM567.8 308.4a1.5 1.5 0 1 0 3 0a1.5 1.5 0 1 0 -3 0zM565.0 304.9a1.5 1.5 0 1 0 3 0a1.5 1.5 0 1 0 -3 0zM578.6 314.4a1.5 1.5 0 1 0 3 0a1.5 1.5 0 1 0 -3 0zM622.6 346.7a1.5 1.5 0 1 0 3 0a1.5 1.5 0 1 0 -3 0zM610.1 347.8a1.5 1.5 0 1 0 3 0a1.5 1.5 0 1 0 -3 0zM570.6 319.1a1.5 1.5 0 1 0 3 0a1.5 1.5 0 1 0 -3 0zM614.8 339.4a1.5 1.5 0 1 0 3 0a1.5 1.5 0 1 0 -3 0zM585.6 318.6a1.5 1.5 0 1 0 3 0a1.5 1.5 0 1 0 -3 0zM571.0 316.9a1.5 1.5 0 1 0 3 0a1.5 1.5 0 1 0 -3 0zM600.1 335.5a1.5 1.5 0 1 0 3 0a1.5 1.5 0 1 0 -3 0zM565.2 296.4a1.5 1.5 0 1 0 3 0a1.5 1.5 0 1 0 -3 0zM548.2 303.7a1.5 1.5 0 1 0 3 0a1.5 1.5 0 1 0 -3 0zM622.5 343.2a1.5 1.5 0 1 0 3 0a1.5 1.5 0 1 0 -3 0zM541.5 298.1a1.5 1.5 0 1 0 3 0a1.5 1.5 0 1 0 -3 0zM602.9 341.6a1.5 1.5 0 1 0 3 0a1.5 1.5 0 1 0 -3 0zM549.4 314.6a1.5 1.5 0 1 0 3 0a1.5 1.5 0 1 0 -3 0zM588.1 329.2a1.5 1.5 0 1 0 3 0a1.5 1.5 0 1 0 -3 0zM583.8 329.3a1.5 1.5 0 1 0 3 0a1.5 1.5 0 1 0 -3 0zM577.5 309.2a1.5 1.5 0 1 0 3 0a1.5 1.5 0 1 0 -3 0zM586.1 326.7a1.5 1.5 0 1 0 3 0a1.5 1.5 0 1 0 -3 0zM588.0 317.5a1.5 1.5 0 1 0 3 0a1.5 1.5 0 1 0 -3 0zM565.7 311.1a1.5 1.5 0 1 0 3 0a1.5 1.5 0 1 0 -3 0zM587.2 318.6a1.5 1.5 0 1 0 3 0a1.5 1.5 0 1 0 -3 0zM614.6 332.4a1.5 1.5 0 1 0 3 0a1.5 1.5 0 1 0 -3 0zM570.3 329.0a1.5 1.5 0 1 0 3 0a1.5 1.5 0 1 0 -3 0zM595.6 332.6a1.5 1.5 0 1 0 3 0a1.5 1.5 0 1 0 -3 0zM559.2 315.3a1.5 1.5 0 1 0 3 0a1.5 1.5 0 1 0 -3 0zM598.8 317.6a1.5 1.5 0 1 0 3 0a1.5 1.5 0 1 0 -3 0zM605.5 335.9a1.5 1.5 0 1 0 3 0a1.5 1.5 0 1 0 -3 0zM653.1 359.6a1.5 1.5 0 1 0 3 0a1.5 1.5 0 1 0 -3 0zM612.4 322.6a1.5 1.5 0 1 0 3 0a1.5 1.5 0 1 0 -3 0zM600.2 334.9a1.5 1.5 0 1 0 3 0a1.5 1.5 0 1 0 -3 0zM625.4 346.5a1.5 1.5 0 1 0 3 0a1.5 1.5 0 1 0 -3 0zM563.3 304.6a1.5 1.5 0 1 0 3 0a1.5 1.5 0 1 0 -3 0zM616.7 344.4a1.5 1.5 0 1 0 3 0a1.5 1.5 0 1 0 -3 0zM574.9 303.6a1.5 1.5 0 1 0 3 0a1.5 1.5 0 1 0 -3 0zM573.0 306.7a1.5 1.5 0 1 0 3 0a1.5 1.5 0 1 0 -3 0zM617.3 332.5a1.5 1.5 0 1 0 3 0a1.5 1.5 0 1 0 -3 0zM595.0 327.8a1.5 1.5 0 1 0 3 0a1.5 1.5 0 1 0 -3 0zM623.3 349.2a1.5 1.5 0 1 0 3 0a1.5 1.5 0 1 0 -3 0zM551.6 304.7a1.5 1.5 0 1 0 3 0a1.5 1.5 0 1 0 -3 0zM596.1 332.5a1.5 1.5 0 1 0 3 0a1.5 1.5 0 1 0 -3 0zM575.4 332.0a1.5 1.5 0 1 0 3 0a1.5 1.5 0 1 0 -3 0zM582.1 316.7a1.5 1.5 0 1 0 3 0a1.5 1.5 0 1 0 -3 0zM539.8 286.1a1.5 1.5 0 1 0 3 0a1.5 1.5 0 1 0 -3 0zM613.2 339.7a1.5 1.5 0 1 0 3 0a1.5 1.5 0 1 0 -3 0zM594.5 332.7a1.5 1.5 0 1 0 3 0a1.5 1.5 0 1 0 -3 0zM563.6 308.4a1.5 1.5 0 1 0 3 0a1.5 1.5 0 1 0 -3 0zM554.3 300.8a1.5 1.5 0 1 0 3 0a1.5 1.5 0 1 0 -3 0zM566.7 307.5a1.5 1.5 0 1 0 3 0a1.5 1.5 0 1 0 -3 0zM625.1 329.7a1.5 1.5 0 1 0 3 0a1.5 1.5 0 1 0 -3 0zM586.5 331.3a1.5 1.5 0 1 0 3 0a1.5 1.5 0 1 0 -3 0zM580.5 315.8a1.5 1.5 0 1 0 3 0a1.5 1.5 0 1 0 -3 0zM601.8 325.9a1.5 1.5 0 1 0 3 0a1.5 1.5 0 1 0 -3 0zM589.4 324.1a1.5 1.5 0 1 0 3 0a1.5 1.5 0 1 0 -3 0zM595.1 330.6a1.5 1.5 0 1 0 3 0a1.5 1.5 0 1 0 -3 0zM608.3 346.5a1.5 1.5 0 1 0 3 0a1.5 1.5 0 1 0 -3 0zM597.7 335.7a1.5 1.5 0 1 0 3 0a1.5 1.5 0 1 0 -3 0zM611.8 332.0a1.5 1.5 0 1 0 3 0a1.5 1.5 0 1 0 -3 0zM558.5 291.6a1.5 1.5 0 1 0 3 0a1.5 1.5 0 1 0 -3 0zM590.8 332.0a1.5 1.5 0 1 0 3 0a1.5 1.5 0 1 0 -3 0zM580.1 314.5a1.5 1.5 0 1 0 3 0a1.5 1.5 0 1 0 -3 0zM592.0 321.4a1.5 1.5 0 1 0 3 0a1.5 1.5 0 1 0 -3 0zM588.2 314.4a1.5 1.5 0 1 0 3 0a1.5 1.5 0 1 0 -3 0zM572.9 312.2a1.5 1.5 0 1 0 3 0a1.5 1.5 0 1 0 -3 0zM580.3 314.9a1.5 1.5 0 1 0 3 0a1.5 1.5 0 1 0 -3 0zM613.7 331.3a1.5 1.5 0 1 0 3 0a1.5 1.5 0 1 0 -3 0zM575.1 327.1a1.5 1.5 0 1 0 3 0a1.5 1.5 0 1 0 -3 0zM557.3 304.4a1.5 1.5 0 1 0 3 0a1.5 1.5 0 1 0 -3 0zM604.6 351.3a1.5 1.5 0 1 0 3 0a1.5 1.5 0 1 0 -3 0zM614.4 359.3a1.5 1.5 0 1 0 3 0a1.5 1.5 0 1 0 -3 0zM582.5 328.4a1.5 1.5 0 1 0 3 0a1.5 1.5 0 1 0 -3 0zM592.7 341.6a1.5 1.5 0 1 0 3 0a1.5 1.5 0 1 0 -3 0zM567.9 306.6a1.5 1.5 0 1 0 3 0a1.5 1.5 0 1 0 -3 0zM584.2 312.1a1.5 1.5 0 1 0 3 0a1.5 1.5 0 1 0 -3 0zM617.9 345.5a1.5 1.5 0 1 0 3 0a1.5 1.5 0 1 0 -3 0zM610.1 339.0a1.5 1.5 0 1 0 3 0a1.5 1.5 0 1 0 -3 0zM593.3 329.5a1.5 1.5 0 1 0 3 0a1.5 1.5 0 1 0 -3 0zM582.4 323.0a1.5 1.5 0 1 0 3 0a1.5 1.5 0 1 0 -3 0zM547.7 297.5a1.5 1.5 0 1 0 3 0a1.5 1.5 0 1 0 -3 0zM597.6 326.6a1.5 1.5 0 1 0 3 0a1.5 1.5 0 1 0 -3 0zM601.3 336.7a1.5 1.5 0 1 0 3 0a1.5 1.5 0 1 0 -3 0zM616.6 349.3a1.5 1.5 0 1 0 3 0a1.5 1.5 0 1 0 -3 0zM641.3 362.1a1.5 1.5 0 1 0 3 0a1.5 1.5 0 1 0 -3 0zM599.2 323.3a1.5 1.5 0 1 0 3 0a1.5 1.5 0 1 0 -3 0zM614.1 344.2a1.5 1.5 0 1 0 3 0a1.5 1.5 0 1 0 -3 0zM560.9 293.2a1.5 1.5 0 1 0 3 0a1.5 1.5 0 1 0 -3 0zM620.5 346.5a1.5 1.5 0 1 0 3 0a1.5 1.5 0 1 0 -3 0zM611.9 325.7a1.5 1.5 0 1 0 3 0a1.5 1.5 0 1 0 -3 0zM624.6 358.1a1.5 1.5 0 1 0 3 0a1.5 1.5 0 1 0 -3 0zM606.9 342.4a1.5 1.5 0 1 0 3 0a1.5 1.5 0 1 0 -3 0zM601.2 327.6a1.5 1.5 0 1 0 3 0a1.5 1.5 0 1 0 -3 0zM627.5 343.9a1.5 1.5 0 1 0 3 0a1.5 1.5 0 1 0 -3 0zM572.6 315.9a1.5 1.5 0 1 0 3 0a1.5 1.5 0 1 0 -3 0zM606.2 315.8a1.5 1.5 0 1 0 3 0a1.5 1.5 0 1 0 -3 0zM617.4 341.6a1.5 1.5 0 1 0 3 0a1.5 1.5 0 1 0 -3 0zM569.6 309.8a1.5 1.5 0 1 0 3 0a1.5 1.5 0 1 0 -3 0zM560.2 312.1a1.5 1.5 0 1 0 3 0a1.5 1.5 0 1 0 -3 0zM600.8 316.1a1.5 1.5 0 1 0 3 0a1.5 1.5 0 1 0 -3 0zM592.9 318.9a1.5 1.5 0 1 0 3 0a1.5 1.5 0 1 0 -3 0zM605.3 330.8a1.5 1.5 0 1 0 3 0a1.5 1.5 0 1 0 -3 0zM606.3 351.0a1.5 1.5 0 1 0 3 0a1.5 1.5 0 1 0 -3 0zM570.2 309.4a1.5 1.5 0 1 0 3 0a1.5 1.5 0 1 0 -3 0zM598.4 334.9a1.5 1.5 0 1 0 3 0a1.5 1.5 0 1 0 -3 0zM618.7 339.3a1.5 1.5 0 1 0 3 0a1.5 1.5 0 1 0 -3 0zM580.8 310.8a1.5 1.5 0 1 0 3 0a1.5 1.5 0 1 0 -3 0zM582.6 327.7a1.5 1.5 0 1 0 3 0a1.5 1.5 0 1 0 -3 0zM561.1 305.1a1.5 1.5 0 1 0 3 0a1.5 1.5 0 1 0 -3 0zM610.8 329.8a1.5 1.5 0 1 0 3 0a1.5 1.5 0 1 0 -3 0zM639.7 354.7a1.5 1.5 0 1 0 3 0a1.5 1.5 0 1 0 -3 0zM554.9 306.5a1.5 1.5 0 1 0 3 0a1.5 1.5 0 1 0 -3 0zM609.4 347.4a1.5 1.5 0 1 0 3 0a1.5 1.5 0 1 0 -3 0zM613.0 345.9a1.5 1.5 0 1 0 3 0a1.5 1.5 0 1 0 -3 0zM575.6 328.4a1.5 1.5 0 1 0 3 0a1.5 1.5 0 1 0 -3 0zM580.4 309.9a1.5 1.5 0 1 0 3 0a1.5 1.5 0 1 0 -3 0zM563.3 307.6a1.5 1.5 0 1 0 3 0a1.5 1.5 0 1 0 -3 0zM570.0 324.3a1.5 1.5 0 1 0 3 0a1.5 1.5 0 1 0 -3 0zM594.2 327.9a1.5 1.5 0 1 0 3 0a1.5 1.5 0 1 0 -3 0zM606.6 347.9a1.5 1.5 0 1 0 3 0a1.5 1.5 0 1 0 -3 0zM593.0 358.4a1.5 1.5 0 1 0 3 0a1.5 1.5 0 1 0 -3 0zM611.8 327.4a1.5 1.5 0 1 0 3 0a1.5 1.5 0 1 0 -3 0zM595.3 317.4a1.5 1.5 0 1 0 3 0a1.5 1.5 0 1 0 -3 0zM560.2 320.7a1.5 1.5 0 1 0 3 0a1.5 1.5 0 1 0 -3 0zM627.1 355.2a1.5 1.5 0 1 0 3 0a1.5 1.5 0 1 0 -3 0zM620.3 342.1a1.5 1.5 0 1 0 3 0a1.5 1.5 0 1 0 -3 0zM571.9 317.7a1.5 1.5 0 1 0 3 0a1.5 1.5 0 1 0 -3 0zM635.3 361.6a1.5 1.5 0 1 0 3 0a1.5 1.5 0 1 0 -3 0zM602.1 337.7a1.5 1.5 0 1 0 3 0a1.5 1.5 0 1 0 -3 0zM593.5 329.7a1.5 1.5 0 1 0 3 0a1.5 1.5 0 1 0 -3 0zM639.1 361.1a1.5 1.5 0 1 0 3 0a1.5 1.5 0 1 0 -3 0zM549.2 302.0a1.5 1.5 0 1 0 3 0a1.5 1.5 0 1 0 -3 0zM608.3 343.9a1.5 1.5 0 1 0 3 0a1.5 1.5 0 1 0 -3 0zM583.9 321.2a1.5 1.5 0 1 0 3 0a1.5 1.5 0 1 0 -3 0zM566.0 326.1a1.5 1.5 0 1 0 3 0a1.5 1.5 0 1 0 -3 0zM628.7 335.6a1.5 1.5 0 1 0 3 0a1.5 1.5 0 1 0 -3 0zM602.6 349.7a1.5 1.5 0 1 0 3 0a1.5 1.5 0 1 0 -3 0zM557.6 305.9a1.5 1.5 0 1 0 3 0a1.5 1.5 0 1 0 -3 0zM573.4 311.7a1.5 1.5 0 1 0 3 0a1.5 1.5 0 1 0 -3 0zM611.8 334.9a1.5 1.5 0 1 0 3 0a1.5 1.5 0 1 0 -3 0zM635.8 351.3a1.5 1.5 0 1 0 3 0a1.5 1.5 0 1 0 -3 0zM539.1 281.6a1.5 1.5 0 1 0 3 0a1.5 1.5 0 1 0 -3 0zM596.7 340.1a1.5 1.5 0 1 0 3 0a1.5 1.5 0 1 0 -3 0zM580.6 320.1a1.5 1.5 0 1 0 3 0a1.5 1.5 0 1 0 -3 0zM545.7 296.3a1.5 1.5 0 1 0 3 0a1.5 1.5 0 1 0 -3 0zM586.1 327.5a1.5 1.5 0 1 0 3 0a1.5 1.5 0 1 0 -3 0zM549.4 305.6a1.5 1.5 0 1 0 3 0a1.5 1.5 0 1 0 -3 0zM576.6 304.8a1.5 1.5 0 1 0 3 0a1.5 1.5 0 1 0 -3 0zM631.7 358.0a1.5 1.5 0 1 0 3 0a1.5 1.5 0 1 0 -3 0zM603.5 338.2a1.5 1.5 0 1 0 3 0a1.5 1.5 0 1 0 -3 0zM610.3 340.6a1.5 1.5 0 1 0 3 0a1.5 1.5 0 1 0 -3 0zM605.7 337.1a1.5 1.5 0 1 0 3 0a1.5 1.5 0 1 0 -3 0zM599.4 329.6a1.5 1.5 0 1 0 3 0a1.5 1.5 0 1 0 -3 0zM615.2 343.0a1.5 1.5 0 1 0 3 0a1.5 1.5 0 1 0 -3 0zM560.7 303.5a1.5 1.5 0 1 0 3 0a1.5 1.5 0 1 0 -3 0zM581.2 318.6a1.5 1.5 0 1 0 3 0a1.5 1.5 0 1 0 -3 0zM612.2 334.6a1.5 1.5 0 1 0 3 0a1.5 1.5 0 1 0 -3 0zM571.9 301.0a1.5 1.5 0 1 0 3 0a1.5 1.5 0 1 0 -3 0zM579.3 326.6a1.5 1.5 0 1 0 3 0a1.5 1.5 0 1 0 -3 0zM621.3 329.2a1.5 1.5 0 1 0 3 0a1.5 1.5 0 1 0 -3 0zM629.7 354.3a1.5 1.5 0 1 0 3 0a1.5 1.5 0 1 0 -3 0zM575.0 309.7a1.5 1.5 0 1 0 3 0a1.5 1.5 0 1 0 -3 0zM569.7 311.2a1.5 1.5 0 1 0 3 0a1.5 1.5 0 1 0 -3 0zM605.5 337.7a1.5 1.5 0 1 0 3 0a1.5 1.5 0 1 0 -3 0zM597.5 348.5a1.5 1.5 0 1 0 3 0a1.5 1.5 0 1 0 -3 0zM573.4 299.7a1.5 1.5 0 1 0 3 0a1.5 1.5 0 1 0 -3 0zM605.8 342.3a1.5 1.5 0 1 0 3 0a1.5 1.5 0 1 0 -3 0zM604.7 342.0a1.5 1.5 0 1 0 3 0a1.5 1.5 0 1 0 -3 0zM592.7 316.9a1.5 1.5 0 1 0 3 0a1.5 1.5 0 1 0 -3 0zM625.4 329.4a1.5 1.5 0 1 0 3 0a1.5 1.5 0 1 0 -3 0zM611.5 322.8a1.5 1.5 0 1 0 3 0a1.5 1.5 0 1 0 -3 0zM616.8 335.3a1.5 1.5 0 1 0 3 0a1.5 1.5 0 1 0 -3 0zM618.7 336.0a1.5 1.5 0 1 0 3 0a1.5 1.5 0 1 0 -3 0zM572.3 326.7a1.5 1.5 0 1 0 3 0a1.5 1.5 0 1 0 -3 0zM598.9 329.2a1.5 1.5 0 1 0 3 0a1.5 1.5 0 1 0 -3 0zM592.6 325.5a1.5 1.5 0 1 0 3 0a1.5 1.5 0 1 0 -3 0zM576.2 321.2a1.5 1.5 0 1 0 3 0a1.5 1.5 0 1 0 -3 0zM597.3 327.5a1.5 1.5 0 1 0 3 0a1.5 1.5 0 1 0 -3 0zM597.1 343.6a1.5 1.5 0 1 0 3 0a1.5 1.5 0 1 0 -3 0zM589.3 316.4a1.5 1.5 0 1 0 3 0a1.5 1.5 0 1 0 -3 0zM578.3 305.9a1.5 1.5 0 1 0 3 0a1.5 1.5 0 1 0 -3 0zM611.9 351.2a1.5 1.5 0 1 0 3 0a1.5 1.5 0 1 0 -3 0zM549.9 299.0a1.5 1.5 0 1 0 3 0a1.5 1.5 0 1 0 -3 0zM611.8 324.3a1.5 1.5 0 1 0 3 0a1.5 1.5 0 1 0 -3 0zM591.0 322.0a1.5 1.5 0 1 0 3 0a1.5 1.5 0 1 0 -3 0zM597.8 339.9a1.5 1.5 0 1 0 3 0a1.5 1.5 0 1 0 -3 0zM633.7 344.5a1.5 1.5 0 1 0 3 0a1.5 1.5 0 1 0 -3 0zM546.5 281.0a1.5 1.5 0 1 0 3 0a1.5 1.5 0 1 0 -3 0zM568.6 322.3a1.5 1.5 0 1 0 3 0a1.5 1.5 0 1 0 -3 0zM607.2 335.7a1.5 1.5 0 1 0 3 0a1.5 1.5 0 1 0 -3 0zM575.2 323.5a1.5 1.5 0 1 0 3 0a1.5 1.5 0 1 0 -3 0zM580.3 322.0a1.5 1.5 0 1 0 3 0a1.5 1.5 0 1 0 -3 0zM579.6 319.3a1.5 1.5 0 1 0 3 0a1.5 1.5 0 1 0 -3 0zM596.2 335.7a1.5 1.5 0 1 0 3 0a1.5 1.5 0 1 0 -3 0zM608.1 316.8a1.5 1.5 0 1 0 3 0a1.5 1.5 0 1 0 -3 0zM583.4 322.7a1.5 1.5 0 1 0 3 0a1.5 1.5 0 1 0 -3 0zM596.4 331.0a1.5 1.5 0 1 0 3 0a1.5 1.5 0 1 0 -3 0zM602.0 322.4a1.5 1.5 0 1 0 3 0a1.5 1.5 0 1 0 -3 0zM573.5 315.0a1.5 1.5 0 1 0 3 0a1.5 1.5 0 1 0 -3 0zM571.6 315.8a1.5 1.5 0 1 0 3 0a1.5 1.5 0 1 0 -3 0zM641.0 348.2a1.5 1.5 0 1 0 3 0a1.5 1.5 0 1 0 -3 0zM569.0 322.0a1.5 1.5 0 1 0 3 0a1.5 1.5 0 1 0 -3 0zM622.4 338.5a1.5 1.5 0 1 0 3 0a1.5 1.5 0 1 0 -3 0zM592.6 317.3a1.5 1.5 0 1 0 3 0a1.5 1.5 0 1 0 -3 0zM628.5 343.1a1.5 1.5 0 1 0 3 0a1.5 1.5 0 1 0 -3 0zM574.4 317.3a1.5 1.5 0 1 0 3 0a1.5 1.5 0 1 0 -3 0zM604.1 334.2a1.5 1.5 0 1 0 3 0a1.5 1.5 0 1 0 -3 0zM599.3 347.3a1.5 1.5 0 1 0 3 0a1.5 1.5 0 1 0 -3 0zM585.0 323.5a1.5 1.5 0 1 0 3 0a1.5 1.5 0 1 0 -3 0zM598.8 328.1a1.5 1.5 0 1 0 3 0a1.5 1.5 0 1 0 -3 0zM571.1 305.5a1.5 1.5 0 1 0 3 0a1.5 1.5 0 1 0 -3 0zM588.8 323.3a1.5 1.5 0 1 0 3 0a1.5 1.5 0 1 0 -3 0zM580.6 323.2a1.5 1.5 0 1 0 3 0a1.5 1.5 0 1 0 -3 0zM610.3 345.9a1.5 1.5 0 1 0 3 0a1.5 1.5 0 1 0 -3 0zM588.5 324.9a1.5 1.5 0 1 0 3 0a1.5 1.5 0 1 0 -3 0zM555.1 302.4a1.5 1.5 0 1 0 3 0a1.5 1.5 0 1 0 -3 0zM581.3 308.6a1.5 1.5 0 1 0 3 0a1.5 1.5 0 1 0 -3 0zM588.3 324.2a1.5 1.5 0 1 0 3 0a1.5 1.5 0 1 0 -3 0zM567.7 316.2a1.5 1.5 0 1 0 3 0a1.5 1.5 0 1 0 -3 0zM625.0 348.1a1.5 1.5 0 1 0 3 0a1.5 1.5 0 1 0 -3 0zM601.2 336.9a1.5 1.5 0 1 0 3 0a1.5 1.5 0 1 0 -3 0zM612.4 341.6a1.5 1.5 0 1 0 3 0a1.5 1.5 0 1 0 -3 0zM571.2 334.4a1.5 1.5 0 1 0 3 0a1.5 1.5 0 1 0 -3 0zM580.6 334.5a1.5 1.5 0 1 0 3 0a1.5 1.5 0 1 0 -3 0zM616.7 353.2a1.5 1.5 0 1 0 3 0a1.5 1.5 0 1 0 -3 0zM554.1 298.6a1.5 1.5 0 1 0 3 0a1.5 1.5 0 1 0 -3 0zM600.3 332.5a1.5 1.5 0 1 0 3 0a1.5 1.5 0 1 0 -3 0zM593.1 325.9a1.5 1.5 0 1 0 3 0a1.5 1.5 0 1 0 -3 0zM578.0 307.0a1.5 1.5 0 1 0 3 0a1.5 1.5 0 1 0 -3 0zM593.1 337.1a1.5 1.5 0 1 0 3 0a1.5 1.5 0 1 0 -3 0zM563.2 298.0a1.5 1.5 0 1 0 3 0a1.5 1.5 0 1 0 -3 0zM596.6 325.9a1.5 1.5 0 1 0 3 0a1.5 1.5 0 1 0 -3 0zM559.6 313.1a1.5 1.5 0 1 0 3 0a1.5 1.5 0 1 0 -3 0zM558.0 291.5a1.5 1.5 0 1 0 3 0a1.5 1.5 0 1 0 -3 0zM626.8 361.6a1.5 1.5 0 1 0 3 0a1.5 1.5 0 1 0 -3 0zM572.8 325.2a1.5 1.5 0 1 0 3 0a1.5 1.5 0 1 0 -3 0zM536.5 294.0a1.5 1.5 0 1 0 3 0a1.5 1.5 0 1 0 -3 0zM615.9 337.7a1.5 1.5 0 1 0 3 0a1.5 1.5 0 1 0 -3 0zM571.0 315.3a1.5 1.5 0 1 0 3 0a1.5 1.5 0 1 0 -3 0zM589.4 327.8a1.5 1.5 0 1 0 3 0a1.5 1.5 0 1 0 -3 0zM614.7 341.5a1.5 1.5 0 1 0 3 0a1.5 1.5 0 1 0 -3 0zM599.9 307.7a1.5 1.5 0 1 0 3 0a1.5 1.5 0 1 0 -3 0zM635.1 340.6a1.5 1.5 0 1 0 3 0a1.5 1.5 0 1 0 -3 0zM587.6 322.8a1.5 1.5 0 1 0 3 0a1.5 1.5 0 1 0 -3 0zM606.2 345.7a1.5 1.5 0 1 0 3 0a1.5 1.5 0 1 0 -3 0zM564.9 306.6a1.5 1.5 0 1 0 3 0a1.5 1.5 0 1 0 -3 0zM595.0 339.4a1.5 1.5 0 1 0 3 0a1.5 1.5 0 1 0 -3 0zM630.2 348.5a1.5 1.5 0 1 0 3 0a1.5 1.5 0 1 0 -3 0zM603.8 330.6a1.5 1.5 0 1 0 3 0a1.5 1.5 0 1 0 -3 0zM595.0 332.3a1.5 1.5 0 1 0 3 0a1.5 1.5 0 1 0 -3 0zM540.0 291.9a1.5 1.5 0 1 0 3 0a1.5 1.5 0 1 0 -3 0zM581.2 323.0a1.5 1.5 0 1 0 3 0a1.5 1.5 0 1 0 -3 0zM557.7 310.6a1.5 1.5 0 1 0 3 0a1.5 1.5 0 1 0 -3 0zM610.9 324.0a1.5 1.5 0 1 0 3 0a1.5 1.5 0 1 0 -3 0zM571.8 308.7a1.5 1.5 0 1 0 3 0a1.5 1.5 0 1 0 -3 0zM600.2 334.6a1.5 1.5 0 1 0 3 0a1.5 1.5 0 1 0 -3 0zM565.1 317.1a1.5 1.5 0 1 0 3 0a1.5 1.5 0 1 0 -3 0zM639.4 354.5a1.5 1.5 0 1 0 3 0a1.5 1.5 0 1 0 -3 0zM560.7 301.8a1.5 1.5 0 1 0 3 0a1.5 1.5 0 1 0 -3 0zM594.4 320.2a1.5 1.5 0 1 0 3 0a1.5 1.5 0 1 0 -3 0zM658.6 354.3a1.5 1.5 0 1 0 3 0a1.5 1.5 0 1 0 -3 0zM596.4 325.1a1.5 1.5 0 1 0 3 0a1.5 1.5 0 1 0 -3 0zM568.4 322.4a1.5 1.5 0 1 0 3 0a1.5 1.5 0 1 0 -3 0zM606.7 316.8a1.5 1.5 0 1 0 3 0a1.5 1.5 0 1 0 -3 0zM616.4 331.0a1.5 1.5 0 1 0 3 0a1.5 1.5 0 1 0 -3 0zM613.3 332.1a1.5 1.5 0 1 0 3 0a1.5 1.5 0 1 0 -3 0zM540.1 281.8a1.5 1.5 0 1 0 3 0a1.5 1.5 0 1 0 -3 0zM596.5 343.3a1.5 1.5 0 1 0 3 0a1.5 1.5 0 1 0 -3 0zM536.0 295.3a1.5 1.5 0 1 0 3 0a1.5 1.5 0 1 0 -3 0zM639.8 361.2a1.5 1.5 0 1 0 3 0a1.5 1.5 0 1 0 -3 0zM592.7 316.0a1.5 1.5 0 1 0 3 0a1.5 1.5 0 1 0 -3 0zM579.0 329.6a1.5 1.5 0 1 0 3 0a1.5 1.5 0 1 0 -3 0zM608.2 339.8a1.5 1.5 0 1 0 3 0a1.5 1.5 0 1 0 -3 0zM603.5 319.6a1.5 1.5 0 1 0 3 0a1.5 1.5 0 1 0 -3 0zM560.3 300.9a1.5 1.5 0 1 0 3 0a1.5 1.5 0 1 0 -3 0zM632.8 355.7a1.5 1.5 0 1 0 3 0a1.5 1.5 0 1 0 -3 0zM584.6 304.5a1.5 1.5 0 1 0 3 0a1.5 1.5 0 1 0 -3 0zM545.5 310.1a1.5 1.5 0 1 0 3 0a1.5 1.5 0 1 0 -3 0zM627.1 344.3a1.5 1.5 0 1 0 3 0a1.5 1.5 0 1 0 -3 0zM630.5 352.8a1.5 1.5 0 1 0 3 0a1.5 1.5 0 1 0 -3 0zM623.3 341.4a1.5 1.5 0 1 0 3 0a1.5 1.5 0 1 0 -3 0zM605.1 337.4a1.5 1.5 0 1 0 3 0a1.5 1.5 0 1 0 -3 0zM567.9 319.4a1.5 1.5 0 1 0 3 0a1.5 1.5 0 1 0 -3 0zM615.1 339.1a1.5 1.5 0 1 0 3 0a1.5 1.5 0 1 0 -3 0zM639.0 368.2a1.5 1.5 0 1 0 3 0a1.5 1.5 0 1 0 -3 0zM612.0 334.2a1.5 1.5 0 1 0 3 0a1.5 1.5 0 1 0 -3 0zM632.3 354.8a1.5 1.5 0 1 0 3 0a1.5 1.5 0 1 0 -3 0zM570.9 304.9a1.5 1.5 0 1 0 3 0a1.5 1.5 0 1 0 -3 0zM617.3 346.6a1.5 1.5 0 1 0 3 0a1.5 1.5 0 1 0 -3 0zM615.2 347.4a1.5 1.5 0 1 0 3 0a1.5 1.5 0 1 0 -3 0zM552.4 298.3a1.5 1.5 0 1 0 3 0a1.5 1.5 0 1 0 -3 0zM548.8 288.3a1.5 1.5 0 1 0 3 0a1.5 1.5 0 1 0 -3 0zM572.3 333.8a1.5 1.5 0 1 0 3 0a1.5 1.5 0 1 0 -3 0zM593.1 326.2a1.5 1.5 0 1 0 3 0a1.5 1.5 0 1 0 -3 0zM602.7 327.5a1.5 1.5 0 1 0 3 0a1.5 1.5 0 1 0 -3 0zM585.1 335.7a1.5 1.5 0 1 0 3 0a1.5 1.5 0 1 0 -3 0zM589.3 333.2a1.5 1.5 0 1 0 3 0a1.5 1.5 0 1 0 -3 0zM588.1 318.2a1.5 1.5 0 1 0 3 0a1.5 1.5 0 1 0 -3 0zM593.3 335.2a1.5 1.5 0 1 0 3 0a1.5 1.5 0 1 0 -3 0zM606.1 341.4a1.5 1.5 0 1 0 3 0a1.5 1.5 0 1 0 -3 0zM603.9 318.0a1.5 1.5 0 1 0 3 0a1.5 1.5 0 1 0 -3 0zM589.6 334.0a1.5 1.5 0 1 0 3 0a1.5 1.5 0 1 0 -3 0zM597.7 338.3a1.5 1.5 0 1 0 3 0a1.5 1.5 0 1 0 -3 0zM579.3 340.4a1.5 1.5 0 1 0 3 0a1.5 1.5 0 1 0 -3 0zM611.7 349.2a1.5 1.5 0 1 0 3 0a1.5 1.5 0 1 0 -3 0zM577.9 329.4a1.5 1.5 0 1 0 3 0a1.5 1.5 0 1 0 -3 0zM633.6 336.6a1.5 1.5 0 1 0 3 0a1.5 1.5 0 1 0 -3 0zM590.4 314.3a1.5 1.5 0 1 0 3 0a1.5 1.5 0 1 0 -3 0zM598.1 342.3a1.5 1.5 0 1 0 3 0a1.5 1.5 0 1 0 -3 0zM571.3 295.4a1.5 1.5 0 1 0 3 0a1.5 1.5 0 1 0 -3 0zM582.1 313.3a1.5 1.5 0 1 0 3 0a1.5 1.5 0 1 0 -3 0zM595.3 330.4a1.5 1.5 0 1 0 3 0a1.5 1.5 0 1 0 -3 0zM591.5 318.9a1.5 1.5 0 1 0 3 0a1.5 1.5 0 1 0 -3 0zM574.9 312.5a1.5 1.5 0 1 0 3 0a1.5 1.5 0 1 0 -3 0zM560.9 314.5a1.5 1.5 0 1 0 3 0a1.5 1.5 0 1 0 -3 0zM592.1 343.2a1.5 1.5 0 1 0 3 0a1.5 1.5 0 1 0 -3 0zM595.0 337.1a1.5 1.5 0 1 0 3 0a1.5 1.5 0 1 0 -3 0zM605.3 335.0a1.5 1.5 0 1 0 3 0a1.5 1.5 0 1 0 -3 0zM623.4 349.6a1.5 1.5 0 1 0 3 0a1.5 1.5 0 1 0 -3 0zM582.9 328.0a1.5 1.5 0 1 0 3 0a1.5 1.5 0 1 0 -3 0zM539.2 284.7a1.5 1.5 0 1 0 3 0a1.5 1.5 0 1 0 -3 0zM587.3 333.7a1.5 1.5 0 1 0 3 0a1.5 1.5 0 1 0 -3 0zM543.1 287.9a1.5 1.5 0 1 0 3 0a1.5 1.5 0 1 0 -3 0zM557.6 309.8a1.5 1.5 0 1 0 3 0a1.5 1.5 0 1 0 -3 0zM617.8 341.8a1.5 1.5 0 1 0 3 0a1.5 1.5 0 1 0 -3 0zM605.8 345.8a1.5 1.5 0 1 0 3 0a1.5 1.5 0 1 0 -3 0zM574.3 315.8a1.5 1.5 0 1 0 3 0a1.5 1.5 0 1 0 -3 0zM574.5 323.2a1.5 1.5 0 1 0 3 0a1.5 1.5 0 1 0 -3 0zM588.7 341.0a1.5 1.5 0 1 0 3 0a1.5 1.5 0 1 0 -3 0zM545.4 297.9a1.5 1.5 0 1 0 3 0a1.5 1.5 0 1 0 -3 0zM603.6 334.4a1.5 1.5 0 1 0 3 0a1.5 1.5 0 1 0 -3 0zM582.0 312.8a1.5 1.5 0 1 0 3 0a1.5 1.5 0 1 0 -3 0zM639.0 353.3a1.5 1.5 0 1 0 3 0a1.5 1.5 0 1 0 -3 0zM563.5 318.4a1.5 1.5 0 1 0 3 0a1.5 1.5 0 1 0 -3 0zM617.2 348.1a1.5 1.5 0 1 0 3 0a1.5 1.5 0 1 0 -3 0zM573.3 338.3a1.5 1.5 0 1 0 3 0a1.5 1.5 0 1 0 -3 0zM617.6 353.2a1.5 1.5 0 1 0 3 0a1.5 1.5 0 1 0 -3 0zM565.6 298.2a1.5 1.5 0 1 0 3 0a1.5 1.5 0 1 0 -3 0zM610.2 323.9a1.5 1.5 0 1 0 3 0a1.5 1.5 0 1 0 -3 0zM579.6 311.9a1.5 1.5 0 1 0 3 0a1.5 1.5 0 1 0 -3 0zM569.6 310.0a1.5 1.5 0 1 0 3 0a1.5 1.5 0 1 0 -3 0zM587.2 318.2a1.5 1.5 0 1 0 3 0a1.5 1.5 0 1 0 -3 0zM603.5 329.4a1.5 1.5 0 1 0 3 0a1.5 1.5 0 1 0 -3 0zM601.6 348.9a1.5 1.5 0 1 0 3 0a1.5 1.5 0 1 0 -3 0zM632.2 359.9a1.5 1.5 0 1 0 3 0a1.5 1.5 0 1 0 -3 0zM612.5 328.4a1.5 1.5 0 1 0 3 0a1.5 1.5 0 1 0 -3 0zM580.7 317.4a1.5 1.5 0 1 0 3 0a1.5 1.5 0 1 0 -3 0zM539.2 296.8a1.5 1.5 0 1 0 3 0a1.5 1.5 0 1 0 -3 0zM581.1 323.5a1.5 1.5 0 1 0 3 0a1.5 1.5 0 1 0 -3 0zM607.4 341.4a1.5 1.5 0 1 0 3 0a1.5 1.5 0 1 0 -3 0zM556.3 313.1a1.5 1.5 0 1 0 3 0a1.5 1.5 0 1 0 -3 0zM560.3 325.0a1.5 1.5 0 1 0 3 0a1.5 1.5 0 1 0 -3 0zM594.9 327.1a1.5 1.5 0 1 0 3 0a1.5 1.5 0 1 0 -3 0zM583.6 325.7a1.5 1.5 0 1 0 3 0a1.5 1.5 0 1 0 -3 0zM632.4 353.9a1.5 1.5 0 1 0 3 0a1.5 1.5 0 1 0 -3 0zM599.5 315.4a1.5 1.5 0 1 0 3 0a1.5 1.5 0 1 0 -3 0zM605.0 329.3a1.5 1.5 0 1 0 3 0a1.5 1.5 0 1 0 -3 0zM636.8 361.2a1.5 1.5 0 1 0 3 0a1.5 1.5 0 1 0 -3 0zM578.1 312.6a1.5 1.5 0 1 0 3 0a1.5 1.5 0 1 0 -3 0zM591.1 340.2a1.5 1.5 0 1 0 3 0a1.5 1.5 0 1 0 -3 0zM565.2 300.3a1.5 1.5 0 1 0 3 0a1.5 1.5 0 1 0 -3 0zM597.9 327.9a1.5 1.5 0 1 0 3 0a1.5 1.5 0 1 0 -3 0zM618.1 344.8a1.5 1.5 0 1 0 3 0a1.5 1.5 0 1 0 -3 0zM626.8 343.1a1.5 1.5 0 1 0 3 0a1.5 1.5 0 1 0 -3 0zM590.2 312.0a1.5 1.5 0 1 0 3 0a1.5 1.5 0 1 0 -3 0zM572.6 319.0a1.5 1.5 0 1 0 3 0a1.5 1.5 0 1 0 -3 0zM571.2 323.0a1.5 1.5 0 1 0 3 0a1.5 1.5 0 1 0 -3 0zM554.8 283.8a1.5 1.5 0 1 0 3 0a1.5 1.5 0 1 0 -3 0zM594.3 328.1a1.5 1.5 0 1 0 3 0a1.5 1.5 0 1 0 -3 0zM626.7 334.3a1.5 1.5 0 1 0 3 0a1.5 1.5 0 1 0 -3 0zM627.8 355.0a1.5 1.5 0 1 0 3 0a1.5 1.5 0 1 0 -3 0zM549.2 294.1a1.5 1.5 0 1 0 3 0a1.5 1.5 0 1 0 -3 0zM599.8 334.2a1.5 1.5 0 1 0 3 0a1.5 1.5 0 1 0 -3 0zM558.3 312.1a1.5 1.5 0 1 0 3 0a1.5 1.5 0 1 0 -3 0zM611.6 324.5a1.5 1.5 0 1 0 3 0a1.5 1.5 0 1 0 -3 0zM611.7 335.8a1.5 1.5 0 1 0 3 0a1.5 1.5 0 1 0 -3 0zM595.7 348.0a1.5 1.5 0 1 0 3 0a1.5 1.5 0 1 0 -3 0zM612.8 341.9a1.5 1.5 0 1 0 3 0a1.5 1.5 0 1 0 -3 0z" fill="#f08009"/>
<line x1="535.4" y1="291.7" x2="665.3" y2="371.8" stroke="#4a5fa8" stroke-width="1.1"/>
<text x="-0.7" y="12.5" style="font-family:'Liberation Sans', sans-serif;font-size:16.5px;font-weight:bold;fill:#000">a</text>
<text x="441.1" y="12.5" style="font-family:'Liberation Sans', sans-serif;font-size:16.5px;font-weight:bold;fill:#000">b</text>
<text x="-0.5" y="252.5" style="font-family:'Liberation Sans', sans-serif;font-size:16.5px;font-weight:bold;fill:#000">c</text>
<text x="252.3" y="252.5" style="font-family:'Liberation Sans', sans-serif;font-size:16.5px;font-weight:bold;fill:#000">d</text>
<text x="478.1" y="252.5" style="font-family:'Liberation Sans', sans-serif;font-size:16.5px;font-weight:bold;fill:#000">e</text>
</svg>
</body></html>
